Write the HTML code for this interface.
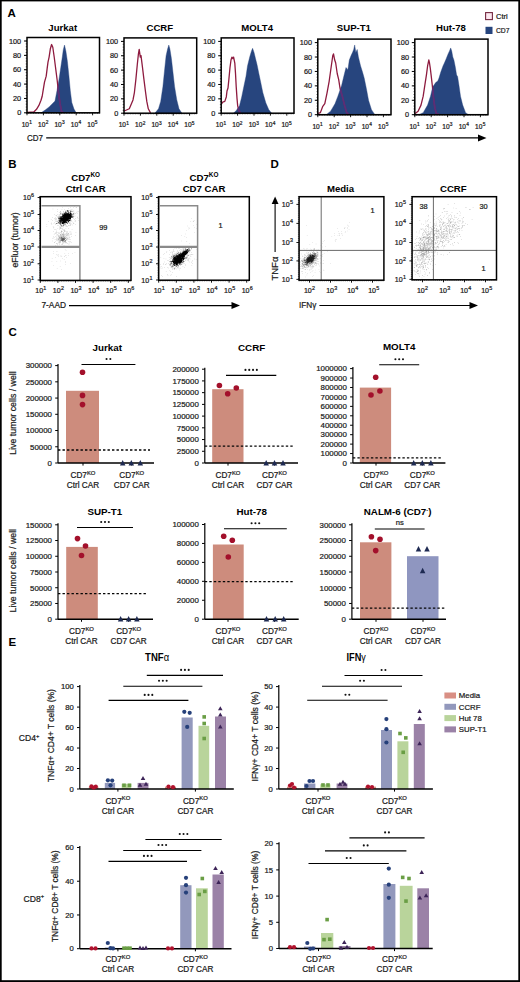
<!DOCTYPE html>
<html><head><meta charset="utf-8"><title>Figure</title>
<style>html,body{margin:0;padding:0;background:#fff;overflow:hidden;}svg{display:block;}text{font-family:"Liberation Sans",sans-serif;stroke:currentColor;} text:not([font-weight]){stroke:#1a1a1a;stroke-width:0.22px;} text[font-weight]{stroke:none;}</style>
</head><body><svg width="520" height="982" viewBox="0 0 520 982" font-family="Liberation Sans, sans-serif"><rect x="0" y="0" width="520" height="1.4" fill="#000"/>
<rect x="0" y="0" width="1.7" height="982" fill="#000"/>
<rect x="518.3" y="0" width="1.7" height="982" fill="#000"/>
<rect x="0" y="980.2" width="520" height="1.8" fill="#000"/>
<text x="7.6" y="17" font-size="11.5" text-anchor="start" font-weight="bold" fill="#000" >A</text>
<clipPath id="nv0"><path d="M41.1,112.8L45.5,109.79L49.1,106.88L52.8,103.26L55,101.05L56.4,93.72L58.6,81.98L60.8,67.32L62.3,56.98L63.3,49.65L64.5,45.03L65.9,51.15L67.4,61.39L68.8,74.65L70.3,90.71L71.8,102.46L74,109.09L76.2,112.8Z"/></clipPath>
<path d="M41.1,112.8L45.5,109.79L49.1,106.88L52.8,103.26L55,101.05L56.4,93.72L58.6,81.98L60.8,67.32L62.3,56.98L63.3,49.65L64.5,45.03L65.9,51.15L67.4,61.39L68.8,74.65L70.3,90.71L71.8,102.46L74,109.09L76.2,112.8Z" fill="#27457e" stroke="#27457e" stroke-width="0.4"/>
<path d="M27.2,112.5L33.8,112L36.5,109.29L38.9,105.47L41,100.25L42.2,96.23L43.5,88.2L44.5,82.18L46.2,76.15L47.2,68.12L48,62.1L49.1,57.08L50.3,49.04L51.6,44.53L52.8,47.24L54.2,56.98L55.7,68.72L57.2,80.47L58.6,93.72L60.1,103.96L61.5,111.29L63,112.5" fill="none" stroke="#8e1b3f" stroke-width="1.3" stroke-linejoin="round"/>
<path d="M27.2,112.5L33.8,112L36.5,109.29L38.9,105.47L41,100.25L42.2,96.23L43.5,88.2L44.5,82.18L46.2,76.15L47.2,68.12L48,62.1L49.1,57.08L50.3,49.04L51.6,44.53L52.8,47.24L54.2,56.98L55.7,68.72L57.2,80.47L58.6,93.72L60.1,103.96L61.5,111.29L63,112.5" fill="none" stroke="#5a2f78" stroke-width="1.8" stroke-linejoin="round" clip-path="url(#nv0)"/>
<rect x="27" y="37.5" width="72.5" height="75.3" fill="none" stroke="#000" stroke-width="1.5"/>
<text x="62.75" y="31.3" font-size="9.6" text-anchor="middle" font-weight="bold" fill="#000" >Jurkat</text>
<text x="21.2" y="43.6" font-size="7.3" text-anchor="end" fill="#1a1a1a" >100</text>
<text x="21.2" y="57.96" font-size="7.3" text-anchor="end" fill="#1a1a1a" >80</text>
<text x="21.2" y="72.32" font-size="7.3" text-anchor="end" fill="#1a1a1a" >60</text>
<text x="21.2" y="86.68" font-size="7.3" text-anchor="end" fill="#1a1a1a" >40</text>
<text x="21.2" y="101.04" font-size="7.3" text-anchor="end" fill="#1a1a1a" >20</text>
<text x="21.2" y="115.4" font-size="7.3" text-anchor="end" fill="#1a1a1a" >0</text>
<path d="M24 41L27 41M24 55.36L27 55.36M24 69.72L27 69.72M24 84.08L27 84.08M24 98.44L27 98.44M24 112.8L27 112.8" stroke="#000" stroke-width="1" fill="none"/>
<path d="M25.7 41L27 41M25.7 43.87L27 43.87M25.7 46.74L27 46.74M25.7 49.62L27 49.62M25.7 52.49L27 52.49M25.7 55.36L27 55.36M25.7 58.23L27 58.23M25.7 61.1L27 61.1M25.7 63.98L27 63.98M25.7 66.85L27 66.85M25.7 69.72L27 69.72M25.7 72.59L27 72.59M25.7 75.46L27 75.46M25.7 78.34L27 78.34M25.7 81.21L27 81.21M25.7 84.08L27 84.08M25.7 86.95L27 86.95M25.7 89.82L27 89.82M25.7 92.7L27 92.7M25.7 95.57L27 95.57M25.7 98.44L27 98.44M25.7 101.31L27 101.31M25.7 104.18L27 104.18M25.7 107.06L27 107.06M25.7 109.93L27 109.93M25.7 112.8L27 112.8" stroke="#000" stroke-width="0.6" fill="none"/>
<text x="26.8" y="127" font-size="6.6" text-anchor="middle" fill="#1a1a1a" >10<tspan font-size="4.8" dx="0.25" dy="-2.77">1</tspan></text>
<text x="43.2" y="127" font-size="6.6" text-anchor="middle" fill="#1a1a1a" >10<tspan font-size="4.8" dx="0.25" dy="-2.77">2</tspan></text>
<text x="59.6" y="127" font-size="6.6" text-anchor="middle" fill="#1a1a1a" >10<tspan font-size="4.8" dx="0.25" dy="-2.77">3</tspan></text>
<text x="76" y="127" font-size="6.6" text-anchor="middle" fill="#1a1a1a" >10<tspan font-size="4.8" dx="0.25" dy="-2.77">4</tspan></text>
<text x="92.4" y="127" font-size="6.6" text-anchor="middle" fill="#1a1a1a" >10<tspan font-size="4.8" dx="0.25" dy="-2.77">5</tspan></text>
<path d="M27 112.8L27 115.3M43.4 112.8L43.4 115.3M59.8 112.8L59.8 115.3M76.2 112.8L76.2 115.3M92.6 112.8L92.6 115.3" stroke="#000" stroke-width="0.9" fill="none"/>
<path d="M27 112.8L27 114M28.64 112.8L28.64 114M30.28 112.8L30.28 114M31.92 112.8L31.92 114M33.56 112.8L33.56 114M35.2 112.8L35.2 114M36.84 112.8L36.84 114M38.48 112.8L38.48 114M40.12 112.8L40.12 114M41.76 112.8L41.76 114M43.4 112.8L43.4 114M45.04 112.8L45.04 114M46.68 112.8L46.68 114M48.32 112.8L48.32 114M49.96 112.8L49.96 114M51.6 112.8L51.6 114M53.24 112.8L53.24 114M54.88 112.8L54.88 114M56.52 112.8L56.52 114M58.16 112.8L58.16 114M59.8 112.8L59.8 114M61.44 112.8L61.44 114M63.08 112.8L63.08 114M64.72 112.8L64.72 114M66.36 112.8L66.36 114M68 112.8L68 114M69.64 112.8L69.64 114M71.28 112.8L71.28 114M72.92 112.8L72.92 114M74.56 112.8L74.56 114M76.2 112.8L76.2 114M77.84 112.8L77.84 114M79.48 112.8L79.48 114M81.12 112.8L81.12 114M82.76 112.8L82.76 114M84.4 112.8L84.4 114M86.04 112.8L86.04 114M87.68 112.8L87.68 114M89.32 112.8L89.32 114M90.96 112.8L90.96 114M92.6 112.8L92.6 114M94.24 112.8L94.24 114M95.88 112.8L95.88 114M97.52 112.8L97.52 114M99.16 112.8L99.16 114" stroke="#000" stroke-width="0.5" fill="none"/>
<clipPath id="nv1"><path d="M154.9,113.2L158.5,108.76L160.7,101.39L162.9,86.65L164.7,68.89L166.1,55.66L167.6,49L168.8,45.07L169.9,49L171.4,58.59L172.9,71.81L174.6,86.65L176.8,99.88L179,108.76L181.9,113.2Z"/></clipPath>
<path d="M154.9,113.2L158.5,108.76L160.7,101.39L162.9,86.65L164.7,68.89L166.1,55.66L167.6,49L168.8,45.07L169.9,49L171.4,58.59L172.9,71.81L174.6,86.65L176.8,99.88L179,108.76L181.9,113.2Z" fill="#27457e" stroke="#27457e" stroke-width="0.4"/>
<path d="M124.2,110.98L129.3,108.76L133,99.88L134.4,92.51L135.9,79.18L137.3,64.45L138.4,54.15L139.2,49.41L140.3,57.08L141,55.66L142.5,67.47L143.9,79.18L145.4,90.99L146.8,101.39L148.3,108.76L150.5,112.9" fill="none" stroke="#8e1b3f" stroke-width="1.3" stroke-linejoin="round"/>
<path d="M124.2,110.98L129.3,108.76L133,99.88L134.4,92.51L135.9,79.18L137.3,64.45L138.4,54.15L139.2,49.41L140.3,57.08L141,55.66L142.5,67.47L143.9,79.18L145.4,90.99L146.8,101.39L148.3,108.76L150.5,112.9" fill="none" stroke="#5a2f78" stroke-width="1.8" stroke-linejoin="round" clip-path="url(#nv1)"/>
<rect x="124" y="37.9" width="72.7" height="75.3" fill="none" stroke="#000" stroke-width="1.5"/>
<text x="159.85" y="31.3" font-size="9.6" text-anchor="middle" font-weight="bold" fill="#000" >CCRF</text>
<text x="118.2" y="44" font-size="7.3" text-anchor="end" fill="#1a1a1a" >100</text>
<text x="118.2" y="58.36" font-size="7.3" text-anchor="end" fill="#1a1a1a" >80</text>
<text x="118.2" y="72.72" font-size="7.3" text-anchor="end" fill="#1a1a1a" >60</text>
<text x="118.2" y="87.08" font-size="7.3" text-anchor="end" fill="#1a1a1a" >40</text>
<text x="118.2" y="101.44" font-size="7.3" text-anchor="end" fill="#1a1a1a" >20</text>
<text x="118.2" y="115.8" font-size="7.3" text-anchor="end" fill="#1a1a1a" >0</text>
<path d="M121 41.4L124 41.4M121 55.76L124 55.76M121 70.12L124 70.12M121 84.48L124 84.48M121 98.84L124 98.84M121 113.2L124 113.2" stroke="#000" stroke-width="1" fill="none"/>
<path d="M122.7 41.4L124 41.4M122.7 44.27L124 44.27M122.7 47.14L124 47.14M122.7 50.02L124 50.02M122.7 52.89L124 52.89M122.7 55.76L124 55.76M122.7 58.63L124 58.63M122.7 61.5L124 61.5M122.7 64.38L124 64.38M122.7 67.25L124 67.25M122.7 70.12L124 70.12M122.7 72.99L124 72.99M122.7 75.86L124 75.86M122.7 78.74L124 78.74M122.7 81.61L124 81.61M122.7 84.48L124 84.48M122.7 87.35L124 87.35M122.7 90.22L124 90.22M122.7 93.1L124 93.1M122.7 95.97L124 95.97M122.7 98.84L124 98.84M122.7 101.71L124 101.71M122.7 104.58L124 104.58M122.7 107.46L124 107.46M122.7 110.33L124 110.33M122.7 113.2L124 113.2" stroke="#000" stroke-width="0.6" fill="none"/>
<text x="123.8" y="127.4" font-size="6.6" text-anchor="middle" fill="#1a1a1a" >10<tspan font-size="4.8" dx="0.25" dy="-2.77">1</tspan></text>
<text x="140.2" y="127.4" font-size="6.6" text-anchor="middle" fill="#1a1a1a" >10<tspan font-size="4.8" dx="0.25" dy="-2.77">2</tspan></text>
<text x="156.6" y="127.4" font-size="6.6" text-anchor="middle" fill="#1a1a1a" >10<tspan font-size="4.8" dx="0.25" dy="-2.77">3</tspan></text>
<text x="173" y="127.4" font-size="6.6" text-anchor="middle" fill="#1a1a1a" >10<tspan font-size="4.8" dx="0.25" dy="-2.77">4</tspan></text>
<text x="189.4" y="127.4" font-size="6.6" text-anchor="middle" fill="#1a1a1a" >10<tspan font-size="4.8" dx="0.25" dy="-2.77">5</tspan></text>
<path d="M124 113.2L124 115.7M140.4 113.2L140.4 115.7M156.8 113.2L156.8 115.7M173.2 113.2L173.2 115.7M189.6 113.2L189.6 115.7" stroke="#000" stroke-width="0.9" fill="none"/>
<path d="M124 113.2L124 114.4M125.64 113.2L125.64 114.4M127.28 113.2L127.28 114.4M128.92 113.2L128.92 114.4M130.56 113.2L130.56 114.4M132.2 113.2L132.2 114.4M133.84 113.2L133.84 114.4M135.48 113.2L135.48 114.4M137.12 113.2L137.12 114.4M138.76 113.2L138.76 114.4M140.4 113.2L140.4 114.4M142.04 113.2L142.04 114.4M143.68 113.2L143.68 114.4M145.32 113.2L145.32 114.4M146.96 113.2L146.96 114.4M148.6 113.2L148.6 114.4M150.24 113.2L150.24 114.4M151.88 113.2L151.88 114.4M153.52 113.2L153.52 114.4M155.16 113.2L155.16 114.4M156.8 113.2L156.8 114.4M158.44 113.2L158.44 114.4M160.08 113.2L160.08 114.4M161.72 113.2L161.72 114.4M163.36 113.2L163.36 114.4M165 113.2L165 114.4M166.64 113.2L166.64 114.4M168.28 113.2L168.28 114.4M169.92 113.2L169.92 114.4M171.56 113.2L171.56 114.4M173.2 113.2L173.2 114.4M174.84 113.2L174.84 114.4M176.48 113.2L176.48 114.4M178.12 113.2L178.12 114.4M179.76 113.2L179.76 114.4M181.4 113.2L181.4 114.4M183.04 113.2L183.04 114.4M184.68 113.2L184.68 114.4M186.32 113.2L186.32 114.4M187.96 113.2L187.96 114.4M189.6 113.2L189.6 114.4M191.24 113.2L191.24 114.4M192.88 113.2L192.88 114.4M194.52 113.2L194.52 114.4M196.16 113.2L196.16 114.4" stroke="#000" stroke-width="0.5" fill="none"/>
<clipPath id="nv2"><path d="M233.6,113.2L236.5,110.17L239.5,105.83L241.7,96.95L243.8,86.65L246,76.26L247.5,65.96L249.7,57.08L251.4,51.22L252.6,48.3L254.1,52.64L255.5,58.59L257,64.45L258.8,73.33L260.7,82.21L262.8,92.51L265.8,102.8L268.7,109.47L271.6,113.2Z"/></clipPath>
<path d="M233.6,113.2L236.5,110.17L239.5,105.83L241.7,96.95L243.8,86.65L246,76.26L247.5,65.96L249.7,57.08L251.4,51.22L252.6,48.3L254.1,52.64L255.5,58.59L257,64.45L258.8,73.33L260.7,82.21L262.8,92.51L265.8,102.8L268.7,109.47L271.6,113.2Z" fill="#27457e" stroke="#27457e" stroke-width="0.4"/>
<path d="M221.2,104.32L222.7,102.1L224.8,101.39L226.3,96.95L227,90.99L228,88.07L228.9,79.18L230,67.47L231,60L231.9,57.08L232.9,58.59L233.6,57.08L234.8,63.03L235.5,73.33L236.2,86.65L237,98.36L237.7,105.83L238.7,110.17L240.2,112.9" fill="none" stroke="#8e1b3f" stroke-width="1.3" stroke-linejoin="round"/>
<path d="M221.2,104.32L222.7,102.1L224.8,101.39L226.3,96.95L227,90.99L228,88.07L228.9,79.18L230,67.47L231,60L231.9,57.08L232.9,58.59L233.6,57.08L234.8,63.03L235.5,73.33L236.2,86.65L237,98.36L237.7,105.83L238.7,110.17L240.2,112.9" fill="none" stroke="#5a2f78" stroke-width="1.8" stroke-linejoin="round" clip-path="url(#nv2)"/>
<rect x="221.2" y="37.9" width="72.8" height="75.3" fill="none" stroke="#000" stroke-width="1.5"/>
<text x="257.1" y="31.3" font-size="9.6" text-anchor="middle" font-weight="bold" fill="#000" >MOLT4</text>
<text x="215.4" y="44" font-size="7.3" text-anchor="end" fill="#1a1a1a" >100</text>
<text x="215.4" y="58.36" font-size="7.3" text-anchor="end" fill="#1a1a1a" >80</text>
<text x="215.4" y="72.72" font-size="7.3" text-anchor="end" fill="#1a1a1a" >60</text>
<text x="215.4" y="87.08" font-size="7.3" text-anchor="end" fill="#1a1a1a" >40</text>
<text x="215.4" y="101.44" font-size="7.3" text-anchor="end" fill="#1a1a1a" >20</text>
<text x="215.4" y="115.8" font-size="7.3" text-anchor="end" fill="#1a1a1a" >0</text>
<path d="M218.2 41.4L221.2 41.4M218.2 55.76L221.2 55.76M218.2 70.12L221.2 70.12M218.2 84.48L221.2 84.48M218.2 98.84L221.2 98.84M218.2 113.2L221.2 113.2" stroke="#000" stroke-width="1" fill="none"/>
<path d="M219.9 41.4L221.2 41.4M219.9 44.27L221.2 44.27M219.9 47.14L221.2 47.14M219.9 50.02L221.2 50.02M219.9 52.89L221.2 52.89M219.9 55.76L221.2 55.76M219.9 58.63L221.2 58.63M219.9 61.5L221.2 61.5M219.9 64.38L221.2 64.38M219.9 67.25L221.2 67.25M219.9 70.12L221.2 70.12M219.9 72.99L221.2 72.99M219.9 75.86L221.2 75.86M219.9 78.74L221.2 78.74M219.9 81.61L221.2 81.61M219.9 84.48L221.2 84.48M219.9 87.35L221.2 87.35M219.9 90.22L221.2 90.22M219.9 93.1L221.2 93.1M219.9 95.97L221.2 95.97M219.9 98.84L221.2 98.84M219.9 101.71L221.2 101.71M219.9 104.58L221.2 104.58M219.9 107.46L221.2 107.46M219.9 110.33L221.2 110.33M219.9 113.2L221.2 113.2" stroke="#000" stroke-width="0.6" fill="none"/>
<text x="221" y="127.4" font-size="6.6" text-anchor="middle" fill="#1a1a1a" >10<tspan font-size="4.8" dx="0.25" dy="-2.77">1</tspan></text>
<text x="237.4" y="127.4" font-size="6.6" text-anchor="middle" fill="#1a1a1a" >10<tspan font-size="4.8" dx="0.25" dy="-2.77">2</tspan></text>
<text x="253.8" y="127.4" font-size="6.6" text-anchor="middle" fill="#1a1a1a" >10<tspan font-size="4.8" dx="0.25" dy="-2.77">3</tspan></text>
<text x="270.2" y="127.4" font-size="6.6" text-anchor="middle" fill="#1a1a1a" >10<tspan font-size="4.8" dx="0.25" dy="-2.77">4</tspan></text>
<text x="286.6" y="127.4" font-size="6.6" text-anchor="middle" fill="#1a1a1a" >10<tspan font-size="4.8" dx="0.25" dy="-2.77">5</tspan></text>
<path d="M221.2 113.2L221.2 115.7M237.6 113.2L237.6 115.7M254 113.2L254 115.7M270.4 113.2L270.4 115.7M286.8 113.2L286.8 115.7" stroke="#000" stroke-width="0.9" fill="none"/>
<path d="M221.2 113.2L221.2 114.4M222.84 113.2L222.84 114.4M224.48 113.2L224.48 114.4M226.12 113.2L226.12 114.4M227.76 113.2L227.76 114.4M229.4 113.2L229.4 114.4M231.04 113.2L231.04 114.4M232.68 113.2L232.68 114.4M234.32 113.2L234.32 114.4M235.96 113.2L235.96 114.4M237.6 113.2L237.6 114.4M239.24 113.2L239.24 114.4M240.88 113.2L240.88 114.4M242.52 113.2L242.52 114.4M244.16 113.2L244.16 114.4M245.8 113.2L245.8 114.4M247.44 113.2L247.44 114.4M249.08 113.2L249.08 114.4M250.72 113.2L250.72 114.4M252.36 113.2L252.36 114.4M254 113.2L254 114.4M255.64 113.2L255.64 114.4M257.28 113.2L257.28 114.4M258.92 113.2L258.92 114.4M260.56 113.2L260.56 114.4M262.2 113.2L262.2 114.4M263.84 113.2L263.84 114.4M265.48 113.2L265.48 114.4M267.12 113.2L267.12 114.4M268.76 113.2L268.76 114.4M270.4 113.2L270.4 114.4M272.04 113.2L272.04 114.4M273.68 113.2L273.68 114.4M275.32 113.2L275.32 114.4M276.96 113.2L276.96 114.4M278.6 113.2L278.6 114.4M280.24 113.2L280.24 114.4M281.88 113.2L281.88 114.4M283.52 113.2L283.52 114.4M285.16 113.2L285.16 114.4M286.8 113.2L286.8 114.4M288.44 113.2L288.44 114.4M290.08 113.2L290.08 114.4M291.72 113.2L291.72 114.4M293.36 113.2L293.36 114.4" stroke="#000" stroke-width="0.5" fill="none"/>
<clipPath id="nv3"><path d="M326.2,114.7L330.6,111.2L335,103.68L337.9,96.16L341.6,85.55L344.5,73.5L346,67.53L347.9,69.8L349.3,60.01L351.1,55.48L352.5,52.49L353.7,49.51L354.7,44.98L355.8,52.49L357.2,49.51L358.4,57.03L360.6,65.99L362.5,72.06L364.2,78.04L366.4,88.64L368.6,100.59L371.5,109.65L374.5,114.19L375.9,114.7Z"/></clipPath>
<path d="M326.2,114.7L330.6,111.2L335,103.68L337.9,96.16L341.6,85.55L344.5,73.5L346,67.53L347.9,69.8L349.3,60.01L351.1,55.48L352.5,52.49L353.7,49.51L354.7,44.98L355.8,52.49L357.2,49.51L358.4,57.03L360.6,65.99L362.5,72.06L364.2,78.04L366.4,88.64L368.6,100.59L371.5,109.65L374.5,114.19L375.9,114.7Z" fill="#27457e" stroke="#27457e" stroke-width="0.4"/>
<path d="M318.2,113.46L320.4,112.64L322.6,106.67L324.8,103.68L327,93.07L329.2,81.02L331.3,65.99L332.8,55.48L333.5,53.94L334.7,60.01L335.7,63L337.2,73.5L338.7,79.58L340.1,88.64L342.3,96.16L344.5,105.12L346.7,112.64L348.9,114.4" fill="none" stroke="#8e1b3f" stroke-width="1.3" stroke-linejoin="round"/>
<path d="M318.2,113.46L320.4,112.64L322.6,106.67L324.8,103.68L327,93.07L329.2,81.02L331.3,65.99L332.8,55.48L333.5,53.94L334.7,60.01L335.7,63L337.2,73.5L338.7,79.58L340.1,88.64L342.3,96.16L344.5,105.12L346.7,112.64L348.9,114.4" fill="none" stroke="#5a2f78" stroke-width="1.8" stroke-linejoin="round" clip-path="url(#nv3)"/>
<rect x="317.8" y="39.1" width="73.2" height="75.6" fill="none" stroke="#000" stroke-width="1.5"/>
<text x="353.9" y="31.3" font-size="9.6" text-anchor="middle" font-weight="bold" fill="#000" >SUP-T1</text>
<text x="312" y="45.2" font-size="7.3" text-anchor="end" fill="#1a1a1a" >100</text>
<text x="312" y="59.62" font-size="7.3" text-anchor="end" fill="#1a1a1a" >80</text>
<text x="312" y="74.04" font-size="7.3" text-anchor="end" fill="#1a1a1a" >60</text>
<text x="312" y="88.46" font-size="7.3" text-anchor="end" fill="#1a1a1a" >40</text>
<text x="312" y="102.88" font-size="7.3" text-anchor="end" fill="#1a1a1a" >20</text>
<text x="312" y="117.3" font-size="7.3" text-anchor="end" fill="#1a1a1a" >0</text>
<path d="M314.8 42.6L317.8 42.6M314.8 57.02L317.8 57.02M314.8 71.44L317.8 71.44M314.8 85.86L317.8 85.86M314.8 100.28L317.8 100.28M314.8 114.7L317.8 114.7" stroke="#000" stroke-width="1" fill="none"/>
<path d="M316.5 42.6L317.8 42.6M316.5 45.48L317.8 45.48M316.5 48.37L317.8 48.37M316.5 51.25L317.8 51.25M316.5 54.14L317.8 54.14M316.5 57.02L317.8 57.02M316.5 59.9L317.8 59.9M316.5 62.79L317.8 62.79M316.5 65.67L317.8 65.67M316.5 68.56L317.8 68.56M316.5 71.44L317.8 71.44M316.5 74.32L317.8 74.32M316.5 77.21L317.8 77.21M316.5 80.09L317.8 80.09M316.5 82.98L317.8 82.98M316.5 85.86L317.8 85.86M316.5 88.74L317.8 88.74M316.5 91.63L317.8 91.63M316.5 94.51L317.8 94.51M316.5 97.4L317.8 97.4M316.5 100.28L317.8 100.28M316.5 103.16L317.8 103.16M316.5 106.05L317.8 106.05M316.5 108.93L317.8 108.93M316.5 111.82L317.8 111.82M316.5 114.7L317.8 114.7" stroke="#000" stroke-width="0.6" fill="none"/>
<text x="317.6" y="128.9" font-size="6.6" text-anchor="middle" fill="#1a1a1a" >10<tspan font-size="4.8" dx="0.25" dy="-2.77">1</tspan></text>
<text x="334" y="128.9" font-size="6.6" text-anchor="middle" fill="#1a1a1a" >10<tspan font-size="4.8" dx="0.25" dy="-2.77">2</tspan></text>
<text x="350.4" y="128.9" font-size="6.6" text-anchor="middle" fill="#1a1a1a" >10<tspan font-size="4.8" dx="0.25" dy="-2.77">3</tspan></text>
<text x="366.8" y="128.9" font-size="6.6" text-anchor="middle" fill="#1a1a1a" >10<tspan font-size="4.8" dx="0.25" dy="-2.77">4</tspan></text>
<text x="383.2" y="128.9" font-size="6.6" text-anchor="middle" fill="#1a1a1a" >10<tspan font-size="4.8" dx="0.25" dy="-2.77">5</tspan></text>
<path d="M317.8 114.7L317.8 117.2M334.2 114.7L334.2 117.2M350.6 114.7L350.6 117.2M367 114.7L367 117.2M383.4 114.7L383.4 117.2" stroke="#000" stroke-width="0.9" fill="none"/>
<path d="M317.8 114.7L317.8 115.9M319.44 114.7L319.44 115.9M321.08 114.7L321.08 115.9M322.72 114.7L322.72 115.9M324.36 114.7L324.36 115.9M326 114.7L326 115.9M327.64 114.7L327.64 115.9M329.28 114.7L329.28 115.9M330.92 114.7L330.92 115.9M332.56 114.7L332.56 115.9M334.2 114.7L334.2 115.9M335.84 114.7L335.84 115.9M337.48 114.7L337.48 115.9M339.12 114.7L339.12 115.9M340.76 114.7L340.76 115.9M342.4 114.7L342.4 115.9M344.04 114.7L344.04 115.9M345.68 114.7L345.68 115.9M347.32 114.7L347.32 115.9M348.96 114.7L348.96 115.9M350.6 114.7L350.6 115.9M352.24 114.7L352.24 115.9M353.88 114.7L353.88 115.9M355.52 114.7L355.52 115.9M357.16 114.7L357.16 115.9M358.8 114.7L358.8 115.9M360.44 114.7L360.44 115.9M362.08 114.7L362.08 115.9M363.72 114.7L363.72 115.9M365.36 114.7L365.36 115.9M367 114.7L367 115.9M368.64 114.7L368.64 115.9M370.28 114.7L370.28 115.9M371.92 114.7L371.92 115.9M373.56 114.7L373.56 115.9M375.2 114.7L375.2 115.9M376.84 114.7L376.84 115.9M378.48 114.7L378.48 115.9M380.12 114.7L380.12 115.9M381.76 114.7L381.76 115.9M383.4 114.7L383.4 115.9M385.04 114.7L385.04 115.9M386.68 114.7L386.68 115.9M388.32 114.7L388.32 115.9M389.96 114.7L389.96 115.9" stroke="#000" stroke-width="0.5" fill="none"/>
<clipPath id="nv4"><path d="M418.8,114.7L423.2,112.64L427.6,105.12L430.5,96.16L432.7,87.1L435.7,82.57L437.8,81.02L439,78.04L440.8,72.06L443,65.99L444.4,63L446.3,58.47L448.1,53.94L449.5,50.95L450.7,47.96L451.7,50.95L452.8,57.03L453.9,60.01L455.4,67.53L456.6,75.05L457.6,76.59L459,85.55L460.5,96.16L462.7,105.12L465.6,112.64L468.5,114.7Z"/></clipPath>
<path d="M418.8,114.7L423.2,112.64L427.6,105.12L430.5,96.16L432.7,87.1L435.7,82.57L437.8,81.02L439,78.04L440.8,72.06L443,65.99L444.4,63L446.3,58.47L448.1,53.94L449.5,50.95L450.7,47.96L451.7,50.95L452.8,57.03L453.9,60.01L455.4,67.53L456.6,75.05L457.6,76.59L459,85.55L460.5,96.16L462.7,105.12L465.6,112.64L468.5,114.7Z" fill="#27457e" stroke="#27457e" stroke-width="0.4"/>
<path d="M415.2,113.46L418.1,111.2L421,105.12L423.2,96.16L425,84.11L426.4,75.05L427.6,65.99L428.8,60.01L429.5,63L430.2,67.53L431.3,76.59L432.3,85.55L433.5,97.6L434.9,108.21L436.4,113.46L438.6,114.4" fill="none" stroke="#8e1b3f" stroke-width="1.3" stroke-linejoin="round"/>
<path d="M415.2,113.46L418.1,111.2L421,105.12L423.2,96.16L425,84.11L426.4,75.05L427.6,65.99L428.8,60.01L429.5,63L430.2,67.53L431.3,76.59L432.3,85.55L433.5,97.6L434.9,108.21L436.4,113.46L438.6,114.4" fill="none" stroke="#5a2f78" stroke-width="1.8" stroke-linejoin="round" clip-path="url(#nv4)"/>
<rect x="414.8" y="39.1" width="73.2" height="75.6" fill="none" stroke="#000" stroke-width="1.5"/>
<text x="450.9" y="31.3" font-size="9.6" text-anchor="middle" font-weight="bold" fill="#000" >Hut-78</text>
<text x="409" y="45.2" font-size="7.3" text-anchor="end" fill="#1a1a1a" >100</text>
<text x="409" y="59.62" font-size="7.3" text-anchor="end" fill="#1a1a1a" >80</text>
<text x="409" y="74.04" font-size="7.3" text-anchor="end" fill="#1a1a1a" >60</text>
<text x="409" y="88.46" font-size="7.3" text-anchor="end" fill="#1a1a1a" >40</text>
<text x="409" y="102.88" font-size="7.3" text-anchor="end" fill="#1a1a1a" >20</text>
<text x="409" y="117.3" font-size="7.3" text-anchor="end" fill="#1a1a1a" >0</text>
<path d="M411.8 42.6L414.8 42.6M411.8 57.02L414.8 57.02M411.8 71.44L414.8 71.44M411.8 85.86L414.8 85.86M411.8 100.28L414.8 100.28M411.8 114.7L414.8 114.7" stroke="#000" stroke-width="1" fill="none"/>
<path d="M413.5 42.6L414.8 42.6M413.5 45.48L414.8 45.48M413.5 48.37L414.8 48.37M413.5 51.25L414.8 51.25M413.5 54.14L414.8 54.14M413.5 57.02L414.8 57.02M413.5 59.9L414.8 59.9M413.5 62.79L414.8 62.79M413.5 65.67L414.8 65.67M413.5 68.56L414.8 68.56M413.5 71.44L414.8 71.44M413.5 74.32L414.8 74.32M413.5 77.21L414.8 77.21M413.5 80.09L414.8 80.09M413.5 82.98L414.8 82.98M413.5 85.86L414.8 85.86M413.5 88.74L414.8 88.74M413.5 91.63L414.8 91.63M413.5 94.51L414.8 94.51M413.5 97.4L414.8 97.4M413.5 100.28L414.8 100.28M413.5 103.16L414.8 103.16M413.5 106.05L414.8 106.05M413.5 108.93L414.8 108.93M413.5 111.82L414.8 111.82M413.5 114.7L414.8 114.7" stroke="#000" stroke-width="0.6" fill="none"/>
<text x="414.6" y="128.9" font-size="6.6" text-anchor="middle" fill="#1a1a1a" >10<tspan font-size="4.8" dx="0.25" dy="-2.77">1</tspan></text>
<text x="431" y="128.9" font-size="6.6" text-anchor="middle" fill="#1a1a1a" >10<tspan font-size="4.8" dx="0.25" dy="-2.77">2</tspan></text>
<text x="447.4" y="128.9" font-size="6.6" text-anchor="middle" fill="#1a1a1a" >10<tspan font-size="4.8" dx="0.25" dy="-2.77">3</tspan></text>
<text x="463.8" y="128.9" font-size="6.6" text-anchor="middle" fill="#1a1a1a" >10<tspan font-size="4.8" dx="0.25" dy="-2.77">4</tspan></text>
<text x="480.2" y="128.9" font-size="6.6" text-anchor="middle" fill="#1a1a1a" >10<tspan font-size="4.8" dx="0.25" dy="-2.77">5</tspan></text>
<path d="M414.8 114.7L414.8 117.2M431.2 114.7L431.2 117.2M447.6 114.7L447.6 117.2M464 114.7L464 117.2M480.4 114.7L480.4 117.2" stroke="#000" stroke-width="0.9" fill="none"/>
<path d="M414.8 114.7L414.8 115.9M416.44 114.7L416.44 115.9M418.08 114.7L418.08 115.9M419.72 114.7L419.72 115.9M421.36 114.7L421.36 115.9M423 114.7L423 115.9M424.64 114.7L424.64 115.9M426.28 114.7L426.28 115.9M427.92 114.7L427.92 115.9M429.56 114.7L429.56 115.9M431.2 114.7L431.2 115.9M432.84 114.7L432.84 115.9M434.48 114.7L434.48 115.9M436.12 114.7L436.12 115.9M437.76 114.7L437.76 115.9M439.4 114.7L439.4 115.9M441.04 114.7L441.04 115.9M442.68 114.7L442.68 115.9M444.32 114.7L444.32 115.9M445.96 114.7L445.96 115.9M447.6 114.7L447.6 115.9M449.24 114.7L449.24 115.9M450.88 114.7L450.88 115.9M452.52 114.7L452.52 115.9M454.16 114.7L454.16 115.9M455.8 114.7L455.8 115.9M457.44 114.7L457.44 115.9M459.08 114.7L459.08 115.9M460.72 114.7L460.72 115.9M462.36 114.7L462.36 115.9M464 114.7L464 115.9M465.64 114.7L465.64 115.9M467.28 114.7L467.28 115.9M468.92 114.7L468.92 115.9M470.56 114.7L470.56 115.9M472.2 114.7L472.2 115.9M473.84 114.7L473.84 115.9M475.48 114.7L475.48 115.9M477.12 114.7L477.12 115.9M478.76 114.7L478.76 115.9M480.4 114.7L480.4 115.9M482.04 114.7L482.04 115.9M483.68 114.7L483.68 115.9M485.32 114.7L485.32 115.9M486.96 114.7L486.96 115.9" stroke="#000" stroke-width="0.5" fill="none"/>
<rect x="485.6" y="12.6" width="6.8" height="7" fill="#fce8f0" stroke="#74283f" stroke-width="1.1"/>
<rect x="485.5" y="26.8" width="7" height="7.2" fill="#27457e"/>
<text x="496" y="19" font-size="7.4" text-anchor="start" fill="#1a1a1a" textLength="11.6" lengthAdjust="spacingAndGlyphs" >Ctrl</text>
<text x="495.9" y="33" font-size="7.4" text-anchor="start" fill="#1a1a1a" textLength="13.6" lengthAdjust="spacingAndGlyphs" >CD7</text>
<text x="26.9" y="140.6" font-size="8.8" text-anchor="start" fill="#1a1a1a" textLength="16" lengthAdjust="spacingAndGlyphs" >CD7</text>
<line x1="46.2" y1="137.9" x2="480" y2="137.9" stroke="#000" stroke-width="1.1" />
<path d="M478,134.4 L486.5,137.9 L478,141.4 Z" fill="#000"/>
<text x="8.2" y="167.6" font-size="11.5" text-anchor="start" font-weight="bold" fill="#000" >B</text>
<path d="M65.3 219.0h0.6v0.6h-0.6zM64.4 217.8h0.6v0.6h-0.6zM62.9 219.2h0.6v0.6h-0.6zM68.4 216.3h0.6v0.6h-0.6zM68.0 216.2h0.6v0.6h-0.6zM66.4 217.3h0.6v0.6h-0.6zM62.3 222.1h0.6v0.6h-0.6zM67.0 217.6h0.6v0.6h-0.6zM59.4 218.5h0.6v0.6h-0.6zM62.7 218.8h0.6v0.6h-0.6zM66.0 217.2h0.6v0.6h-0.6zM65.8 215.9h0.6v0.6h-0.6zM66.5 217.8h0.6v0.6h-0.6zM65.6 221.5h0.6v0.6h-0.6zM67.9 218.5h0.6v0.6h-0.6zM63.0 217.9h0.6v0.6h-0.6zM64.4 218.3h0.6v0.6h-0.6zM67.1 217.0h0.6v0.6h-0.6zM63.2 217.3h0.6v0.6h-0.6zM65.4 220.5h0.6v0.6h-0.6zM63.7 219.6h0.6v0.6h-0.6zM64.7 214.9h0.6v0.6h-0.6zM66.9 219.6h0.6v0.6h-0.6zM60.2 221.1h0.6v0.6h-0.6zM64.1 216.8h0.6v0.6h-0.6zM66.4 216.8h0.6v0.6h-0.6zM62.8 221.7h0.6v0.6h-0.6zM67.9 217.9h0.6v0.6h-0.6zM69.1 215.7h0.6v0.6h-0.6zM64.1 215.7h0.6v0.6h-0.6zM66.1 215.8h0.6v0.6h-0.6zM62.8 216.8h0.6v0.6h-0.6zM62.4 218.8h0.6v0.6h-0.6zM66.1 212.5h0.6v0.6h-0.6zM62.1 220.8h0.6v0.6h-0.6zM69.4 216.0h0.6v0.6h-0.6zM58.0 217.7h0.6v0.6h-0.6zM65.3 216.1h0.6v0.6h-0.6zM63.7 221.3h0.6v0.6h-0.6zM68.1 216.0h0.6v0.6h-0.6zM66.4 218.0h0.6v0.6h-0.6zM69.8 215.7h0.6v0.6h-0.6zM67.1 217.6h0.6v0.6h-0.6zM63.0 222.5h0.6v0.6h-0.6zM68.1 216.8h0.6v0.6h-0.6zM59.9 220.5h0.6v0.6h-0.6zM65.3 213.7h0.6v0.6h-0.6zM66.0 219.6h0.6v0.6h-0.6zM64.0 222.5h0.6v0.6h-0.6zM66.4 216.6h0.6v0.6h-0.6zM66.8 218.1h0.6v0.6h-0.6zM66.9 219.2h0.6v0.6h-0.6zM63.3 218.4h0.6v0.6h-0.6zM67.8 215.9h0.6v0.6h-0.6zM64.3 220.8h0.6v0.6h-0.6zM68.3 214.5h0.6v0.6h-0.6zM61.9 220.2h0.6v0.6h-0.6zM64.6 217.7h0.6v0.6h-0.6zM67.5 213.7h0.6v0.6h-0.6zM66.9 213.7h0.6v0.6h-0.6zM64.1 220.1h0.6v0.6h-0.6zM68.9 216.9h0.6v0.6h-0.6zM66.3 217.4h0.6v0.6h-0.6zM66.3 218.3h0.6v0.6h-0.6zM65.2 218.5h0.6v0.6h-0.6zM66.7 216.7h0.6v0.6h-0.6zM67.7 217.2h0.6v0.6h-0.6zM70.4 214.5h0.6v0.6h-0.6zM63.9 218.1h0.6v0.6h-0.6zM66.3 219.1h0.6v0.6h-0.6zM64.9 219.0h0.6v0.6h-0.6zM66.8 210.8h0.6v0.6h-0.6zM62.9 220.2h0.6v0.6h-0.6zM66.5 217.4h0.6v0.6h-0.6zM65.0 219.5h0.6v0.6h-0.6zM65.4 216.5h0.6v0.6h-0.6zM71.4 213.8h0.6v0.6h-0.6zM63.9 218.7h0.6v0.6h-0.6zM64.7 218.1h0.6v0.6h-0.6zM58.3 222.1h0.6v0.6h-0.6zM66.4 214.3h0.6v0.6h-0.6zM66.2 219.3h0.6v0.6h-0.6zM69.0 218.3h0.6v0.6h-0.6zM60.9 220.4h0.6v0.6h-0.6zM65.2 219.3h0.6v0.6h-0.6zM64.9 212.0h0.6v0.6h-0.6zM66.3 213.7h0.6v0.6h-0.6zM65.3 214.4h0.6v0.6h-0.6zM67.0 219.2h0.6v0.6h-0.6zM65.2 218.3h0.6v0.6h-0.6zM67.3 216.5h0.6v0.6h-0.6zM66.8 220.1h0.6v0.6h-0.6zM67.5 215.4h0.6v0.6h-0.6zM70.5 211.1h0.6v0.6h-0.6zM67.2 215.7h0.6v0.6h-0.6zM66.4 218.6h0.6v0.6h-0.6zM66.5 218.3h0.6v0.6h-0.6zM60.0 218.5h0.6v0.6h-0.6zM65.7 215.3h0.6v0.6h-0.6zM61.2 217.6h0.6v0.6h-0.6zM69.1 216.5h0.6v0.6h-0.6zM67.7 213.7h0.6v0.6h-0.6zM64.0 216.2h0.6v0.6h-0.6zM68.9 218.6h0.6v0.6h-0.6zM64.9 221.7h0.6v0.6h-0.6zM67.4 215.7h0.6v0.6h-0.6zM62.2 223.4h0.6v0.6h-0.6zM64.4 217.1h0.6v0.6h-0.6zM66.7 217.6h0.6v0.6h-0.6zM67.7 213.6h0.6v0.6h-0.6zM69.6 217.8h0.6v0.6h-0.6zM68.5 214.9h0.6v0.6h-0.6zM64.7 220.6h0.6v0.6h-0.6zM65.7 217.8h0.6v0.6h-0.6zM68.4 214.8h0.6v0.6h-0.6zM59.4 221.5h0.6v0.6h-0.6zM61.8 222.4h0.6v0.6h-0.6zM65.4 216.3h0.6v0.6h-0.6zM66.2 219.0h0.6v0.6h-0.6zM67.0 219.5h0.6v0.6h-0.6zM66.3 219.4h0.6v0.6h-0.6zM70.6 217.3h0.6v0.6h-0.6zM64.7 220.3h0.6v0.6h-0.6zM59.7 219.7h0.6v0.6h-0.6zM61.8 222.9h0.6v0.6h-0.6zM62.4 220.1h0.6v0.6h-0.6zM64.8 218.1h0.6v0.6h-0.6zM64.2 219.2h0.6v0.6h-0.6zM69.6 214.6h0.6v0.6h-0.6zM67.7 218.2h0.6v0.6h-0.6zM63.4 216.4h0.6v0.6h-0.6zM65.2 220.3h0.6v0.6h-0.6zM60.7 220.0h0.6v0.6h-0.6zM68.6 217.1h0.6v0.6h-0.6zM66.2 218.9h0.6v0.6h-0.6zM64.4 215.8h0.6v0.6h-0.6zM60.9 219.8h0.6v0.6h-0.6zM66.9 215.3h0.6v0.6h-0.6zM62.3 218.4h0.6v0.6h-0.6zM61.5 220.5h0.6v0.6h-0.6zM62.9 220.5h0.6v0.6h-0.6zM60.1 222.6h0.6v0.6h-0.6zM61.6 216.2h0.6v0.6h-0.6zM66.7 216.1h0.6v0.6h-0.6zM59.1 220.7h0.6v0.6h-0.6zM65.5 216.6h0.6v0.6h-0.6zM68.0 217.4h0.6v0.6h-0.6zM67.2 217.0h0.6v0.6h-0.6zM69.2 216.3h0.6v0.6h-0.6zM64.1 214.0h0.6v0.6h-0.6zM68.9 218.0h0.6v0.6h-0.6zM64.1 217.7h0.6v0.6h-0.6zM67.9 211.7h0.6v0.6h-0.6zM69.1 220.4h0.6v0.6h-0.6zM63.9 220.5h0.6v0.6h-0.6zM69.6 214.1h0.6v0.6h-0.6zM67.6 218.0h0.6v0.6h-0.6zM63.1 219.3h0.6v0.6h-0.6zM66.9 218.4h0.6v0.6h-0.6zM65.0 217.6h0.6v0.6h-0.6zM62.5 219.2h0.6v0.6h-0.6zM67.5 216.3h0.6v0.6h-0.6zM62.4 218.2h0.6v0.6h-0.6zM72.9 214.5h0.6v0.6h-0.6zM63.9 212.9h0.6v0.6h-0.6zM67.3 217.3h0.6v0.6h-0.6zM69.8 215.3h0.6v0.6h-0.6zM65.7 218.7h0.6v0.6h-0.6zM61.8 222.9h0.6v0.6h-0.6zM65.3 216.2h0.6v0.6h-0.6zM70.4 217.9h0.6v0.6h-0.6zM61.2 219.4h0.6v0.6h-0.6zM66.2 217.5h0.6v0.6h-0.6zM63.3 217.2h0.6v0.6h-0.6zM71.5 215.4h0.6v0.6h-0.6zM61.0 218.1h0.6v0.6h-0.6zM70.4 216.1h0.6v0.6h-0.6zM70.5 215.6h0.6v0.6h-0.6zM63.5 219.8h0.6v0.6h-0.6zM59.4 220.7h0.6v0.6h-0.6zM65.7 218.7h0.6v0.6h-0.6zM63.4 219.0h0.6v0.6h-0.6zM66.8 217.5h0.6v0.6h-0.6zM67.0 216.9h0.6v0.6h-0.6zM65.4 219.5h0.6v0.6h-0.6zM64.5 216.5h0.6v0.6h-0.6zM63.8 219.0h0.6v0.6h-0.6zM65.2 218.2h0.6v0.6h-0.6zM65.5 218.1h0.6v0.6h-0.6zM63.6 216.3h0.6v0.6h-0.6zM67.5 218.5h0.6v0.6h-0.6zM66.1 216.7h0.6v0.6h-0.6zM65.3 215.6h0.6v0.6h-0.6zM60.9 221.4h0.6v0.6h-0.6zM63.9 220.6h0.6v0.6h-0.6zM59.8 216.1h0.6v0.6h-0.6zM64.6 222.0h0.6v0.6h-0.6zM62.9 216.6h0.6v0.6h-0.6zM64.1 219.9h0.6v0.6h-0.6zM66.7 217.1h0.6v0.6h-0.6zM69.6 216.1h0.6v0.6h-0.6zM65.9 218.7h0.6v0.6h-0.6zM70.3 216.1h0.6v0.6h-0.6zM66.5 214.4h0.6v0.6h-0.6zM65.8 219.1h0.6v0.6h-0.6zM65.8 219.9h0.6v0.6h-0.6zM67.7 218.0h0.6v0.6h-0.6zM67.6 221.8h0.6v0.6h-0.6zM68.0 215.2h0.6v0.6h-0.6zM68.4 221.3h0.6v0.6h-0.6zM65.5 219.7h0.6v0.6h-0.6zM67.6 216.0h0.6v0.6h-0.6zM62.7 220.2h0.6v0.6h-0.6zM67.4 218.7h0.6v0.6h-0.6zM67.2 216.4h0.6v0.6h-0.6zM67.9 217.0h0.6v0.6h-0.6zM65.8 217.5h0.6v0.6h-0.6zM65.5 219.2h0.6v0.6h-0.6zM62.1 218.9h0.6v0.6h-0.6zM63.7 215.7h0.6v0.6h-0.6zM62.0 215.8h0.6v0.6h-0.6zM64.3 219.9h0.6v0.6h-0.6zM66.6 216.7h0.6v0.6h-0.6zM63.2 216.2h0.6v0.6h-0.6zM70.2 215.2h0.6v0.6h-0.6zM66.9 214.5h0.6v0.6h-0.6zM62.8 215.6h0.6v0.6h-0.6zM68.2 217.7h0.6v0.6h-0.6zM60.8 221.2h0.6v0.6h-0.6zM64.8 214.1h0.6v0.6h-0.6zM59.8 219.7h0.6v0.6h-0.6zM62.3 217.0h0.6v0.6h-0.6zM65.7 218.1h0.6v0.6h-0.6zM67.6 217.6h0.6v0.6h-0.6zM70.1 216.7h0.6v0.6h-0.6zM61.6 219.5h0.6v0.6h-0.6zM61.6 218.2h0.6v0.6h-0.6zM65.1 218.0h0.6v0.6h-0.6zM64.7 214.6h0.6v0.6h-0.6zM62.3 220.1h0.6v0.6h-0.6zM64.5 217.7h0.6v0.6h-0.6zM64.3 216.8h0.6v0.6h-0.6zM67.4 217.0h0.6v0.6h-0.6zM64.3 217.0h0.6v0.6h-0.6zM61.9 214.3h0.6v0.6h-0.6zM63.0 219.7h0.6v0.6h-0.6zM62.0 220.9h0.6v0.6h-0.6zM64.1 215.6h0.6v0.6h-0.6zM64.4 217.8h0.6v0.6h-0.6zM67.1 217.8h0.6v0.6h-0.6zM64.3 216.7h0.6v0.6h-0.6zM64.9 218.0h0.6v0.6h-0.6zM67.4 216.9h0.6v0.6h-0.6zM62.1 217.2h0.6v0.6h-0.6zM63.6 217.4h0.6v0.6h-0.6zM62.5 219.7h0.6v0.6h-0.6zM64.3 218.9h0.6v0.6h-0.6zM66.1 216.2h0.6v0.6h-0.6zM70.4 213.1h0.6v0.6h-0.6zM68.0 215.9h0.6v0.6h-0.6zM65.3 212.4h0.6v0.6h-0.6zM63.8 219.5h0.6v0.6h-0.6zM69.3 220.0h0.6v0.6h-0.6zM67.5 219.0h0.6v0.6h-0.6zM68.2 217.7h0.6v0.6h-0.6zM66.3 216.6h0.6v0.6h-0.6zM65.3 215.3h0.6v0.6h-0.6zM67.0 214.2h0.6v0.6h-0.6zM68.2 220.3h0.6v0.6h-0.6zM64.8 218.2h0.6v0.6h-0.6zM68.1 215.7h0.6v0.6h-0.6zM63.7 219.7h0.6v0.6h-0.6zM67.5 217.7h0.6v0.6h-0.6zM65.4 221.7h0.6v0.6h-0.6zM69.3 214.7h0.6v0.6h-0.6zM65.5 216.7h0.6v0.6h-0.6zM67.9 214.2h0.6v0.6h-0.6zM66.4 215.9h0.6v0.6h-0.6zM64.5 220.1h0.6v0.6h-0.6zM68.4 215.3h0.6v0.6h-0.6zM64.6 220.2h0.6v0.6h-0.6zM65.5 218.3h0.6v0.6h-0.6zM70.2 216.6h0.6v0.6h-0.6zM66.6 222.0h0.6v0.6h-0.6zM66.2 218.9h0.6v0.6h-0.6zM63.7 218.9h0.6v0.6h-0.6zM63.1 223.6h0.6v0.6h-0.6zM67.2 213.6h0.6v0.6h-0.6zM59.9 218.3h0.6v0.6h-0.6zM67.6 215.0h0.6v0.6h-0.6zM64.8 217.5h0.6v0.6h-0.6zM63.8 216.5h0.6v0.6h-0.6zM63.8 215.7h0.6v0.6h-0.6zM65.5 218.4h0.6v0.6h-0.6zM66.1 216.6h0.6v0.6h-0.6zM63.3 219.7h0.6v0.6h-0.6zM65.9 220.9h0.6v0.6h-0.6zM67.0 216.2h0.6v0.6h-0.6zM63.4 217.7h0.6v0.6h-0.6zM62.7 219.0h0.6v0.6h-0.6zM66.6 218.0h0.6v0.6h-0.6zM69.0 219.7h0.6v0.6h-0.6zM63.6 219.1h0.6v0.6h-0.6zM69.8 210.0h0.6v0.6h-0.6zM64.3 219.0h0.6v0.6h-0.6zM66.1 218.1h0.6v0.6h-0.6zM65.1 218.8h0.6v0.6h-0.6zM66.3 218.8h0.6v0.6h-0.6zM59.8 220.0h0.6v0.6h-0.6zM64.2 216.3h0.6v0.6h-0.6zM63.5 220.6h0.6v0.6h-0.6zM64.5 219.9h0.6v0.6h-0.6zM67.4 216.9h0.6v0.6h-0.6zM66.4 216.7h0.6v0.6h-0.6zM61.9 220.4h0.6v0.6h-0.6zM65.8 216.2h0.6v0.6h-0.6zM65.9 219.0h0.6v0.6h-0.6zM63.9 220.3h0.6v0.6h-0.6zM69.1 213.6h0.6v0.6h-0.6zM65.5 217.3h0.6v0.6h-0.6zM69.3 215.4h0.6v0.6h-0.6zM66.7 215.2h0.6v0.6h-0.6zM65.3 217.8h0.6v0.6h-0.6zM62.7 223.1h0.6v0.6h-0.6zM65.5 213.7h0.6v0.6h-0.6zM66.9 216.2h0.6v0.6h-0.6zM66.8 217.5h0.6v0.6h-0.6zM61.5 220.3h0.6v0.6h-0.6zM68.2 214.2h0.6v0.6h-0.6zM61.4 217.8h0.6v0.6h-0.6zM62.8 220.5h0.6v0.6h-0.6zM69.8 215.3h0.6v0.6h-0.6zM68.4 220.5h0.6v0.6h-0.6zM63.3 217.8h0.6v0.6h-0.6zM67.2 217.6h0.6v0.6h-0.6zM61.6 218.0h0.6v0.6h-0.6zM66.3 217.6h0.6v0.6h-0.6zM62.0 219.9h0.6v0.6h-0.6zM64.5 219.5h0.6v0.6h-0.6zM64.9 217.9h0.6v0.6h-0.6zM65.6 219.9h0.6v0.6h-0.6zM68.2 214.7h0.6v0.6h-0.6zM66.5 215.2h0.6v0.6h-0.6zM66.3 218.7h0.6v0.6h-0.6zM68.5 214.5h0.6v0.6h-0.6zM65.3 218.2h0.6v0.6h-0.6zM61.8 220.6h0.6v0.6h-0.6zM64.1 219.6h0.6v0.6h-0.6zM60.4 217.1h0.6v0.6h-0.6zM65.7 218.1h0.6v0.6h-0.6zM65.0 220.1h0.6v0.6h-0.6zM64.0 217.4h0.6v0.6h-0.6zM64.7 214.7h0.6v0.6h-0.6zM63.7 219.0h0.6v0.6h-0.6zM67.1 216.0h0.6v0.6h-0.6zM65.3 216.3h0.6v0.6h-0.6zM67.9 219.6h0.6v0.6h-0.6zM66.3 222.4h0.6v0.6h-0.6zM63.8 219.0h0.6v0.6h-0.6zM66.8 218.9h0.6v0.6h-0.6zM60.0 217.1h0.6v0.6h-0.6zM67.6 217.8h0.6v0.6h-0.6zM69.7 220.4h0.6v0.6h-0.6zM66.1 217.8h0.6v0.6h-0.6zM67.9 216.6h0.6v0.6h-0.6zM67.9 213.0h0.6v0.6h-0.6zM60.6 213.6h0.6v0.6h-0.6zM66.8 215.8h0.6v0.6h-0.6zM69.9 219.1h0.6v0.6h-0.6zM65.0 217.4h0.6v0.6h-0.6zM63.2 217.5h0.6v0.6h-0.6zM64.5 219.9h0.6v0.6h-0.6zM65.5 217.8h0.6v0.6h-0.6zM65.9 219.4h0.6v0.6h-0.6zM66.3 216.7h0.6v0.6h-0.6zM66.7 216.4h0.6v0.6h-0.6zM64.2 222.0h0.6v0.6h-0.6zM65.3 215.6h0.6v0.6h-0.6zM68.2 216.3h0.6v0.6h-0.6zM63.4 223.0h0.6v0.6h-0.6zM67.1 218.4h0.6v0.6h-0.6zM65.6 217.2h0.6v0.6h-0.6zM62.7 222.0h0.6v0.6h-0.6zM65.1 217.3h0.6v0.6h-0.6zM66.2 217.3h0.6v0.6h-0.6zM66.5 216.0h0.6v0.6h-0.6zM62.8 214.8h0.6v0.6h-0.6zM65.0 219.5h0.6v0.6h-0.6zM68.1 214.8h0.6v0.6h-0.6zM66.8 220.3h0.6v0.6h-0.6zM65.3 219.4h0.6v0.6h-0.6zM69.3 214.8h0.6v0.6h-0.6zM67.4 214.5h0.6v0.6h-0.6zM65.7 217.3h0.6v0.6h-0.6zM66.8 219.2h0.6v0.6h-0.6zM70.2 212.4h0.6v0.6h-0.6zM64.5 219.6h0.6v0.6h-0.6zM63.4 220.5h0.6v0.6h-0.6zM66.3 216.4h0.6v0.6h-0.6zM64.8 214.6h0.6v0.6h-0.6zM65.4 214.2h0.6v0.6h-0.6zM63.0 218.3h0.6v0.6h-0.6zM65.3 219.8h0.6v0.6h-0.6zM65.1 217.1h0.6v0.6h-0.6zM68.3 219.0h0.6v0.6h-0.6zM65.7 218.3h0.6v0.6h-0.6zM68.5 215.9h0.6v0.6h-0.6zM65.0 223.7h0.6v0.6h-0.6zM68.3 210.9h0.6v0.6h-0.6zM65.7 218.5h0.6v0.6h-0.6zM68.3 217.0h0.6v0.6h-0.6zM63.5 216.8h0.6v0.6h-0.6zM66.7 219.1h0.6v0.6h-0.6zM61.6 218.4h0.6v0.6h-0.6zM63.1 215.1h0.6v0.6h-0.6zM64.2 217.7h0.6v0.6h-0.6zM65.6 216.0h0.6v0.6h-0.6zM62.8 218.9h0.6v0.6h-0.6zM64.4 216.9h0.6v0.6h-0.6zM66.2 218.8h0.6v0.6h-0.6zM70.0 218.0h0.6v0.6h-0.6zM63.0 218.7h0.6v0.6h-0.6zM61.5 225.1h0.6v0.6h-0.6zM63.5 219.1h0.6v0.6h-0.6zM65.0 214.9h0.6v0.6h-0.6zM66.4 216.9h0.6v0.6h-0.6zM61.3 221.6h0.6v0.6h-0.6zM66.1 212.9h0.6v0.6h-0.6zM67.4 216.6h0.6v0.6h-0.6zM66.9 217.5h0.6v0.6h-0.6zM68.1 215.1h0.6v0.6h-0.6zM66.9 215.6h0.6v0.6h-0.6zM66.1 215.3h0.6v0.6h-0.6zM67.0 220.5h0.6v0.6h-0.6zM66.2 216.8h0.6v0.6h-0.6zM61.7 218.8h0.6v0.6h-0.6zM66.8 218.8h0.6v0.6h-0.6zM66.9 217.8h0.6v0.6h-0.6zM66.7 219.8h0.6v0.6h-0.6zM63.8 217.7h0.6v0.6h-0.6zM67.5 216.2h0.6v0.6h-0.6zM64.0 217.5h0.6v0.6h-0.6zM65.4 219.2h0.6v0.6h-0.6zM64.8 215.4h0.6v0.6h-0.6zM66.5 217.3h0.6v0.6h-0.6zM63.8 220.7h0.6v0.6h-0.6zM64.3 217.8h0.6v0.6h-0.6zM68.6 218.2h0.6v0.6h-0.6zM64.2 219.7h0.6v0.6h-0.6zM65.8 222.7h0.6v0.6h-0.6zM65.5 220.4h0.6v0.6h-0.6zM64.7 220.1h0.6v0.6h-0.6zM67.7 210.1h0.6v0.6h-0.6zM64.8 219.3h0.6v0.6h-0.6zM64.3 217.0h0.6v0.6h-0.6zM70.5 213.9h0.6v0.6h-0.6zM62.4 222.0h0.6v0.6h-0.6zM62.5 222.6h0.6v0.6h-0.6zM64.1 219.1h0.6v0.6h-0.6zM68.4 215.6h0.6v0.6h-0.6zM60.1 218.0h0.6v0.6h-0.6zM68.9 216.7h0.6v0.6h-0.6zM64.3 220.5h0.6v0.6h-0.6zM67.2 217.8h0.6v0.6h-0.6zM59.6 221.5h0.6v0.6h-0.6zM68.2 217.2h0.6v0.6h-0.6zM64.7 212.7h0.6v0.6h-0.6zM66.2 218.2h0.6v0.6h-0.6zM70.3 211.7h0.6v0.6h-0.6zM64.6 218.5h0.6v0.6h-0.6zM66.9 215.5h0.6v0.6h-0.6zM67.1 214.6h0.6v0.6h-0.6zM65.3 216.6h0.6v0.6h-0.6zM64.9 216.5h0.6v0.6h-0.6zM62.7 222.3h0.6v0.6h-0.6zM65.4 216.4h0.6v0.6h-0.6zM66.9 218.8h0.6v0.6h-0.6zM62.9 219.4h0.6v0.6h-0.6zM67.2 217.6h0.6v0.6h-0.6zM62.2 215.4h0.6v0.6h-0.6zM68.6 216.0h0.6v0.6h-0.6zM65.0 217.4h0.6v0.6h-0.6zM65.5 216.7h0.6v0.6h-0.6zM62.1 218.6h0.6v0.6h-0.6zM63.2 218.0h0.6v0.6h-0.6zM63.3 220.8h0.6v0.6h-0.6zM62.9 221.2h0.6v0.6h-0.6zM63.3 220.2h0.6v0.6h-0.6zM68.8 215.6h0.6v0.6h-0.6zM63.6 219.2h0.6v0.6h-0.6zM63.7 215.1h0.6v0.6h-0.6zM64.0 219.2h0.6v0.6h-0.6zM64.3 218.8h0.6v0.6h-0.6zM67.9 217.5h0.6v0.6h-0.6zM68.1 217.0h0.6v0.6h-0.6zM64.6 218.3h0.6v0.6h-0.6zM64.3 217.9h0.6v0.6h-0.6zM63.0 215.7h0.6v0.6h-0.6zM64.5 218.4h0.6v0.6h-0.6zM63.0 219.6h0.6v0.6h-0.6zM66.3 216.6h0.6v0.6h-0.6zM67.3 210.3h0.6v0.6h-0.6zM62.8 215.6h0.6v0.6h-0.6zM70.6 219.8h0.6v0.6h-0.6zM59.5 222.6h0.6v0.6h-0.6zM66.2 216.4h0.6v0.6h-0.6zM64.1 213.6h0.6v0.6h-0.6zM67.7 216.8h0.6v0.6h-0.6zM64.7 216.9h0.6v0.6h-0.6zM66.3 215.9h0.6v0.6h-0.6zM65.3 216.7h0.6v0.6h-0.6zM60.0 221.9h0.6v0.6h-0.6zM66.6 218.5h0.6v0.6h-0.6zM63.2 219.4h0.6v0.6h-0.6zM66.9 216.9h0.6v0.6h-0.6zM70.4 218.3h0.6v0.6h-0.6zM61.0 216.8h0.6v0.6h-0.6zM69.0 218.4h0.6v0.6h-0.6zM68.4 217.3h0.6v0.6h-0.6zM63.0 217.9h0.6v0.6h-0.6zM66.4 214.9h0.6v0.6h-0.6zM59.9 219.7h0.6v0.6h-0.6zM73.3 215.9h0.6v0.6h-0.6zM62.9 218.0h0.6v0.6h-0.6zM65.0 216.3h0.6v0.6h-0.6zM68.3 215.3h0.6v0.6h-0.6zM64.2 221.7h0.6v0.6h-0.6zM64.2 219.2h0.6v0.6h-0.6zM64.9 217.4h0.6v0.6h-0.6zM65.3 216.2h0.6v0.6h-0.6zM58.5 218.1h0.6v0.6h-0.6zM61.5 219.1h0.6v0.6h-0.6zM65.3 217.9h0.6v0.6h-0.6zM66.7 216.9h0.6v0.6h-0.6zM62.6 218.3h0.6v0.6h-0.6zM60.1 221.5h0.6v0.6h-0.6zM67.0 217.7h0.6v0.6h-0.6zM64.8 217.8h0.6v0.6h-0.6zM67.5 216.1h0.6v0.6h-0.6zM67.7 217.3h0.6v0.6h-0.6zM67.3 219.3h0.6v0.6h-0.6zM63.5 218.3h0.6v0.6h-0.6zM62.5 218.2h0.6v0.6h-0.6zM70.9 217.4h0.6v0.6h-0.6zM66.0 218.6h0.6v0.6h-0.6zM69.0 216.8h0.6v0.6h-0.6zM66.7 213.8h0.6v0.6h-0.6zM64.3 219.6h0.6v0.6h-0.6zM68.8 215.3h0.6v0.6h-0.6zM62.9 218.9h0.6v0.6h-0.6zM62.8 217.8h0.6v0.6h-0.6zM68.2 214.1h0.6v0.6h-0.6zM67.7 220.8h0.6v0.6h-0.6zM68.5 216.1h0.6v0.6h-0.6zM64.3 219.5h0.6v0.6h-0.6zM69.8 215.7h0.6v0.6h-0.6zM68.4 215.6h0.6v0.6h-0.6zM66.3 216.6h0.6v0.6h-0.6zM67.8 218.9h0.6v0.6h-0.6zM61.8 220.4h0.6v0.6h-0.6zM65.2 216.5h0.6v0.6h-0.6zM65.4 219.5h0.6v0.6h-0.6zM70.7 215.0h0.6v0.6h-0.6zM64.4 215.0h0.6v0.6h-0.6zM69.9 214.3h0.6v0.6h-0.6zM64.0 216.3h0.6v0.6h-0.6zM64.0 216.4h0.6v0.6h-0.6zM66.0 218.3h0.6v0.6h-0.6zM65.7 218.1h0.6v0.6h-0.6zM64.9 221.4h0.6v0.6h-0.6zM61.7 216.4h0.6v0.6h-0.6zM64.0 217.1h0.6v0.6h-0.6zM62.5 219.2h0.6v0.6h-0.6zM64.7 215.6h0.6v0.6h-0.6zM66.6 220.1h0.6v0.6h-0.6zM66.7 216.3h0.6v0.6h-0.6zM65.5 217.4h0.6v0.6h-0.6zM66.0 218.9h0.6v0.6h-0.6zM62.4 214.6h0.6v0.6h-0.6zM64.3 216.6h0.6v0.6h-0.6zM66.2 215.7h0.6v0.6h-0.6zM68.1 220.6h0.6v0.6h-0.6zM61.6 218.1h0.6v0.6h-0.6zM59.3 217.0h0.6v0.6h-0.6zM61.3 221.8h0.6v0.6h-0.6zM61.7 216.3h0.6v0.6h-0.6zM62.5 221.4h0.6v0.6h-0.6zM63.1 218.7h0.6v0.6h-0.6zM67.6 219.1h0.6v0.6h-0.6zM71.0 215.7h0.6v0.6h-0.6zM65.8 217.8h0.6v0.6h-0.6zM71.1 216.5h0.6v0.6h-0.6zM65.1 219.0h0.6v0.6h-0.6zM66.0 217.3h0.6v0.6h-0.6zM62.6 216.8h0.6v0.6h-0.6zM62.3 216.6h0.6v0.6h-0.6zM68.8 216.3h0.6v0.6h-0.6zM64.0 222.0h0.6v0.6h-0.6zM65.3 213.4h0.6v0.6h-0.6zM70.6 215.5h0.6v0.6h-0.6zM68.8 212.2h0.6v0.6h-0.6zM67.0 217.4h0.6v0.6h-0.6zM66.0 217.7h0.6v0.6h-0.6zM66.1 213.7h0.6v0.6h-0.6zM60.8 218.1h0.6v0.6h-0.6zM63.3 218.0h0.6v0.6h-0.6zM66.5 217.5h0.6v0.6h-0.6zM64.6 216.8h0.6v0.6h-0.6zM65.3 220.0h0.6v0.6h-0.6zM67.2 216.5h0.6v0.6h-0.6zM66.3 220.6h0.6v0.6h-0.6zM64.6 219.8h0.6v0.6h-0.6zM67.7 215.3h0.6v0.6h-0.6zM66.0 214.7h0.6v0.6h-0.6zM67.9 216.2h0.6v0.6h-0.6zM62.3 221.7h0.6v0.6h-0.6zM64.6 221.3h0.6v0.6h-0.6zM63.5 218.8h0.6v0.6h-0.6zM65.6 216.8h0.6v0.6h-0.6zM65.3 216.5h0.6v0.6h-0.6zM66.9 216.6h0.6v0.6h-0.6zM62.7 213.5h0.6v0.6h-0.6zM68.1 215.7h0.6v0.6h-0.6zM61.2 221.2h0.6v0.6h-0.6zM67.6 218.5h0.6v0.6h-0.6zM64.5 222.0h0.6v0.6h-0.6zM67.6 221.5h0.6v0.6h-0.6zM65.7 219.0h0.6v0.6h-0.6zM63.2 216.9h0.6v0.6h-0.6zM68.9 217.1h0.6v0.6h-0.6zM69.9 216.2h0.6v0.6h-0.6zM62.1 216.5h0.6v0.6h-0.6zM63.0 218.0h0.6v0.6h-0.6zM64.0 220.1h0.6v0.6h-0.6zM65.8 216.8h0.6v0.6h-0.6zM65.5 217.3h0.6v0.6h-0.6zM66.6 218.5h0.6v0.6h-0.6zM66.8 215.1h0.6v0.6h-0.6zM63.3 222.6h0.6v0.6h-0.6zM66.8 219.2h0.6v0.6h-0.6zM61.0 220.4h0.6v0.6h-0.6zM63.8 215.7h0.6v0.6h-0.6zM64.9 219.8h0.6v0.6h-0.6zM69.6 218.1h0.6v0.6h-0.6zM61.7 217.4h0.6v0.6h-0.6zM67.6 218.2h0.6v0.6h-0.6zM64.3 215.6h0.6v0.6h-0.6zM68.0 217.5h0.6v0.6h-0.6zM66.1 216.1h0.6v0.6h-0.6zM66.9 218.4h0.6v0.6h-0.6zM61.9 216.2h0.6v0.6h-0.6zM66.6 217.9h0.6v0.6h-0.6zM66.3 219.0h0.6v0.6h-0.6zM63.8 218.8h0.6v0.6h-0.6zM65.2 219.2h0.6v0.6h-0.6zM68.8 214.5h0.6v0.6h-0.6zM71.9 216.2h0.6v0.6h-0.6zM67.8 217.2h0.6v0.6h-0.6zM69.3 214.3h0.6v0.6h-0.6zM63.9 216.5h0.6v0.6h-0.6zM67.9 218.8h0.6v0.6h-0.6zM67.0 217.4h0.6v0.6h-0.6zM65.0 218.4h0.6v0.6h-0.6zM63.1 221.9h0.6v0.6h-0.6zM63.1 217.0h0.6v0.6h-0.6zM62.6 218.0h0.6v0.6h-0.6zM68.5 217.7h0.6v0.6h-0.6zM63.1 221.6h0.6v0.6h-0.6zM66.8 215.3h0.6v0.6h-0.6zM61.0 219.5h0.6v0.6h-0.6zM64.2 219.5h0.6v0.6h-0.6zM62.2 215.6h0.6v0.6h-0.6zM64.2 215.2h0.6v0.6h-0.6zM66.1 214.4h0.6v0.6h-0.6zM62.7 217.9h0.6v0.6h-0.6zM65.5 220.6h0.6v0.6h-0.6zM68.0 217.1h0.6v0.6h-0.6zM64.3 215.0h0.6v0.6h-0.6zM63.5 218.0h0.6v0.6h-0.6zM63.6 220.3h0.6v0.6h-0.6zM62.8 218.2h0.6v0.6h-0.6zM60.6 216.8h0.6v0.6h-0.6zM68.2 218.6h0.6v0.6h-0.6zM64.6 216.1h0.6v0.6h-0.6zM59.1 223.0h0.6v0.6h-0.6zM68.5 216.0h0.6v0.6h-0.6zM69.1 218.2h0.6v0.6h-0.6zM67.5 215.1h0.6v0.6h-0.6zM68.6 217.0h0.6v0.6h-0.6zM61.2 220.1h0.6v0.6h-0.6zM61.8 220.3h0.6v0.6h-0.6zM65.5 215.2h0.6v0.6h-0.6zM61.9 223.4h0.6v0.6h-0.6zM67.8 219.2h0.6v0.6h-0.6zM63.3 221.7h0.6v0.6h-0.6zM72.4 216.8h0.6v0.6h-0.6zM65.1 218.6h0.6v0.6h-0.6zM66.0 219.5h0.6v0.6h-0.6zM67.8 216.0h0.6v0.6h-0.6zM62.9 221.4h0.6v0.6h-0.6zM64.9 219.6h0.6v0.6h-0.6zM67.7 219.6h0.6v0.6h-0.6zM67.5 215.1h0.6v0.6h-0.6zM68.1 219.7h0.6v0.6h-0.6zM64.5 219.4h0.6v0.6h-0.6zM69.5 217.4h0.6v0.6h-0.6zM65.1 215.0h0.6v0.6h-0.6zM62.6 220.5h0.6v0.6h-0.6zM69.0 220.7h0.6v0.6h-0.6zM64.5 221.0h0.6v0.6h-0.6zM65.3 214.0h0.6v0.6h-0.6zM63.5 219.5h0.6v0.6h-0.6zM64.0 218.5h0.6v0.6h-0.6zM65.5 215.8h0.6v0.6h-0.6zM65.7 216.0h0.6v0.6h-0.6zM64.6 219.6h0.6v0.6h-0.6zM64.3 219.3h0.6v0.6h-0.6zM69.1 214.9h0.6v0.6h-0.6zM65.8 219.1h0.6v0.6h-0.6zM65.6 220.0h0.6v0.6h-0.6zM63.0 221.0h0.6v0.6h-0.6zM63.2 217.6h0.6v0.6h-0.6zM68.5 213.3h0.6v0.6h-0.6zM70.2 215.5h0.6v0.6h-0.6zM67.7 213.7h0.6v0.6h-0.6zM69.7 217.7h0.6v0.6h-0.6zM64.9 217.8h0.6v0.6h-0.6zM71.3 213.5h0.6v0.6h-0.6zM63.6 217.7h0.6v0.6h-0.6zM66.7 217.4h0.6v0.6h-0.6zM67.6 219.9h0.6v0.6h-0.6zM65.0 219.1h0.6v0.6h-0.6zM67.6 213.7h0.6v0.6h-0.6zM69.8 218.5h0.6v0.6h-0.6zM60.9 218.7h0.6v0.6h-0.6zM60.8 217.1h0.6v0.6h-0.6zM64.3 214.3h0.6v0.6h-0.6zM68.1 218.9h0.6v0.6h-0.6zM61.1 220.3h0.6v0.6h-0.6zM61.6 222.4h0.6v0.6h-0.6zM63.3 218.8h0.6v0.6h-0.6zM66.0 218.5h0.6v0.6h-0.6zM64.5 218.5h0.6v0.6h-0.6zM64.1 219.0h0.6v0.6h-0.6zM62.6 220.1h0.6v0.6h-0.6zM60.2 220.7h0.6v0.6h-0.6zM69.9 214.4h0.6v0.6h-0.6zM62.6 220.5h0.6v0.6h-0.6zM61.2 217.3h0.6v0.6h-0.6zM64.4 220.2h0.6v0.6h-0.6zM66.1 217.0h0.6v0.6h-0.6zM61.9 218.0h0.6v0.6h-0.6zM68.8 215.7h0.6v0.6h-0.6zM60.7 216.6h0.6v0.6h-0.6zM64.8 223.8h0.6v0.6h-0.6zM62.5 219.8h0.6v0.6h-0.6zM65.6 217.2h0.6v0.6h-0.6zM63.1 216.4h0.6v0.6h-0.6zM64.7 222.1h0.6v0.6h-0.6zM64.4 220.4h0.6v0.6h-0.6zM61.0 220.5h0.6v0.6h-0.6zM67.1 218.8h0.6v0.6h-0.6zM63.3 220.7h0.6v0.6h-0.6zM65.4 216.0h0.6v0.6h-0.6zM65.4 215.6h0.6v0.6h-0.6zM63.4 219.2h0.6v0.6h-0.6zM58.8 222.7h0.6v0.6h-0.6zM61.3 217.6h0.6v0.6h-0.6zM65.1 219.7h0.6v0.6h-0.6zM65.7 220.3h0.6v0.6h-0.6zM61.1 218.1h0.6v0.6h-0.6zM69.4 215.5h0.6v0.6h-0.6zM66.6 214.9h0.6v0.6h-0.6zM67.5 216.7h0.6v0.6h-0.6zM66.9 216.6h0.6v0.6h-0.6zM67.4 214.7h0.6v0.6h-0.6zM61.4 217.5h0.6v0.6h-0.6zM67.2 214.6h0.6v0.6h-0.6zM61.8 218.4h0.6v0.6h-0.6zM62.8 216.8h0.6v0.6h-0.6zM63.9 217.4h0.6v0.6h-0.6zM62.9 217.5h0.6v0.6h-0.6zM64.9 217.1h0.6v0.6h-0.6zM65.8 217.9h0.6v0.6h-0.6zM63.7 214.1h0.6v0.6h-0.6zM63.2 217.7h0.6v0.6h-0.6zM65.4 214.1h0.6v0.6h-0.6zM63.3 218.7h0.6v0.6h-0.6zM65.6 219.8h0.6v0.6h-0.6zM65.3 220.0h0.6v0.6h-0.6zM59.8 217.9h0.6v0.6h-0.6zM68.7 216.2h0.6v0.6h-0.6zM66.6 217.1h0.6v0.6h-0.6zM65.1 215.2h0.6v0.6h-0.6zM67.0 215.3h0.6v0.6h-0.6zM67.7 216.1h0.6v0.6h-0.6zM59.2 219.6h0.6v0.6h-0.6zM67.8 215.5h0.6v0.6h-0.6zM64.6 218.9h0.6v0.6h-0.6zM63.7 217.8h0.6v0.6h-0.6zM65.7 217.8h0.6v0.6h-0.6zM68.9 215.1h0.6v0.6h-0.6zM71.7 216.9h0.6v0.6h-0.6zM70.5 216.1h0.6v0.6h-0.6zM65.8 217.8h0.6v0.6h-0.6zM64.2 217.0h0.6v0.6h-0.6zM64.4 217.0h0.6v0.6h-0.6zM69.8 215.5h0.6v0.6h-0.6zM62.1 215.9h0.6v0.6h-0.6zM64.7 217.3h0.6v0.6h-0.6zM61.5 218.2h0.6v0.6h-0.6zM60.6 222.8h0.6v0.6h-0.6zM68.0 221.6h0.6v0.6h-0.6zM65.1 217.6h0.6v0.6h-0.6zM68.9 215.3h0.6v0.6h-0.6zM65.3 217.0h0.6v0.6h-0.6zM65.5 221.0h0.6v0.6h-0.6zM69.6 218.4h0.6v0.6h-0.6zM64.5 218.5h0.6v0.6h-0.6zM64.3 220.8h0.6v0.6h-0.6zM62.6 221.2h0.6v0.6h-0.6zM69.5 217.8h0.6v0.6h-0.6zM64.3 221.1h0.6v0.6h-0.6zM62.8 218.0h0.6v0.6h-0.6zM63.5 221.9h0.6v0.6h-0.6zM68.5 213.9h0.6v0.6h-0.6zM63.1 218.7h0.6v0.6h-0.6zM72.3 214.6h0.6v0.6h-0.6zM62.0 216.3h0.6v0.6h-0.6zM65.0 220.7h0.6v0.6h-0.6zM69.4 214.0h0.6v0.6h-0.6zM63.1 218.4h0.6v0.6h-0.6zM61.8 222.6h0.6v0.6h-0.6zM63.9 221.3h0.6v0.6h-0.6zM59.9 219.2h0.6v0.6h-0.6zM65.1 216.2h0.6v0.6h-0.6zM67.2 216.4h0.6v0.6h-0.6zM63.2 220.9h0.6v0.6h-0.6zM65.2 213.5h0.6v0.6h-0.6zM70.2 215.1h0.6v0.6h-0.6zM65.0 213.8h0.6v0.6h-0.6zM63.2 218.6h0.6v0.6h-0.6zM66.2 213.7h0.6v0.6h-0.6zM61.0 216.6h0.6v0.6h-0.6zM65.1 218.7h0.6v0.6h-0.6zM60.7 220.1h0.6v0.6h-0.6zM68.3 219.1h0.6v0.6h-0.6zM66.5 216.1h0.6v0.6h-0.6zM61.5 218.6h0.6v0.6h-0.6zM63.9 219.2h0.6v0.6h-0.6zM67.0 220.3h0.6v0.6h-0.6zM64.8 215.7h0.6v0.6h-0.6zM70.0 216.3h0.6v0.6h-0.6zM64.7 216.6h0.6v0.6h-0.6zM59.7 219.8h0.6v0.6h-0.6zM66.6 215.0h0.6v0.6h-0.6zM62.4 220.5h0.6v0.6h-0.6zM66.5 218.2h0.6v0.6h-0.6zM68.4 218.6h0.6v0.6h-0.6zM64.4 220.7h0.6v0.6h-0.6zM63.7 220.6h0.6v0.6h-0.6zM66.0 217.8h0.6v0.6h-0.6zM67.6 216.0h0.6v0.6h-0.6zM68.9 217.0h0.6v0.6h-0.6zM65.0 216.7h0.6v0.6h-0.6zM62.9 218.4h0.6v0.6h-0.6zM64.8 218.1h0.6v0.6h-0.6zM73.1 213.2h0.6v0.6h-0.6zM66.2 215.2h0.6v0.6h-0.6zM63.3 218.7h0.6v0.6h-0.6zM64.6 216.0h0.6v0.6h-0.6zM68.5 214.0h0.6v0.6h-0.6zM65.3 212.5h0.6v0.6h-0.6zM65.6 218.2h0.6v0.6h-0.6zM66.4 218.3h0.6v0.6h-0.6zM66.1 217.5h0.6v0.6h-0.6zM60.0 220.3h0.6v0.6h-0.6zM60.5 223.0h0.6v0.6h-0.6zM65.8 217.0h0.6v0.6h-0.6zM62.7 218.5h0.6v0.6h-0.6zM71.6 216.8h0.6v0.6h-0.6zM66.6 219.7h0.6v0.6h-0.6zM59.4 218.0h0.6v0.6h-0.6zM63.2 217.5h0.6v0.6h-0.6zM64.2 219.1h0.6v0.6h-0.6zM71.7 211.3h0.6v0.6h-0.6zM65.7 218.1h0.6v0.6h-0.6zM66.3 219.2h0.6v0.6h-0.6zM68.1 212.8h0.6v0.6h-0.6zM65.4 217.1h0.6v0.6h-0.6zM64.4 215.0h0.6v0.6h-0.6zM58.6 217.8h0.6v0.6h-0.6zM66.8 217.1h0.6v0.6h-0.6zM62.9 214.3h0.6v0.6h-0.6zM63.6 217.4h0.6v0.6h-0.6zM60.9 219.1h0.6v0.6h-0.6zM67.6 217.3h0.6v0.6h-0.6zM65.8 218.6h0.6v0.6h-0.6zM64.0 219.0h0.6v0.6h-0.6zM66.0 218.5h0.6v0.6h-0.6zM65.0 217.7h0.6v0.6h-0.6zM64.3 217.1h0.6v0.6h-0.6zM71.2 214.4h0.6v0.6h-0.6zM68.9 220.3h0.6v0.6h-0.6zM66.9 213.0h0.6v0.6h-0.6zM67.9 217.7h0.6v0.6h-0.6zM71.2 216.2h0.6v0.6h-0.6zM65.8 214.7h0.6v0.6h-0.6zM63.5 219.8h0.6v0.6h-0.6zM65.4 215.4h0.6v0.6h-0.6zM63.9 217.9h0.6v0.6h-0.6zM65.8 218.2h0.6v0.6h-0.6zM63.3 216.6h0.6v0.6h-0.6zM70.0 217.8h0.6v0.6h-0.6zM66.2 219.4h0.6v0.6h-0.6zM67.1 217.9h0.6v0.6h-0.6zM65.6 215.8h0.6v0.6h-0.6zM67.8 218.2h0.6v0.6h-0.6zM65.4 222.2h0.6v0.6h-0.6zM72.3 216.5h0.6v0.6h-0.6zM70.8 215.2h0.6v0.6h-0.6zM63.8 217.6h0.6v0.6h-0.6zM63.5 219.5h0.6v0.6h-0.6zM66.0 218.8h0.6v0.6h-0.6zM63.1 224.8h0.6v0.6h-0.6zM70.7 213.6h0.6v0.6h-0.6zM67.4 217.2h0.6v0.6h-0.6zM65.7 217.0h0.6v0.6h-0.6zM64.1 216.9h0.6v0.6h-0.6zM65.7 217.4h0.6v0.6h-0.6zM65.1 216.0h0.6v0.6h-0.6zM65.4 217.8h0.6v0.6h-0.6zM65.6 215.2h0.6v0.6h-0.6zM67.4 218.4h0.6v0.6h-0.6zM66.3 216.2h0.6v0.6h-0.6zM63.9 218.4h0.6v0.6h-0.6zM68.7 218.7h0.6v0.6h-0.6zM64.2 217.2h0.6v0.6h-0.6zM66.4 217.4h0.6v0.6h-0.6zM62.3 218.4h0.6v0.6h-0.6zM65.8 218.9h0.6v0.6h-0.6zM61.4 218.6h0.6v0.6h-0.6zM65.1 215.1h0.6v0.6h-0.6zM65.9 218.1h0.6v0.6h-0.6zM63.9 216.6h0.6v0.6h-0.6zM64.8 217.4h0.6v0.6h-0.6zM65.2 216.0h0.6v0.6h-0.6zM66.0 213.4h0.6v0.6h-0.6zM64.9 218.1h0.6v0.6h-0.6zM66.9 215.2h0.6v0.6h-0.6zM66.0 216.0h0.6v0.6h-0.6zM69.0 218.9h0.6v0.6h-0.6zM64.8 219.2h0.6v0.6h-0.6zM64.2 220.9h0.6v0.6h-0.6zM68.2 215.6h0.6v0.6h-0.6zM63.1 220.5h0.6v0.6h-0.6zM69.2 217.2h0.6v0.6h-0.6zM65.2 213.7h0.6v0.6h-0.6zM65.3 221.1h0.6v0.6h-0.6zM63.7 221.7h0.6v0.6h-0.6zM70.6 215.4h0.6v0.6h-0.6zM67.6 215.3h0.6v0.6h-0.6zM62.3 219.9h0.6v0.6h-0.6zM64.8 218.1h0.6v0.6h-0.6zM66.8 216.3h0.6v0.6h-0.6zM66.2 218.0h0.6v0.6h-0.6zM67.3 220.4h0.6v0.6h-0.6zM66.4 217.1h0.6v0.6h-0.6zM64.1 217.3h0.6v0.6h-0.6zM68.6 215.5h0.6v0.6h-0.6zM62.1 219.0h0.6v0.6h-0.6zM64.5 217.4h0.6v0.6h-0.6zM66.6 214.1h0.6v0.6h-0.6zM66.6 217.1h0.6v0.6h-0.6zM62.6 220.0h0.6v0.6h-0.6zM65.6 218.7h0.6v0.6h-0.6zM64.6 219.1h0.6v0.6h-0.6zM60.2 219.3h0.6v0.6h-0.6zM68.3 217.8h0.6v0.6h-0.6zM64.6 217.0h0.6v0.6h-0.6zM65.5 212.8h0.6v0.6h-0.6zM64.2 220.2h0.6v0.6h-0.6zM65.7 215.1h0.6v0.6h-0.6zM62.4 223.3h0.6v0.6h-0.6zM64.7 216.2h0.6v0.6h-0.6zM66.4 219.0h0.6v0.6h-0.6zM60.4 224.2h0.6v0.6h-0.6zM64.7 213.5h0.6v0.6h-0.6zM65.1 213.9h0.6v0.6h-0.6zM68.4 216.3h0.6v0.6h-0.6zM69.9 212.8h0.6v0.6h-0.6zM66.5 219.3h0.6v0.6h-0.6zM63.0 218.0h0.6v0.6h-0.6zM64.3 218.4h0.6v0.6h-0.6zM63.3 220.5h0.6v0.6h-0.6zM66.7 216.9h0.6v0.6h-0.6zM69.0 214.2h0.6v0.6h-0.6zM67.8 214.6h0.6v0.6h-0.6zM64.9 213.7h0.6v0.6h-0.6zM65.6 217.2h0.6v0.6h-0.6zM63.5 217.8h0.6v0.6h-0.6zM63.7 217.4h0.6v0.6h-0.6zM59.5 221.0h0.6v0.6h-0.6zM63.4 218.1h0.6v0.6h-0.6zM62.6 219.6h0.6v0.6h-0.6zM66.9 216.0h0.6v0.6h-0.6zM65.6 220.6h0.6v0.6h-0.6zM68.6 217.3h0.6v0.6h-0.6zM67.7 215.2h0.6v0.6h-0.6zM66.2 219.6h0.6v0.6h-0.6zM63.9 218.7h0.6v0.6h-0.6zM66.6 217.6h0.6v0.6h-0.6zM65.7 219.7h0.6v0.6h-0.6zM65.7 219.2h0.6v0.6h-0.6zM68.6 216.8h0.6v0.6h-0.6zM65.7 214.8h0.6v0.6h-0.6zM61.5 219.3h0.6v0.6h-0.6zM68.1 219.1h0.6v0.6h-0.6zM62.8 220.5h0.6v0.6h-0.6zM62.5 218.3h0.6v0.6h-0.6zM65.4 219.3h0.6v0.6h-0.6zM67.1 219.1h0.6v0.6h-0.6zM64.0 220.9h0.6v0.6h-0.6zM67.6 216.2h0.6v0.6h-0.6zM65.8 216.1h0.6v0.6h-0.6zM62.3 219.2h0.6v0.6h-0.6zM67.0 223.1h0.6v0.6h-0.6zM66.0 221.0h0.6v0.6h-0.6zM66.1 217.9h0.6v0.6h-0.6zM66.2 215.3h0.6v0.6h-0.6zM67.9 216.6h0.6v0.6h-0.6zM62.4 221.5h0.6v0.6h-0.6zM67.1 217.4h0.6v0.6h-0.6zM68.6 214.3h0.6v0.6h-0.6zM67.3 217.9h0.6v0.6h-0.6zM64.5 221.2h0.6v0.6h-0.6zM60.4 218.6h0.6v0.6h-0.6zM65.3 215.3h0.6v0.6h-0.6zM63.2 215.7h0.6v0.6h-0.6zM64.2 216.1h0.6v0.6h-0.6zM64.4 215.0h0.6v0.6h-0.6zM66.1 216.6h0.6v0.6h-0.6zM65.4 217.6h0.6v0.6h-0.6zM64.1 215.7h0.6v0.6h-0.6zM59.3 222.6h0.6v0.6h-0.6zM62.6 218.9h0.6v0.6h-0.6zM64.1 214.2h0.6v0.6h-0.6zM62.8 218.3h0.6v0.6h-0.6zM63.2 220.2h0.6v0.6h-0.6zM64.1 216.9h0.6v0.6h-0.6zM63.9 220.8h0.6v0.6h-0.6zM64.4 219.8h0.6v0.6h-0.6zM64.3 214.3h0.6v0.6h-0.6zM62.7 219.8h0.6v0.6h-0.6zM67.0 218.3h0.6v0.6h-0.6zM68.3 217.8h0.6v0.6h-0.6zM64.2 218.2h0.6v0.6h-0.6zM66.7 215.8h0.6v0.6h-0.6zM66.0 213.6h0.6v0.6h-0.6zM66.7 216.3h0.6v0.6h-0.6zM61.7 222.8h0.6v0.6h-0.6zM66.1 217.3h0.6v0.6h-0.6zM62.2 219.1h0.6v0.6h-0.6zM68.0 213.8h0.6v0.6h-0.6zM56.1 223.0h0.6v0.6h-0.6zM62.3 219.8h0.6v0.6h-0.6zM63.4 217.2h0.6v0.6h-0.6zM64.5 220.8h0.6v0.6h-0.6zM64.1 223.2h0.6v0.6h-0.6zM62.8 217.3h0.6v0.6h-0.6zM67.8 217.1h0.6v0.6h-0.6zM63.7 220.8h0.6v0.6h-0.6zM59.9 219.9h0.6v0.6h-0.6zM67.7 215.4h0.6v0.6h-0.6zM62.8 220.9h0.6v0.6h-0.6zM67.4 216.1h0.6v0.6h-0.6zM60.6 220.6h0.6v0.6h-0.6zM67.1 218.1h0.6v0.6h-0.6zM69.4 214.0h0.6v0.6h-0.6zM64.1 218.6h0.6v0.6h-0.6zM67.1 214.2h0.6v0.6h-0.6zM65.3 211.5h0.6v0.6h-0.6zM66.4 215.4h0.6v0.6h-0.6zM67.1 217.9h0.6v0.6h-0.6zM62.4 219.9h0.6v0.6h-0.6zM66.5 218.2h0.6v0.6h-0.6zM62.0 218.1h0.6v0.6h-0.6zM63.6 225.0h0.6v0.6h-0.6zM64.6 217.8h0.6v0.6h-0.6zM62.8 221.9h0.6v0.6h-0.6zM65.6 220.8h0.6v0.6h-0.6zM67.3 216.3h0.6v0.6h-0.6zM65.8 214.9h0.6v0.6h-0.6zM63.9 217.6h0.6v0.6h-0.6zM62.3 220.2h0.6v0.6h-0.6zM66.5 220.1h0.6v0.6h-0.6zM56.6 223.0h0.6v0.6h-0.6zM62.6 218.8h0.6v0.6h-0.6zM66.7 217.6h0.6v0.6h-0.6zM64.8 217.1h0.6v0.6h-0.6zM66.9 217.4h0.6v0.6h-0.6zM60.7 220.8h0.6v0.6h-0.6zM60.7 218.7h0.6v0.6h-0.6zM65.7 217.6h0.6v0.6h-0.6zM64.6 216.3h0.6v0.6h-0.6zM63.8 216.9h0.6v0.6h-0.6zM67.0 218.1h0.6v0.6h-0.6zM70.9 216.4h0.6v0.6h-0.6zM62.9 218.6h0.6v0.6h-0.6zM63.4 220.0h0.6v0.6h-0.6zM70.8 215.1h0.6v0.6h-0.6zM58.7 220.1h0.6v0.6h-0.6zM62.8 220.9h0.6v0.6h-0.6zM65.6 218.2h0.6v0.6h-0.6zM68.6 213.3h0.6v0.6h-0.6zM65.5 222.2h0.6v0.6h-0.6zM65.2 216.1h0.6v0.6h-0.6zM58.8 219.4h0.6v0.6h-0.6zM59.6 222.4h0.6v0.6h-0.6zM66.5 219.1h0.6v0.6h-0.6zM64.2 217.1h0.6v0.6h-0.6zM65.7 221.9h0.6v0.6h-0.6zM61.3 221.3h0.6v0.6h-0.6zM66.0 218.6h0.6v0.6h-0.6zM64.9 219.3h0.6v0.6h-0.6zM67.1 216.1h0.6v0.6h-0.6zM64.0 218.4h0.6v0.6h-0.6zM62.8 219.3h0.6v0.6h-0.6zM64.8 218.7h0.6v0.6h-0.6zM69.9 217.2h0.6v0.6h-0.6zM64.9 219.5h0.6v0.6h-0.6zM66.8 218.3h0.6v0.6h-0.6zM65.6 218.1h0.6v0.6h-0.6zM63.3 217.6h0.6v0.6h-0.6zM68.8 218.0h0.6v0.6h-0.6zM67.3 217.2h0.6v0.6h-0.6zM65.4 216.7h0.6v0.6h-0.6zM61.8 222.0h0.6v0.6h-0.6zM65.2 216.6h0.6v0.6h-0.6zM64.4 221.4h0.6v0.6h-0.6zM63.0 223.6h0.6v0.6h-0.6zM69.4 220.0h0.6v0.6h-0.6zM63.6 219.1h0.6v0.6h-0.6zM64.3 219.0h0.6v0.6h-0.6zM64.0 217.1h0.6v0.6h-0.6zM67.0 214.7h0.6v0.6h-0.6zM64.7 219.5h0.6v0.6h-0.6zM63.5 218.2h0.6v0.6h-0.6zM65.7 216.6h0.6v0.6h-0.6zM62.2 220.0h0.6v0.6h-0.6zM66.7 220.6h0.6v0.6h-0.6zM63.8 221.2h0.6v0.6h-0.6zM63.0 218.7h0.6v0.6h-0.6zM64.8 218.8h0.6v0.6h-0.6zM69.3 218.7h0.6v0.6h-0.6zM65.3 220.9h0.6v0.6h-0.6zM68.6 217.1h0.6v0.6h-0.6zM64.5 220.5h0.6v0.6h-0.6zM65.4 218.5h0.6v0.6h-0.6zM65.4 219.2h0.6v0.6h-0.6zM69.2 217.3h0.6v0.6h-0.6zM65.9 219.6h0.6v0.6h-0.6zM67.7 213.8h0.6v0.6h-0.6zM67.3 213.2h0.6v0.6h-0.6zM67.2 217.6h0.6v0.6h-0.6zM69.1 215.5h0.6v0.6h-0.6zM63.3 217.6h0.6v0.6h-0.6zM63.2 221.2h0.6v0.6h-0.6zM63.9 217.2h0.6v0.6h-0.6zM65.7 215.7h0.6v0.6h-0.6zM63.8 218.0h0.6v0.6h-0.6zM70.8 216.8h0.6v0.6h-0.6zM63.2 215.9h0.6v0.6h-0.6zM66.0 217.4h0.6v0.6h-0.6zM66.8 218.0h0.6v0.6h-0.6zM65.6 219.7h0.6v0.6h-0.6zM67.5 216.6h0.6v0.6h-0.6zM63.8 217.9h0.6v0.6h-0.6zM65.7 215.0h0.6v0.6h-0.6zM64.1 217.0h0.6v0.6h-0.6zM62.7 221.2h0.6v0.6h-0.6zM65.3 217.9h0.6v0.6h-0.6zM65.7 214.1h0.6v0.6h-0.6zM65.5 218.3h0.6v0.6h-0.6zM66.1 214.7h0.6v0.6h-0.6zM67.2 216.8h0.6v0.6h-0.6zM69.8 216.9h0.6v0.6h-0.6zM69.0 219.8h0.6v0.6h-0.6zM64.8 217.2h0.6v0.6h-0.6zM63.5 217.1h0.6v0.6h-0.6zM63.2 215.2h0.6v0.6h-0.6zM65.6 218.6h0.6v0.6h-0.6zM67.3 215.5h0.6v0.6h-0.6zM67.9 214.3h0.6v0.6h-0.6zM62.9 215.4h0.6v0.6h-0.6zM62.6 218.1h0.6v0.6h-0.6zM69.3 215.8h0.6v0.6h-0.6zM63.3 220.5h0.6v0.6h-0.6zM66.2 216.6h0.6v0.6h-0.6zM65.0 217.3h0.6v0.6h-0.6zM62.1 216.3h0.6v0.6h-0.6zM66.5 219.7h0.6v0.6h-0.6zM68.3 214.8h0.6v0.6h-0.6zM63.3 218.9h0.6v0.6h-0.6zM67.8 216.7h0.6v0.6h-0.6zM64.3 219.4h0.6v0.6h-0.6zM65.4 218.9h0.6v0.6h-0.6zM62.8 216.5h0.6v0.6h-0.6zM66.3 218.7h0.6v0.6h-0.6zM62.6 219.6h0.6v0.6h-0.6zM66.9 215.7h0.6v0.6h-0.6zM66.0 221.8h0.6v0.6h-0.6zM68.3 217.7h0.6v0.6h-0.6zM64.9 221.8h0.6v0.6h-0.6zM60.9 220.1h0.6v0.6h-0.6zM68.4 218.3h0.6v0.6h-0.6zM62.4 218.6h0.6v0.6h-0.6zM63.7 214.8h0.6v0.6h-0.6zM67.4 217.4h0.6v0.6h-0.6zM64.9 219.3h0.6v0.6h-0.6zM67.4 216.8h0.6v0.6h-0.6zM68.1 218.9h0.6v0.6h-0.6zM64.4 218.9h0.6v0.6h-0.6zM65.2 220.2h0.6v0.6h-0.6zM64.9 219.2h0.6v0.6h-0.6zM65.7 217.6h0.6v0.6h-0.6zM69.1 214.6h0.6v0.6h-0.6zM69.4 216.4h0.6v0.6h-0.6zM68.1 215.2h0.6v0.6h-0.6zM68.2 217.2h0.6v0.6h-0.6zM64.2 219.3h0.6v0.6h-0.6zM65.0 218.0h0.6v0.6h-0.6zM67.5 214.5h0.6v0.6h-0.6zM59.6 218.4h0.6v0.6h-0.6zM63.6 217.7h0.6v0.6h-0.6zM65.9 218.5h0.6v0.6h-0.6zM69.6 215.1h0.6v0.6h-0.6zM65.6 216.0h0.6v0.6h-0.6zM68.1 218.6h0.6v0.6h-0.6zM66.3 212.7h0.6v0.6h-0.6zM69.0 218.4h0.6v0.6h-0.6zM65.6 214.3h0.6v0.6h-0.6zM65.2 219.1h0.6v0.6h-0.6zM65.4 216.0h0.6v0.6h-0.6zM64.3 220.7h0.6v0.6h-0.6zM63.8 222.1h0.6v0.6h-0.6zM65.7 218.2h0.6v0.6h-0.6zM61.6 219.4h0.6v0.6h-0.6zM65.3 214.6h0.6v0.6h-0.6zM68.5 212.2h0.6v0.6h-0.6zM62.6 220.0h0.6v0.6h-0.6zM67.2 217.9h0.6v0.6h-0.6zM64.2 218.2h0.6v0.6h-0.6zM64.2 217.4h0.6v0.6h-0.6zM60.5 223.7h0.6v0.6h-0.6zM66.0 217.6h0.6v0.6h-0.6zM64.1 219.3h0.6v0.6h-0.6zM65.2 217.7h0.6v0.6h-0.6zM66.0 213.5h0.6v0.6h-0.6zM64.7 215.9h0.6v0.6h-0.6zM66.2 220.4h0.6v0.6h-0.6zM62.7 219.6h0.6v0.6h-0.6zM65.0 220.1h0.6v0.6h-0.6zM61.3 217.2h0.6v0.6h-0.6zM66.1 216.4h0.6v0.6h-0.6zM65.7 219.8h0.6v0.6h-0.6zM62.9 218.9h0.6v0.6h-0.6zM66.1 218.1h0.6v0.6h-0.6zM65.2 220.1h0.6v0.6h-0.6zM70.0 213.3h0.6v0.6h-0.6zM67.3 211.6h0.6v0.6h-0.6zM68.1 214.8h0.6v0.6h-0.6zM65.3 217.1h0.6v0.6h-0.6zM62.5 217.2h0.6v0.6h-0.6zM65.8 220.3h0.6v0.6h-0.6zM67.5 215.3h0.6v0.6h-0.6zM63.4 217.8h0.6v0.6h-0.6zM64.5 222.4h0.6v0.6h-0.6zM66.9 216.8h0.6v0.6h-0.6zM63.1 217.3h0.6v0.6h-0.6zM69.1 216.5h0.6v0.6h-0.6zM64.2 220.8h0.6v0.6h-0.6zM63.5 220.6h0.6v0.6h-0.6zM62.7 218.9h0.6v0.6h-0.6zM66.9 217.5h0.6v0.6h-0.6zM66.7 214.9h0.6v0.6h-0.6zM70.3 216.8h0.6v0.6h-0.6zM65.8 218.5h0.6v0.6h-0.6zM63.4 219.0h0.6v0.6h-0.6zM62.4 220.3h0.6v0.6h-0.6zM67.2 219.3h0.6v0.6h-0.6zM68.3 217.2h0.6v0.6h-0.6zM64.2 218.1h0.6v0.6h-0.6zM64.8 218.7h0.6v0.6h-0.6zM61.7 222.3h0.6v0.6h-0.6zM61.2 219.9h0.6v0.6h-0.6zM64.8 217.1h0.6v0.6h-0.6zM69.0 214.7h0.6v0.6h-0.6zM70.1 216.6h0.6v0.6h-0.6zM64.6 219.2h0.6v0.6h-0.6z" fill="#000" fill-opacity="1.0"/>
<path d="M69.3 214.2h0.5v0.5h-0.5zM78.4 219.9h0.5v0.5h-0.5zM70.1 225.4h0.5v0.5h-0.5zM60.5 219.1h0.5v0.5h-0.5zM61.6 216.4h0.5v0.5h-0.5zM54.9 218.4h0.5v0.5h-0.5zM73.0 207.3h0.5v0.5h-0.5zM62.7 215.9h0.5v0.5h-0.5zM54.2 214.1h0.5v0.5h-0.5zM61.8 224.7h0.5v0.5h-0.5zM63.7 217.7h0.5v0.5h-0.5zM70.2 217.9h0.5v0.5h-0.5zM75.0 218.1h0.5v0.5h-0.5zM65.8 220.7h0.5v0.5h-0.5zM66.1 210.2h0.5v0.5h-0.5zM66.7 217.4h0.5v0.5h-0.5zM70.0 221.1h0.5v0.5h-0.5zM59.5 216.1h0.5v0.5h-0.5zM66.8 213.4h0.5v0.5h-0.5zM63.9 221.0h0.5v0.5h-0.5zM71.1 221.4h0.5v0.5h-0.5zM60.7 225.1h0.5v0.5h-0.5zM65.4 214.7h0.5v0.5h-0.5zM62.3 218.6h0.5v0.5h-0.5zM70.6 223.6h0.5v0.5h-0.5zM67.9 217.2h0.5v0.5h-0.5zM58.4 223.5h0.5v0.5h-0.5zM64.4 219.0h0.5v0.5h-0.5zM64.4 219.4h0.5v0.5h-0.5zM66.4 217.1h0.5v0.5h-0.5zM60.7 217.2h0.5v0.5h-0.5zM60.8 220.8h0.5v0.5h-0.5zM53.7 223.6h0.5v0.5h-0.5zM70.4 215.9h0.5v0.5h-0.5zM67.6 211.3h0.5v0.5h-0.5zM59.3 218.1h0.5v0.5h-0.5zM63.5 211.7h0.5v0.5h-0.5zM61.5 217.2h0.5v0.5h-0.5zM61.9 215.1h0.5v0.5h-0.5zM62.9 224.4h0.5v0.5h-0.5zM69.8 216.9h0.5v0.5h-0.5zM70.3 214.5h0.5v0.5h-0.5zM66.3 221.0h0.5v0.5h-0.5zM65.0 218.5h0.5v0.5h-0.5zM60.2 222.5h0.5v0.5h-0.5zM64.8 222.6h0.5v0.5h-0.5zM64.8 221.6h0.5v0.5h-0.5zM50.9 223.3h0.5v0.5h-0.5zM71.4 209.7h0.5v0.5h-0.5zM68.9 220.3h0.5v0.5h-0.5zM61.9 226.4h0.5v0.5h-0.5zM65.2 216.8h0.5v0.5h-0.5zM67.1 214.4h0.5v0.5h-0.5zM68.1 216.7h0.5v0.5h-0.5zM62.0 216.8h0.5v0.5h-0.5zM68.5 221.0h0.5v0.5h-0.5zM61.8 218.0h0.5v0.5h-0.5zM73.6 210.6h0.5v0.5h-0.5zM64.3 209.3h0.5v0.5h-0.5zM67.5 218.8h0.5v0.5h-0.5zM67.0 213.1h0.5v0.5h-0.5zM67.0 220.5h0.5v0.5h-0.5zM60.3 217.7h0.5v0.5h-0.5zM64.2 220.1h0.5v0.5h-0.5zM72.6 215.4h0.5v0.5h-0.5zM56.9 223.5h0.5v0.5h-0.5zM63.9 219.0h0.5v0.5h-0.5zM55.6 218.8h0.5v0.5h-0.5zM68.6 217.9h0.5v0.5h-0.5zM63.9 217.1h0.5v0.5h-0.5zM60.5 223.5h0.5v0.5h-0.5zM57.2 220.9h0.5v0.5h-0.5zM63.4 226.8h0.5v0.5h-0.5zM59.8 214.8h0.5v0.5h-0.5zM64.7 224.5h0.5v0.5h-0.5zM61.3 221.6h0.5v0.5h-0.5zM70.0 212.7h0.5v0.5h-0.5zM58.6 223.1h0.5v0.5h-0.5zM58.6 234.7h0.5v0.5h-0.5zM62.9 215.5h0.5v0.5h-0.5zM66.2 218.6h0.5v0.5h-0.5zM61.7 219.4h0.5v0.5h-0.5zM63.2 221.8h0.5v0.5h-0.5zM57.4 209.6h0.5v0.5h-0.5zM75.2 213.5h0.5v0.5h-0.5zM69.6 214.8h0.5v0.5h-0.5zM62.6 226.5h0.5v0.5h-0.5zM63.3 232.0h0.5v0.5h-0.5zM63.6 217.5h0.5v0.5h-0.5zM55.1 233.2h0.5v0.5h-0.5zM59.9 219.8h0.5v0.5h-0.5zM71.1 211.7h0.5v0.5h-0.5zM66.1 221.1h0.5v0.5h-0.5zM66.1 220.2h0.5v0.5h-0.5zM61.2 218.1h0.5v0.5h-0.5zM69.7 222.9h0.5v0.5h-0.5zM68.3 208.1h0.5v0.5h-0.5zM60.3 211.5h0.5v0.5h-0.5zM63.9 222.8h0.5v0.5h-0.5zM70.7 220.2h0.5v0.5h-0.5zM59.9 222.9h0.5v0.5h-0.5zM71.6 223.8h0.5v0.5h-0.5zM61.7 208.9h0.5v0.5h-0.5zM66.6 217.5h0.5v0.5h-0.5zM63.1 216.7h0.5v0.5h-0.5zM62.7 217.7h0.5v0.5h-0.5zM69.0 212.7h0.5v0.5h-0.5zM65.9 217.4h0.5v0.5h-0.5zM62.5 207.1h0.5v0.5h-0.5zM60.8 220.7h0.5v0.5h-0.5zM65.4 218.4h0.5v0.5h-0.5zM64.1 230.7h0.5v0.5h-0.5zM61.9 220.3h0.5v0.5h-0.5zM72.6 221.8h0.5v0.5h-0.5zM60.4 213.4h0.5v0.5h-0.5zM63.2 222.9h0.5v0.5h-0.5zM63.8 221.1h0.5v0.5h-0.5zM68.7 210.2h0.5v0.5h-0.5zM69.6 220.5h0.5v0.5h-0.5zM71.0 215.9h0.5v0.5h-0.5zM51.5 222.8h0.5v0.5h-0.5zM59.2 215.9h0.5v0.5h-0.5zM57.7 221.0h0.5v0.5h-0.5zM67.8 211.1h0.5v0.5h-0.5zM64.3 222.2h0.5v0.5h-0.5zM62.1 223.1h0.5v0.5h-0.5zM50.9 219.4h0.5v0.5h-0.5zM58.7 218.8h0.5v0.5h-0.5zM66.0 219.4h0.5v0.5h-0.5zM61.5 216.8h0.5v0.5h-0.5zM60.6 219.9h0.5v0.5h-0.5zM71.5 214.1h0.5v0.5h-0.5zM58.9 221.7h0.5v0.5h-0.5zM67.7 222.2h0.5v0.5h-0.5zM61.0 225.9h0.5v0.5h-0.5zM58.0 221.6h0.5v0.5h-0.5zM64.1 224.3h0.5v0.5h-0.5zM69.0 222.8h0.5v0.5h-0.5zM67.6 214.1h0.5v0.5h-0.5zM57.4 222.1h0.5v0.5h-0.5zM74.9 219.9h0.5v0.5h-0.5zM59.0 221.2h0.5v0.5h-0.5zM65.8 220.1h0.5v0.5h-0.5zM59.2 223.2h0.5v0.5h-0.5zM60.8 225.9h0.5v0.5h-0.5zM67.8 218.6h0.5v0.5h-0.5zM68.7 218.1h0.5v0.5h-0.5zM55.9 222.9h0.5v0.5h-0.5zM56.3 232.2h0.5v0.5h-0.5zM60.5 222.4h0.5v0.5h-0.5zM63.6 216.7h0.5v0.5h-0.5zM61.9 225.0h0.5v0.5h-0.5zM62.7 222.8h0.5v0.5h-0.5zM67.8 216.8h0.5v0.5h-0.5zM67.5 217.5h0.5v0.5h-0.5zM65.8 222.4h0.5v0.5h-0.5zM64.8 216.7h0.5v0.5h-0.5zM65.5 215.4h0.5v0.5h-0.5zM63.5 212.7h0.5v0.5h-0.5zM70.6 216.1h0.5v0.5h-0.5zM61.8 216.4h0.5v0.5h-0.5zM55.5 216.9h0.5v0.5h-0.5zM61.9 223.5h0.5v0.5h-0.5zM73.3 223.2h0.5v0.5h-0.5zM61.4 225.8h0.5v0.5h-0.5zM73.9 216.1h0.5v0.5h-0.5zM59.3 221.0h0.5v0.5h-0.5zM64.1 217.8h0.5v0.5h-0.5zM60.4 222.1h0.5v0.5h-0.5zM61.4 222.7h0.5v0.5h-0.5zM60.2 223.1h0.5v0.5h-0.5zM65.0 212.8h0.5v0.5h-0.5zM63.8 219.7h0.5v0.5h-0.5zM56.5 221.2h0.5v0.5h-0.5zM70.1 218.4h0.5v0.5h-0.5zM64.6 215.5h0.5v0.5h-0.5zM60.2 211.1h0.5v0.5h-0.5zM58.4 215.9h0.5v0.5h-0.5zM72.9 215.7h0.5v0.5h-0.5zM48.2 221.6h0.5v0.5h-0.5zM65.7 215.8h0.5v0.5h-0.5zM64.0 218.7h0.5v0.5h-0.5zM65.6 221.7h0.5v0.5h-0.5zM68.1 224.9h0.5v0.5h-0.5zM55.3 223.7h0.5v0.5h-0.5zM65.0 225.7h0.5v0.5h-0.5zM65.9 214.2h0.5v0.5h-0.5zM71.5 216.1h0.5v0.5h-0.5zM59.7 222.6h0.5v0.5h-0.5zM60.6 228.5h0.5v0.5h-0.5zM71.8 209.0h0.5v0.5h-0.5zM64.4 223.9h0.5v0.5h-0.5zM59.1 220.0h0.5v0.5h-0.5zM64.1 215.5h0.5v0.5h-0.5zM64.0 213.0h0.5v0.5h-0.5zM67.9 214.7h0.5v0.5h-0.5zM69.8 216.8h0.5v0.5h-0.5zM61.7 218.9h0.5v0.5h-0.5zM55.1 221.4h0.5v0.5h-0.5zM57.6 216.0h0.5v0.5h-0.5zM72.6 224.7h0.5v0.5h-0.5zM67.8 214.2h0.5v0.5h-0.5zM72.2 217.5h0.5v0.5h-0.5zM59.1 225.9h0.5v0.5h-0.5zM70.4 209.7h0.5v0.5h-0.5zM65.3 214.1h0.5v0.5h-0.5zM60.1 219.4h0.5v0.5h-0.5zM75.3 220.8h0.5v0.5h-0.5zM65.0 216.3h0.5v0.5h-0.5zM73.5 211.8h0.5v0.5h-0.5zM60.7 226.2h0.5v0.5h-0.5zM62.1 219.4h0.5v0.5h-0.5zM61.9 215.8h0.5v0.5h-0.5zM77.8 218.1h0.5v0.5h-0.5zM74.1 206.6h0.5v0.5h-0.5zM59.9 220.7h0.5v0.5h-0.5zM62.5 215.3h0.5v0.5h-0.5zM69.7 217.8h0.5v0.5h-0.5zM54.7 219.7h0.5v0.5h-0.5zM67.7 218.9h0.5v0.5h-0.5zM65.2 215.8h0.5v0.5h-0.5zM70.4 215.9h0.5v0.5h-0.5zM62.2 228.3h0.5v0.5h-0.5zM69.3 216.8h0.5v0.5h-0.5zM69.0 225.3h0.5v0.5h-0.5zM63.4 213.2h0.5v0.5h-0.5zM62.2 219.2h0.5v0.5h-0.5zM63.4 213.2h0.5v0.5h-0.5zM73.8 214.4h0.5v0.5h-0.5zM62.2 218.1h0.5v0.5h-0.5zM63.3 222.5h0.5v0.5h-0.5zM66.7 219.1h0.5v0.5h-0.5zM63.5 225.7h0.5v0.5h-0.5zM60.6 221.4h0.5v0.5h-0.5zM65.6 216.3h0.5v0.5h-0.5zM61.9 219.6h0.5v0.5h-0.5zM69.7 220.0h0.5v0.5h-0.5zM63.3 221.6h0.5v0.5h-0.5zM66.6 219.9h0.5v0.5h-0.5zM66.4 214.0h0.5v0.5h-0.5zM76.6 212.0h0.5v0.5h-0.5zM63.6 213.8h0.5v0.5h-0.5zM70.4 224.8h0.5v0.5h-0.5zM64.9 219.4h0.5v0.5h-0.5zM60.9 220.4h0.5v0.5h-0.5zM72.8 216.9h0.5v0.5h-0.5zM56.3 219.6h0.5v0.5h-0.5zM68.3 217.4h0.5v0.5h-0.5zM65.8 217.6h0.5v0.5h-0.5zM57.2 214.6h0.5v0.5h-0.5zM64.4 214.6h0.5v0.5h-0.5zM76.9 211.5h0.5v0.5h-0.5zM63.0 220.7h0.5v0.5h-0.5zM59.4 212.6h0.5v0.5h-0.5zM63.8 221.5h0.5v0.5h-0.5zM66.7 220.5h0.5v0.5h-0.5zM73.1 213.0h0.5v0.5h-0.5zM57.3 223.1h0.5v0.5h-0.5zM61.0 212.7h0.5v0.5h-0.5zM56.1 218.2h0.5v0.5h-0.5zM73.5 217.2h0.5v0.5h-0.5zM74.8 221.3h0.5v0.5h-0.5zM63.5 217.0h0.5v0.5h-0.5zM71.7 210.6h0.5v0.5h-0.5zM65.6 211.1h0.5v0.5h-0.5zM58.4 225.3h0.5v0.5h-0.5zM65.8 215.3h0.5v0.5h-0.5zM46.6 226.6h0.5v0.5h-0.5zM73.6 211.0h0.5v0.5h-0.5zM65.3 214.5h0.5v0.5h-0.5zM61.4 221.3h0.5v0.5h-0.5zM68.6 212.5h0.5v0.5h-0.5zM60.6 225.3h0.5v0.5h-0.5zM56.5 214.9h0.5v0.5h-0.5zM63.3 220.2h0.5v0.5h-0.5zM65.2 214.7h0.5v0.5h-0.5zM63.3 219.4h0.5v0.5h-0.5zM64.5 214.4h0.5v0.5h-0.5zM59.9 222.7h0.5v0.5h-0.5zM62.1 226.5h0.5v0.5h-0.5zM64.8 220.5h0.5v0.5h-0.5zM61.1 216.3h0.5v0.5h-0.5zM64.4 216.6h0.5v0.5h-0.5zM76.9 213.5h0.5v0.5h-0.5zM68.2 228.3h0.5v0.5h-0.5zM70.0 223.9h0.5v0.5h-0.5zM67.1 214.1h0.5v0.5h-0.5zM68.6 214.7h0.5v0.5h-0.5zM73.7 223.2h0.5v0.5h-0.5zM64.3 218.6h0.5v0.5h-0.5zM68.3 214.7h0.5v0.5h-0.5zM67.3 223.0h0.5v0.5h-0.5zM54.2 222.1h0.5v0.5h-0.5zM60.4 227.3h0.5v0.5h-0.5zM62.9 218.0h0.5v0.5h-0.5zM54.0 229.3h0.5v0.5h-0.5zM58.0 216.8h0.5v0.5h-0.5zM57.9 221.8h0.5v0.5h-0.5zM60.6 221.0h0.5v0.5h-0.5zM73.7 215.5h0.5v0.5h-0.5zM59.3 220.2h0.5v0.5h-0.5zM68.1 212.1h0.5v0.5h-0.5zM70.8 215.7h0.5v0.5h-0.5zM76.1 207.5h0.5v0.5h-0.5zM52.2 220.6h0.5v0.5h-0.5zM60.6 225.3h0.5v0.5h-0.5zM66.5 225.8h0.5v0.5h-0.5zM59.9 220.3h0.5v0.5h-0.5zM57.0 217.2h0.5v0.5h-0.5zM59.4 228.9h0.5v0.5h-0.5zM60.6 216.5h0.5v0.5h-0.5zM55.8 220.5h0.5v0.5h-0.5zM63.9 220.9h0.5v0.5h-0.5zM65.6 216.1h0.5v0.5h-0.5zM70.7 220.6h0.5v0.5h-0.5zM64.9 221.8h0.5v0.5h-0.5zM67.6 215.8h0.5v0.5h-0.5zM67.3 215.6h0.5v0.5h-0.5zM62.4 220.8h0.5v0.5h-0.5zM62.4 222.2h0.5v0.5h-0.5zM65.4 220.6h0.5v0.5h-0.5zM57.4 225.4h0.5v0.5h-0.5zM63.2 214.1h0.5v0.5h-0.5zM62.5 214.8h0.5v0.5h-0.5zM56.6 215.8h0.5v0.5h-0.5zM60.9 228.2h0.5v0.5h-0.5zM65.8 224.9h0.5v0.5h-0.5zM64.2 217.6h0.5v0.5h-0.5zM60.3 219.7h0.5v0.5h-0.5zM66.4 222.8h0.5v0.5h-0.5zM56.4 221.5h0.5v0.5h-0.5zM56.4 229.8h0.5v0.5h-0.5zM64.7 223.5h0.5v0.5h-0.5zM58.0 218.0h0.5v0.5h-0.5zM59.0 227.9h0.5v0.5h-0.5zM63.7 222.4h0.5v0.5h-0.5zM63.8 220.9h0.5v0.5h-0.5zM58.7 221.1h0.5v0.5h-0.5zM66.1 215.9h0.5v0.5h-0.5zM69.9 217.0h0.5v0.5h-0.5zM66.3 212.2h0.5v0.5h-0.5zM60.2 225.1h0.5v0.5h-0.5zM66.1 211.7h0.5v0.5h-0.5zM70.5 219.7h0.5v0.5h-0.5zM55.5 224.1h0.5v0.5h-0.5zM60.6 213.1h0.5v0.5h-0.5zM65.5 216.3h0.5v0.5h-0.5zM59.2 214.9h0.5v0.5h-0.5zM70.8 216.8h0.5v0.5h-0.5zM65.6 221.6h0.5v0.5h-0.5zM71.0 217.6h0.5v0.5h-0.5zM64.2 215.0h0.5v0.5h-0.5zM75.6 215.7h0.5v0.5h-0.5zM74.0 212.8h0.5v0.5h-0.5zM64.9 219.8h0.5v0.5h-0.5zM46.6 224.5h0.5v0.5h-0.5zM64.8 216.0h0.5v0.5h-0.5zM59.7 218.2h0.5v0.5h-0.5zM61.2 219.4h0.5v0.5h-0.5zM69.9 222.5h0.5v0.5h-0.5zM63.3 219.0h0.5v0.5h-0.5zM70.8 215.5h0.5v0.5h-0.5zM71.2 216.5h0.5v0.5h-0.5zM59.3 219.5h0.5v0.5h-0.5zM61.3 219.0h0.5v0.5h-0.5zM71.8 213.7h0.5v0.5h-0.5zM61.9 238.9h0.5v0.5h-0.5zM62.0 220.4h0.5v0.5h-0.5zM58.3 215.8h0.5v0.5h-0.5zM63.9 221.5h0.5v0.5h-0.5zM65.1 220.8h0.5v0.5h-0.5zM57.7 222.1h0.5v0.5h-0.5zM61.9 216.8h0.5v0.5h-0.5zM57.6 220.6h0.5v0.5h-0.5zM60.1 211.8h0.5v0.5h-0.5zM57.0 211.4h0.5v0.5h-0.5zM65.0 218.8h0.5v0.5h-0.5zM59.8 214.1h0.5v0.5h-0.5zM63.7 221.0h0.5v0.5h-0.5zM71.9 213.5h0.5v0.5h-0.5zM67.7 219.7h0.5v0.5h-0.5zM64.1 211.9h0.5v0.5h-0.5zM67.1 218.3h0.5v0.5h-0.5zM52.9 227.8h0.5v0.5h-0.5zM63.9 214.5h0.5v0.5h-0.5zM66.7 218.6h0.5v0.5h-0.5zM60.5 220.8h0.5v0.5h-0.5zM74.7 213.3h0.5v0.5h-0.5zM75.8 207.1h0.5v0.5h-0.5zM62.3 216.0h0.5v0.5h-0.5zM65.8 212.7h0.5v0.5h-0.5zM68.8 222.0h0.5v0.5h-0.5zM72.8 213.7h0.5v0.5h-0.5zM63.4 219.4h0.5v0.5h-0.5zM62.3 219.5h0.5v0.5h-0.5zM54.3 218.2h0.5v0.5h-0.5zM60.7 218.1h0.5v0.5h-0.5zM68.7 212.2h0.5v0.5h-0.5zM61.1 219.0h0.5v0.5h-0.5zM59.4 223.2h0.5v0.5h-0.5zM58.8 214.4h0.5v0.5h-0.5zM63.6 217.6h0.5v0.5h-0.5zM60.8 224.4h0.5v0.5h-0.5zM67.6 222.5h0.5v0.5h-0.5zM62.4 220.2h0.5v0.5h-0.5zM62.3 218.7h0.5v0.5h-0.5zM68.1 216.0h0.5v0.5h-0.5zM63.1 211.7h0.5v0.5h-0.5zM63.5 217.2h0.5v0.5h-0.5zM67.8 217.3h0.5v0.5h-0.5zM68.2 221.8h0.5v0.5h-0.5zM52.2 217.1h0.5v0.5h-0.5zM65.3 218.7h0.5v0.5h-0.5zM77.0 217.4h0.5v0.5h-0.5zM73.5 222.8h0.5v0.5h-0.5zM62.4 219.7h0.5v0.5h-0.5zM65.9 213.6h0.5v0.5h-0.5zM58.0 222.5h0.5v0.5h-0.5zM64.2 215.7h0.5v0.5h-0.5zM59.9 220.3h0.5v0.5h-0.5zM65.5 210.5h0.5v0.5h-0.5zM73.3 218.6h0.5v0.5h-0.5zM63.1 220.2h0.5v0.5h-0.5zM57.1 221.3h0.5v0.5h-0.5zM60.1 213.7h0.5v0.5h-0.5zM70.0 217.9h0.5v0.5h-0.5zM63.6 216.6h0.5v0.5h-0.5zM66.9 217.9h0.5v0.5h-0.5zM58.2 219.2h0.5v0.5h-0.5zM60.7 224.0h0.5v0.5h-0.5zM69.1 212.4h0.5v0.5h-0.5zM69.9 211.1h0.5v0.5h-0.5zM71.3 215.4h0.5v0.5h-0.5zM55.1 229.4h0.5v0.5h-0.5zM68.3 214.6h0.5v0.5h-0.5zM66.3 221.5h0.5v0.5h-0.5zM64.3 220.5h0.5v0.5h-0.5zM70.2 214.3h0.5v0.5h-0.5zM61.9 213.0h0.5v0.5h-0.5zM62.7 215.4h0.5v0.5h-0.5zM63.7 219.6h0.5v0.5h-0.5zM70.3 207.5h0.5v0.5h-0.5zM62.4 213.1h0.5v0.5h-0.5zM63.4 211.3h0.5v0.5h-0.5zM64.8 215.0h0.5v0.5h-0.5zM62.7 223.2h0.5v0.5h-0.5zM69.4 219.8h0.5v0.5h-0.5zM51.6 223.9h0.5v0.5h-0.5zM68.5 213.0h0.5v0.5h-0.5zM68.6 217.8h0.5v0.5h-0.5zM65.1 217.7h0.5v0.5h-0.5zM52.7 208.7h0.5v0.5h-0.5zM59.3 224.2h0.5v0.5h-0.5zM60.2 212.2h0.5v0.5h-0.5zM64.9 219.2h0.5v0.5h-0.5zM66.6 220.0h0.5v0.5h-0.5zM58.8 217.7h0.5v0.5h-0.5zM55.6 219.6h0.5v0.5h-0.5zM69.2 217.1h0.5v0.5h-0.5zM63.2 222.0h0.5v0.5h-0.5zM52.9 226.2h0.5v0.5h-0.5zM67.3 226.6h0.5v0.5h-0.5zM69.1 218.0h0.5v0.5h-0.5zM60.9 216.6h0.5v0.5h-0.5zM77.6 216.7h0.5v0.5h-0.5zM64.6 217.6h0.5v0.5h-0.5zM69.2 223.3h0.5v0.5h-0.5zM55.7 215.5h0.5v0.5h-0.5zM75.1 224.0h0.5v0.5h-0.5zM59.2 217.2h0.5v0.5h-0.5zM67.7 219.9h0.5v0.5h-0.5zM68.7 215.4h0.5v0.5h-0.5zM58.3 220.1h0.5v0.5h-0.5zM78.2 211.1h0.5v0.5h-0.5zM68.2 215.3h0.5v0.5h-0.5zM74.3 219.6h0.5v0.5h-0.5zM61.4 226.3h0.5v0.5h-0.5zM68.7 225.1h0.5v0.5h-0.5zM60.0 227.7h0.5v0.5h-0.5zM67.2 220.0h0.5v0.5h-0.5zM62.0 224.9h0.5v0.5h-0.5zM65.1 217.2h0.5v0.5h-0.5zM65.7 212.1h0.5v0.5h-0.5zM62.6 220.5h0.5v0.5h-0.5zM62.5 217.0h0.5v0.5h-0.5z" fill="#000" fill-opacity="0.35"/>
<path d="M61.6 239.1h0.5v0.5h-0.5zM62.7 240.4h0.5v0.5h-0.5zM62.9 239.3h0.5v0.5h-0.5zM61.5 240.1h0.5v0.5h-0.5zM64.1 238.4h0.5v0.5h-0.5zM63.4 239.4h0.5v0.5h-0.5zM62.4 237.3h0.5v0.5h-0.5zM65.0 236.6h0.5v0.5h-0.5zM62.9 238.5h0.5v0.5h-0.5zM64.1 238.5h0.5v0.5h-0.5zM62.6 239.8h0.5v0.5h-0.5zM63.1 238.3h0.5v0.5h-0.5zM63.5 239.5h0.5v0.5h-0.5zM63.9 238.3h0.5v0.5h-0.5zM62.4 238.5h0.5v0.5h-0.5zM61.3 239.3h0.5v0.5h-0.5zM63.1 240.8h0.5v0.5h-0.5zM62.0 239.5h0.5v0.5h-0.5zM64.1 238.9h0.5v0.5h-0.5zM62.6 239.2h0.5v0.5h-0.5zM61.5 237.7h0.5v0.5h-0.5zM64.1 239.2h0.5v0.5h-0.5zM62.4 237.4h0.5v0.5h-0.5zM62.7 240.5h0.5v0.5h-0.5zM60.9 237.8h0.5v0.5h-0.5zM64.0 240.9h0.5v0.5h-0.5zM64.7 238.3h0.5v0.5h-0.5zM63.3 238.0h0.5v0.5h-0.5zM63.2 238.5h0.5v0.5h-0.5zM62.8 240.7h0.5v0.5h-0.5zM63.0 238.7h0.5v0.5h-0.5zM62.6 239.3h0.5v0.5h-0.5zM61.8 239.3h0.5v0.5h-0.5zM63.3 241.0h0.5v0.5h-0.5zM59.6 237.5h0.5v0.5h-0.5zM60.8 240.1h0.5v0.5h-0.5zM65.9 239.3h0.5v0.5h-0.5zM62.7 240.5h0.5v0.5h-0.5zM59.1 238.8h0.5v0.5h-0.5zM58.2 239.2h0.5v0.5h-0.5zM61.8 238.4h0.5v0.5h-0.5zM63.0 238.2h0.5v0.5h-0.5zM64.0 239.0h0.5v0.5h-0.5zM63.0 242.3h0.5v0.5h-0.5zM61.9 240.2h0.5v0.5h-0.5zM61.4 240.6h0.5v0.5h-0.5zM63.8 239.2h0.5v0.5h-0.5zM63.9 241.1h0.5v0.5h-0.5zM64.4 239.0h0.5v0.5h-0.5zM62.4 240.4h0.5v0.5h-0.5zM60.5 238.2h0.5v0.5h-0.5zM63.2 239.7h0.5v0.5h-0.5zM65.1 241.3h0.5v0.5h-0.5zM63.0 239.6h0.5v0.5h-0.5zM60.7 238.8h0.5v0.5h-0.5zM62.9 238.7h0.5v0.5h-0.5zM62.6 239.8h0.5v0.5h-0.5zM61.2 238.3h0.5v0.5h-0.5zM60.0 240.5h0.5v0.5h-0.5zM61.0 236.8h0.5v0.5h-0.5zM63.6 238.7h0.5v0.5h-0.5zM63.8 238.5h0.5v0.5h-0.5zM65.4 239.9h0.5v0.5h-0.5zM62.7 239.1h0.5v0.5h-0.5zM62.2 240.0h0.5v0.5h-0.5zM65.3 238.5h0.5v0.5h-0.5zM61.0 239.8h0.5v0.5h-0.5zM64.0 237.1h0.5v0.5h-0.5zM61.5 237.7h0.5v0.5h-0.5zM63.3 239.6h0.5v0.5h-0.5zM61.5 237.6h0.5v0.5h-0.5zM63.4 236.4h0.5v0.5h-0.5zM63.4 238.8h0.5v0.5h-0.5zM65.2 240.3h0.5v0.5h-0.5zM61.7 238.6h0.5v0.5h-0.5zM62.1 238.1h0.5v0.5h-0.5zM62.6 240.2h0.5v0.5h-0.5zM60.4 238.7h0.5v0.5h-0.5zM64.6 240.0h0.5v0.5h-0.5zM61.4 238.0h0.5v0.5h-0.5zM61.3 236.9h0.5v0.5h-0.5zM64.1 239.1h0.5v0.5h-0.5zM61.5 237.2h0.5v0.5h-0.5zM62.0 238.3h0.5v0.5h-0.5zM64.9 238.4h0.5v0.5h-0.5zM62.7 240.4h0.5v0.5h-0.5zM63.4 238.8h0.5v0.5h-0.5zM59.5 240.8h0.5v0.5h-0.5zM63.3 238.4h0.5v0.5h-0.5zM62.4 237.8h0.5v0.5h-0.5zM61.3 237.1h0.5v0.5h-0.5zM63.2 239.7h0.5v0.5h-0.5zM62.7 240.0h0.5v0.5h-0.5zM63.2 239.2h0.5v0.5h-0.5zM61.3 239.8h0.5v0.5h-0.5zM64.1 239.8h0.5v0.5h-0.5zM64.2 238.4h0.5v0.5h-0.5zM61.2 240.6h0.5v0.5h-0.5zM61.7 239.3h0.5v0.5h-0.5zM62.2 239.0h0.5v0.5h-0.5zM62.1 238.3h0.5v0.5h-0.5zM60.0 241.4h0.5v0.5h-0.5zM62.8 236.5h0.5v0.5h-0.5zM61.3 237.6h0.5v0.5h-0.5zM61.5 235.7h0.5v0.5h-0.5zM63.3 241.1h0.5v0.5h-0.5zM62.2 239.9h0.5v0.5h-0.5zM63.3 237.4h0.5v0.5h-0.5zM64.2 236.9h0.5v0.5h-0.5zM61.7 238.5h0.5v0.5h-0.5zM64.2 239.2h0.5v0.5h-0.5zM62.3 238.0h0.5v0.5h-0.5zM62.6 239.1h0.5v0.5h-0.5zM63.5 240.8h0.5v0.5h-0.5zM63.5 239.0h0.5v0.5h-0.5zM62.3 241.0h0.5v0.5h-0.5zM62.8 239.0h0.5v0.5h-0.5zM65.0 241.0h0.5v0.5h-0.5zM63.3 238.9h0.5v0.5h-0.5zM61.6 240.4h0.5v0.5h-0.5z" fill="#000" fill-opacity="0.6"/>
<path d="M60.7 240.6h0.5v0.5h-0.5zM59.4 237.4h0.5v0.5h-0.5zM64.1 237.5h0.5v0.5h-0.5zM63.4 238.4h0.5v0.5h-0.5zM58.1 232.9h0.5v0.5h-0.5zM61.9 243.7h0.5v0.5h-0.5zM62.0 233.6h0.5v0.5h-0.5zM59.9 237.1h0.5v0.5h-0.5zM67.1 234.9h0.5v0.5h-0.5zM64.7 237.7h0.5v0.5h-0.5zM61.1 233.5h0.5v0.5h-0.5zM61.9 234.3h0.5v0.5h-0.5zM64.6 230.5h0.5v0.5h-0.5zM66.9 239.8h0.5v0.5h-0.5zM64.8 242.6h0.5v0.5h-0.5zM64.9 230.7h0.5v0.5h-0.5zM62.7 238.7h0.5v0.5h-0.5zM59.8 232.8h0.5v0.5h-0.5zM64.2 238.9h0.5v0.5h-0.5zM60.8 236.1h0.5v0.5h-0.5zM60.5 234.9h0.5v0.5h-0.5zM62.3 241.0h0.5v0.5h-0.5zM56.2 235.7h0.5v0.5h-0.5zM68.8 238.2h0.5v0.5h-0.5zM63.1 240.1h0.5v0.5h-0.5zM58.6 232.5h0.5v0.5h-0.5zM56.0 231.6h0.5v0.5h-0.5zM63.5 240.1h0.5v0.5h-0.5zM60.9 234.5h0.5v0.5h-0.5zM64.1 239.3h0.5v0.5h-0.5zM63.5 229.9h0.5v0.5h-0.5zM60.4 227.6h0.5v0.5h-0.5zM63.4 233.9h0.5v0.5h-0.5zM59.9 242.6h0.5v0.5h-0.5zM67.7 238.8h0.5v0.5h-0.5zM63.6 237.6h0.5v0.5h-0.5zM60.2 236.8h0.5v0.5h-0.5zM69.9 233.8h0.5v0.5h-0.5zM59.9 237.6h0.5v0.5h-0.5zM66.0 240.1h0.5v0.5h-0.5zM58.7 236.5h0.5v0.5h-0.5zM61.5 232.4h0.5v0.5h-0.5zM62.8 235.2h0.5v0.5h-0.5zM66.1 238.6h0.5v0.5h-0.5zM59.5 237.3h0.5v0.5h-0.5zM61.1 234.7h0.5v0.5h-0.5zM60.6 240.9h0.5v0.5h-0.5zM60.9 230.7h0.5v0.5h-0.5zM59.5 240.0h0.5v0.5h-0.5zM70.9 233.1h0.5v0.5h-0.5zM61.1 235.8h0.5v0.5h-0.5zM57.0 238.5h0.5v0.5h-0.5zM62.3 238.0h0.5v0.5h-0.5zM71.2 236.0h0.5v0.5h-0.5zM65.6 240.1h0.5v0.5h-0.5zM60.0 234.8h0.5v0.5h-0.5zM68.6 239.6h0.5v0.5h-0.5zM63.1 233.0h0.5v0.5h-0.5zM65.9 238.9h0.5v0.5h-0.5zM71.0 242.4h0.5v0.5h-0.5zM65.6 238.0h0.5v0.5h-0.5zM62.7 235.0h0.5v0.5h-0.5zM63.7 237.9h0.5v0.5h-0.5zM65.0 241.0h0.5v0.5h-0.5zM63.7 235.0h0.5v0.5h-0.5zM65.6 242.7h0.5v0.5h-0.5zM59.3 238.6h0.5v0.5h-0.5zM64.6 239.0h0.5v0.5h-0.5zM64.5 236.7h0.5v0.5h-0.5zM62.1 243.2h0.5v0.5h-0.5zM69.2 231.8h0.5v0.5h-0.5zM52.6 238.6h0.5v0.5h-0.5zM59.9 235.1h0.5v0.5h-0.5zM56.3 238.3h0.5v0.5h-0.5zM62.3 235.0h0.5v0.5h-0.5zM68.2 241.3h0.5v0.5h-0.5zM60.9 239.4h0.5v0.5h-0.5zM62.4 241.3h0.5v0.5h-0.5zM64.8 236.9h0.5v0.5h-0.5zM64.6 234.4h0.5v0.5h-0.5zM65.6 242.6h0.5v0.5h-0.5zM61.1 239.1h0.5v0.5h-0.5zM56.0 240.5h0.5v0.5h-0.5zM65.9 233.2h0.5v0.5h-0.5zM69.3 237.4h0.5v0.5h-0.5zM55.8 231.9h0.5v0.5h-0.5zM65.9 236.0h0.5v0.5h-0.5zM66.8 231.3h0.5v0.5h-0.5zM62.1 240.6h0.5v0.5h-0.5zM59.9 239.5h0.5v0.5h-0.5zM61.1 238.3h0.5v0.5h-0.5zM63.8 245.2h0.5v0.5h-0.5zM57.7 239.9h0.5v0.5h-0.5zM67.6 232.9h0.5v0.5h-0.5zM66.6 226.1h0.5v0.5h-0.5zM61.6 230.7h0.5v0.5h-0.5zM63.7 234.3h0.5v0.5h-0.5zM60.3 233.9h0.5v0.5h-0.5zM63.6 235.3h0.5v0.5h-0.5zM59.0 236.2h0.5v0.5h-0.5zM64.1 233.8h0.5v0.5h-0.5zM66.8 230.9h0.5v0.5h-0.5zM64.1 235.6h0.5v0.5h-0.5zM68.6 234.6h0.5v0.5h-0.5zM59.9 232.0h0.5v0.5h-0.5zM70.2 239.3h0.5v0.5h-0.5zM58.3 235.8h0.5v0.5h-0.5zM58.8 242.6h0.5v0.5h-0.5zM64.1 229.5h0.5v0.5h-0.5zM63.3 240.4h0.5v0.5h-0.5zM62.5 238.7h0.5v0.5h-0.5zM62.1 237.8h0.5v0.5h-0.5zM63.3 234.4h0.5v0.5h-0.5zM63.9 237.6h0.5v0.5h-0.5zM62.4 234.5h0.5v0.5h-0.5zM58.6 237.9h0.5v0.5h-0.5zM65.7 228.1h0.5v0.5h-0.5zM60.4 242.0h0.5v0.5h-0.5zM66.1 234.4h0.5v0.5h-0.5zM67.8 233.4h0.5v0.5h-0.5zM59.4 244.2h0.5v0.5h-0.5zM60.8 236.2h0.5v0.5h-0.5zM56.1 233.3h0.5v0.5h-0.5zM57.9 236.5h0.5v0.5h-0.5zM55.4 240.9h0.5v0.5h-0.5zM61.1 234.8h0.5v0.5h-0.5zM60.0 239.7h0.5v0.5h-0.5zM68.5 235.5h0.5v0.5h-0.5zM68.8 243.0h0.5v0.5h-0.5zM67.7 238.1h0.5v0.5h-0.5zM56.7 239.5h0.5v0.5h-0.5zM60.9 237.7h0.5v0.5h-0.5zM55.2 236.0h0.5v0.5h-0.5zM63.4 233.5h0.5v0.5h-0.5zM63.6 243.2h0.5v0.5h-0.5zM63.4 234.5h0.5v0.5h-0.5zM71.8 229.0h0.5v0.5h-0.5zM58.9 238.5h0.5v0.5h-0.5zM60.2 228.5h0.5v0.5h-0.5zM63.5 240.1h0.5v0.5h-0.5zM59.4 242.4h0.5v0.5h-0.5zM64.4 241.4h0.5v0.5h-0.5zM56.6 237.0h0.5v0.5h-0.5zM68.7 244.5h0.5v0.5h-0.5zM67.6 237.0h0.5v0.5h-0.5zM63.2 234.7h0.5v0.5h-0.5zM66.8 234.4h0.5v0.5h-0.5zM63.0 229.4h0.5v0.5h-0.5zM56.6 243.6h0.5v0.5h-0.5zM62.7 237.8h0.5v0.5h-0.5zM53.9 236.9h0.5v0.5h-0.5zM70.6 231.5h0.5v0.5h-0.5zM53.2 236.4h0.5v0.5h-0.5zM60.4 236.2h0.5v0.5h-0.5zM57.6 232.0h0.5v0.5h-0.5zM57.7 239.4h0.5v0.5h-0.5zM62.3 240.0h0.5v0.5h-0.5zM58.3 239.2h0.5v0.5h-0.5zM60.8 237.3h0.5v0.5h-0.5zM66.1 237.1h0.5v0.5h-0.5zM61.1 230.8h0.5v0.5h-0.5zM62.7 239.9h0.5v0.5h-0.5zM60.0 236.8h0.5v0.5h-0.5zM55.6 232.0h0.5v0.5h-0.5zM64.1 241.8h0.5v0.5h-0.5zM61.3 230.8h0.5v0.5h-0.5zM61.0 231.2h0.5v0.5h-0.5zM61.4 244.2h0.5v0.5h-0.5zM63.7 236.4h0.5v0.5h-0.5zM66.6 235.6h0.5v0.5h-0.5zM63.8 237.7h0.5v0.5h-0.5zM64.2 231.5h0.5v0.5h-0.5zM65.3 240.3h0.5v0.5h-0.5zM53.6 226.9h0.5v0.5h-0.5zM59.0 242.6h0.5v0.5h-0.5zM62.6 239.5h0.5v0.5h-0.5zM64.7 240.3h0.5v0.5h-0.5zM60.0 234.8h0.5v0.5h-0.5zM64.0 239.3h0.5v0.5h-0.5zM64.8 238.3h0.5v0.5h-0.5zM60.6 241.1h0.5v0.5h-0.5zM64.4 241.0h0.5v0.5h-0.5zM52.5 240.8h0.5v0.5h-0.5zM52.9 237.8h0.5v0.5h-0.5zM59.9 237.5h0.5v0.5h-0.5zM60.6 235.8h0.5v0.5h-0.5zM63.3 238.3h0.5v0.5h-0.5zM59.4 227.5h0.5v0.5h-0.5zM59.4 239.0h0.5v0.5h-0.5zM59.2 238.6h0.5v0.5h-0.5zM61.0 233.5h0.5v0.5h-0.5zM67.1 243.2h0.5v0.5h-0.5zM62.1 236.8h0.5v0.5h-0.5zM66.3 232.0h0.5v0.5h-0.5zM59.1 241.2h0.5v0.5h-0.5zM66.1 235.1h0.5v0.5h-0.5zM59.4 238.3h0.5v0.5h-0.5zM56.9 235.1h0.5v0.5h-0.5zM61.6 227.8h0.5v0.5h-0.5zM64.8 239.9h0.5v0.5h-0.5zM66.7 231.6h0.5v0.5h-0.5zM57.4 233.9h0.5v0.5h-0.5zM57.3 244.7h0.5v0.5h-0.5zM58.6 235.8h0.5v0.5h-0.5zM63.3 238.7h0.5v0.5h-0.5zM68.2 232.9h0.5v0.5h-0.5zM66.0 237.6h0.5v0.5h-0.5zM57.9 237.6h0.5v0.5h-0.5zM56.9 243.1h0.5v0.5h-0.5zM59.6 240.8h0.5v0.5h-0.5zM67.7 234.7h0.5v0.5h-0.5zM58.9 237.5h0.5v0.5h-0.5zM58.3 240.4h0.5v0.5h-0.5zM63.2 234.1h0.5v0.5h-0.5zM59.8 239.7h0.5v0.5h-0.5zM56.7 243.4h0.5v0.5h-0.5zM59.4 236.3h0.5v0.5h-0.5zM58.8 243.1h0.5v0.5h-0.5zM65.8 241.9h0.5v0.5h-0.5zM65.1 237.3h0.5v0.5h-0.5zM69.2 239.5h0.5v0.5h-0.5zM64.2 239.2h0.5v0.5h-0.5zM65.4 238.1h0.5v0.5h-0.5zM61.8 231.0h0.5v0.5h-0.5zM70.7 232.1h0.5v0.5h-0.5zM53.9 234.3h0.5v0.5h-0.5zM70.2 241.6h0.5v0.5h-0.5zM60.1 238.0h0.5v0.5h-0.5zM62.4 229.5h0.5v0.5h-0.5zM61.2 238.1h0.5v0.5h-0.5zM67.2 232.4h0.5v0.5h-0.5zM53.5 231.0h0.5v0.5h-0.5zM63.8 237.3h0.5v0.5h-0.5zM63.1 237.6h0.5v0.5h-0.5zM61.0 231.8h0.5v0.5h-0.5zM64.3 238.5h0.5v0.5h-0.5zM64.8 241.7h0.5v0.5h-0.5zM57.6 228.1h0.5v0.5h-0.5zM55.4 245.1h0.5v0.5h-0.5zM58.8 238.5h0.5v0.5h-0.5zM62.4 239.8h0.5v0.5h-0.5zM75.3 235.0h0.5v0.5h-0.5zM61.8 234.7h0.5v0.5h-0.5zM63.5 239.0h0.5v0.5h-0.5zM58.6 242.0h0.5v0.5h-0.5zM67.1 238.7h0.5v0.5h-0.5zM62.1 236.1h0.5v0.5h-0.5zM55.9 239.5h0.5v0.5h-0.5zM58.6 235.1h0.5v0.5h-0.5zM66.5 233.5h0.5v0.5h-0.5zM60.4 240.3h0.5v0.5h-0.5zM69.9 234.4h0.5v0.5h-0.5zM66.9 234.5h0.5v0.5h-0.5zM64.1 238.8h0.5v0.5h-0.5zM57.9 240.9h0.5v0.5h-0.5zM69.7 237.2h0.5v0.5h-0.5zM63.6 232.5h0.5v0.5h-0.5zM69.7 237.2h0.5v0.5h-0.5zM57.4 239.9h0.5v0.5h-0.5zM56.7 234.4h0.5v0.5h-0.5zM54.0 242.2h0.5v0.5h-0.5zM71.3 234.6h0.5v0.5h-0.5zM59.9 234.8h0.5v0.5h-0.5zM60.2 239.1h0.5v0.5h-0.5zM68.3 233.2h0.5v0.5h-0.5zM64.3 230.1h0.5v0.5h-0.5zM68.6 236.7h0.5v0.5h-0.5zM59.7 242.8h0.5v0.5h-0.5zM62.1 242.2h0.5v0.5h-0.5zM66.8 243.3h0.5v0.5h-0.5zM59.3 237.2h0.5v0.5h-0.5zM64.0 236.3h0.5v0.5h-0.5zM68.6 234.3h0.5v0.5h-0.5zM66.5 242.2h0.5v0.5h-0.5zM54.7 233.3h0.5v0.5h-0.5zM58.9 234.9h0.5v0.5h-0.5zM64.1 236.3h0.5v0.5h-0.5zM62.8 235.3h0.5v0.5h-0.5zM62.2 238.8h0.5v0.5h-0.5zM65.5 234.0h0.5v0.5h-0.5zM62.0 234.1h0.5v0.5h-0.5zM61.8 231.5h0.5v0.5h-0.5zM66.3 239.6h0.5v0.5h-0.5zM62.0 234.4h0.5v0.5h-0.5zM60.7 234.5h0.5v0.5h-0.5zM56.3 243.2h0.5v0.5h-0.5zM75.7 232.3h0.5v0.5h-0.5zM57.8 239.2h0.5v0.5h-0.5zM64.9 231.0h0.5v0.5h-0.5zM54.8 239.1h0.5v0.5h-0.5zM54.5 242.4h0.5v0.5h-0.5zM60.5 237.3h0.5v0.5h-0.5zM62.5 234.9h0.5v0.5h-0.5zM61.9 235.9h0.5v0.5h-0.5zM67.5 236.7h0.5v0.5h-0.5zM62.4 235.0h0.5v0.5h-0.5zM60.0 234.2h0.5v0.5h-0.5zM62.5 244.0h0.5v0.5h-0.5zM67.0 237.9h0.5v0.5h-0.5zM69.2 240.9h0.5v0.5h-0.5zM63.3 236.4h0.5v0.5h-0.5zM58.1 237.9h0.5v0.5h-0.5zM61.2 231.0h0.5v0.5h-0.5zM57.4 244.4h0.5v0.5h-0.5zM63.4 238.9h0.5v0.5h-0.5zM63.3 235.2h0.5v0.5h-0.5zM64.3 241.1h0.5v0.5h-0.5zM61.3 238.9h0.5v0.5h-0.5zM66.6 235.2h0.5v0.5h-0.5zM63.2 234.2h0.5v0.5h-0.5zM64.9 235.6h0.5v0.5h-0.5zM67.1 234.1h0.5v0.5h-0.5zM69.3 235.8h0.5v0.5h-0.5zM59.1 233.6h0.5v0.5h-0.5zM65.2 233.7h0.5v0.5h-0.5zM69.7 241.9h0.5v0.5h-0.5zM64.6 231.6h0.5v0.5h-0.5zM62.4 234.2h0.5v0.5h-0.5z" fill="#000" fill-opacity="0.35"/>
<path d="M51.9 258.1h0.5v0.5h-0.5zM72.0 253.3h0.5v0.5h-0.5zM65.0 262.4h0.5v0.5h-0.5zM56.2 254.3h0.5v0.5h-0.5zM62.3 258.4h0.5v0.5h-0.5zM55.3 257.1h0.5v0.5h-0.5zM60.5 260.8h0.5v0.5h-0.5zM53.0 253.2h0.5v0.5h-0.5zM58.5 254.4h0.5v0.5h-0.5zM64.6 252.9h0.5v0.5h-0.5zM74.7 252.5h0.5v0.5h-0.5zM65.2 261.1h0.5v0.5h-0.5zM65.8 255.0h0.5v0.5h-0.5zM56.9 254.7h0.5v0.5h-0.5zM64.3 256.6h0.5v0.5h-0.5zM63.9 258.9h0.5v0.5h-0.5zM56.6 251.3h0.5v0.5h-0.5zM68.2 253.6h0.5v0.5h-0.5zM53.1 265.3h0.5v0.5h-0.5zM56.8 251.3h0.5v0.5h-0.5zM65.8 250.3h0.5v0.5h-0.5zM56.6 261.2h0.5v0.5h-0.5zM56.9 268.5h0.5v0.5h-0.5zM61.5 269.4h0.5v0.5h-0.5zM61.6 256.3h0.5v0.5h-0.5zM57.8 254.9h0.5v0.5h-0.5zM58.5 255.9h0.5v0.5h-0.5zM64.9 249.6h0.5v0.5h-0.5zM68.5 255.6h0.5v0.5h-0.5zM60.9 255.7h0.5v0.5h-0.5zM66.0 257.6h0.5v0.5h-0.5zM65.3 255.2h0.5v0.5h-0.5zM60.4 255.7h0.5v0.5h-0.5zM51.7 261.4h0.5v0.5h-0.5zM53.1 251.0h0.5v0.5h-0.5zM64.4 256.3h0.5v0.5h-0.5zM65.1 264.5h0.5v0.5h-0.5zM70.3 262.9h0.5v0.5h-0.5zM59.9 266.2h0.5v0.5h-0.5z" fill="#000" fill-opacity="0.3"/>
<text x="34.1" y="200.1" font-size="7.1" text-anchor="end" fill="#1a1a1a" >10<tspan font-size="5.4" dx="0.25" dy="-2.98">6</tspan></text>
<text x="34.1" y="217.1" font-size="7.1" text-anchor="end" fill="#1a1a1a" >10<tspan font-size="5.4" dx="0.25" dy="-2.98">5</tspan></text>
<text x="34.1" y="233.1" font-size="7.1" text-anchor="end" fill="#1a1a1a" >10<tspan font-size="5.4" dx="0.25" dy="-2.98">4</tspan></text>
<text x="34.1" y="249.6" font-size="7.1" text-anchor="end" fill="#1a1a1a" >10<tspan font-size="5.4" dx="0.25" dy="-2.98">3</tspan></text>
<text x="34.1" y="266.35" font-size="7.1" text-anchor="end" fill="#1a1a1a" >10<tspan font-size="5.4" dx="0.25" dy="-2.98">2</tspan></text>
<text x="34.1" y="282.6" font-size="7.1" text-anchor="end" fill="#1a1a1a" >10<tspan font-size="5.4" dx="0.25" dy="-2.98">1</tspan></text>
<path d="M37.6 197.5L40.3 197.5M37.6 214.5L40.3 214.5M37.6 230.5L40.3 230.5M37.6 247L40.3 247M37.6 263.75L40.3 263.75M37.6 280L40.3 280" stroke="#000" stroke-width="0.9" fill="none"/>
<path d="M39.1 196.7L40.3 196.7M39.1 198.38L40.3 198.38M39.1 200.06L40.3 200.06M39.1 201.74L40.3 201.74M39.1 203.42L40.3 203.42M39.1 205.1L40.3 205.1M39.1 206.78L40.3 206.78M39.1 208.46L40.3 208.46M39.1 210.14L40.3 210.14M39.1 211.82L40.3 211.82M39.1 213.5L40.3 213.5M39.1 215.18L40.3 215.18M39.1 216.86L40.3 216.86M39.1 218.54L40.3 218.54M39.1 220.22L40.3 220.22M39.1 221.9L40.3 221.9M39.1 223.58L40.3 223.58M39.1 225.26L40.3 225.26M39.1 226.94L40.3 226.94M39.1 228.62L40.3 228.62M39.1 230.3L40.3 230.3M39.1 231.98L40.3 231.98M39.1 233.66L40.3 233.66M39.1 235.34L40.3 235.34M39.1 237.02L40.3 237.02M39.1 238.7L40.3 238.7M39.1 240.38L40.3 240.38M39.1 242.06L40.3 242.06M39.1 243.74L40.3 243.74M39.1 245.42L40.3 245.42M39.1 247.1L40.3 247.1M39.1 248.78L40.3 248.78M39.1 250.46L40.3 250.46M39.1 252.14L40.3 252.14M39.1 253.82L40.3 253.82M39.1 255.5L40.3 255.5M39.1 257.18L40.3 257.18M39.1 258.86L40.3 258.86M39.1 260.54L40.3 260.54M39.1 262.22L40.3 262.22M39.1 263.9L40.3 263.9M39.1 265.58L40.3 265.58M39.1 267.26L40.3 267.26M39.1 268.94L40.3 268.94M39.1 270.62L40.3 270.62M39.1 272.3L40.3 272.3M39.1 273.98L40.3 273.98M39.1 275.66L40.3 275.66M39.1 277.34L40.3 277.34M39.1 279.02L40.3 279.02" stroke="#000" stroke-width="0.5" fill="none"/>
<text x="40.8" y="293.4" font-size="7.1" text-anchor="middle" fill="#1a1a1a" >10<tspan font-size="5.4" dx="0.25" dy="-2.98">1</tspan></text>
<text x="58.4" y="293.4" font-size="7.1" text-anchor="middle" fill="#1a1a1a" >10<tspan font-size="5.4" dx="0.25" dy="-2.98">2</tspan></text>
<text x="76" y="293.4" font-size="7.1" text-anchor="middle" fill="#1a1a1a" >10<tspan font-size="5.4" dx="0.25" dy="-2.98">3</tspan></text>
<text x="93.6" y="293.4" font-size="7.1" text-anchor="middle" fill="#1a1a1a" >10<tspan font-size="5.4" dx="0.25" dy="-2.98">4</tspan></text>
<text x="111.2" y="293.4" font-size="7.1" text-anchor="middle" fill="#1a1a1a" >10<tspan font-size="5.4" dx="0.25" dy="-2.98">5</tspan></text>
<text x="128.8" y="293.4" font-size="7.1" text-anchor="middle" fill="#1a1a1a" >10<tspan font-size="5.4" dx="0.25" dy="-2.98">6</tspan></text>
<path d="M40.3 280.4L40.3 282.9M57.9 280.4L57.9 282.9M75.5 280.4L75.5 282.9M93.1 280.4L93.1 282.9M110.7 280.4L110.7 282.9M128.3 280.4L128.3 282.9" stroke="#000" stroke-width="0.9" fill="none"/>
<path d="M40.3 280.4L40.3 281.6M42.06 280.4L42.06 281.6M43.82 280.4L43.82 281.6M45.58 280.4L45.58 281.6M47.34 280.4L47.34 281.6M49.1 280.4L49.1 281.6M50.86 280.4L50.86 281.6M52.62 280.4L52.62 281.6M54.38 280.4L54.38 281.6M56.14 280.4L56.14 281.6M57.9 280.4L57.9 281.6M59.66 280.4L59.66 281.6M61.42 280.4L61.42 281.6M63.18 280.4L63.18 281.6M64.94 280.4L64.94 281.6M66.7 280.4L66.7 281.6M68.46 280.4L68.46 281.6M70.22 280.4L70.22 281.6M71.98 280.4L71.98 281.6M73.74 280.4L73.74 281.6M75.5 280.4L75.5 281.6M77.26 280.4L77.26 281.6M79.02 280.4L79.02 281.6M80.78 280.4L80.78 281.6M82.54 280.4L82.54 281.6M84.3 280.4L84.3 281.6M86.06 280.4L86.06 281.6M87.82 280.4L87.82 281.6M89.58 280.4L89.58 281.6M91.34 280.4L91.34 281.6M93.1 280.4L93.1 281.6M94.86 280.4L94.86 281.6M96.62 280.4L96.62 281.6M98.38 280.4L98.38 281.6M100.14 280.4L100.14 281.6M101.9 280.4L101.9 281.6M103.66 280.4L103.66 281.6M105.42 280.4L105.42 281.6M107.18 280.4L107.18 281.6M108.94 280.4L108.94 281.6M110.7 280.4L110.7 281.6M112.46 280.4L112.46 281.6M114.22 280.4L114.22 281.6M115.98 280.4L115.98 281.6M117.74 280.4L117.74 281.6M119.5 280.4L119.5 281.6M121.26 280.4L121.26 281.6M123.02 280.4L123.02 281.6M124.78 280.4L124.78 281.6M126.54 280.4L126.54 281.6M128.3 280.4L128.3 281.6M130.06 280.4L130.06 281.6" stroke="#000" stroke-width="0.5" fill="none"/>
<path d="M41.5,205.7 H79.9 V280.4" fill="none" stroke="#8a8a8a" stroke-width="1.5"/>
<line x1="41.5" y1="246.9" x2="79.9" y2="246.9" stroke="#8a8a8a" stroke-width="2.1" />
<rect x="40.3" y="196.7" width="90.7" height="83.7" fill="none" stroke="#000" stroke-width="1.5"/>
<text x="85.65" y="180.6" font-size="9.6" text-anchor="middle" font-weight="bold" fill="#000" >CD7<tspan font-size="6.4" dy="-3.65">KO</tspan></text>
<text x="85.65" y="192.4" font-size="9.6" text-anchor="middle" font-weight="bold" fill="#000" >Ctrl CAR</text>
<text x="103.3" y="230.2" font-size="7.4" text-anchor="middle" fill="#1a1a1a" >99</text>
<path d="M175.4 260.7h0.6v0.6h-0.6zM180.2 257.0h0.6v0.6h-0.6zM177.1 258.8h0.6v0.6h-0.6zM178.4 252.5h0.6v0.6h-0.6zM182.4 258.7h0.6v0.6h-0.6zM178.3 260.3h0.6v0.6h-0.6zM176.6 262.9h0.6v0.6h-0.6zM184.7 252.0h0.6v0.6h-0.6zM181.4 256.5h0.6v0.6h-0.6zM176.3 259.0h0.6v0.6h-0.6zM175.8 257.4h0.6v0.6h-0.6zM176.2 264.6h0.6v0.6h-0.6zM178.4 260.2h0.6v0.6h-0.6zM179.2 259.5h0.6v0.6h-0.6zM172.7 260.4h0.6v0.6h-0.6zM180.7 259.8h0.6v0.6h-0.6zM174.1 260.3h0.6v0.6h-0.6zM175.8 262.3h0.6v0.6h-0.6zM178.7 258.6h0.6v0.6h-0.6zM176.5 261.0h0.6v0.6h-0.6zM177.0 257.9h0.6v0.6h-0.6zM177.9 257.4h0.6v0.6h-0.6zM181.0 258.5h0.6v0.6h-0.6zM176.7 261.5h0.6v0.6h-0.6zM177.1 257.9h0.6v0.6h-0.6zM173.4 258.0h0.6v0.6h-0.6zM175.3 261.9h0.6v0.6h-0.6zM180.2 255.9h0.6v0.6h-0.6zM178.6 259.5h0.6v0.6h-0.6zM180.4 258.5h0.6v0.6h-0.6zM181.9 258.3h0.6v0.6h-0.6zM176.3 261.3h0.6v0.6h-0.6zM171.4 263.2h0.6v0.6h-0.6zM178.6 260.2h0.6v0.6h-0.6zM178.0 261.2h0.6v0.6h-0.6zM180.3 255.3h0.6v0.6h-0.6zM176.7 260.6h0.6v0.6h-0.6zM179.3 258.5h0.6v0.6h-0.6zM178.6 255.6h0.6v0.6h-0.6zM181.2 259.8h0.6v0.6h-0.6zM181.2 257.9h0.6v0.6h-0.6zM177.7 260.3h0.6v0.6h-0.6zM175.7 256.6h0.6v0.6h-0.6zM176.2 260.2h0.6v0.6h-0.6zM175.3 258.5h0.6v0.6h-0.6zM176.7 259.0h0.6v0.6h-0.6zM177.9 259.0h0.6v0.6h-0.6zM179.4 260.6h0.6v0.6h-0.6zM178.6 259.6h0.6v0.6h-0.6zM171.0 256.4h0.6v0.6h-0.6zM177.6 261.1h0.6v0.6h-0.6zM176.2 258.8h0.6v0.6h-0.6zM175.6 263.0h0.6v0.6h-0.6zM176.7 260.6h0.6v0.6h-0.6zM181.4 258.0h0.6v0.6h-0.6zM183.5 254.9h0.6v0.6h-0.6zM181.1 258.6h0.6v0.6h-0.6zM176.1 260.5h0.6v0.6h-0.6zM175.1 258.5h0.6v0.6h-0.6zM177.7 257.3h0.6v0.6h-0.6zM181.3 254.8h0.6v0.6h-0.6zM176.5 260.4h0.6v0.6h-0.6zM176.5 260.2h0.6v0.6h-0.6zM174.5 257.9h0.6v0.6h-0.6zM169.9 261.4h0.6v0.6h-0.6zM182.3 257.2h0.6v0.6h-0.6zM177.6 258.1h0.6v0.6h-0.6zM177.8 260.0h0.6v0.6h-0.6zM173.2 260.4h0.6v0.6h-0.6zM177.0 263.0h0.6v0.6h-0.6zM176.4 263.2h0.6v0.6h-0.6zM179.9 264.7h0.6v0.6h-0.6zM177.6 259.4h0.6v0.6h-0.6zM182.4 258.2h0.6v0.6h-0.6zM179.0 255.6h0.6v0.6h-0.6zM182.8 260.0h0.6v0.6h-0.6zM176.9 258.6h0.6v0.6h-0.6zM176.2 263.0h0.6v0.6h-0.6zM178.6 258.7h0.6v0.6h-0.6zM176.5 264.3h0.6v0.6h-0.6zM180.1 257.6h0.6v0.6h-0.6zM180.5 254.9h0.6v0.6h-0.6zM178.9 255.9h0.6v0.6h-0.6zM181.2 256.1h0.6v0.6h-0.6zM180.5 256.2h0.6v0.6h-0.6zM180.2 260.4h0.6v0.6h-0.6zM175.6 261.0h0.6v0.6h-0.6zM176.6 262.2h0.6v0.6h-0.6zM175.8 259.7h0.6v0.6h-0.6zM178.7 261.6h0.6v0.6h-0.6zM175.0 261.1h0.6v0.6h-0.6zM176.3 258.9h0.6v0.6h-0.6zM175.5 260.4h0.6v0.6h-0.6zM176.4 256.2h0.6v0.6h-0.6zM177.0 256.7h0.6v0.6h-0.6zM180.6 263.1h0.6v0.6h-0.6zM175.2 260.9h0.6v0.6h-0.6zM178.3 261.4h0.6v0.6h-0.6zM174.4 257.0h0.6v0.6h-0.6zM173.8 262.5h0.6v0.6h-0.6zM179.7 260.6h0.6v0.6h-0.6zM177.2 261.3h0.6v0.6h-0.6zM176.6 263.4h0.6v0.6h-0.6zM176.8 258.2h0.6v0.6h-0.6zM180.4 261.9h0.6v0.6h-0.6zM174.1 258.6h0.6v0.6h-0.6zM173.7 259.1h0.6v0.6h-0.6zM178.1 259.9h0.6v0.6h-0.6zM177.6 259.8h0.6v0.6h-0.6zM180.6 256.5h0.6v0.6h-0.6zM171.8 257.6h0.6v0.6h-0.6zM177.6 257.6h0.6v0.6h-0.6zM177.6 260.4h0.6v0.6h-0.6zM177.1 255.7h0.6v0.6h-0.6zM175.4 261.1h0.6v0.6h-0.6zM178.8 261.4h0.6v0.6h-0.6zM174.0 256.6h0.6v0.6h-0.6zM178.9 254.2h0.6v0.6h-0.6zM175.7 261.7h0.6v0.6h-0.6zM178.0 265.4h0.6v0.6h-0.6zM179.1 259.7h0.6v0.6h-0.6zM179.3 263.8h0.6v0.6h-0.6zM178.4 257.0h0.6v0.6h-0.6zM179.1 254.0h0.6v0.6h-0.6zM176.6 260.8h0.6v0.6h-0.6zM177.0 257.3h0.6v0.6h-0.6zM183.7 258.8h0.6v0.6h-0.6zM175.8 261.6h0.6v0.6h-0.6zM175.6 259.6h0.6v0.6h-0.6zM180.5 257.6h0.6v0.6h-0.6zM177.6 259.6h0.6v0.6h-0.6zM176.2 263.5h0.6v0.6h-0.6zM177.4 262.8h0.6v0.6h-0.6zM176.1 259.3h0.6v0.6h-0.6zM181.9 256.8h0.6v0.6h-0.6zM175.5 259.5h0.6v0.6h-0.6zM181.6 261.3h0.6v0.6h-0.6zM178.9 257.4h0.6v0.6h-0.6zM174.1 260.1h0.6v0.6h-0.6zM177.8 259.8h0.6v0.6h-0.6zM177.6 262.6h0.6v0.6h-0.6zM174.4 259.7h0.6v0.6h-0.6zM179.7 259.1h0.6v0.6h-0.6zM177.9 261.6h0.6v0.6h-0.6zM176.1 264.6h0.6v0.6h-0.6zM185.9 258.5h0.6v0.6h-0.6zM180.5 262.4h0.6v0.6h-0.6zM179.5 261.4h0.6v0.6h-0.6zM177.5 259.9h0.6v0.6h-0.6zM177.1 255.2h0.6v0.6h-0.6zM179.3 262.5h0.6v0.6h-0.6zM170.6 265.2h0.6v0.6h-0.6zM180.6 258.1h0.6v0.6h-0.6zM180.0 261.2h0.6v0.6h-0.6zM176.4 255.3h0.6v0.6h-0.6zM175.0 260.4h0.6v0.6h-0.6zM177.6 258.2h0.6v0.6h-0.6zM179.5 262.3h0.6v0.6h-0.6zM171.5 266.6h0.6v0.6h-0.6zM181.0 258.5h0.6v0.6h-0.6zM177.9 259.3h0.6v0.6h-0.6zM179.0 258.9h0.6v0.6h-0.6zM176.8 261.9h0.6v0.6h-0.6zM175.6 260.6h0.6v0.6h-0.6zM175.5 257.9h0.6v0.6h-0.6zM179.3 258.0h0.6v0.6h-0.6zM174.7 261.2h0.6v0.6h-0.6zM175.9 264.2h0.6v0.6h-0.6zM181.5 261.7h0.6v0.6h-0.6zM177.2 261.5h0.6v0.6h-0.6zM174.2 259.5h0.6v0.6h-0.6zM178.1 260.1h0.6v0.6h-0.6zM179.9 257.0h0.6v0.6h-0.6zM181.8 258.8h0.6v0.6h-0.6zM175.3 260.5h0.6v0.6h-0.6zM177.5 263.8h0.6v0.6h-0.6zM177.4 261.7h0.6v0.6h-0.6zM179.9 257.1h0.6v0.6h-0.6zM176.9 260.7h0.6v0.6h-0.6zM174.3 258.4h0.6v0.6h-0.6zM175.7 261.5h0.6v0.6h-0.6zM180.4 261.9h0.6v0.6h-0.6zM173.6 263.4h0.6v0.6h-0.6zM176.2 263.3h0.6v0.6h-0.6zM179.8 258.1h0.6v0.6h-0.6zM181.2 255.9h0.6v0.6h-0.6zM175.2 258.4h0.6v0.6h-0.6zM176.2 260.6h0.6v0.6h-0.6zM181.1 260.2h0.6v0.6h-0.6zM176.2 258.4h0.6v0.6h-0.6zM176.4 259.1h0.6v0.6h-0.6zM176.1 259.4h0.6v0.6h-0.6zM175.5 260.7h0.6v0.6h-0.6zM176.3 259.8h0.6v0.6h-0.6zM174.4 262.0h0.6v0.6h-0.6zM180.1 259.3h0.6v0.6h-0.6zM175.0 258.3h0.6v0.6h-0.6zM173.0 259.6h0.6v0.6h-0.6zM175.8 259.8h0.6v0.6h-0.6zM174.0 263.6h0.6v0.6h-0.6zM173.0 260.8h0.6v0.6h-0.6zM176.9 261.9h0.6v0.6h-0.6zM182.2 255.2h0.6v0.6h-0.6zM176.6 259.0h0.6v0.6h-0.6zM177.1 259.3h0.6v0.6h-0.6zM182.9 252.9h0.6v0.6h-0.6zM176.6 258.1h0.6v0.6h-0.6zM178.1 257.7h0.6v0.6h-0.6zM178.0 256.3h0.6v0.6h-0.6zM183.5 255.7h0.6v0.6h-0.6zM174.0 263.6h0.6v0.6h-0.6zM175.2 258.1h0.6v0.6h-0.6zM178.3 257.5h0.6v0.6h-0.6zM179.1 256.9h0.6v0.6h-0.6zM180.3 257.8h0.6v0.6h-0.6zM178.9 258.8h0.6v0.6h-0.6zM176.4 259.2h0.6v0.6h-0.6zM179.8 259.6h0.6v0.6h-0.6zM179.4 263.7h0.6v0.6h-0.6zM180.8 254.2h0.6v0.6h-0.6zM180.5 257.1h0.6v0.6h-0.6zM177.5 257.4h0.6v0.6h-0.6zM181.1 254.8h0.6v0.6h-0.6zM176.7 258.1h0.6v0.6h-0.6zM184.3 257.8h0.6v0.6h-0.6zM173.8 260.8h0.6v0.6h-0.6zM178.2 257.8h0.6v0.6h-0.6zM175.6 258.0h0.6v0.6h-0.6zM177.2 256.9h0.6v0.6h-0.6zM182.8 261.8h0.6v0.6h-0.6zM178.9 262.6h0.6v0.6h-0.6zM178.0 257.4h0.6v0.6h-0.6zM175.8 258.2h0.6v0.6h-0.6zM178.9 260.2h0.6v0.6h-0.6zM179.9 257.0h0.6v0.6h-0.6zM174.6 261.2h0.6v0.6h-0.6zM182.5 256.6h0.6v0.6h-0.6zM175.2 255.8h0.6v0.6h-0.6zM177.3 260.9h0.6v0.6h-0.6zM177.0 263.2h0.6v0.6h-0.6zM175.3 258.8h0.6v0.6h-0.6zM176.2 260.1h0.6v0.6h-0.6zM179.7 256.4h0.6v0.6h-0.6zM173.1 262.3h0.6v0.6h-0.6zM181.0 260.9h0.6v0.6h-0.6zM176.7 263.7h0.6v0.6h-0.6zM180.1 258.7h0.6v0.6h-0.6zM174.8 259.1h0.6v0.6h-0.6zM176.4 262.5h0.6v0.6h-0.6zM179.6 260.6h0.6v0.6h-0.6zM182.5 256.0h0.6v0.6h-0.6zM179.9 262.5h0.6v0.6h-0.6zM173.9 260.8h0.6v0.6h-0.6zM176.4 259.2h0.6v0.6h-0.6zM177.2 257.5h0.6v0.6h-0.6zM179.2 254.8h0.6v0.6h-0.6zM173.7 257.8h0.6v0.6h-0.6zM174.9 262.7h0.6v0.6h-0.6zM179.2 257.7h0.6v0.6h-0.6zM180.7 258.7h0.6v0.6h-0.6zM176.3 260.2h0.6v0.6h-0.6zM181.1 261.9h0.6v0.6h-0.6zM177.1 260.6h0.6v0.6h-0.6zM180.6 260.3h0.6v0.6h-0.6zM180.2 260.2h0.6v0.6h-0.6zM174.8 260.7h0.6v0.6h-0.6zM172.8 262.6h0.6v0.6h-0.6zM184.1 255.4h0.6v0.6h-0.6zM178.3 259.5h0.6v0.6h-0.6zM176.6 256.7h0.6v0.6h-0.6zM175.8 260.2h0.6v0.6h-0.6zM177.2 257.5h0.6v0.6h-0.6zM176.7 258.2h0.6v0.6h-0.6zM173.6 260.5h0.6v0.6h-0.6zM176.7 262.1h0.6v0.6h-0.6zM181.9 257.8h0.6v0.6h-0.6zM176.6 258.7h0.6v0.6h-0.6zM173.1 261.2h0.6v0.6h-0.6zM183.2 258.3h0.6v0.6h-0.6zM178.1 258.4h0.6v0.6h-0.6zM178.3 259.9h0.6v0.6h-0.6zM178.3 259.9h0.6v0.6h-0.6zM175.9 260.7h0.6v0.6h-0.6zM178.2 261.7h0.6v0.6h-0.6zM176.1 263.6h0.6v0.6h-0.6zM177.0 258.5h0.6v0.6h-0.6zM178.0 259.4h0.6v0.6h-0.6zM177.7 260.3h0.6v0.6h-0.6zM174.3 257.4h0.6v0.6h-0.6zM179.6 257.9h0.6v0.6h-0.6zM182.6 256.9h0.6v0.6h-0.6zM174.1 264.9h0.6v0.6h-0.6zM176.7 261.4h0.6v0.6h-0.6zM184.8 257.0h0.6v0.6h-0.6zM174.9 261.0h0.6v0.6h-0.6zM174.5 263.2h0.6v0.6h-0.6zM178.1 256.5h0.6v0.6h-0.6zM180.1 260.0h0.6v0.6h-0.6zM179.1 256.6h0.6v0.6h-0.6zM174.7 258.6h0.6v0.6h-0.6zM174.9 262.1h0.6v0.6h-0.6zM179.4 261.3h0.6v0.6h-0.6zM178.1 258.2h0.6v0.6h-0.6zM175.9 264.4h0.6v0.6h-0.6zM178.2 258.9h0.6v0.6h-0.6zM174.0 259.3h0.6v0.6h-0.6zM178.3 256.4h0.6v0.6h-0.6zM180.1 259.2h0.6v0.6h-0.6zM174.9 257.2h0.6v0.6h-0.6zM180.5 260.8h0.6v0.6h-0.6zM174.2 258.6h0.6v0.6h-0.6zM180.8 257.5h0.6v0.6h-0.6zM177.6 262.4h0.6v0.6h-0.6zM177.6 260.5h0.6v0.6h-0.6zM175.9 258.7h0.6v0.6h-0.6zM177.4 257.4h0.6v0.6h-0.6zM172.6 261.5h0.6v0.6h-0.6zM182.3 258.8h0.6v0.6h-0.6zM184.6 257.0h0.6v0.6h-0.6zM182.3 256.7h0.6v0.6h-0.6zM177.2 260.8h0.6v0.6h-0.6zM176.2 262.2h0.6v0.6h-0.6zM177.0 260.5h0.6v0.6h-0.6zM175.5 260.5h0.6v0.6h-0.6zM180.1 257.1h0.6v0.6h-0.6zM176.4 260.9h0.6v0.6h-0.6zM179.9 257.3h0.6v0.6h-0.6zM173.0 258.7h0.6v0.6h-0.6zM175.6 263.4h0.6v0.6h-0.6zM178.1 260.2h0.6v0.6h-0.6zM180.9 257.8h0.6v0.6h-0.6zM178.5 257.5h0.6v0.6h-0.6zM174.4 263.2h0.6v0.6h-0.6zM178.2 260.3h0.6v0.6h-0.6zM174.9 260.9h0.6v0.6h-0.6zM182.0 254.2h0.6v0.6h-0.6zM179.6 261.2h0.6v0.6h-0.6zM177.4 259.8h0.6v0.6h-0.6zM173.2 264.3h0.6v0.6h-0.6zM178.2 262.2h0.6v0.6h-0.6zM177.1 258.8h0.6v0.6h-0.6zM178.7 258.0h0.6v0.6h-0.6zM178.3 262.7h0.6v0.6h-0.6zM180.5 257.6h0.6v0.6h-0.6zM180.9 259.1h0.6v0.6h-0.6zM179.4 258.3h0.6v0.6h-0.6zM178.5 259.8h0.6v0.6h-0.6zM179.7 258.8h0.6v0.6h-0.6zM176.3 260.1h0.6v0.6h-0.6zM177.8 256.8h0.6v0.6h-0.6zM178.7 260.5h0.6v0.6h-0.6zM177.9 258.4h0.6v0.6h-0.6zM177.2 258.5h0.6v0.6h-0.6zM179.9 256.8h0.6v0.6h-0.6zM172.1 260.2h0.6v0.6h-0.6zM178.8 259.0h0.6v0.6h-0.6zM175.1 257.9h0.6v0.6h-0.6zM176.5 258.1h0.6v0.6h-0.6zM176.1 260.4h0.6v0.6h-0.6zM176.2 261.1h0.6v0.6h-0.6zM175.4 259.8h0.6v0.6h-0.6zM178.9 262.0h0.6v0.6h-0.6zM183.0 257.9h0.6v0.6h-0.6zM175.9 260.6h0.6v0.6h-0.6zM181.1 258.9h0.6v0.6h-0.6zM173.6 262.1h0.6v0.6h-0.6zM176.8 261.8h0.6v0.6h-0.6zM178.8 257.2h0.6v0.6h-0.6zM183.0 254.9h0.6v0.6h-0.6zM183.9 254.6h0.6v0.6h-0.6zM179.8 262.5h0.6v0.6h-0.6zM175.9 259.4h0.6v0.6h-0.6zM181.6 256.5h0.6v0.6h-0.6zM177.6 256.3h0.6v0.6h-0.6zM183.5 257.6h0.6v0.6h-0.6zM179.5 259.7h0.6v0.6h-0.6zM176.0 259.3h0.6v0.6h-0.6zM174.2 262.7h0.6v0.6h-0.6zM182.0 258.4h0.6v0.6h-0.6zM181.0 258.7h0.6v0.6h-0.6zM174.0 258.7h0.6v0.6h-0.6zM179.7 258.3h0.6v0.6h-0.6zM180.0 257.0h0.6v0.6h-0.6zM176.1 261.5h0.6v0.6h-0.6zM174.5 257.5h0.6v0.6h-0.6zM175.2 258.9h0.6v0.6h-0.6zM174.3 260.3h0.6v0.6h-0.6zM183.0 261.4h0.6v0.6h-0.6zM181.8 255.4h0.6v0.6h-0.6zM180.7 257.1h0.6v0.6h-0.6zM178.1 257.4h0.6v0.6h-0.6zM175.7 256.6h0.6v0.6h-0.6zM181.5 254.8h0.6v0.6h-0.6zM178.6 257.2h0.6v0.6h-0.6zM177.2 256.8h0.6v0.6h-0.6zM177.9 261.4h0.6v0.6h-0.6zM177.1 255.0h0.6v0.6h-0.6zM178.5 255.5h0.6v0.6h-0.6zM179.1 259.6h0.6v0.6h-0.6zM175.8 259.9h0.6v0.6h-0.6zM177.6 260.3h0.6v0.6h-0.6zM181.7 259.8h0.6v0.6h-0.6zM180.9 261.9h0.6v0.6h-0.6zM177.4 263.8h0.6v0.6h-0.6zM178.0 261.0h0.6v0.6h-0.6zM177.6 259.6h0.6v0.6h-0.6zM175.9 261.5h0.6v0.6h-0.6zM183.2 255.8h0.6v0.6h-0.6zM177.8 259.3h0.6v0.6h-0.6zM179.4 257.6h0.6v0.6h-0.6zM178.1 259.6h0.6v0.6h-0.6zM182.3 258.4h0.6v0.6h-0.6zM174.4 260.1h0.6v0.6h-0.6zM178.8 260.6h0.6v0.6h-0.6zM180.1 257.1h0.6v0.6h-0.6zM183.1 255.1h0.6v0.6h-0.6zM183.1 259.0h0.6v0.6h-0.6zM182.1 256.7h0.6v0.6h-0.6zM177.5 255.7h0.6v0.6h-0.6zM172.6 261.4h0.6v0.6h-0.6zM180.9 259.7h0.6v0.6h-0.6zM178.7 261.1h0.6v0.6h-0.6zM181.0 260.7h0.6v0.6h-0.6zM172.8 260.7h0.6v0.6h-0.6zM174.2 259.2h0.6v0.6h-0.6zM181.0 254.8h0.6v0.6h-0.6zM175.2 260.1h0.6v0.6h-0.6zM179.6 256.9h0.6v0.6h-0.6zM180.3 258.8h0.6v0.6h-0.6zM173.5 256.5h0.6v0.6h-0.6zM174.0 258.8h0.6v0.6h-0.6zM181.2 255.1h0.6v0.6h-0.6zM175.5 261.8h0.6v0.6h-0.6zM176.9 257.6h0.6v0.6h-0.6zM181.7 258.8h0.6v0.6h-0.6zM177.7 257.5h0.6v0.6h-0.6zM173.2 257.4h0.6v0.6h-0.6zM179.3 259.2h0.6v0.6h-0.6zM175.5 260.9h0.6v0.6h-0.6zM184.9 251.5h0.6v0.6h-0.6zM174.1 263.3h0.6v0.6h-0.6zM176.2 259.2h0.6v0.6h-0.6zM179.3 257.9h0.6v0.6h-0.6zM181.0 258.3h0.6v0.6h-0.6zM180.9 257.3h0.6v0.6h-0.6zM173.8 265.3h0.6v0.6h-0.6zM174.6 264.0h0.6v0.6h-0.6zM176.9 256.5h0.6v0.6h-0.6zM179.0 260.5h0.6v0.6h-0.6zM175.2 261.1h0.6v0.6h-0.6zM174.8 258.9h0.6v0.6h-0.6zM177.7 262.4h0.6v0.6h-0.6zM179.5 257.9h0.6v0.6h-0.6zM177.8 259.6h0.6v0.6h-0.6zM178.8 259.0h0.6v0.6h-0.6zM174.5 263.8h0.6v0.6h-0.6zM172.6 256.5h0.6v0.6h-0.6zM178.2 256.0h0.6v0.6h-0.6zM177.3 259.3h0.6v0.6h-0.6zM176.9 261.2h0.6v0.6h-0.6zM176.8 259.3h0.6v0.6h-0.6zM175.0 260.5h0.6v0.6h-0.6zM175.2 261.2h0.6v0.6h-0.6zM182.4 258.5h0.6v0.6h-0.6zM177.4 256.2h0.6v0.6h-0.6zM181.5 258.9h0.6v0.6h-0.6zM180.5 251.8h0.6v0.6h-0.6zM177.5 258.6h0.6v0.6h-0.6zM179.4 255.5h0.6v0.6h-0.6zM179.5 263.7h0.6v0.6h-0.6zM178.1 254.2h0.6v0.6h-0.6zM179.4 261.4h0.6v0.6h-0.6zM176.9 261.3h0.6v0.6h-0.6zM176.4 256.6h0.6v0.6h-0.6zM177.5 262.2h0.6v0.6h-0.6zM180.2 256.1h0.6v0.6h-0.6zM179.9 256.0h0.6v0.6h-0.6zM178.4 258.7h0.6v0.6h-0.6zM175.0 262.0h0.6v0.6h-0.6zM173.7 255.4h0.6v0.6h-0.6zM174.7 259.3h0.6v0.6h-0.6zM174.5 259.1h0.6v0.6h-0.6zM173.2 256.4h0.6v0.6h-0.6zM180.2 257.7h0.6v0.6h-0.6zM178.2 258.3h0.6v0.6h-0.6zM177.7 258.7h0.6v0.6h-0.6zM173.3 258.7h0.6v0.6h-0.6zM179.2 260.7h0.6v0.6h-0.6zM180.3 261.4h0.6v0.6h-0.6zM174.0 261.2h0.6v0.6h-0.6zM177.6 262.3h0.6v0.6h-0.6zM181.6 255.3h0.6v0.6h-0.6zM179.4 257.5h0.6v0.6h-0.6zM175.1 260.8h0.6v0.6h-0.6zM176.9 263.6h0.6v0.6h-0.6zM180.7 260.1h0.6v0.6h-0.6zM175.9 254.6h0.6v0.6h-0.6zM180.0 257.9h0.6v0.6h-0.6zM171.8 263.7h0.6v0.6h-0.6zM182.4 260.2h0.6v0.6h-0.6zM176.1 262.4h0.6v0.6h-0.6zM178.5 258.3h0.6v0.6h-0.6zM177.7 260.6h0.6v0.6h-0.6zM180.1 259.2h0.6v0.6h-0.6zM175.2 257.8h0.6v0.6h-0.6zM182.7 259.0h0.6v0.6h-0.6zM176.3 260.2h0.6v0.6h-0.6zM177.9 254.9h0.6v0.6h-0.6zM181.9 262.3h0.6v0.6h-0.6zM177.7 257.6h0.6v0.6h-0.6zM183.1 255.5h0.6v0.6h-0.6zM177.9 258.1h0.6v0.6h-0.6zM176.2 255.9h0.6v0.6h-0.6zM172.8 259.1h0.6v0.6h-0.6zM180.0 257.4h0.6v0.6h-0.6zM178.4 253.8h0.6v0.6h-0.6zM177.9 262.7h0.6v0.6h-0.6zM173.6 257.6h0.6v0.6h-0.6zM175.5 260.0h0.6v0.6h-0.6zM179.3 261.4h0.6v0.6h-0.6zM183.0 259.4h0.6v0.6h-0.6zM178.7 257.3h0.6v0.6h-0.6zM174.8 257.7h0.6v0.6h-0.6zM182.5 259.0h0.6v0.6h-0.6zM177.0 257.6h0.6v0.6h-0.6zM180.1 258.8h0.6v0.6h-0.6zM176.9 257.0h0.6v0.6h-0.6zM177.8 257.8h0.6v0.6h-0.6zM180.4 258.9h0.6v0.6h-0.6zM178.4 257.7h0.6v0.6h-0.6zM182.6 257.7h0.6v0.6h-0.6zM182.0 258.3h0.6v0.6h-0.6zM180.0 258.7h0.6v0.6h-0.6zM172.9 258.1h0.6v0.6h-0.6zM176.1 261.9h0.6v0.6h-0.6zM180.4 257.9h0.6v0.6h-0.6zM180.2 262.1h0.6v0.6h-0.6zM174.7 257.0h0.6v0.6h-0.6zM173.4 261.5h0.6v0.6h-0.6zM180.5 259.2h0.6v0.6h-0.6zM178.2 260.9h0.6v0.6h-0.6zM176.8 258.1h0.6v0.6h-0.6zM177.7 261.1h0.6v0.6h-0.6zM179.0 255.6h0.6v0.6h-0.6zM175.4 261.2h0.6v0.6h-0.6zM181.9 253.4h0.6v0.6h-0.6zM175.1 262.1h0.6v0.6h-0.6zM178.4 257.3h0.6v0.6h-0.6zM178.3 260.0h0.6v0.6h-0.6zM173.3 262.3h0.6v0.6h-0.6zM180.4 259.6h0.6v0.6h-0.6zM180.7 257.0h0.6v0.6h-0.6zM175.6 264.0h0.6v0.6h-0.6zM179.0 256.8h0.6v0.6h-0.6zM181.7 259.1h0.6v0.6h-0.6zM174.7 255.6h0.6v0.6h-0.6zM175.7 258.8h0.6v0.6h-0.6zM175.6 260.6h0.6v0.6h-0.6zM175.5 261.8h0.6v0.6h-0.6zM181.3 253.8h0.6v0.6h-0.6zM179.9 256.5h0.6v0.6h-0.6zM179.1 258.0h0.6v0.6h-0.6zM180.3 255.7h0.6v0.6h-0.6zM178.8 256.6h0.6v0.6h-0.6zM178.4 258.8h0.6v0.6h-0.6zM178.8 254.6h0.6v0.6h-0.6zM175.9 263.9h0.6v0.6h-0.6zM180.8 261.3h0.6v0.6h-0.6zM175.4 261.4h0.6v0.6h-0.6zM181.4 261.0h0.6v0.6h-0.6zM177.1 258.6h0.6v0.6h-0.6zM179.5 257.7h0.6v0.6h-0.6zM176.8 261.8h0.6v0.6h-0.6zM171.7 260.9h0.6v0.6h-0.6zM180.7 255.9h0.6v0.6h-0.6zM177.4 260.4h0.6v0.6h-0.6zM181.3 258.1h0.6v0.6h-0.6zM174.7 260.0h0.6v0.6h-0.6zM180.4 257.1h0.6v0.6h-0.6zM177.2 261.8h0.6v0.6h-0.6zM183.2 260.7h0.6v0.6h-0.6zM174.2 260.0h0.6v0.6h-0.6zM176.4 261.0h0.6v0.6h-0.6zM177.9 261.9h0.6v0.6h-0.6zM172.0 265.6h0.6v0.6h-0.6zM175.8 259.9h0.6v0.6h-0.6zM179.5 258.5h0.6v0.6h-0.6zM176.9 263.5h0.6v0.6h-0.6zM178.7 257.4h0.6v0.6h-0.6zM177.1 257.0h0.6v0.6h-0.6zM174.3 260.9h0.6v0.6h-0.6zM178.9 258.7h0.6v0.6h-0.6zM174.2 258.3h0.6v0.6h-0.6zM175.4 264.8h0.6v0.6h-0.6zM177.8 257.2h0.6v0.6h-0.6zM181.5 258.0h0.6v0.6h-0.6zM176.0 258.9h0.6v0.6h-0.6zM181.1 257.7h0.6v0.6h-0.6zM182.4 256.9h0.6v0.6h-0.6zM175.6 259.3h0.6v0.6h-0.6zM176.3 260.9h0.6v0.6h-0.6zM179.2 259.7h0.6v0.6h-0.6zM177.7 256.7h0.6v0.6h-0.6zM176.2 258.0h0.6v0.6h-0.6zM177.5 256.2h0.6v0.6h-0.6zM175.3 258.8h0.6v0.6h-0.6zM175.9 259.9h0.6v0.6h-0.6zM181.4 256.1h0.6v0.6h-0.6zM173.8 261.3h0.6v0.6h-0.6zM180.4 258.8h0.6v0.6h-0.6zM180.7 262.1h0.6v0.6h-0.6zM180.7 257.4h0.6v0.6h-0.6zM179.4 254.8h0.6v0.6h-0.6zM176.4 258.1h0.6v0.6h-0.6zM180.1 261.6h0.6v0.6h-0.6zM178.4 262.7h0.6v0.6h-0.6zM176.8 263.4h0.6v0.6h-0.6zM172.5 260.8h0.6v0.6h-0.6zM180.2 257.3h0.6v0.6h-0.6zM178.2 258.9h0.6v0.6h-0.6zM178.1 258.6h0.6v0.6h-0.6zM175.0 260.5h0.6v0.6h-0.6zM177.0 257.5h0.6v0.6h-0.6zM181.0 261.3h0.6v0.6h-0.6zM173.0 261.2h0.6v0.6h-0.6zM177.1 259.7h0.6v0.6h-0.6zM177.2 257.8h0.6v0.6h-0.6zM177.7 259.3h0.6v0.6h-0.6zM179.4 261.9h0.6v0.6h-0.6zM176.4 256.5h0.6v0.6h-0.6zM174.5 263.0h0.6v0.6h-0.6zM176.2 258.8h0.6v0.6h-0.6zM174.0 261.1h0.6v0.6h-0.6zM176.8 258.2h0.6v0.6h-0.6zM177.9 261.3h0.6v0.6h-0.6zM180.4 258.7h0.6v0.6h-0.6zM175.8 257.3h0.6v0.6h-0.6zM181.5 260.3h0.6v0.6h-0.6zM182.4 258.8h0.6v0.6h-0.6zM178.9 259.3h0.6v0.6h-0.6zM179.2 261.3h0.6v0.6h-0.6zM179.6 263.2h0.6v0.6h-0.6zM179.4 257.3h0.6v0.6h-0.6zM175.9 256.5h0.6v0.6h-0.6zM175.6 260.0h0.6v0.6h-0.6zM183.1 253.5h0.6v0.6h-0.6zM180.2 257.7h0.6v0.6h-0.6zM177.8 260.8h0.6v0.6h-0.6zM173.8 264.3h0.6v0.6h-0.6zM183.1 256.2h0.6v0.6h-0.6zM177.8 259.6h0.6v0.6h-0.6zM178.9 257.2h0.6v0.6h-0.6zM178.7 259.8h0.6v0.6h-0.6zM177.4 260.5h0.6v0.6h-0.6zM179.5 259.8h0.6v0.6h-0.6zM174.7 260.1h0.6v0.6h-0.6zM178.1 261.9h0.6v0.6h-0.6zM176.5 256.0h0.6v0.6h-0.6zM176.8 264.7h0.6v0.6h-0.6zM177.2 256.5h0.6v0.6h-0.6zM175.6 261.1h0.6v0.6h-0.6zM183.3 259.3h0.6v0.6h-0.6zM176.5 259.4h0.6v0.6h-0.6zM181.6 254.2h0.6v0.6h-0.6zM182.2 257.0h0.6v0.6h-0.6zM179.5 261.2h0.6v0.6h-0.6zM178.1 257.0h0.6v0.6h-0.6zM173.9 261.9h0.6v0.6h-0.6zM180.7 260.5h0.6v0.6h-0.6zM172.7 266.1h0.6v0.6h-0.6zM181.1 260.6h0.6v0.6h-0.6zM180.1 258.1h0.6v0.6h-0.6zM179.4 259.1h0.6v0.6h-0.6zM176.1 260.1h0.6v0.6h-0.6zM177.6 258.2h0.6v0.6h-0.6zM172.4 259.4h0.6v0.6h-0.6zM179.7 259.2h0.6v0.6h-0.6zM176.7 257.1h0.6v0.6h-0.6zM179.5 257.0h0.6v0.6h-0.6zM174.3 265.5h0.6v0.6h-0.6zM176.6 265.6h0.6v0.6h-0.6zM178.6 257.5h0.6v0.6h-0.6zM171.0 262.2h0.6v0.6h-0.6zM183.1 258.8h0.6v0.6h-0.6zM176.5 255.9h0.6v0.6h-0.6zM176.5 259.4h0.6v0.6h-0.6zM178.8 258.2h0.6v0.6h-0.6zM176.8 255.9h0.6v0.6h-0.6zM177.8 262.7h0.6v0.6h-0.6zM175.2 263.3h0.6v0.6h-0.6zM184.4 256.2h0.6v0.6h-0.6zM175.7 263.7h0.6v0.6h-0.6zM173.5 263.1h0.6v0.6h-0.6zM178.2 262.0h0.6v0.6h-0.6zM181.0 257.4h0.6v0.6h-0.6zM183.5 257.6h0.6v0.6h-0.6zM175.4 258.4h0.6v0.6h-0.6zM183.6 254.1h0.6v0.6h-0.6zM178.7 258.3h0.6v0.6h-0.6zM174.7 257.4h0.6v0.6h-0.6zM177.3 259.3h0.6v0.6h-0.6zM179.7 256.6h0.6v0.6h-0.6zM172.6 260.2h0.6v0.6h-0.6zM178.0 259.7h0.6v0.6h-0.6zM179.2 257.3h0.6v0.6h-0.6zM179.3 258.5h0.6v0.6h-0.6zM182.0 256.1h0.6v0.6h-0.6zM178.8 259.9h0.6v0.6h-0.6zM179.8 255.5h0.6v0.6h-0.6zM176.3 259.6h0.6v0.6h-0.6zM173.9 265.2h0.6v0.6h-0.6zM180.6 257.3h0.6v0.6h-0.6zM187.8 255.3h0.6v0.6h-0.6zM184.8 258.2h0.6v0.6h-0.6zM178.5 255.2h0.6v0.6h-0.6zM182.2 257.2h0.6v0.6h-0.6zM174.8 261.4h0.6v0.6h-0.6zM180.9 259.5h0.6v0.6h-0.6zM177.6 258.0h0.6v0.6h-0.6zM178.9 256.6h0.6v0.6h-0.6zM178.5 260.6h0.6v0.6h-0.6zM174.6 262.4h0.6v0.6h-0.6zM171.7 261.2h0.6v0.6h-0.6zM174.6 261.2h0.6v0.6h-0.6zM179.6 257.8h0.6v0.6h-0.6zM180.2 257.7h0.6v0.6h-0.6zM177.9 260.4h0.6v0.6h-0.6zM177.4 259.8h0.6v0.6h-0.6zM179.8 256.4h0.6v0.6h-0.6zM179.4 255.3h0.6v0.6h-0.6zM175.2 256.7h0.6v0.6h-0.6zM178.3 262.8h0.6v0.6h-0.6zM180.2 260.7h0.6v0.6h-0.6zM172.9 260.1h0.6v0.6h-0.6zM180.0 259.7h0.6v0.6h-0.6zM178.0 254.9h0.6v0.6h-0.6zM179.0 258.2h0.6v0.6h-0.6zM178.7 259.8h0.6v0.6h-0.6zM175.1 256.9h0.6v0.6h-0.6zM173.4 258.7h0.6v0.6h-0.6zM174.3 261.3h0.6v0.6h-0.6zM180.3 255.7h0.6v0.6h-0.6zM174.5 258.7h0.6v0.6h-0.6zM173.5 262.4h0.6v0.6h-0.6zM176.3 259.7h0.6v0.6h-0.6zM175.9 261.7h0.6v0.6h-0.6zM175.4 262.3h0.6v0.6h-0.6zM177.0 261.7h0.6v0.6h-0.6zM176.1 261.5h0.6v0.6h-0.6zM178.8 258.3h0.6v0.6h-0.6zM182.2 256.6h0.6v0.6h-0.6zM176.3 261.9h0.6v0.6h-0.6zM175.1 259.8h0.6v0.6h-0.6zM178.0 259.5h0.6v0.6h-0.6zM180.1 253.3h0.6v0.6h-0.6zM178.5 261.5h0.6v0.6h-0.6zM177.8 260.0h0.6v0.6h-0.6zM180.3 254.4h0.6v0.6h-0.6zM178.8 260.4h0.6v0.6h-0.6zM174.3 257.3h0.6v0.6h-0.6zM175.5 261.3h0.6v0.6h-0.6zM180.4 261.9h0.6v0.6h-0.6zM179.4 254.3h0.6v0.6h-0.6zM181.5 258.9h0.6v0.6h-0.6zM181.8 256.1h0.6v0.6h-0.6zM176.6 260.4h0.6v0.6h-0.6zM182.5 257.5h0.6v0.6h-0.6zM183.0 257.5h0.6v0.6h-0.6zM175.1 258.6h0.6v0.6h-0.6zM180.8 253.4h0.6v0.6h-0.6zM176.5 259.3h0.6v0.6h-0.6zM174.8 259.9h0.6v0.6h-0.6zM180.6 263.1h0.6v0.6h-0.6zM177.0 258.4h0.6v0.6h-0.6zM179.2 260.5h0.6v0.6h-0.6zM175.2 260.0h0.6v0.6h-0.6zM174.2 263.5h0.6v0.6h-0.6zM181.3 260.5h0.6v0.6h-0.6zM177.3 265.0h0.6v0.6h-0.6zM179.7 257.2h0.6v0.6h-0.6zM176.4 259.4h0.6v0.6h-0.6zM175.6 262.7h0.6v0.6h-0.6zM175.4 259.1h0.6v0.6h-0.6zM179.3 258.5h0.6v0.6h-0.6zM176.0 259.9h0.6v0.6h-0.6zM178.1 262.3h0.6v0.6h-0.6zM179.5 256.2h0.6v0.6h-0.6zM179.3 261.6h0.6v0.6h-0.6zM179.1 262.7h0.6v0.6h-0.6zM179.7 259.5h0.6v0.6h-0.6zM173.5 264.3h0.6v0.6h-0.6zM179.3 259.6h0.6v0.6h-0.6zM179.6 259.2h0.6v0.6h-0.6zM177.6 261.6h0.6v0.6h-0.6zM176.7 257.3h0.6v0.6h-0.6zM175.4 261.3h0.6v0.6h-0.6zM176.1 254.9h0.6v0.6h-0.6zM173.8 264.6h0.6v0.6h-0.6zM181.1 264.0h0.6v0.6h-0.6zM173.6 261.5h0.6v0.6h-0.6zM176.9 261.2h0.6v0.6h-0.6zM183.3 259.4h0.6v0.6h-0.6zM176.7 263.1h0.6v0.6h-0.6zM175.1 261.9h0.6v0.6h-0.6zM179.0 259.9h0.6v0.6h-0.6zM177.3 262.9h0.6v0.6h-0.6zM177.6 259.3h0.6v0.6h-0.6zM175.9 257.9h0.6v0.6h-0.6zM180.0 258.5h0.6v0.6h-0.6zM181.1 261.5h0.6v0.6h-0.6zM175.3 260.3h0.6v0.6h-0.6zM178.8 260.6h0.6v0.6h-0.6zM178.4 261.1h0.6v0.6h-0.6zM176.9 255.4h0.6v0.6h-0.6zM173.7 257.0h0.6v0.6h-0.6zM176.6 259.0h0.6v0.6h-0.6zM179.5 258.4h0.6v0.6h-0.6zM179.1 261.4h0.6v0.6h-0.6zM177.9 256.1h0.6v0.6h-0.6zM176.4 261.0h0.6v0.6h-0.6zM181.9 255.8h0.6v0.6h-0.6zM177.7 259.9h0.6v0.6h-0.6zM179.7 257.6h0.6v0.6h-0.6zM178.1 258.0h0.6v0.6h-0.6zM175.5 258.9h0.6v0.6h-0.6zM178.8 257.1h0.6v0.6h-0.6zM179.7 258.9h0.6v0.6h-0.6zM177.2 253.0h0.6v0.6h-0.6zM173.9 258.9h0.6v0.6h-0.6zM178.3 260.8h0.6v0.6h-0.6zM186.1 257.2h0.6v0.6h-0.6zM181.7 257.4h0.6v0.6h-0.6zM177.4 260.8h0.6v0.6h-0.6zM173.3 264.7h0.6v0.6h-0.6zM178.5 260.2h0.6v0.6h-0.6zM173.9 259.2h0.6v0.6h-0.6zM176.1 260.3h0.6v0.6h-0.6zM178.3 258.0h0.6v0.6h-0.6zM179.5 259.7h0.6v0.6h-0.6zM174.7 261.1h0.6v0.6h-0.6zM173.2 261.1h0.6v0.6h-0.6zM179.3 256.4h0.6v0.6h-0.6zM183.2 256.7h0.6v0.6h-0.6zM180.2 257.8h0.6v0.6h-0.6zM181.3 259.5h0.6v0.6h-0.6zM177.5 258.1h0.6v0.6h-0.6zM178.7 263.4h0.6v0.6h-0.6zM176.8 258.8h0.6v0.6h-0.6zM174.0 257.7h0.6v0.6h-0.6zM176.9 260.6h0.6v0.6h-0.6zM175.7 258.8h0.6v0.6h-0.6zM179.4 259.2h0.6v0.6h-0.6zM177.0 260.5h0.6v0.6h-0.6zM176.3 262.4h0.6v0.6h-0.6zM174.9 260.4h0.6v0.6h-0.6zM177.7 258.3h0.6v0.6h-0.6zM177.3 264.8h0.6v0.6h-0.6zM179.6 253.6h0.6v0.6h-0.6zM176.6 256.9h0.6v0.6h-0.6zM177.1 256.5h0.6v0.6h-0.6zM179.9 259.0h0.6v0.6h-0.6zM183.6 258.2h0.6v0.6h-0.6zM177.7 261.6h0.6v0.6h-0.6zM176.5 259.8h0.6v0.6h-0.6zM174.5 257.1h0.6v0.6h-0.6zM177.0 254.7h0.6v0.6h-0.6zM177.8 260.5h0.6v0.6h-0.6zM176.2 256.4h0.6v0.6h-0.6zM176.9 261.5h0.6v0.6h-0.6zM182.5 259.9h0.6v0.6h-0.6zM173.7 263.2h0.6v0.6h-0.6zM177.5 261.3h0.6v0.6h-0.6zM173.3 262.0h0.6v0.6h-0.6zM178.9 256.9h0.6v0.6h-0.6zM175.7 258.2h0.6v0.6h-0.6zM179.1 255.0h0.6v0.6h-0.6zM175.1 260.3h0.6v0.6h-0.6zM179.5 263.3h0.6v0.6h-0.6zM177.5 257.3h0.6v0.6h-0.6zM179.7 258.7h0.6v0.6h-0.6zM178.4 258.6h0.6v0.6h-0.6zM177.6 256.4h0.6v0.6h-0.6zM174.2 260.6h0.6v0.6h-0.6zM175.8 262.4h0.6v0.6h-0.6zM184.2 257.8h0.6v0.6h-0.6zM179.3 259.0h0.6v0.6h-0.6zM174.5 258.3h0.6v0.6h-0.6zM177.5 255.7h0.6v0.6h-0.6zM178.4 258.4h0.6v0.6h-0.6zM179.8 257.9h0.6v0.6h-0.6zM177.4 258.0h0.6v0.6h-0.6zM173.0 261.7h0.6v0.6h-0.6zM180.8 259.7h0.6v0.6h-0.6zM180.2 255.1h0.6v0.6h-0.6zM176.2 262.1h0.6v0.6h-0.6zM179.7 264.3h0.6v0.6h-0.6zM176.8 256.1h0.6v0.6h-0.6zM178.2 262.8h0.6v0.6h-0.6zM173.3 262.7h0.6v0.6h-0.6zM176.1 264.4h0.6v0.6h-0.6zM175.4 258.3h0.6v0.6h-0.6zM172.6 261.1h0.6v0.6h-0.6zM170.7 263.0h0.6v0.6h-0.6zM183.5 255.5h0.6v0.6h-0.6zM175.8 257.7h0.6v0.6h-0.6zM178.1 257.8h0.6v0.6h-0.6zM177.3 263.0h0.6v0.6h-0.6zM177.9 256.9h0.6v0.6h-0.6zM181.5 256.5h0.6v0.6h-0.6zM179.3 258.5h0.6v0.6h-0.6zM181.5 258.1h0.6v0.6h-0.6zM177.8 261.0h0.6v0.6h-0.6zM177.0 260.1h0.6v0.6h-0.6zM180.8 254.5h0.6v0.6h-0.6zM174.7 260.4h0.6v0.6h-0.6zM178.0 262.3h0.6v0.6h-0.6zM176.4 265.9h0.6v0.6h-0.6zM181.3 255.6h0.6v0.6h-0.6zM177.9 258.3h0.6v0.6h-0.6zM180.3 259.1h0.6v0.6h-0.6zM180.6 259.1h0.6v0.6h-0.6zM182.6 255.4h0.6v0.6h-0.6zM179.4 257.6h0.6v0.6h-0.6zM178.2 259.5h0.6v0.6h-0.6zM178.1 259.9h0.6v0.6h-0.6zM175.4 260.5h0.6v0.6h-0.6zM174.9 258.3h0.6v0.6h-0.6zM175.4 259.6h0.6v0.6h-0.6zM175.6 256.8h0.6v0.6h-0.6zM175.8 257.8h0.6v0.6h-0.6zM175.9 261.0h0.6v0.6h-0.6zM181.0 257.7h0.6v0.6h-0.6zM176.0 259.3h0.6v0.6h-0.6zM179.3 254.1h0.6v0.6h-0.6zM179.0 254.6h0.6v0.6h-0.6zM176.2 260.4h0.6v0.6h-0.6zM179.2 262.4h0.6v0.6h-0.6zM179.0 258.2h0.6v0.6h-0.6zM180.3 257.6h0.6v0.6h-0.6zM177.1 262.5h0.6v0.6h-0.6zM183.2 258.7h0.6v0.6h-0.6zM177.0 264.5h0.6v0.6h-0.6zM177.6 261.2h0.6v0.6h-0.6zM183.7 261.0h0.6v0.6h-0.6zM172.5 260.4h0.6v0.6h-0.6zM181.4 257.9h0.6v0.6h-0.6zM173.6 254.8h0.6v0.6h-0.6zM178.7 258.1h0.6v0.6h-0.6zM174.2 268.4h0.6v0.6h-0.6zM170.7 262.8h0.6v0.6h-0.6zM178.1 259.6h0.6v0.6h-0.6zM179.4 257.4h0.6v0.6h-0.6zM175.1 260.2h0.6v0.6h-0.6zM171.1 261.1h0.6v0.6h-0.6zM182.1 254.5h0.6v0.6h-0.6zM179.8 262.5h0.6v0.6h-0.6zM180.6 257.5h0.6v0.6h-0.6zM179.4 257.4h0.6v0.6h-0.6zM176.7 262.5h0.6v0.6h-0.6zM180.0 261.6h0.6v0.6h-0.6zM176.7 259.0h0.6v0.6h-0.6zM178.5 258.3h0.6v0.6h-0.6zM175.9 258.3h0.6v0.6h-0.6zM178.8 259.3h0.6v0.6h-0.6zM182.5 255.9h0.6v0.6h-0.6zM173.8 263.1h0.6v0.6h-0.6zM183.2 254.3h0.6v0.6h-0.6zM175.5 260.4h0.6v0.6h-0.6zM170.1 263.8h0.6v0.6h-0.6zM175.5 257.0h0.6v0.6h-0.6zM178.3 256.7h0.6v0.6h-0.6zM172.2 261.3h0.6v0.6h-0.6zM181.7 261.3h0.6v0.6h-0.6zM181.2 257.3h0.6v0.6h-0.6zM176.2 259.7h0.6v0.6h-0.6zM179.7 256.6h0.6v0.6h-0.6zM180.0 260.1h0.6v0.6h-0.6zM174.8 259.8h0.6v0.6h-0.6zM179.0 258.4h0.6v0.6h-0.6zM176.9 258.5h0.6v0.6h-0.6zM179.8 262.4h0.6v0.6h-0.6zM179.4 254.0h0.6v0.6h-0.6zM178.0 259.3h0.6v0.6h-0.6zM176.3 256.8h0.6v0.6h-0.6zM177.6 259.7h0.6v0.6h-0.6zM176.4 261.0h0.6v0.6h-0.6zM169.8 261.1h0.6v0.6h-0.6zM178.5 259.7h0.6v0.6h-0.6zM176.8 258.7h0.6v0.6h-0.6zM179.6 260.7h0.6v0.6h-0.6zM180.0 257.4h0.6v0.6h-0.6zM177.9 261.8h0.6v0.6h-0.6zM180.2 259.7h0.6v0.6h-0.6zM176.1 258.3h0.6v0.6h-0.6zM177.5 257.8h0.6v0.6h-0.6zM181.8 258.6h0.6v0.6h-0.6zM173.0 264.2h0.6v0.6h-0.6zM182.5 258.5h0.6v0.6h-0.6zM175.6 258.6h0.6v0.6h-0.6zM181.5 259.2h0.6v0.6h-0.6z" fill="#000" fill-opacity="1.0"/>
<path d="M182.6 252.8h0.6v0.6h-0.6zM179.9 256.9h0.6v0.6h-0.6zM180.9 254.9h0.6v0.6h-0.6zM184.9 253.7h0.6v0.6h-0.6zM178.1 257.2h0.6v0.6h-0.6zM186.1 251.3h0.6v0.6h-0.6zM182.8 254.9h0.6v0.6h-0.6zM179.9 255.0h0.6v0.6h-0.6zM184.2 254.9h0.6v0.6h-0.6zM185.5 251.9h0.6v0.6h-0.6zM185.2 251.6h0.6v0.6h-0.6zM179.5 254.8h0.6v0.6h-0.6zM184.4 254.0h0.6v0.6h-0.6zM184.0 253.1h0.6v0.6h-0.6zM183.0 255.4h0.6v0.6h-0.6zM182.2 252.8h0.6v0.6h-0.6zM185.9 250.7h0.6v0.6h-0.6zM184.1 253.1h0.6v0.6h-0.6zM185.7 252.0h0.6v0.6h-0.6zM186.1 251.6h0.6v0.6h-0.6zM181.8 254.3h0.6v0.6h-0.6zM184.1 251.9h0.6v0.6h-0.6zM185.1 251.9h0.6v0.6h-0.6zM180.6 254.9h0.6v0.6h-0.6zM184.0 255.4h0.6v0.6h-0.6zM185.0 252.4h0.6v0.6h-0.6zM182.4 256.9h0.6v0.6h-0.6zM182.6 254.3h0.6v0.6h-0.6zM183.1 255.6h0.6v0.6h-0.6zM183.3 253.1h0.6v0.6h-0.6zM183.0 252.7h0.6v0.6h-0.6zM180.7 255.7h0.6v0.6h-0.6zM177.4 260.1h0.6v0.6h-0.6zM187.0 249.2h0.6v0.6h-0.6zM181.9 252.9h0.6v0.6h-0.6zM183.7 253.6h0.6v0.6h-0.6zM184.0 251.4h0.6v0.6h-0.6zM181.4 254.5h0.6v0.6h-0.6zM184.1 256.0h0.6v0.6h-0.6zM182.7 254.1h0.6v0.6h-0.6zM182.6 255.4h0.6v0.6h-0.6zM189.7 249.8h0.6v0.6h-0.6zM186.0 250.1h0.6v0.6h-0.6zM185.6 251.8h0.6v0.6h-0.6zM186.7 252.2h0.6v0.6h-0.6zM183.6 251.3h0.6v0.6h-0.6zM183.2 253.2h0.6v0.6h-0.6zM184.2 253.0h0.6v0.6h-0.6zM184.6 250.6h0.6v0.6h-0.6zM181.5 255.1h0.6v0.6h-0.6zM183.7 252.9h0.6v0.6h-0.6zM183.2 253.9h0.6v0.6h-0.6zM185.5 251.7h0.6v0.6h-0.6zM182.6 252.0h0.6v0.6h-0.6zM176.4 257.7h0.6v0.6h-0.6zM182.6 251.4h0.6v0.6h-0.6zM184.1 253.0h0.6v0.6h-0.6zM182.7 253.2h0.6v0.6h-0.6zM182.8 255.2h0.6v0.6h-0.6zM184.0 253.1h0.6v0.6h-0.6zM182.2 254.9h0.6v0.6h-0.6zM185.9 251.5h0.6v0.6h-0.6zM181.6 253.6h0.6v0.6h-0.6zM182.8 252.9h0.6v0.6h-0.6zM180.5 257.2h0.6v0.6h-0.6zM180.5 253.5h0.6v0.6h-0.6zM182.7 256.5h0.6v0.6h-0.6zM182.1 253.0h0.6v0.6h-0.6zM181.2 256.4h0.6v0.6h-0.6zM184.3 253.2h0.6v0.6h-0.6zM183.1 254.5h0.6v0.6h-0.6zM187.0 251.2h0.6v0.6h-0.6zM181.9 253.1h0.6v0.6h-0.6zM185.2 254.1h0.6v0.6h-0.6zM183.9 251.6h0.6v0.6h-0.6zM184.4 254.4h0.6v0.6h-0.6zM182.1 255.4h0.6v0.6h-0.6zM187.0 252.7h0.6v0.6h-0.6zM178.5 255.5h0.6v0.6h-0.6zM184.5 253.6h0.6v0.6h-0.6zM182.4 254.5h0.6v0.6h-0.6zM183.0 255.5h0.6v0.6h-0.6zM178.4 258.2h0.6v0.6h-0.6zM179.9 255.7h0.6v0.6h-0.6zM179.2 256.0h0.6v0.6h-0.6zM183.2 253.9h0.6v0.6h-0.6zM187.1 250.2h0.6v0.6h-0.6zM184.2 253.4h0.6v0.6h-0.6zM184.7 254.4h0.6v0.6h-0.6zM183.6 253.6h0.6v0.6h-0.6zM182.9 254.0h0.6v0.6h-0.6zM183.7 254.7h0.6v0.6h-0.6zM183.3 253.8h0.6v0.6h-0.6zM183.6 254.5h0.6v0.6h-0.6zM182.7 255.4h0.6v0.6h-0.6zM182.3 255.4h0.6v0.6h-0.6zM187.7 250.3h0.6v0.6h-0.6zM182.3 253.1h0.6v0.6h-0.6zM184.9 252.4h0.6v0.6h-0.6zM184.8 251.6h0.6v0.6h-0.6zM185.5 254.2h0.6v0.6h-0.6zM183.9 252.8h0.6v0.6h-0.6zM180.2 256.3h0.6v0.6h-0.6zM185.1 253.0h0.6v0.6h-0.6zM180.0 255.1h0.6v0.6h-0.6zM180.3 254.9h0.6v0.6h-0.6zM182.7 254.5h0.6v0.6h-0.6zM187.7 250.3h0.6v0.6h-0.6zM185.4 249.8h0.6v0.6h-0.6zM187.2 251.5h0.6v0.6h-0.6zM184.7 253.6h0.6v0.6h-0.6zM185.8 254.1h0.6v0.6h-0.6zM183.9 251.0h0.6v0.6h-0.6zM180.3 258.3h0.6v0.6h-0.6zM183.8 255.0h0.6v0.6h-0.6zM182.0 254.0h0.6v0.6h-0.6zM182.6 254.7h0.6v0.6h-0.6zM183.2 253.0h0.6v0.6h-0.6zM184.8 253.2h0.6v0.6h-0.6zM180.4 254.7h0.6v0.6h-0.6zM178.6 257.3h0.6v0.6h-0.6zM182.8 253.3h0.6v0.6h-0.6zM181.7 254.8h0.6v0.6h-0.6zM183.6 254.2h0.6v0.6h-0.6zM185.4 252.5h0.6v0.6h-0.6zM185.1 250.9h0.6v0.6h-0.6zM184.8 252.9h0.6v0.6h-0.6zM180.4 255.3h0.6v0.6h-0.6zM184.3 253.0h0.6v0.6h-0.6zM180.0 255.8h0.6v0.6h-0.6zM187.2 251.5h0.6v0.6h-0.6zM184.2 254.7h0.6v0.6h-0.6zM181.0 255.4h0.6v0.6h-0.6zM185.2 251.7h0.6v0.6h-0.6zM181.0 256.4h0.6v0.6h-0.6zM185.2 248.8h0.6v0.6h-0.6zM182.8 252.6h0.6v0.6h-0.6zM181.6 253.3h0.6v0.6h-0.6zM188.7 248.3h0.6v0.6h-0.6zM182.9 253.2h0.6v0.6h-0.6zM180.7 255.3h0.6v0.6h-0.6zM184.8 254.7h0.6v0.6h-0.6zM184.8 254.4h0.6v0.6h-0.6zM180.8 255.9h0.6v0.6h-0.6zM181.2 253.4h0.6v0.6h-0.6zM183.3 252.8h0.6v0.6h-0.6zM181.2 254.1h0.6v0.6h-0.6zM185.3 251.5h0.6v0.6h-0.6zM183.0 254.2h0.6v0.6h-0.6zM180.6 256.3h0.6v0.6h-0.6zM183.1 254.5h0.6v0.6h-0.6zM182.3 254.6h0.6v0.6h-0.6zM185.0 253.5h0.6v0.6h-0.6zM182.3 255.8h0.6v0.6h-0.6zM180.8 255.5h0.6v0.6h-0.6zM183.6 253.7h0.6v0.6h-0.6zM176.9 257.8h0.6v0.6h-0.6zM183.4 254.9h0.6v0.6h-0.6zM182.6 256.3h0.6v0.6h-0.6zM179.2 257.3h0.6v0.6h-0.6zM184.4 252.8h0.6v0.6h-0.6zM184.4 254.0h0.6v0.6h-0.6zM181.7 255.8h0.6v0.6h-0.6zM185.5 251.6h0.6v0.6h-0.6zM177.2 257.3h0.6v0.6h-0.6zM180.6 254.6h0.6v0.6h-0.6zM183.7 252.4h0.6v0.6h-0.6zM189.2 249.5h0.6v0.6h-0.6zM180.1 256.1h0.6v0.6h-0.6zM187.1 251.4h0.6v0.6h-0.6zM181.5 256.5h0.6v0.6h-0.6zM183.5 256.4h0.6v0.6h-0.6zM182.3 255.3h0.6v0.6h-0.6zM184.2 252.4h0.6v0.6h-0.6zM183.6 255.0h0.6v0.6h-0.6zM184.3 252.8h0.6v0.6h-0.6zM185.3 254.3h0.6v0.6h-0.6zM185.6 252.4h0.6v0.6h-0.6zM183.0 252.0h0.6v0.6h-0.6zM183.2 253.2h0.6v0.6h-0.6zM184.5 251.9h0.6v0.6h-0.6zM183.6 252.1h0.6v0.6h-0.6zM184.8 251.5h0.6v0.6h-0.6zM183.5 254.3h0.6v0.6h-0.6zM182.5 254.4h0.6v0.6h-0.6zM186.7 253.1h0.6v0.6h-0.6zM178.5 256.6h0.6v0.6h-0.6zM185.3 253.2h0.6v0.6h-0.6zM182.2 254.8h0.6v0.6h-0.6zM184.2 255.9h0.6v0.6h-0.6zM182.0 253.3h0.6v0.6h-0.6zM178.9 255.8h0.6v0.6h-0.6zM185.9 251.0h0.6v0.6h-0.6zM188.0 250.6h0.6v0.6h-0.6zM184.5 253.6h0.6v0.6h-0.6zM185.6 253.0h0.6v0.6h-0.6zM180.6 255.2h0.6v0.6h-0.6zM182.0 254.9h0.6v0.6h-0.6zM181.8 253.3h0.6v0.6h-0.6zM182.8 256.5h0.6v0.6h-0.6zM187.5 249.1h0.6v0.6h-0.6zM184.0 253.0h0.6v0.6h-0.6zM181.7 256.0h0.6v0.6h-0.6zM184.1 255.2h0.6v0.6h-0.6zM184.0 252.7h0.6v0.6h-0.6zM177.1 258.8h0.6v0.6h-0.6zM184.7 251.6h0.6v0.6h-0.6zM185.6 252.6h0.6v0.6h-0.6zM179.1 257.0h0.6v0.6h-0.6zM184.4 253.8h0.6v0.6h-0.6zM183.5 253.5h0.6v0.6h-0.6zM182.2 254.2h0.6v0.6h-0.6zM182.5 253.0h0.6v0.6h-0.6zM184.5 252.3h0.6v0.6h-0.6zM184.1 252.4h0.6v0.6h-0.6zM184.2 253.1h0.6v0.6h-0.6zM185.5 252.5h0.6v0.6h-0.6zM185.2 251.9h0.6v0.6h-0.6zM182.9 253.7h0.6v0.6h-0.6zM180.3 256.1h0.6v0.6h-0.6zM186.2 252.3h0.6v0.6h-0.6zM181.5 255.6h0.6v0.6h-0.6zM184.0 251.3h0.6v0.6h-0.6zM184.2 253.4h0.6v0.6h-0.6zM185.1 252.6h0.6v0.6h-0.6zM178.0 255.6h0.6v0.6h-0.6zM187.5 249.7h0.6v0.6h-0.6zM186.9 252.3h0.6v0.6h-0.6zM182.7 252.8h0.6v0.6h-0.6zM186.3 251.2h0.6v0.6h-0.6zM184.7 253.2h0.6v0.6h-0.6zM186.0 252.7h0.6v0.6h-0.6zM179.1 255.4h0.6v0.6h-0.6zM183.5 253.5h0.6v0.6h-0.6zM184.9 252.2h0.6v0.6h-0.6zM184.1 255.7h0.6v0.6h-0.6zM187.1 252.1h0.6v0.6h-0.6zM185.1 251.2h0.6v0.6h-0.6zM183.0 253.9h0.6v0.6h-0.6zM180.2 255.2h0.6v0.6h-0.6zM182.8 252.6h0.6v0.6h-0.6zM184.7 253.1h0.6v0.6h-0.6zM182.5 254.0h0.6v0.6h-0.6zM184.9 253.0h0.6v0.6h-0.6zM183.3 252.2h0.6v0.6h-0.6zM180.8 258.4h0.6v0.6h-0.6zM181.5 254.8h0.6v0.6h-0.6zM178.6 256.7h0.6v0.6h-0.6zM182.0 255.8h0.6v0.6h-0.6zM176.3 257.8h0.6v0.6h-0.6zM182.0 254.2h0.6v0.6h-0.6zM181.2 254.9h0.6v0.6h-0.6zM179.8 257.0h0.6v0.6h-0.6zM186.0 251.6h0.6v0.6h-0.6zM182.8 255.8h0.6v0.6h-0.6zM183.7 252.1h0.6v0.6h-0.6zM181.5 254.4h0.6v0.6h-0.6zM183.9 254.8h0.6v0.6h-0.6zM181.5 255.0h0.6v0.6h-0.6zM182.7 252.7h0.6v0.6h-0.6zM182.5 255.2h0.6v0.6h-0.6zM184.6 250.2h0.6v0.6h-0.6zM184.6 252.2h0.6v0.6h-0.6zM186.5 251.8h0.6v0.6h-0.6zM187.9 250.3h0.6v0.6h-0.6zM181.8 253.9h0.6v0.6h-0.6zM180.3 256.9h0.6v0.6h-0.6zM184.9 253.4h0.6v0.6h-0.6zM183.1 252.0h0.6v0.6h-0.6zM182.1 254.4h0.6v0.6h-0.6zM184.0 254.1h0.6v0.6h-0.6zM186.6 251.3h0.6v0.6h-0.6zM177.9 257.0h0.6v0.6h-0.6zM177.9 257.3h0.6v0.6h-0.6zM180.6 256.3h0.6v0.6h-0.6zM183.4 255.1h0.6v0.6h-0.6zM185.4 251.4h0.6v0.6h-0.6zM185.4 252.0h0.6v0.6h-0.6zM185.1 253.9h0.6v0.6h-0.6zM180.6 255.9h0.6v0.6h-0.6zM186.2 250.3h0.6v0.6h-0.6zM183.8 253.5h0.6v0.6h-0.6zM181.4 253.6h0.6v0.6h-0.6zM181.0 254.4h0.6v0.6h-0.6zM185.8 251.9h0.6v0.6h-0.6zM184.0 251.6h0.6v0.6h-0.6zM184.4 253.0h0.6v0.6h-0.6zM185.1 251.3h0.6v0.6h-0.6zM185.9 253.3h0.6v0.6h-0.6zM186.7 249.7h0.6v0.6h-0.6zM179.7 254.8h0.6v0.6h-0.6zM185.8 252.4h0.6v0.6h-0.6zM183.4 252.5h0.6v0.6h-0.6zM187.1 252.6h0.6v0.6h-0.6zM183.0 253.8h0.6v0.6h-0.6zM186.2 251.9h0.6v0.6h-0.6zM186.0 250.9h0.6v0.6h-0.6zM183.8 252.9h0.6v0.6h-0.6zM181.7 254.7h0.6v0.6h-0.6zM182.9 254.7h0.6v0.6h-0.6zM182.6 254.4h0.6v0.6h-0.6zM180.6 254.4h0.6v0.6h-0.6zM185.8 250.3h0.6v0.6h-0.6zM187.9 251.0h0.6v0.6h-0.6zM177.6 257.7h0.6v0.6h-0.6zM182.3 254.6h0.6v0.6h-0.6zM182.4 253.7h0.6v0.6h-0.6zM186.0 251.3h0.6v0.6h-0.6zM185.0 251.5h0.6v0.6h-0.6zM182.5 256.1h0.6v0.6h-0.6zM181.9 253.5h0.6v0.6h-0.6zM183.5 254.9h0.6v0.6h-0.6zM182.4 253.6h0.6v0.6h-0.6zM185.3 253.3h0.6v0.6h-0.6zM182.5 254.0h0.6v0.6h-0.6zM184.1 256.5h0.6v0.6h-0.6zM183.9 255.5h0.6v0.6h-0.6zM183.1 254.4h0.6v0.6h-0.6zM178.7 257.8h0.6v0.6h-0.6zM183.1 253.5h0.6v0.6h-0.6zM181.4 253.6h0.6v0.6h-0.6zM179.9 256.8h0.6v0.6h-0.6zM181.7 254.9h0.6v0.6h-0.6zM182.5 253.8h0.6v0.6h-0.6zM182.7 256.6h0.6v0.6h-0.6zM180.4 255.5h0.6v0.6h-0.6zM181.8 253.5h0.6v0.6h-0.6zM181.6 256.3h0.6v0.6h-0.6zM185.4 252.1h0.6v0.6h-0.6zM191.1 248.2h0.6v0.6h-0.6zM185.5 250.8h0.6v0.6h-0.6zM186.7 253.0h0.6v0.6h-0.6zM183.5 255.9h0.6v0.6h-0.6zM180.7 254.5h0.6v0.6h-0.6zM182.6 253.3h0.6v0.6h-0.6zM184.0 251.8h0.6v0.6h-0.6zM182.2 252.2h0.6v0.6h-0.6zM183.8 254.6h0.6v0.6h-0.6zM182.8 254.5h0.6v0.6h-0.6zM185.0 250.9h0.6v0.6h-0.6zM180.4 256.3h0.6v0.6h-0.6zM183.7 253.1h0.6v0.6h-0.6zM181.8 256.5h0.6v0.6h-0.6zM180.4 255.8h0.6v0.6h-0.6zM183.6 254.4h0.6v0.6h-0.6zM181.7 254.0h0.6v0.6h-0.6zM187.2 249.3h0.6v0.6h-0.6zM184.9 252.2h0.6v0.6h-0.6zM182.1 254.7h0.6v0.6h-0.6zM182.8 254.5h0.6v0.6h-0.6zM177.4 258.6h0.6v0.6h-0.6zM182.8 252.9h0.6v0.6h-0.6zM183.8 256.3h0.6v0.6h-0.6zM187.8 250.8h0.6v0.6h-0.6zM183.5 253.1h0.6v0.6h-0.6zM186.1 250.8h0.6v0.6h-0.6zM181.8 255.9h0.6v0.6h-0.6zM180.5 255.0h0.6v0.6h-0.6zM185.5 249.8h0.6v0.6h-0.6zM183.1 254.0h0.6v0.6h-0.6zM182.9 252.2h0.6v0.6h-0.6zM182.5 254.0h0.6v0.6h-0.6zM188.2 250.9h0.6v0.6h-0.6zM182.0 255.9h0.6v0.6h-0.6zM184.6 252.5h0.6v0.6h-0.6zM182.5 254.0h0.6v0.6h-0.6zM179.3 256.3h0.6v0.6h-0.6zM186.2 253.1h0.6v0.6h-0.6zM187.2 250.0h0.6v0.6h-0.6zM183.1 250.8h0.6v0.6h-0.6zM181.8 253.4h0.6v0.6h-0.6zM184.0 251.0h0.6v0.6h-0.6zM180.2 254.9h0.6v0.6h-0.6zM184.6 253.7h0.6v0.6h-0.6zM182.3 256.9h0.6v0.6h-0.6zM183.1 252.9h0.6v0.6h-0.6zM184.0 253.1h0.6v0.6h-0.6zM185.3 252.5h0.6v0.6h-0.6zM188.9 250.5h0.6v0.6h-0.6zM182.3 255.6h0.6v0.6h-0.6zM184.3 251.6h0.6v0.6h-0.6zM181.0 254.6h0.6v0.6h-0.6zM178.0 259.0h0.6v0.6h-0.6zM183.5 255.1h0.6v0.6h-0.6zM182.0 254.9h0.6v0.6h-0.6zM185.5 253.1h0.6v0.6h-0.6zM183.3 252.4h0.6v0.6h-0.6zM188.8 250.2h0.6v0.6h-0.6zM187.3 252.4h0.6v0.6h-0.6zM186.7 251.4h0.6v0.6h-0.6zM184.7 253.4h0.6v0.6h-0.6zM180.3 257.3h0.6v0.6h-0.6zM181.3 256.0h0.6v0.6h-0.6zM181.4 256.2h0.6v0.6h-0.6zM183.7 256.6h0.6v0.6h-0.6zM184.0 253.8h0.6v0.6h-0.6zM181.0 255.3h0.6v0.6h-0.6zM182.9 253.7h0.6v0.6h-0.6zM181.7 254.0h0.6v0.6h-0.6zM184.7 252.1h0.6v0.6h-0.6zM181.6 255.6h0.6v0.6h-0.6zM181.3 255.2h0.6v0.6h-0.6zM181.5 254.1h0.6v0.6h-0.6zM182.2 253.6h0.6v0.6h-0.6zM180.6 256.4h0.6v0.6h-0.6zM181.6 253.3h0.6v0.6h-0.6zM182.4 254.7h0.6v0.6h-0.6zM184.4 253.3h0.6v0.6h-0.6zM184.2 253.8h0.6v0.6h-0.6zM181.6 254.1h0.6v0.6h-0.6zM184.3 252.3h0.6v0.6h-0.6zM183.6 254.3h0.6v0.6h-0.6zM186.1 252.9h0.6v0.6h-0.6zM181.4 254.8h0.6v0.6h-0.6zM183.6 251.7h0.6v0.6h-0.6zM180.7 256.6h0.6v0.6h-0.6zM181.3 254.3h0.6v0.6h-0.6zM185.4 252.7h0.6v0.6h-0.6zM185.1 251.8h0.6v0.6h-0.6zM182.4 254.1h0.6v0.6h-0.6zM182.6 251.7h0.6v0.6h-0.6zM182.1 255.6h0.6v0.6h-0.6zM181.4 255.2h0.6v0.6h-0.6zM183.8 253.9h0.6v0.6h-0.6zM181.4 253.8h0.6v0.6h-0.6zM188.4 248.5h0.6v0.6h-0.6zM186.0 249.2h0.6v0.6h-0.6zM183.3 253.4h0.6v0.6h-0.6zM188.8 251.7h0.6v0.6h-0.6zM184.8 251.2h0.6v0.6h-0.6zM180.9 254.7h0.6v0.6h-0.6zM182.2 255.0h0.6v0.6h-0.6zM181.3 255.1h0.6v0.6h-0.6zM187.4 252.1h0.6v0.6h-0.6zM178.4 256.6h0.6v0.6h-0.6zM183.2 255.5h0.6v0.6h-0.6zM183.7 255.8h0.6v0.6h-0.6zM184.9 254.2h0.6v0.6h-0.6zM181.1 255.2h0.6v0.6h-0.6zM185.9 252.3h0.6v0.6h-0.6zM178.8 257.1h0.6v0.6h-0.6zM184.0 253.9h0.6v0.6h-0.6zM182.9 256.3h0.6v0.6h-0.6zM184.5 254.6h0.6v0.6h-0.6zM184.2 253.1h0.6v0.6h-0.6zM181.8 253.5h0.6v0.6h-0.6zM185.6 252.7h0.6v0.6h-0.6zM185.1 251.7h0.6v0.6h-0.6zM180.7 255.4h0.6v0.6h-0.6zM182.5 254.4h0.6v0.6h-0.6zM184.9 251.2h0.6v0.6h-0.6zM182.6 255.2h0.6v0.6h-0.6zM186.6 253.7h0.6v0.6h-0.6zM183.9 252.2h0.6v0.6h-0.6zM180.4 255.2h0.6v0.6h-0.6zM183.5 253.8h0.6v0.6h-0.6zM182.7 253.5h0.6v0.6h-0.6zM182.8 254.1h0.6v0.6h-0.6zM184.6 252.7h0.6v0.6h-0.6zM180.7 254.4h0.6v0.6h-0.6zM186.5 250.9h0.6v0.6h-0.6zM182.8 254.1h0.6v0.6h-0.6zM185.6 251.4h0.6v0.6h-0.6zM183.5 253.3h0.6v0.6h-0.6zM183.9 251.9h0.6v0.6h-0.6zM184.3 254.2h0.6v0.6h-0.6zM186.3 252.0h0.6v0.6h-0.6zM184.9 254.4h0.6v0.6h-0.6zM185.7 253.5h0.6v0.6h-0.6zM179.8 255.2h0.6v0.6h-0.6zM184.9 252.1h0.6v0.6h-0.6zM181.7 253.9h0.6v0.6h-0.6zM185.8 250.1h0.6v0.6h-0.6zM182.6 252.5h0.6v0.6h-0.6zM184.2 255.8h0.6v0.6h-0.6zM188.4 248.8h0.6v0.6h-0.6zM182.0 256.9h0.6v0.6h-0.6zM180.2 254.1h0.6v0.6h-0.6zM183.3 252.3h0.6v0.6h-0.6zM180.7 257.4h0.6v0.6h-0.6zM180.9 254.4h0.6v0.6h-0.6zM183.5 253.3h0.6v0.6h-0.6zM185.8 251.7h0.6v0.6h-0.6zM187.5 251.6h0.6v0.6h-0.6zM187.9 251.2h0.6v0.6h-0.6zM183.7 254.0h0.6v0.6h-0.6zM182.3 252.6h0.6v0.6h-0.6zM181.0 256.5h0.6v0.6h-0.6zM177.4 257.6h0.6v0.6h-0.6zM180.3 256.2h0.6v0.6h-0.6zM181.1 255.9h0.6v0.6h-0.6zM182.5 253.8h0.6v0.6h-0.6zM179.9 253.7h0.6v0.6h-0.6zM182.6 252.7h0.6v0.6h-0.6zM182.8 254.6h0.6v0.6h-0.6zM186.0 252.3h0.6v0.6h-0.6zM185.7 249.9h0.6v0.6h-0.6zM185.7 253.7h0.6v0.6h-0.6zM183.4 252.2h0.6v0.6h-0.6z" fill="#000" fill-opacity="1.0"/>
<path d="M179.5 254.9h0.5v0.5h-0.5zM169.3 264.2h0.5v0.5h-0.5zM179.8 268.2h0.5v0.5h-0.5zM176.0 262.1h0.5v0.5h-0.5zM175.1 256.4h0.5v0.5h-0.5zM177.8 259.0h0.5v0.5h-0.5zM179.7 263.1h0.5v0.5h-0.5zM180.2 259.6h0.5v0.5h-0.5zM188.3 259.9h0.5v0.5h-0.5zM183.1 256.4h0.5v0.5h-0.5zM181.9 259.5h0.5v0.5h-0.5zM175.6 261.8h0.5v0.5h-0.5zM184.9 257.9h0.5v0.5h-0.5zM186.8 256.6h0.5v0.5h-0.5zM175.4 254.5h0.5v0.5h-0.5zM173.8 259.1h0.5v0.5h-0.5zM166.6 251.5h0.5v0.5h-0.5zM175.7 262.6h0.5v0.5h-0.5zM180.8 252.6h0.5v0.5h-0.5zM177.0 255.6h0.5v0.5h-0.5zM176.2 264.2h0.5v0.5h-0.5zM175.9 257.9h0.5v0.5h-0.5zM182.2 259.2h0.5v0.5h-0.5zM182.7 255.2h0.5v0.5h-0.5zM196.6 249.6h0.5v0.5h-0.5zM191.5 252.0h0.5v0.5h-0.5zM178.1 257.9h0.5v0.5h-0.5zM177.9 260.7h0.5v0.5h-0.5zM176.8 266.7h0.5v0.5h-0.5zM185.6 248.2h0.5v0.5h-0.5zM174.6 260.6h0.5v0.5h-0.5zM180.6 260.2h0.5v0.5h-0.5zM178.1 266.5h0.5v0.5h-0.5zM178.6 256.7h0.5v0.5h-0.5zM169.2 264.6h0.5v0.5h-0.5zM174.7 256.6h0.5v0.5h-0.5zM174.8 259.4h0.5v0.5h-0.5zM178.1 257.9h0.5v0.5h-0.5zM168.2 263.1h0.5v0.5h-0.5zM173.4 262.8h0.5v0.5h-0.5zM186.8 255.9h0.5v0.5h-0.5zM172.8 259.8h0.5v0.5h-0.5zM185.5 265.5h0.5v0.5h-0.5zM182.7 248.7h0.5v0.5h-0.5zM177.8 258.8h0.5v0.5h-0.5zM175.9 258.5h0.5v0.5h-0.5zM169.5 265.1h0.5v0.5h-0.5zM172.2 254.2h0.5v0.5h-0.5zM191.9 254.2h0.5v0.5h-0.5zM177.6 251.5h0.5v0.5h-0.5zM183.0 250.8h0.5v0.5h-0.5zM183.9 253.1h0.5v0.5h-0.5zM173.7 257.2h0.5v0.5h-0.5zM174.0 261.4h0.5v0.5h-0.5zM180.2 249.6h0.5v0.5h-0.5zM173.5 256.4h0.5v0.5h-0.5zM177.9 258.4h0.5v0.5h-0.5zM181.8 255.5h0.5v0.5h-0.5zM182.5 257.4h0.5v0.5h-0.5zM187.7 253.8h0.5v0.5h-0.5zM179.7 255.1h0.5v0.5h-0.5zM176.7 263.3h0.5v0.5h-0.5zM165.7 264.3h0.5v0.5h-0.5zM184.8 254.3h0.5v0.5h-0.5zM178.6 255.4h0.5v0.5h-0.5zM175.8 257.6h0.5v0.5h-0.5zM178.5 267.8h0.5v0.5h-0.5zM179.4 250.2h0.5v0.5h-0.5zM173.1 256.1h0.5v0.5h-0.5zM178.1 266.2h0.5v0.5h-0.5zM182.6 258.6h0.5v0.5h-0.5zM180.2 257.4h0.5v0.5h-0.5zM194.4 258.8h0.5v0.5h-0.5zM173.5 251.5h0.5v0.5h-0.5zM161.3 266.5h0.5v0.5h-0.5zM170.6 275.0h0.5v0.5h-0.5zM182.5 254.4h0.5v0.5h-0.5zM178.6 264.4h0.5v0.5h-0.5zM176.2 257.5h0.5v0.5h-0.5zM175.0 255.6h0.5v0.5h-0.5zM185.4 257.6h0.5v0.5h-0.5zM174.7 248.2h0.5v0.5h-0.5zM174.8 261.7h0.5v0.5h-0.5zM175.5 264.0h0.5v0.5h-0.5zM164.3 261.8h0.5v0.5h-0.5zM180.0 262.3h0.5v0.5h-0.5zM175.6 268.1h0.5v0.5h-0.5zM183.0 257.0h0.5v0.5h-0.5zM182.8 255.9h0.5v0.5h-0.5zM174.8 257.2h0.5v0.5h-0.5zM178.2 261.5h0.5v0.5h-0.5zM187.5 257.1h0.5v0.5h-0.5zM187.7 254.2h0.5v0.5h-0.5zM174.7 258.0h0.5v0.5h-0.5zM180.0 258.1h0.5v0.5h-0.5zM185.3 264.1h0.5v0.5h-0.5zM180.9 257.4h0.5v0.5h-0.5zM185.7 259.2h0.5v0.5h-0.5zM182.8 262.8h0.5v0.5h-0.5zM181.0 251.8h0.5v0.5h-0.5zM176.8 258.6h0.5v0.5h-0.5zM176.8 253.7h0.5v0.5h-0.5zM169.9 265.0h0.5v0.5h-0.5zM180.7 264.6h0.5v0.5h-0.5zM184.2 254.7h0.5v0.5h-0.5zM176.2 256.6h0.5v0.5h-0.5zM170.6 260.5h0.5v0.5h-0.5zM171.2 263.2h0.5v0.5h-0.5zM169.5 264.0h0.5v0.5h-0.5zM183.4 258.2h0.5v0.5h-0.5zM176.8 265.2h0.5v0.5h-0.5zM187.8 251.8h0.5v0.5h-0.5zM166.4 251.9h0.5v0.5h-0.5zM163.7 258.6h0.5v0.5h-0.5zM182.8 248.1h0.5v0.5h-0.5zM188.4 259.4h0.5v0.5h-0.5zM177.3 263.6h0.5v0.5h-0.5zM183.9 248.3h0.5v0.5h-0.5zM191.4 262.5h0.5v0.5h-0.5zM183.2 261.1h0.5v0.5h-0.5zM176.0 260.6h0.5v0.5h-0.5zM176.2 262.0h0.5v0.5h-0.5zM178.4 259.4h0.5v0.5h-0.5zM173.1 250.1h0.5v0.5h-0.5zM182.7 266.5h0.5v0.5h-0.5zM185.2 252.2h0.5v0.5h-0.5zM183.5 256.4h0.5v0.5h-0.5zM181.2 256.3h0.5v0.5h-0.5zM192.7 254.5h0.5v0.5h-0.5zM178.0 248.5h0.5v0.5h-0.5zM179.3 259.4h0.5v0.5h-0.5zM183.4 257.2h0.5v0.5h-0.5zM185.6 248.4h0.5v0.5h-0.5zM182.4 255.0h0.5v0.5h-0.5zM172.3 272.4h0.5v0.5h-0.5zM177.3 253.7h0.5v0.5h-0.5zM178.2 260.7h0.5v0.5h-0.5zM174.9 255.5h0.5v0.5h-0.5zM182.5 260.6h0.5v0.5h-0.5zM177.6 257.7h0.5v0.5h-0.5zM181.9 264.2h0.5v0.5h-0.5zM173.1 256.4h0.5v0.5h-0.5zM171.5 262.6h0.5v0.5h-0.5zM172.9 257.8h0.5v0.5h-0.5zM177.2 259.5h0.5v0.5h-0.5zM175.3 263.3h0.5v0.5h-0.5zM181.1 260.7h0.5v0.5h-0.5zM180.8 253.5h0.5v0.5h-0.5zM184.5 258.3h0.5v0.5h-0.5zM176.7 253.1h0.5v0.5h-0.5zM184.4 252.7h0.5v0.5h-0.5zM178.0 260.9h0.5v0.5h-0.5zM172.5 268.4h0.5v0.5h-0.5zM175.8 254.2h0.5v0.5h-0.5zM195.9 258.9h0.5v0.5h-0.5zM172.7 259.5h0.5v0.5h-0.5zM172.7 255.0h0.5v0.5h-0.5zM180.9 262.3h0.5v0.5h-0.5zM160.6 257.4h0.5v0.5h-0.5zM178.3 257.9h0.5v0.5h-0.5zM176.1 259.7h0.5v0.5h-0.5zM163.2 254.6h0.5v0.5h-0.5zM164.4 267.5h0.5v0.5h-0.5zM181.1 260.2h0.5v0.5h-0.5zM173.8 265.2h0.5v0.5h-0.5zM163.4 264.3h0.5v0.5h-0.5zM178.4 258.5h0.5v0.5h-0.5zM181.2 257.0h0.5v0.5h-0.5zM183.2 258.1h0.5v0.5h-0.5zM176.4 259.6h0.5v0.5h-0.5zM171.4 256.2h0.5v0.5h-0.5zM174.5 261.9h0.5v0.5h-0.5zM184.4 255.9h0.5v0.5h-0.5zM165.2 264.1h0.5v0.5h-0.5zM186.2 257.7h0.5v0.5h-0.5zM185.9 252.2h0.5v0.5h-0.5zM180.9 262.4h0.5v0.5h-0.5zM174.2 268.7h0.5v0.5h-0.5zM167.5 274.0h0.5v0.5h-0.5zM170.4 263.9h0.5v0.5h-0.5zM175.9 255.7h0.5v0.5h-0.5zM191.6 265.6h0.5v0.5h-0.5zM181.3 259.8h0.5v0.5h-0.5zM178.0 257.9h0.5v0.5h-0.5zM190.7 255.9h0.5v0.5h-0.5zM169.3 259.3h0.5v0.5h-0.5zM162.1 276.4h0.5v0.5h-0.5zM176.7 253.1h0.5v0.5h-0.5zM180.6 258.8h0.5v0.5h-0.5zM167.2 260.0h0.5v0.5h-0.5zM160.1 264.6h0.5v0.5h-0.5zM174.2 263.6h0.5v0.5h-0.5zM181.0 258.4h0.5v0.5h-0.5zM189.3 261.7h0.5v0.5h-0.5zM180.8 252.8h0.5v0.5h-0.5zM183.0 250.2h0.5v0.5h-0.5zM182.4 263.4h0.5v0.5h-0.5zM178.6 257.1h0.5v0.5h-0.5zM177.7 263.6h0.5v0.5h-0.5zM175.0 259.7h0.5v0.5h-0.5zM171.1 264.4h0.5v0.5h-0.5zM170.2 258.8h0.5v0.5h-0.5zM188.7 258.5h0.5v0.5h-0.5zM192.0 263.3h0.5v0.5h-0.5zM188.3 258.8h0.5v0.5h-0.5zM173.4 259.2h0.5v0.5h-0.5zM173.8 255.0h0.5v0.5h-0.5zM177.9 259.3h0.5v0.5h-0.5zM174.2 260.9h0.5v0.5h-0.5zM177.1 267.0h0.5v0.5h-0.5zM177.5 253.4h0.5v0.5h-0.5zM179.1 255.4h0.5v0.5h-0.5zM185.1 254.4h0.5v0.5h-0.5zM176.2 260.1h0.5v0.5h-0.5zM175.5 260.2h0.5v0.5h-0.5zM182.3 256.7h0.5v0.5h-0.5zM181.9 256.1h0.5v0.5h-0.5zM177.7 255.1h0.5v0.5h-0.5zM183.2 255.7h0.5v0.5h-0.5zM179.0 256.3h0.5v0.5h-0.5zM186.8 255.0h0.5v0.5h-0.5zM182.3 258.3h0.5v0.5h-0.5zM174.9 259.6h0.5v0.5h-0.5zM190.6 254.3h0.5v0.5h-0.5zM168.0 267.8h0.5v0.5h-0.5zM182.2 260.8h0.5v0.5h-0.5zM171.2 258.6h0.5v0.5h-0.5zM176.3 252.9h0.5v0.5h-0.5zM176.0 260.5h0.5v0.5h-0.5zM171.7 267.2h0.5v0.5h-0.5zM184.2 252.8h0.5v0.5h-0.5zM188.2 250.0h0.5v0.5h-0.5zM183.8 252.7h0.5v0.5h-0.5zM172.0 259.7h0.5v0.5h-0.5zM174.3 253.3h0.5v0.5h-0.5zM173.1 260.6h0.5v0.5h-0.5zM181.1 252.1h0.5v0.5h-0.5zM178.4 253.3h0.5v0.5h-0.5zM175.2 262.6h0.5v0.5h-0.5zM180.3 254.5h0.5v0.5h-0.5zM178.9 258.8h0.5v0.5h-0.5zM177.3 255.4h0.5v0.5h-0.5zM175.8 256.3h0.5v0.5h-0.5zM178.9 256.1h0.5v0.5h-0.5zM175.1 262.7h0.5v0.5h-0.5zM170.5 262.8h0.5v0.5h-0.5zM186.1 255.7h0.5v0.5h-0.5zM174.9 256.7h0.5v0.5h-0.5zM185.2 254.5h0.5v0.5h-0.5zM169.8 262.0h0.5v0.5h-0.5zM177.6 259.0h0.5v0.5h-0.5zM172.6 257.5h0.5v0.5h-0.5zM179.5 252.4h0.5v0.5h-0.5zM164.2 253.3h0.5v0.5h-0.5zM178.6 254.9h0.5v0.5h-0.5zM176.2 248.3h0.5v0.5h-0.5zM175.7 264.1h0.5v0.5h-0.5zM185.6 255.8h0.5v0.5h-0.5zM175.5 256.2h0.5v0.5h-0.5zM175.9 255.6h0.5v0.5h-0.5zM181.3 253.7h0.5v0.5h-0.5zM167.2 267.6h0.5v0.5h-0.5zM179.6 262.5h0.5v0.5h-0.5zM192.5 260.6h0.5v0.5h-0.5zM171.9 252.1h0.5v0.5h-0.5zM173.7 268.7h0.5v0.5h-0.5zM185.3 252.8h0.5v0.5h-0.5zM183.2 256.0h0.5v0.5h-0.5zM175.3 258.1h0.5v0.5h-0.5zM180.6 263.2h0.5v0.5h-0.5zM169.7 263.8h0.5v0.5h-0.5zM187.1 256.3h0.5v0.5h-0.5zM173.0 249.0h0.5v0.5h-0.5zM179.3 255.1h0.5v0.5h-0.5zM188.9 251.5h0.5v0.5h-0.5zM172.9 264.3h0.5v0.5h-0.5zM183.0 262.9h0.5v0.5h-0.5zM182.5 256.9h0.5v0.5h-0.5zM179.5 261.9h0.5v0.5h-0.5zM174.5 269.0h0.5v0.5h-0.5zM183.6 258.5h0.5v0.5h-0.5zM175.3 262.1h0.5v0.5h-0.5zM180.4 254.4h0.5v0.5h-0.5zM185.3 257.8h0.5v0.5h-0.5zM175.2 262.7h0.5v0.5h-0.5zM175.8 258.3h0.5v0.5h-0.5zM188.1 260.8h0.5v0.5h-0.5zM177.8 257.2h0.5v0.5h-0.5zM186.7 253.8h0.5v0.5h-0.5zM178.5 258.8h0.5v0.5h-0.5zM186.5 252.8h0.5v0.5h-0.5zM177.9 266.0h0.5v0.5h-0.5zM177.5 261.5h0.5v0.5h-0.5zM174.0 264.5h0.5v0.5h-0.5zM169.1 250.2h0.5v0.5h-0.5zM179.9 253.1h0.5v0.5h-0.5zM172.3 254.8h0.5v0.5h-0.5zM184.3 252.5h0.5v0.5h-0.5zM185.8 253.7h0.5v0.5h-0.5zM179.2 257.6h0.5v0.5h-0.5zM176.7 252.6h0.5v0.5h-0.5zM176.5 260.0h0.5v0.5h-0.5zM176.2 254.3h0.5v0.5h-0.5zM177.9 253.1h0.5v0.5h-0.5zM170.9 264.5h0.5v0.5h-0.5zM177.4 267.7h0.5v0.5h-0.5zM174.6 257.3h0.5v0.5h-0.5zM186.1 249.6h0.5v0.5h-0.5zM177.3 263.6h0.5v0.5h-0.5zM184.7 255.3h0.5v0.5h-0.5zM190.5 254.3h0.5v0.5h-0.5zM186.3 252.9h0.5v0.5h-0.5zM175.0 253.1h0.5v0.5h-0.5zM181.0 249.0h0.5v0.5h-0.5zM182.6 261.6h0.5v0.5h-0.5zM176.5 264.6h0.5v0.5h-0.5zM184.5 253.6h0.5v0.5h-0.5zM180.3 255.7h0.5v0.5h-0.5zM175.5 265.2h0.5v0.5h-0.5zM176.3 255.9h0.5v0.5h-0.5zM175.2 267.5h0.5v0.5h-0.5zM189.9 250.8h0.5v0.5h-0.5zM170.0 257.7h0.5v0.5h-0.5zM170.9 274.6h0.5v0.5h-0.5zM171.9 252.5h0.5v0.5h-0.5zM174.8 263.7h0.5v0.5h-0.5zM167.7 275.1h0.5v0.5h-0.5zM187.4 251.7h0.5v0.5h-0.5zM174.5 258.2h0.5v0.5h-0.5zM180.5 253.5h0.5v0.5h-0.5zM180.8 260.3h0.5v0.5h-0.5zM173.1 258.1h0.5v0.5h-0.5zM178.9 258.7h0.5v0.5h-0.5zM174.8 259.6h0.5v0.5h-0.5zM178.3 261.9h0.5v0.5h-0.5zM176.2 266.1h0.5v0.5h-0.5zM178.0 259.6h0.5v0.5h-0.5zM171.4 261.5h0.5v0.5h-0.5zM185.5 252.1h0.5v0.5h-0.5zM184.9 248.2h0.5v0.5h-0.5zM186.6 253.3h0.5v0.5h-0.5zM163.0 263.2h0.5v0.5h-0.5zM179.5 253.4h0.5v0.5h-0.5zM181.7 256.9h0.5v0.5h-0.5zM160.8 268.0h0.5v0.5h-0.5zM179.5 262.4h0.5v0.5h-0.5zM175.9 268.7h0.5v0.5h-0.5zM185.5 255.3h0.5v0.5h-0.5zM180.1 258.5h0.5v0.5h-0.5zM190.9 254.2h0.5v0.5h-0.5zM187.3 260.2h0.5v0.5h-0.5zM183.2 257.4h0.5v0.5h-0.5zM183.5 250.6h0.5v0.5h-0.5zM171.9 260.1h0.5v0.5h-0.5zM173.8 261.9h0.5v0.5h-0.5zM179.1 262.8h0.5v0.5h-0.5zM182.9 254.3h0.5v0.5h-0.5zM176.3 262.3h0.5v0.5h-0.5zM177.8 255.7h0.5v0.5h-0.5zM180.0 263.5h0.5v0.5h-0.5zM186.8 257.8h0.5v0.5h-0.5zM168.9 257.5h0.5v0.5h-0.5zM181.4 261.4h0.5v0.5h-0.5zM183.3 249.2h0.5v0.5h-0.5zM174.8 265.6h0.5v0.5h-0.5zM161.3 275.4h0.5v0.5h-0.5zM176.9 261.5h0.5v0.5h-0.5zM179.8 267.7h0.5v0.5h-0.5zM174.0 256.5h0.5v0.5h-0.5zM172.0 253.1h0.5v0.5h-0.5zM184.3 267.0h0.5v0.5h-0.5zM184.9 250.8h0.5v0.5h-0.5zM177.9 260.5h0.5v0.5h-0.5zM177.3 255.5h0.5v0.5h-0.5zM174.1 256.7h0.5v0.5h-0.5zM170.5 270.9h0.5v0.5h-0.5zM178.4 264.2h0.5v0.5h-0.5zM171.1 266.4h0.5v0.5h-0.5zM178.5 254.9h0.5v0.5h-0.5zM160.3 266.8h0.5v0.5h-0.5zM178.2 251.7h0.5v0.5h-0.5zM180.0 252.6h0.5v0.5h-0.5zM175.1 254.6h0.5v0.5h-0.5zM185.5 255.7h0.5v0.5h-0.5zM170.8 258.2h0.5v0.5h-0.5zM181.8 258.6h0.5v0.5h-0.5zM165.9 271.4h0.5v0.5h-0.5zM171.8 262.1h0.5v0.5h-0.5zM182.1 257.1h0.5v0.5h-0.5zM185.6 260.2h0.5v0.5h-0.5zM171.8 251.4h0.5v0.5h-0.5zM169.8 257.4h0.5v0.5h-0.5zM179.8 255.9h0.5v0.5h-0.5zM184.3 249.0h0.5v0.5h-0.5zM174.3 263.6h0.5v0.5h-0.5zM175.1 266.4h0.5v0.5h-0.5zM180.3 259.6h0.5v0.5h-0.5zM178.8 262.2h0.5v0.5h-0.5zM171.8 255.5h0.5v0.5h-0.5zM177.3 262.1h0.5v0.5h-0.5zM167.4 274.1h0.5v0.5h-0.5zM176.8 251.8h0.5v0.5h-0.5zM179.0 254.1h0.5v0.5h-0.5zM166.4 263.1h0.5v0.5h-0.5zM175.6 265.7h0.5v0.5h-0.5zM177.5 258.3h0.5v0.5h-0.5zM176.5 254.8h0.5v0.5h-0.5zM189.4 254.8h0.5v0.5h-0.5zM179.4 254.1h0.5v0.5h-0.5zM174.4 254.3h0.5v0.5h-0.5zM174.1 264.4h0.5v0.5h-0.5zM183.5 248.7h0.5v0.5h-0.5zM171.6 256.9h0.5v0.5h-0.5zM177.5 250.6h0.5v0.5h-0.5zM178.6 256.4h0.5v0.5h-0.5zM175.7 257.8h0.5v0.5h-0.5zM174.6 258.2h0.5v0.5h-0.5zM180.2 263.3h0.5v0.5h-0.5zM181.5 255.0h0.5v0.5h-0.5zM174.8 255.4h0.5v0.5h-0.5zM182.3 250.1h0.5v0.5h-0.5zM182.3 256.7h0.5v0.5h-0.5zM187.3 257.8h0.5v0.5h-0.5zM174.5 266.9h0.5v0.5h-0.5zM175.8 254.8h0.5v0.5h-0.5zM189.6 249.7h0.5v0.5h-0.5zM188.9 257.7h0.5v0.5h-0.5zM173.8 251.3h0.5v0.5h-0.5zM187.7 251.0h0.5v0.5h-0.5zM179.0 248.0h0.5v0.5h-0.5zM183.7 257.2h0.5v0.5h-0.5zM177.4 261.7h0.5v0.5h-0.5zM187.5 259.1h0.5v0.5h-0.5zM176.6 256.8h0.5v0.5h-0.5zM186.1 257.5h0.5v0.5h-0.5zM184.0 261.4h0.5v0.5h-0.5zM174.9 258.8h0.5v0.5h-0.5zM179.6 250.3h0.5v0.5h-0.5zM176.4 276.2h0.5v0.5h-0.5zM172.3 263.7h0.5v0.5h-0.5zM180.7 257.0h0.5v0.5h-0.5zM174.7 262.4h0.5v0.5h-0.5zM180.6 257.6h0.5v0.5h-0.5zM176.9 255.7h0.5v0.5h-0.5zM183.6 257.0h0.5v0.5h-0.5zM176.0 254.8h0.5v0.5h-0.5zM191.2 249.5h0.5v0.5h-0.5zM189.8 258.8h0.5v0.5h-0.5zM180.2 255.5h0.5v0.5h-0.5zM183.8 254.7h0.5v0.5h-0.5zM175.3 259.1h0.5v0.5h-0.5zM175.8 266.0h0.5v0.5h-0.5zM175.8 257.2h0.5v0.5h-0.5zM180.8 255.1h0.5v0.5h-0.5zM173.9 256.4h0.5v0.5h-0.5zM178.8 256.4h0.5v0.5h-0.5zM178.6 265.8h0.5v0.5h-0.5zM176.8 261.1h0.5v0.5h-0.5zM173.9 255.9h0.5v0.5h-0.5zM181.5 255.3h0.5v0.5h-0.5zM178.2 255.4h0.5v0.5h-0.5zM178.9 269.8h0.5v0.5h-0.5zM187.5 250.5h0.5v0.5h-0.5zM176.5 264.0h0.5v0.5h-0.5zM178.1 254.4h0.5v0.5h-0.5zM184.3 262.9h0.5v0.5h-0.5zM185.5 260.4h0.5v0.5h-0.5zM169.8 261.3h0.5v0.5h-0.5zM177.6 253.3h0.5v0.5h-0.5zM190.1 255.7h0.5v0.5h-0.5zM191.8 261.1h0.5v0.5h-0.5zM173.3 259.5h0.5v0.5h-0.5zM181.6 250.3h0.5v0.5h-0.5zM182.5 254.7h0.5v0.5h-0.5zM176.7 255.1h0.5v0.5h-0.5zM162.1 267.7h0.5v0.5h-0.5zM182.2 251.2h0.5v0.5h-0.5zM175.3 263.7h0.5v0.5h-0.5zM175.0 255.9h0.5v0.5h-0.5zM180.5 253.5h0.5v0.5h-0.5zM180.9 255.7h0.5v0.5h-0.5zM173.0 267.7h0.5v0.5h-0.5zM169.6 270.0h0.5v0.5h-0.5zM182.4 256.0h0.5v0.5h-0.5zM176.5 255.7h0.5v0.5h-0.5zM172.3 267.5h0.5v0.5h-0.5zM176.6 265.7h0.5v0.5h-0.5zM172.2 266.6h0.5v0.5h-0.5zM183.8 256.4h0.5v0.5h-0.5zM181.4 261.4h0.5v0.5h-0.5zM177.6 261.3h0.5v0.5h-0.5zM170.8 261.6h0.5v0.5h-0.5zM165.7 258.8h0.5v0.5h-0.5zM181.9 257.2h0.5v0.5h-0.5zM168.2 260.3h0.5v0.5h-0.5zM178.2 265.6h0.5v0.5h-0.5zM180.7 255.2h0.5v0.5h-0.5zM169.1 254.3h0.5v0.5h-0.5zM178.0 256.6h0.5v0.5h-0.5zM177.8 267.0h0.5v0.5h-0.5zM181.6 259.8h0.5v0.5h-0.5zM170.1 252.6h0.5v0.5h-0.5zM191.2 254.1h0.5v0.5h-0.5zM174.3 255.3h0.5v0.5h-0.5zM182.2 256.5h0.5v0.5h-0.5zM170.1 266.8h0.5v0.5h-0.5zM172.2 269.5h0.5v0.5h-0.5zM179.6 255.7h0.5v0.5h-0.5zM180.2 262.5h0.5v0.5h-0.5zM179.1 261.0h0.5v0.5h-0.5zM176.6 258.5h0.5v0.5h-0.5zM183.2 257.9h0.5v0.5h-0.5zM176.8 263.6h0.5v0.5h-0.5zM185.6 257.3h0.5v0.5h-0.5zM180.6 262.1h0.5v0.5h-0.5zM182.8 249.5h0.5v0.5h-0.5zM183.4 256.9h0.5v0.5h-0.5zM174.8 263.0h0.5v0.5h-0.5z" fill="#000" fill-opacity="0.35"/>
<path d="M189.0 228.0h0.5v0.5h-0.5zM181.5 240.8h0.5v0.5h-0.5zM189.5 243.0h0.5v0.5h-0.5zM186.4 241.4h0.5v0.5h-0.5zM186.4 237.2h0.5v0.5h-0.5zM194.5 231.9h0.5v0.5h-0.5zM185.3 233.8h0.5v0.5h-0.5zM193.2 225.6h0.5v0.5h-0.5zM188.7 226.9h0.5v0.5h-0.5zM186.2 230.1h0.5v0.5h-0.5zM194.1 227.6h0.5v0.5h-0.5zM196.2 228.6h0.5v0.5h-0.5zM186.6 241.6h0.5v0.5h-0.5zM192.9 221.6h0.5v0.5h-0.5zM188.0 228.7h0.5v0.5h-0.5zM193.5 220.8h0.5v0.5h-0.5zM187.5 225.8h0.5v0.5h-0.5zM190.5 221.0h0.5v0.5h-0.5zM191.1 218.6h0.5v0.5h-0.5zM194.1 220.3h0.5v0.5h-0.5zM196.2 224.5h0.5v0.5h-0.5zM184.6 236.2h0.5v0.5h-0.5zM193.3 221.4h0.5v0.5h-0.5zM181.2 235.4h0.5v0.5h-0.5z" fill="#000" fill-opacity="0.3"/>
<text x="152.5" y="200.1" font-size="7.1" text-anchor="end" fill="#1a1a1a" >10<tspan font-size="5.4" dx="0.25" dy="-2.98">6</tspan></text>
<text x="152.5" y="217.1" font-size="7.1" text-anchor="end" fill="#1a1a1a" >10<tspan font-size="5.4" dx="0.25" dy="-2.98">5</tspan></text>
<text x="152.5" y="233.1" font-size="7.1" text-anchor="end" fill="#1a1a1a" >10<tspan font-size="5.4" dx="0.25" dy="-2.98">4</tspan></text>
<text x="152.5" y="249.6" font-size="7.1" text-anchor="end" fill="#1a1a1a" >10<tspan font-size="5.4" dx="0.25" dy="-2.98">3</tspan></text>
<text x="152.5" y="266.35" font-size="7.1" text-anchor="end" fill="#1a1a1a" >10<tspan font-size="5.4" dx="0.25" dy="-2.98">2</tspan></text>
<text x="152.5" y="282.6" font-size="7.1" text-anchor="end" fill="#1a1a1a" >10<tspan font-size="5.4" dx="0.25" dy="-2.98">1</tspan></text>
<path d="M156 197.5L158.7 197.5M156 214.5L158.7 214.5M156 230.5L158.7 230.5M156 247L158.7 247M156 263.75L158.7 263.75M156 280L158.7 280" stroke="#000" stroke-width="0.9" fill="none"/>
<path d="M157.5 196.7L158.7 196.7M157.5 198.38L158.7 198.38M157.5 200.06L158.7 200.06M157.5 201.74L158.7 201.74M157.5 203.42L158.7 203.42M157.5 205.1L158.7 205.1M157.5 206.78L158.7 206.78M157.5 208.46L158.7 208.46M157.5 210.14L158.7 210.14M157.5 211.82L158.7 211.82M157.5 213.5L158.7 213.5M157.5 215.18L158.7 215.18M157.5 216.86L158.7 216.86M157.5 218.54L158.7 218.54M157.5 220.22L158.7 220.22M157.5 221.9L158.7 221.9M157.5 223.58L158.7 223.58M157.5 225.26L158.7 225.26M157.5 226.94L158.7 226.94M157.5 228.62L158.7 228.62M157.5 230.3L158.7 230.3M157.5 231.98L158.7 231.98M157.5 233.66L158.7 233.66M157.5 235.34L158.7 235.34M157.5 237.02L158.7 237.02M157.5 238.7L158.7 238.7M157.5 240.38L158.7 240.38M157.5 242.06L158.7 242.06M157.5 243.74L158.7 243.74M157.5 245.42L158.7 245.42M157.5 247.1L158.7 247.1M157.5 248.78L158.7 248.78M157.5 250.46L158.7 250.46M157.5 252.14L158.7 252.14M157.5 253.82L158.7 253.82M157.5 255.5L158.7 255.5M157.5 257.18L158.7 257.18M157.5 258.86L158.7 258.86M157.5 260.54L158.7 260.54M157.5 262.22L158.7 262.22M157.5 263.9L158.7 263.9M157.5 265.58L158.7 265.58M157.5 267.26L158.7 267.26M157.5 268.94L158.7 268.94M157.5 270.62L158.7 270.62M157.5 272.3L158.7 272.3M157.5 273.98L158.7 273.98M157.5 275.66L158.7 275.66M157.5 277.34L158.7 277.34M157.5 279.02L158.7 279.02" stroke="#000" stroke-width="0.5" fill="none"/>
<text x="159.2" y="293.4" font-size="7.1" text-anchor="middle" fill="#1a1a1a" >10<tspan font-size="5.4" dx="0.25" dy="-2.98">1</tspan></text>
<text x="176.8" y="293.4" font-size="7.1" text-anchor="middle" fill="#1a1a1a" >10<tspan font-size="5.4" dx="0.25" dy="-2.98">2</tspan></text>
<text x="194.4" y="293.4" font-size="7.1" text-anchor="middle" fill="#1a1a1a" >10<tspan font-size="5.4" dx="0.25" dy="-2.98">3</tspan></text>
<text x="212" y="293.4" font-size="7.1" text-anchor="middle" fill="#1a1a1a" >10<tspan font-size="5.4" dx="0.25" dy="-2.98">4</tspan></text>
<text x="229.6" y="293.4" font-size="7.1" text-anchor="middle" fill="#1a1a1a" >10<tspan font-size="5.4" dx="0.25" dy="-2.98">5</tspan></text>
<text x="247.2" y="293.4" font-size="7.1" text-anchor="middle" fill="#1a1a1a" >10<tspan font-size="5.4" dx="0.25" dy="-2.98">6</tspan></text>
<path d="M158.7 280.2L158.7 282.7M176.3 280.2L176.3 282.7M193.9 280.2L193.9 282.7M211.5 280.2L211.5 282.7M229.1 280.2L229.1 282.7M246.7 280.2L246.7 282.7" stroke="#000" stroke-width="0.9" fill="none"/>
<path d="M158.7 280.2L158.7 281.4M160.46 280.2L160.46 281.4M162.22 280.2L162.22 281.4M163.98 280.2L163.98 281.4M165.74 280.2L165.74 281.4M167.5 280.2L167.5 281.4M169.26 280.2L169.26 281.4M171.02 280.2L171.02 281.4M172.78 280.2L172.78 281.4M174.54 280.2L174.54 281.4M176.3 280.2L176.3 281.4M178.06 280.2L178.06 281.4M179.82 280.2L179.82 281.4M181.58 280.2L181.58 281.4M183.34 280.2L183.34 281.4M185.1 280.2L185.1 281.4M186.86 280.2L186.86 281.4M188.62 280.2L188.62 281.4M190.38 280.2L190.38 281.4M192.14 280.2L192.14 281.4M193.9 280.2L193.9 281.4M195.66 280.2L195.66 281.4M197.42 280.2L197.42 281.4M199.18 280.2L199.18 281.4M200.94 280.2L200.94 281.4M202.7 280.2L202.7 281.4M204.46 280.2L204.46 281.4M206.22 280.2L206.22 281.4M207.98 280.2L207.98 281.4M209.74 280.2L209.74 281.4M211.5 280.2L211.5 281.4M213.26 280.2L213.26 281.4M215.02 280.2L215.02 281.4M216.78 280.2L216.78 281.4M218.54 280.2L218.54 281.4M220.3 280.2L220.3 281.4M222.06 280.2L222.06 281.4M223.82 280.2L223.82 281.4M225.58 280.2L225.58 281.4M227.34 280.2L227.34 281.4M229.1 280.2L229.1 281.4M230.86 280.2L230.86 281.4M232.62 280.2L232.62 281.4M234.38 280.2L234.38 281.4M236.14 280.2L236.14 281.4M237.9 280.2L237.9 281.4M239.66 280.2L239.66 281.4M241.42 280.2L241.42 281.4M243.18 280.2L243.18 281.4M244.94 280.2L244.94 281.4M246.7 280.2L246.7 281.4M248.46 280.2L248.46 281.4" stroke="#000" stroke-width="0.5" fill="none"/>
<path d="M159.9,205.7 H197.6 V280.2" fill="none" stroke="#8a8a8a" stroke-width="1.5"/>
<line x1="159.9" y1="246.9" x2="197.6" y2="246.9" stroke="#8a8a8a" stroke-width="2.1" />
<rect x="158.7" y="196.7" width="90.6" height="83.5" fill="none" stroke="#000" stroke-width="1.5"/>
<text x="204" y="180.6" font-size="9.6" text-anchor="middle" font-weight="bold" fill="#000" >CD7<tspan font-size="6.4" dy="-3.65">KO</tspan></text>
<text x="204" y="192.4" font-size="9.6" text-anchor="middle" font-weight="bold" fill="#000" >CD7 CAR</text>
<text x="220.5" y="228.2" font-size="7.4" text-anchor="middle" fill="#1a1a1a" >1</text>
<text x="41.4" y="308.2" font-size="8.8" text-anchor="start" fill="#1a1a1a" textLength="24.6" lengthAdjust="spacingAndGlyphs" >7-AAD</text>
<line x1="69" y1="305.6" x2="233" y2="305.6" stroke="#000" stroke-width="1.1" />
<path d="M231.5,302.1 L240,305.6 L231.5,309.1 Z" fill="#000"/>
<text x="17.6" y="239.9" font-size="8.8" text-anchor="middle" fill="#1a1a1a" textLength="55.3" lengthAdjust="spacingAndGlyphs" transform="rotate(-90 17.6 239.9)">eFluor (tumor)</text>
<text x="270.6" y="167.6" font-size="11.5" text-anchor="start" font-weight="bold" fill="#000" >D</text>
<path d="M312.5 257.1h0.6v0.6h-0.6zM311.5 260.1h0.6v0.6h-0.6zM309.5 261.1h0.6v0.6h-0.6zM311.5 256.6h0.6v0.6h-0.6zM310.6 258.5h0.6v0.6h-0.6zM310.6 256.6h0.6v0.6h-0.6zM309.9 259.1h0.6v0.6h-0.6zM310.4 258.6h0.6v0.6h-0.6zM310.6 258.0h0.6v0.6h-0.6zM310.2 260.5h0.6v0.6h-0.6zM308.7 259.3h0.6v0.6h-0.6zM307.5 258.7h0.6v0.6h-0.6zM311.2 257.8h0.6v0.6h-0.6zM310.4 259.3h0.6v0.6h-0.6zM310.5 259.6h0.6v0.6h-0.6zM314.2 256.1h0.6v0.6h-0.6zM311.2 260.8h0.6v0.6h-0.6zM310.3 255.7h0.6v0.6h-0.6zM313.2 256.7h0.6v0.6h-0.6zM311.0 256.0h0.6v0.6h-0.6zM308.0 259.2h0.6v0.6h-0.6zM310.5 256.5h0.6v0.6h-0.6zM309.7 260.8h0.6v0.6h-0.6zM309.1 259.7h0.6v0.6h-0.6zM307.0 258.2h0.6v0.6h-0.6zM310.0 258.6h0.6v0.6h-0.6zM308.2 261.9h0.6v0.6h-0.6zM312.7 258.3h0.6v0.6h-0.6zM308.3 258.2h0.6v0.6h-0.6zM310.3 258.9h0.6v0.6h-0.6zM309.4 258.2h0.6v0.6h-0.6zM307.7 259.4h0.6v0.6h-0.6zM309.7 258.2h0.6v0.6h-0.6zM313.4 255.7h0.6v0.6h-0.6zM310.8 257.4h0.6v0.6h-0.6zM309.1 257.8h0.6v0.6h-0.6zM308.1 257.7h0.6v0.6h-0.6zM307.3 263.3h0.6v0.6h-0.6zM308.5 260.7h0.6v0.6h-0.6zM309.6 258.2h0.6v0.6h-0.6zM311.3 256.9h0.6v0.6h-0.6zM310.9 257.5h0.6v0.6h-0.6zM313.1 258.1h0.6v0.6h-0.6zM311.4 259.7h0.6v0.6h-0.6zM312.6 259.5h0.6v0.6h-0.6zM308.7 257.1h0.6v0.6h-0.6zM310.9 258.5h0.6v0.6h-0.6zM309.4 258.9h0.6v0.6h-0.6zM308.7 257.7h0.6v0.6h-0.6zM313.1 255.1h0.6v0.6h-0.6zM306.8 258.6h0.6v0.6h-0.6zM308.6 259.9h0.6v0.6h-0.6zM313.8 256.9h0.6v0.6h-0.6zM307.8 258.4h0.6v0.6h-0.6zM308.0 260.3h0.6v0.6h-0.6zM311.6 256.7h0.6v0.6h-0.6zM315.1 258.2h0.6v0.6h-0.6zM308.8 256.0h0.6v0.6h-0.6zM312.4 256.8h0.6v0.6h-0.6zM312.5 258.6h0.6v0.6h-0.6zM308.3 260.2h0.6v0.6h-0.6zM310.0 257.5h0.6v0.6h-0.6zM311.6 257.4h0.6v0.6h-0.6zM311.1 261.3h0.6v0.6h-0.6zM312.0 260.1h0.6v0.6h-0.6zM310.9 260.0h0.6v0.6h-0.6zM308.9 259.9h0.6v0.6h-0.6zM310.6 254.6h0.6v0.6h-0.6zM311.1 257.5h0.6v0.6h-0.6zM312.6 257.1h0.6v0.6h-0.6zM309.1 257.3h0.6v0.6h-0.6zM315.6 253.2h0.6v0.6h-0.6zM309.0 258.3h0.6v0.6h-0.6zM309.9 259.3h0.6v0.6h-0.6zM308.5 261.8h0.6v0.6h-0.6zM310.3 259.7h0.6v0.6h-0.6zM305.6 261.3h0.6v0.6h-0.6zM309.4 258.6h0.6v0.6h-0.6zM309.2 260.0h0.6v0.6h-0.6zM310.3 256.9h0.6v0.6h-0.6zM307.0 262.5h0.6v0.6h-0.6zM310.6 260.3h0.6v0.6h-0.6zM311.9 257.1h0.6v0.6h-0.6zM307.1 260.4h0.6v0.6h-0.6zM309.9 261.1h0.6v0.6h-0.6zM307.7 262.2h0.6v0.6h-0.6zM306.7 260.4h0.6v0.6h-0.6zM306.9 260.1h0.6v0.6h-0.6zM309.7 259.7h0.6v0.6h-0.6zM309.7 260.3h0.6v0.6h-0.6zM313.9 256.0h0.6v0.6h-0.6zM307.8 260.2h0.6v0.6h-0.6zM309.8 258.4h0.6v0.6h-0.6zM313.6 258.1h0.6v0.6h-0.6zM314.7 256.0h0.6v0.6h-0.6zM304.8 262.6h0.6v0.6h-0.6zM310.9 256.7h0.6v0.6h-0.6zM309.9 260.5h0.6v0.6h-0.6zM309.6 257.2h0.6v0.6h-0.6zM306.5 256.2h0.6v0.6h-0.6zM309.2 257.3h0.6v0.6h-0.6zM309.2 257.4h0.6v0.6h-0.6zM308.0 259.5h0.6v0.6h-0.6zM314.9 253.0h0.6v0.6h-0.6zM307.5 259.9h0.6v0.6h-0.6zM313.1 257.8h0.6v0.6h-0.6zM311.4 257.2h0.6v0.6h-0.6zM309.9 257.6h0.6v0.6h-0.6zM309.2 258.0h0.6v0.6h-0.6zM306.5 259.8h0.6v0.6h-0.6zM314.5 256.0h0.6v0.6h-0.6zM308.7 259.7h0.6v0.6h-0.6zM310.4 260.6h0.6v0.6h-0.6zM309.7 258.0h0.6v0.6h-0.6zM311.9 257.9h0.6v0.6h-0.6zM308.3 258.8h0.6v0.6h-0.6zM309.2 256.6h0.6v0.6h-0.6zM309.3 261.1h0.6v0.6h-0.6zM312.9 258.5h0.6v0.6h-0.6zM308.9 258.7h0.6v0.6h-0.6zM309.3 258.5h0.6v0.6h-0.6zM312.7 256.4h0.6v0.6h-0.6zM312.4 255.7h0.6v0.6h-0.6zM312.4 259.8h0.6v0.6h-0.6zM308.2 259.1h0.6v0.6h-0.6zM307.7 257.8h0.6v0.6h-0.6zM309.1 258.4h0.6v0.6h-0.6zM314.3 254.7h0.6v0.6h-0.6zM306.8 263.0h0.6v0.6h-0.6zM312.1 257.1h0.6v0.6h-0.6zM311.5 258.9h0.6v0.6h-0.6zM309.2 259.5h0.6v0.6h-0.6zM312.0 260.2h0.6v0.6h-0.6zM313.2 256.6h0.6v0.6h-0.6zM308.3 261.7h0.6v0.6h-0.6zM311.2 260.0h0.6v0.6h-0.6zM310.5 258.7h0.6v0.6h-0.6zM311.0 256.8h0.6v0.6h-0.6zM310.9 262.1h0.6v0.6h-0.6zM309.3 261.0h0.6v0.6h-0.6zM312.3 258.4h0.6v0.6h-0.6zM311.9 255.0h0.6v0.6h-0.6zM310.4 254.9h0.6v0.6h-0.6zM310.7 258.9h0.6v0.6h-0.6zM313.2 258.2h0.6v0.6h-0.6zM308.2 259.8h0.6v0.6h-0.6zM309.4 258.1h0.6v0.6h-0.6zM308.1 259.2h0.6v0.6h-0.6zM313.7 258.3h0.6v0.6h-0.6zM313.2 259.3h0.6v0.6h-0.6zM309.5 257.3h0.6v0.6h-0.6zM309.1 259.9h0.6v0.6h-0.6zM313.3 258.3h0.6v0.6h-0.6zM309.3 261.0h0.6v0.6h-0.6zM309.7 260.1h0.6v0.6h-0.6zM313.4 258.8h0.6v0.6h-0.6zM309.4 259.7h0.6v0.6h-0.6zM310.8 257.5h0.6v0.6h-0.6zM311.0 259.1h0.6v0.6h-0.6zM306.4 260.5h0.6v0.6h-0.6zM315.3 255.5h0.6v0.6h-0.6zM307.6 257.5h0.6v0.6h-0.6zM308.8 260.7h0.6v0.6h-0.6zM312.0 258.0h0.6v0.6h-0.6zM310.9 257.0h0.6v0.6h-0.6zM312.5 254.9h0.6v0.6h-0.6zM311.1 257.5h0.6v0.6h-0.6zM307.6 262.3h0.6v0.6h-0.6zM310.3 259.8h0.6v0.6h-0.6zM312.9 256.8h0.6v0.6h-0.6zM308.8 259.4h0.6v0.6h-0.6zM311.4 260.3h0.6v0.6h-0.6zM313.3 259.0h0.6v0.6h-0.6zM311.1 256.6h0.6v0.6h-0.6zM312.9 258.2h0.6v0.6h-0.6zM310.4 259.3h0.6v0.6h-0.6zM308.6 257.8h0.6v0.6h-0.6zM310.7 259.6h0.6v0.6h-0.6zM307.7 256.8h0.6v0.6h-0.6zM309.6 261.0h0.6v0.6h-0.6zM311.7 259.5h0.6v0.6h-0.6zM308.4 259.3h0.6v0.6h-0.6zM307.6 259.3h0.6v0.6h-0.6zM311.4 258.0h0.6v0.6h-0.6zM309.6 259.7h0.6v0.6h-0.6zM307.3 260.2h0.6v0.6h-0.6zM306.0 259.3h0.6v0.6h-0.6zM306.6 259.5h0.6v0.6h-0.6zM314.6 257.7h0.6v0.6h-0.6zM312.3 256.0h0.6v0.6h-0.6zM310.6 256.4h0.6v0.6h-0.6zM309.4 259.7h0.6v0.6h-0.6zM307.3 261.3h0.6v0.6h-0.6zM309.7 255.4h0.6v0.6h-0.6zM305.2 262.1h0.6v0.6h-0.6zM310.1 259.0h0.6v0.6h-0.6zM308.5 261.0h0.6v0.6h-0.6zM309.9 257.6h0.6v0.6h-0.6zM313.8 256.3h0.6v0.6h-0.6zM313.3 259.5h0.6v0.6h-0.6zM309.1 259.2h0.6v0.6h-0.6zM306.6 261.1h0.6v0.6h-0.6zM313.3 260.7h0.6v0.6h-0.6zM311.6 258.0h0.6v0.6h-0.6zM307.0 259.7h0.6v0.6h-0.6zM305.4 260.0h0.6v0.6h-0.6zM310.7 258.8h0.6v0.6h-0.6zM308.3 259.8h0.6v0.6h-0.6zM309.2 260.5h0.6v0.6h-0.6zM311.1 257.0h0.6v0.6h-0.6zM308.3 258.0h0.6v0.6h-0.6zM311.2 261.7h0.6v0.6h-0.6zM311.0 259.6h0.6v0.6h-0.6zM312.7 259.3h0.6v0.6h-0.6zM308.8 258.1h0.6v0.6h-0.6zM313.1 258.0h0.6v0.6h-0.6zM309.9 260.8h0.6v0.6h-0.6zM310.2 258.6h0.6v0.6h-0.6zM314.4 256.3h0.6v0.6h-0.6zM310.6 257.8h0.6v0.6h-0.6zM311.6 259.5h0.6v0.6h-0.6zM310.5 257.1h0.6v0.6h-0.6zM311.1 257.8h0.6v0.6h-0.6zM310.7 257.9h0.6v0.6h-0.6zM304.5 260.3h0.6v0.6h-0.6zM307.6 256.8h0.6v0.6h-0.6zM309.0 263.2h0.6v0.6h-0.6zM311.3 257.0h0.6v0.6h-0.6zM309.0 255.7h0.6v0.6h-0.6zM311.6 259.3h0.6v0.6h-0.6zM309.5 256.9h0.6v0.6h-0.6zM311.7 256.5h0.6v0.6h-0.6zM309.3 259.7h0.6v0.6h-0.6zM311.4 261.3h0.6v0.6h-0.6zM311.8 261.2h0.6v0.6h-0.6zM310.1 256.6h0.6v0.6h-0.6zM310.3 258.7h0.6v0.6h-0.6zM314.2 257.8h0.6v0.6h-0.6zM314.8 253.9h0.6v0.6h-0.6zM311.4 261.9h0.6v0.6h-0.6zM308.8 260.4h0.6v0.6h-0.6zM312.6 255.0h0.6v0.6h-0.6zM308.9 258.4h0.6v0.6h-0.6zM311.7 258.2h0.6v0.6h-0.6zM310.7 259.4h0.6v0.6h-0.6zM308.4 259.4h0.6v0.6h-0.6zM312.9 260.1h0.6v0.6h-0.6zM310.2 258.8h0.6v0.6h-0.6zM313.0 256.7h0.6v0.6h-0.6zM313.1 256.9h0.6v0.6h-0.6zM312.7 257.0h0.6v0.6h-0.6zM307.7 259.1h0.6v0.6h-0.6zM312.7 260.0h0.6v0.6h-0.6zM313.7 255.4h0.6v0.6h-0.6zM314.3 253.5h0.6v0.6h-0.6zM309.4 261.0h0.6v0.6h-0.6zM308.0 262.0h0.6v0.6h-0.6zM311.6 258.7h0.6v0.6h-0.6zM308.2 260.9h0.6v0.6h-0.6zM312.1 257.1h0.6v0.6h-0.6zM312.4 257.0h0.6v0.6h-0.6zM310.7 257.7h0.6v0.6h-0.6zM307.4 260.6h0.6v0.6h-0.6zM310.6 257.0h0.6v0.6h-0.6zM305.0 260.0h0.6v0.6h-0.6zM312.7 256.3h0.6v0.6h-0.6zM309.8 261.2h0.6v0.6h-0.6zM308.6 257.2h0.6v0.6h-0.6zM308.6 258.3h0.6v0.6h-0.6zM309.1 257.9h0.6v0.6h-0.6zM310.8 259.0h0.6v0.6h-0.6zM308.9 259.3h0.6v0.6h-0.6zM310.7 259.8h0.6v0.6h-0.6zM309.5 260.6h0.6v0.6h-0.6zM312.6 256.5h0.6v0.6h-0.6zM308.1 259.8h0.6v0.6h-0.6zM306.2 260.8h0.6v0.6h-0.6zM307.7 260.3h0.6v0.6h-0.6zM310.0 259.8h0.6v0.6h-0.6zM310.9 258.9h0.6v0.6h-0.6zM310.4 259.0h0.6v0.6h-0.6zM308.6 261.1h0.6v0.6h-0.6zM313.8 257.8h0.6v0.6h-0.6zM307.9 261.2h0.6v0.6h-0.6zM307.7 262.0h0.6v0.6h-0.6zM309.5 258.4h0.6v0.6h-0.6zM308.6 259.5h0.6v0.6h-0.6zM309.4 257.6h0.6v0.6h-0.6zM310.6 258.8h0.6v0.6h-0.6zM311.3 257.7h0.6v0.6h-0.6zM312.3 261.2h0.6v0.6h-0.6zM312.6 257.4h0.6v0.6h-0.6zM308.0 261.5h0.6v0.6h-0.6zM309.1 254.8h0.6v0.6h-0.6zM310.3 259.3h0.6v0.6h-0.6zM310.4 258.7h0.6v0.6h-0.6zM311.1 260.4h0.6v0.6h-0.6zM310.8 257.7h0.6v0.6h-0.6zM311.6 261.3h0.6v0.6h-0.6zM308.1 259.4h0.6v0.6h-0.6zM311.1 258.3h0.6v0.6h-0.6zM312.0 259.6h0.6v0.6h-0.6zM312.9 257.3h0.6v0.6h-0.6zM310.3 258.5h0.6v0.6h-0.6zM310.7 260.1h0.6v0.6h-0.6zM306.8 259.5h0.6v0.6h-0.6zM308.5 258.3h0.6v0.6h-0.6zM309.8 261.1h0.6v0.6h-0.6zM306.2 262.8h0.6v0.6h-0.6zM307.4 260.4h0.6v0.6h-0.6zM308.3 258.4h0.6v0.6h-0.6zM307.3 261.0h0.6v0.6h-0.6zM302.5 261.0h0.6v0.6h-0.6zM310.4 260.4h0.6v0.6h-0.6zM313.8 255.4h0.6v0.6h-0.6zM308.4 259.6h0.6v0.6h-0.6zM312.0 258.9h0.6v0.6h-0.6zM308.8 260.6h0.6v0.6h-0.6zM311.2 259.9h0.6v0.6h-0.6zM309.3 259.0h0.6v0.6h-0.6zM307.4 258.5h0.6v0.6h-0.6zM311.4 259.0h0.6v0.6h-0.6zM312.8 257.1h0.6v0.6h-0.6zM308.6 258.3h0.6v0.6h-0.6zM307.3 259.7h0.6v0.6h-0.6zM311.0 258.2h0.6v0.6h-0.6zM305.6 262.1h0.6v0.6h-0.6zM308.8 257.9h0.6v0.6h-0.6zM310.7 259.2h0.6v0.6h-0.6zM307.0 258.8h0.6v0.6h-0.6zM309.9 259.4h0.6v0.6h-0.6zM311.1 260.7h0.6v0.6h-0.6zM309.7 257.3h0.6v0.6h-0.6zM311.3 256.7h0.6v0.6h-0.6zM311.8 257.6h0.6v0.6h-0.6zM311.9 255.6h0.6v0.6h-0.6zM312.1 257.9h0.6v0.6h-0.6zM309.1 260.8h0.6v0.6h-0.6zM315.2 255.4h0.6v0.6h-0.6zM308.6 259.7h0.6v0.6h-0.6zM313.1 256.8h0.6v0.6h-0.6zM312.7 255.6h0.6v0.6h-0.6zM311.6 254.8h0.6v0.6h-0.6zM309.7 258.6h0.6v0.6h-0.6zM310.3 260.7h0.6v0.6h-0.6zM309.4 260.0h0.6v0.6h-0.6zM314.8 256.6h0.6v0.6h-0.6zM308.8 258.5h0.6v0.6h-0.6zM306.5 262.2h0.6v0.6h-0.6zM313.0 258.4h0.6v0.6h-0.6zM312.6 260.6h0.6v0.6h-0.6zM309.9 254.8h0.6v0.6h-0.6zM309.2 260.9h0.6v0.6h-0.6zM310.2 260.2h0.6v0.6h-0.6zM314.8 253.7h0.6v0.6h-0.6zM314.7 255.0h0.6v0.6h-0.6zM307.4 261.1h0.6v0.6h-0.6zM311.6 256.5h0.6v0.6h-0.6zM312.7 255.1h0.6v0.6h-0.6zM310.7 259.9h0.6v0.6h-0.6zM309.4 258.3h0.6v0.6h-0.6zM310.8 259.4h0.6v0.6h-0.6zM315.0 257.4h0.6v0.6h-0.6zM314.1 255.6h0.6v0.6h-0.6zM306.9 261.2h0.6v0.6h-0.6zM308.6 258.2h0.6v0.6h-0.6zM309.2 259.4h0.6v0.6h-0.6zM311.2 259.5h0.6v0.6h-0.6zM309.4 261.3h0.6v0.6h-0.6zM311.0 259.3h0.6v0.6h-0.6zM311.8 255.3h0.6v0.6h-0.6zM312.9 255.3h0.6v0.6h-0.6zM312.0 259.2h0.6v0.6h-0.6zM310.8 255.4h0.6v0.6h-0.6zM311.6 259.6h0.6v0.6h-0.6zM310.0 258.7h0.6v0.6h-0.6zM311.9 260.3h0.6v0.6h-0.6zM308.4 258.4h0.6v0.6h-0.6zM307.6 259.8h0.6v0.6h-0.6zM310.1 259.4h0.6v0.6h-0.6zM308.6 256.8h0.6v0.6h-0.6zM307.7 261.9h0.6v0.6h-0.6zM310.6 256.0h0.6v0.6h-0.6zM310.1 254.4h0.6v0.6h-0.6zM315.5 255.6h0.6v0.6h-0.6zM307.3 261.8h0.6v0.6h-0.6zM309.8 258.2h0.6v0.6h-0.6zM309.3 258.9h0.6v0.6h-0.6zM309.3 257.8h0.6v0.6h-0.6zM309.6 260.1h0.6v0.6h-0.6zM310.2 256.3h0.6v0.6h-0.6zM310.6 261.1h0.6v0.6h-0.6zM313.2 259.3h0.6v0.6h-0.6zM306.6 259.6h0.6v0.6h-0.6zM304.2 259.9h0.6v0.6h-0.6zM308.6 258.0h0.6v0.6h-0.6zM307.5 259.6h0.6v0.6h-0.6zM310.6 259.8h0.6v0.6h-0.6zM309.9 255.8h0.6v0.6h-0.6zM313.1 255.9h0.6v0.6h-0.6zM308.2 260.2h0.6v0.6h-0.6zM308.3 257.7h0.6v0.6h-0.6zM313.0 255.5h0.6v0.6h-0.6zM309.5 260.2h0.6v0.6h-0.6zM314.1 256.5h0.6v0.6h-0.6zM308.8 260.5h0.6v0.6h-0.6zM312.9 257.3h0.6v0.6h-0.6zM311.2 257.0h0.6v0.6h-0.6zM308.7 256.9h0.6v0.6h-0.6zM307.8 258.5h0.6v0.6h-0.6zM311.6 260.2h0.6v0.6h-0.6zM304.5 260.7h0.6v0.6h-0.6zM308.3 260.0h0.6v0.6h-0.6zM312.0 255.9h0.6v0.6h-0.6zM309.7 261.2h0.6v0.6h-0.6zM311.5 258.6h0.6v0.6h-0.6zM311.4 256.4h0.6v0.6h-0.6zM310.2 257.5h0.6v0.6h-0.6zM308.9 259.9h0.6v0.6h-0.6zM310.1 256.5h0.6v0.6h-0.6zM309.2 260.5h0.6v0.6h-0.6zM311.2 259.1h0.6v0.6h-0.6zM309.0 258.2h0.6v0.6h-0.6zM312.4 258.0h0.6v0.6h-0.6zM305.2 264.1h0.6v0.6h-0.6zM309.3 260.6h0.6v0.6h-0.6zM313.3 255.8h0.6v0.6h-0.6zM308.5 260.4h0.6v0.6h-0.6zM311.0 259.1h0.6v0.6h-0.6zM307.6 261.1h0.6v0.6h-0.6zM312.7 257.9h0.6v0.6h-0.6zM312.6 258.9h0.6v0.6h-0.6zM309.7 261.3h0.6v0.6h-0.6zM309.9 257.2h0.6v0.6h-0.6zM309.9 259.4h0.6v0.6h-0.6zM312.1 259.6h0.6v0.6h-0.6zM310.3 257.7h0.6v0.6h-0.6zM314.5 254.7h0.6v0.6h-0.6zM309.4 261.0h0.6v0.6h-0.6zM308.8 258.4h0.6v0.6h-0.6zM309.1 261.6h0.6v0.6h-0.6zM308.2 260.4h0.6v0.6h-0.6zM309.2 259.1h0.6v0.6h-0.6zM308.8 260.1h0.6v0.6h-0.6zM312.5 258.8h0.6v0.6h-0.6zM308.6 257.9h0.6v0.6h-0.6zM307.3 261.0h0.6v0.6h-0.6zM306.3 264.1h0.6v0.6h-0.6zM310.5 258.7h0.6v0.6h-0.6zM306.9 260.1h0.6v0.6h-0.6z" fill="#000" fill-opacity="0.8"/>
<path d="M307.9 263.0h0.55v0.55h-0.55zM309.0 261.9h0.55v0.55h-0.55zM308.3 254.4h0.55v0.55h-0.55zM310.6 262.5h0.55v0.55h-0.55zM307.9 261.3h0.55v0.55h-0.55zM307.2 257.6h0.55v0.55h-0.55zM317.0 252.8h0.55v0.55h-0.55zM311.1 256.8h0.55v0.55h-0.55zM316.2 257.5h0.55v0.55h-0.55zM315.2 257.8h0.55v0.55h-0.55zM314.1 260.0h0.55v0.55h-0.55zM311.1 258.6h0.55v0.55h-0.55zM311.0 255.5h0.55v0.55h-0.55zM301.8 268.5h0.55v0.55h-0.55zM309.0 257.8h0.55v0.55h-0.55zM307.1 258.6h0.55v0.55h-0.55zM306.8 262.4h0.55v0.55h-0.55zM311.2 260.7h0.55v0.55h-0.55zM310.2 261.0h0.55v0.55h-0.55zM310.8 256.2h0.55v0.55h-0.55zM302.5 263.3h0.55v0.55h-0.55zM307.8 259.3h0.55v0.55h-0.55zM316.3 251.7h0.55v0.55h-0.55zM310.0 256.7h0.55v0.55h-0.55zM310.0 255.1h0.55v0.55h-0.55zM313.2 257.0h0.55v0.55h-0.55zM306.3 258.5h0.55v0.55h-0.55zM314.5 253.5h0.55v0.55h-0.55zM310.9 250.8h0.55v0.55h-0.55zM308.1 266.4h0.55v0.55h-0.55zM315.9 254.3h0.55v0.55h-0.55zM314.0 257.7h0.55v0.55h-0.55zM308.4 260.8h0.55v0.55h-0.55zM303.4 260.5h0.55v0.55h-0.55zM311.1 260.5h0.55v0.55h-0.55zM308.2 256.8h0.55v0.55h-0.55zM312.6 257.2h0.55v0.55h-0.55zM311.7 256.8h0.55v0.55h-0.55zM310.2 262.2h0.55v0.55h-0.55zM312.5 253.2h0.55v0.55h-0.55zM307.1 264.6h0.55v0.55h-0.55zM310.9 258.5h0.55v0.55h-0.55zM307.6 264.3h0.55v0.55h-0.55zM310.5 259.4h0.55v0.55h-0.55zM310.1 257.4h0.55v0.55h-0.55zM311.1 258.6h0.55v0.55h-0.55zM312.6 258.1h0.55v0.55h-0.55zM303.9 262.0h0.55v0.55h-0.55zM310.4 262.5h0.55v0.55h-0.55zM309.0 263.5h0.55v0.55h-0.55zM314.7 257.9h0.55v0.55h-0.55zM317.5 252.8h0.55v0.55h-0.55zM312.5 260.8h0.55v0.55h-0.55zM312.5 260.1h0.55v0.55h-0.55zM311.2 262.5h0.55v0.55h-0.55zM307.8 255.0h0.55v0.55h-0.55zM313.1 256.0h0.55v0.55h-0.55zM305.9 261.6h0.55v0.55h-0.55zM310.3 262.5h0.55v0.55h-0.55zM310.6 258.4h0.55v0.55h-0.55zM308.1 257.9h0.55v0.55h-0.55zM306.5 260.6h0.55v0.55h-0.55zM306.9 258.1h0.55v0.55h-0.55zM309.6 262.6h0.55v0.55h-0.55zM311.1 258.2h0.55v0.55h-0.55zM310.4 258.1h0.55v0.55h-0.55zM306.7 264.7h0.55v0.55h-0.55zM318.2 253.8h0.55v0.55h-0.55zM315.7 262.0h0.55v0.55h-0.55zM306.0 264.1h0.55v0.55h-0.55zM307.9 260.0h0.55v0.55h-0.55zM303.5 264.3h0.55v0.55h-0.55zM308.5 255.4h0.55v0.55h-0.55zM308.0 259.3h0.55v0.55h-0.55zM307.0 263.7h0.55v0.55h-0.55zM316.0 255.4h0.55v0.55h-0.55zM314.3 257.9h0.55v0.55h-0.55zM310.2 260.8h0.55v0.55h-0.55zM313.6 254.8h0.55v0.55h-0.55zM306.9 257.4h0.55v0.55h-0.55zM301.7 263.6h0.55v0.55h-0.55zM313.3 257.5h0.55v0.55h-0.55zM312.5 261.2h0.55v0.55h-0.55zM305.4 267.3h0.55v0.55h-0.55zM311.0 260.7h0.55v0.55h-0.55zM313.2 253.9h0.55v0.55h-0.55zM307.1 262.8h0.55v0.55h-0.55zM308.4 258.6h0.55v0.55h-0.55zM308.0 258.6h0.55v0.55h-0.55zM309.4 258.4h0.55v0.55h-0.55zM313.9 252.6h0.55v0.55h-0.55zM311.7 257.9h0.55v0.55h-0.55zM313.6 253.1h0.55v0.55h-0.55zM310.5 264.1h0.55v0.55h-0.55zM306.6 260.8h0.55v0.55h-0.55zM306.6 258.9h0.55v0.55h-0.55zM316.2 258.7h0.55v0.55h-0.55zM307.8 258.6h0.55v0.55h-0.55zM305.7 264.8h0.55v0.55h-0.55zM308.5 262.1h0.55v0.55h-0.55zM300.4 265.9h0.55v0.55h-0.55zM312.4 258.4h0.55v0.55h-0.55zM309.9 259.1h0.55v0.55h-0.55zM307.6 259.7h0.55v0.55h-0.55zM310.8 260.0h0.55v0.55h-0.55zM312.5 256.4h0.55v0.55h-0.55zM312.4 254.2h0.55v0.55h-0.55zM317.8 255.6h0.55v0.55h-0.55zM312.3 265.7h0.55v0.55h-0.55zM317.0 258.1h0.55v0.55h-0.55zM305.1 262.9h0.55v0.55h-0.55zM312.8 260.0h0.55v0.55h-0.55zM307.8 256.9h0.55v0.55h-0.55zM313.6 255.6h0.55v0.55h-0.55zM310.6 257.6h0.55v0.55h-0.55zM307.0 257.4h0.55v0.55h-0.55zM310.9 256.4h0.55v0.55h-0.55zM303.9 265.5h0.55v0.55h-0.55zM310.9 261.4h0.55v0.55h-0.55zM310.6 254.9h0.55v0.55h-0.55zM308.9 260.0h0.55v0.55h-0.55zM308.2 257.3h0.55v0.55h-0.55zM311.3 261.1h0.55v0.55h-0.55zM316.1 258.5h0.55v0.55h-0.55zM308.3 252.7h0.55v0.55h-0.55zM307.7 259.3h0.55v0.55h-0.55zM301.6 270.9h0.55v0.55h-0.55zM312.7 256.8h0.55v0.55h-0.55zM311.5 259.3h0.55v0.55h-0.55zM310.8 262.7h0.55v0.55h-0.55zM317.2 255.6h0.55v0.55h-0.55zM307.9 261.6h0.55v0.55h-0.55zM314.1 257.9h0.55v0.55h-0.55zM308.6 263.3h0.55v0.55h-0.55zM313.0 258.4h0.55v0.55h-0.55zM308.0 260.7h0.55v0.55h-0.55zM302.7 265.1h0.55v0.55h-0.55zM307.5 260.3h0.55v0.55h-0.55zM308.0 259.8h0.55v0.55h-0.55zM310.0 259.4h0.55v0.55h-0.55zM307.2 261.1h0.55v0.55h-0.55zM309.9 260.7h0.55v0.55h-0.55zM310.5 257.6h0.55v0.55h-0.55zM304.1 259.0h0.55v0.55h-0.55zM305.7 264.0h0.55v0.55h-0.55zM308.7 265.2h0.55v0.55h-0.55zM308.4 259.3h0.55v0.55h-0.55zM308.1 259.0h0.55v0.55h-0.55zM307.4 261.5h0.55v0.55h-0.55zM304.6 264.1h0.55v0.55h-0.55zM307.8 258.2h0.55v0.55h-0.55zM313.7 257.1h0.55v0.55h-0.55zM312.3 255.1h0.55v0.55h-0.55zM303.3 261.0h0.55v0.55h-0.55zM301.1 260.7h0.55v0.55h-0.55zM314.3 254.0h0.55v0.55h-0.55zM309.4 258.0h0.55v0.55h-0.55zM311.4 262.8h0.55v0.55h-0.55zM301.9 262.9h0.55v0.55h-0.55zM308.6 257.5h0.55v0.55h-0.55zM313.9 259.8h0.55v0.55h-0.55zM313.8 258.2h0.55v0.55h-0.55zM310.5 261.8h0.55v0.55h-0.55zM304.9 259.7h0.55v0.55h-0.55zM308.2 259.8h0.55v0.55h-0.55zM312.3 254.1h0.55v0.55h-0.55zM312.4 254.7h0.55v0.55h-0.55zM302.5 260.2h0.55v0.55h-0.55zM307.2 257.0h0.55v0.55h-0.55zM310.3 259.0h0.55v0.55h-0.55zM305.2 257.2h0.55v0.55h-0.55zM308.4 261.9h0.55v0.55h-0.55zM304.3 266.1h0.55v0.55h-0.55zM308.7 258.5h0.55v0.55h-0.55zM311.2 260.1h0.55v0.55h-0.55zM308.3 258.2h0.55v0.55h-0.55zM311.3 256.0h0.55v0.55h-0.55zM312.3 260.2h0.55v0.55h-0.55zM316.6 258.5h0.55v0.55h-0.55zM313.4 256.7h0.55v0.55h-0.55zM309.1 260.5h0.55v0.55h-0.55zM315.9 263.4h0.55v0.55h-0.55zM310.6 256.1h0.55v0.55h-0.55zM312.5 252.1h0.55v0.55h-0.55zM311.1 254.2h0.55v0.55h-0.55zM304.9 261.8h0.55v0.55h-0.55zM306.5 257.9h0.55v0.55h-0.55zM311.5 257.5h0.55v0.55h-0.55zM312.7 253.7h0.55v0.55h-0.55zM304.2 266.1h0.55v0.55h-0.55zM310.2 261.9h0.55v0.55h-0.55zM312.8 262.8h0.55v0.55h-0.55zM302.2 259.7h0.55v0.55h-0.55zM310.1 263.4h0.55v0.55h-0.55zM313.0 252.3h0.55v0.55h-0.55zM304.5 258.0h0.55v0.55h-0.55zM305.1 260.3h0.55v0.55h-0.55zM312.8 260.3h0.55v0.55h-0.55zM317.4 251.8h0.55v0.55h-0.55zM312.7 257.5h0.55v0.55h-0.55zM312.9 262.6h0.55v0.55h-0.55zM314.4 260.3h0.55v0.55h-0.55zM311.9 260.2h0.55v0.55h-0.55zM311.2 257.8h0.55v0.55h-0.55zM306.4 260.8h0.55v0.55h-0.55zM309.0 258.8h0.55v0.55h-0.55zM307.2 259.2h0.55v0.55h-0.55zM312.2 256.5h0.55v0.55h-0.55zM308.8 259.5h0.55v0.55h-0.55zM313.3 254.6h0.55v0.55h-0.55zM313.2 253.8h0.55v0.55h-0.55zM315.8 256.1h0.55v0.55h-0.55zM308.5 261.8h0.55v0.55h-0.55zM312.1 254.4h0.55v0.55h-0.55zM309.2 260.7h0.55v0.55h-0.55zM308.3 259.6h0.55v0.55h-0.55zM310.1 260.0h0.55v0.55h-0.55zM314.5 259.9h0.55v0.55h-0.55zM312.9 265.8h0.55v0.55h-0.55zM311.1 263.7h0.55v0.55h-0.55zM306.8 257.2h0.55v0.55h-0.55zM307.5 260.2h0.55v0.55h-0.55zM310.2 252.7h0.55v0.55h-0.55zM307.1 261.1h0.55v0.55h-0.55zM312.4 258.3h0.55v0.55h-0.55zM312.3 256.7h0.55v0.55h-0.55zM310.5 262.4h0.55v0.55h-0.55zM316.2 255.1h0.55v0.55h-0.55zM308.8 257.5h0.55v0.55h-0.55zM317.5 254.0h0.55v0.55h-0.55zM309.2 254.8h0.55v0.55h-0.55zM315.4 262.1h0.55v0.55h-0.55zM308.6 259.6h0.55v0.55h-0.55zM314.6 254.6h0.55v0.55h-0.55zM315.5 260.5h0.55v0.55h-0.55zM304.1 261.4h0.55v0.55h-0.55zM312.1 257.7h0.55v0.55h-0.55zM309.4 259.1h0.55v0.55h-0.55zM310.5 259.8h0.55v0.55h-0.55zM307.4 260.4h0.55v0.55h-0.55zM308.7 256.8h0.55v0.55h-0.55zM307.7 254.2h0.55v0.55h-0.55zM311.6 257.4h0.55v0.55h-0.55zM307.4 265.4h0.55v0.55h-0.55zM308.5 266.7h0.55v0.55h-0.55zM308.8 263.9h0.55v0.55h-0.55zM311.8 262.6h0.55v0.55h-0.55zM310.3 262.0h0.55v0.55h-0.55zM305.5 257.0h0.55v0.55h-0.55zM311.6 259.2h0.55v0.55h-0.55zM313.5 261.4h0.55v0.55h-0.55zM304.7 259.1h0.55v0.55h-0.55zM309.4 257.5h0.55v0.55h-0.55zM309.2 259.8h0.55v0.55h-0.55zM308.3 263.9h0.55v0.55h-0.55zM311.8 263.1h0.55v0.55h-0.55zM312.0 260.7h0.55v0.55h-0.55zM307.5 259.2h0.55v0.55h-0.55zM306.3 259.5h0.55v0.55h-0.55zM311.3 258.4h0.55v0.55h-0.55zM303.4 259.9h0.55v0.55h-0.55zM303.7 258.7h0.55v0.55h-0.55zM304.1 259.3h0.55v0.55h-0.55zM310.2 255.3h0.55v0.55h-0.55zM307.3 261.0h0.55v0.55h-0.55zM310.3 260.2h0.55v0.55h-0.55zM313.2 258.4h0.55v0.55h-0.55zM310.2 262.8h0.55v0.55h-0.55zM309.7 257.1h0.55v0.55h-0.55zM313.0 252.9h0.55v0.55h-0.55zM313.1 260.4h0.55v0.55h-0.55zM310.5 259.8h0.55v0.55h-0.55zM311.0 260.4h0.55v0.55h-0.55zM310.3 258.8h0.55v0.55h-0.55zM309.1 254.0h0.55v0.55h-0.55zM309.9 258.2h0.55v0.55h-0.55zM316.8 254.3h0.55v0.55h-0.55zM308.2 262.6h0.55v0.55h-0.55zM306.4 258.5h0.55v0.55h-0.55zM309.3 261.2h0.55v0.55h-0.55zM315.3 257.9h0.55v0.55h-0.55zM310.1 258.5h0.55v0.55h-0.55zM312.1 261.1h0.55v0.55h-0.55zM310.9 262.0h0.55v0.55h-0.55zM306.7 261.8h0.55v0.55h-0.55zM313.3 258.5h0.55v0.55h-0.55zM309.4 258.0h0.55v0.55h-0.55zM302.6 263.9h0.55v0.55h-0.55zM306.0 261.2h0.55v0.55h-0.55zM313.9 253.5h0.55v0.55h-0.55zM312.4 257.0h0.55v0.55h-0.55zM305.8 262.9h0.55v0.55h-0.55zM310.3 255.1h0.55v0.55h-0.55zM304.9 262.2h0.55v0.55h-0.55zM311.1 256.3h0.55v0.55h-0.55zM311.7 259.1h0.55v0.55h-0.55zM310.3 260.3h0.55v0.55h-0.55zM313.6 255.4h0.55v0.55h-0.55zM309.0 256.6h0.55v0.55h-0.55zM306.9 261.4h0.55v0.55h-0.55zM311.3 255.9h0.55v0.55h-0.55zM306.1 265.2h0.55v0.55h-0.55zM313.8 247.9h0.55v0.55h-0.55zM306.0 262.8h0.55v0.55h-0.55zM309.8 256.4h0.55v0.55h-0.55zM312.4 260.5h0.55v0.55h-0.55zM309.7 261.6h0.55v0.55h-0.55zM308.5 257.4h0.55v0.55h-0.55zM306.5 260.2h0.55v0.55h-0.55zM315.9 257.7h0.55v0.55h-0.55zM308.0 255.9h0.55v0.55h-0.55zM307.2 260.2h0.55v0.55h-0.55zM302.8 265.1h0.55v0.55h-0.55zM308.5 256.3h0.55v0.55h-0.55zM307.3 259.9h0.55v0.55h-0.55zM316.9 255.3h0.55v0.55h-0.55zM312.3 257.4h0.55v0.55h-0.55zM306.5 264.9h0.55v0.55h-0.55zM304.3 258.0h0.55v0.55h-0.55zM311.5 256.7h0.55v0.55h-0.55zM310.3 260.4h0.55v0.55h-0.55zM309.3 260.9h0.55v0.55h-0.55zM313.5 255.2h0.55v0.55h-0.55zM308.3 260.6h0.55v0.55h-0.55zM311.1 256.9h0.55v0.55h-0.55zM308.8 258.0h0.55v0.55h-0.55zM310.1 260.7h0.55v0.55h-0.55zM306.4 261.5h0.55v0.55h-0.55zM303.4 262.5h0.55v0.55h-0.55zM310.6 260.2h0.55v0.55h-0.55zM305.8 262.3h0.55v0.55h-0.55zM306.8 262.8h0.55v0.55h-0.55zM311.1 259.5h0.55v0.55h-0.55zM306.6 257.5h0.55v0.55h-0.55zM305.5 258.7h0.55v0.55h-0.55zM307.1 261.3h0.55v0.55h-0.55zM312.2 255.2h0.55v0.55h-0.55zM307.2 262.1h0.55v0.55h-0.55zM305.4 269.1h0.55v0.55h-0.55zM305.8 265.8h0.55v0.55h-0.55zM314.4 258.4h0.55v0.55h-0.55zM310.3 261.1h0.55v0.55h-0.55zM309.8 262.2h0.55v0.55h-0.55zM306.0 259.9h0.55v0.55h-0.55zM310.1 257.6h0.55v0.55h-0.55zM310.5 256.0h0.55v0.55h-0.55zM308.9 256.9h0.55v0.55h-0.55zM312.4 263.7h0.55v0.55h-0.55zM303.9 260.4h0.55v0.55h-0.55zM303.7 263.7h0.55v0.55h-0.55zM314.4 254.0h0.55v0.55h-0.55zM312.4 256.5h0.55v0.55h-0.55zM310.4 265.0h0.55v0.55h-0.55zM310.4 253.1h0.55v0.55h-0.55zM306.8 263.1h0.55v0.55h-0.55zM311.4 257.2h0.55v0.55h-0.55zM311.4 259.6h0.55v0.55h-0.55zM309.8 262.3h0.55v0.55h-0.55zM307.7 263.3h0.55v0.55h-0.55zM313.0 257.2h0.55v0.55h-0.55zM308.3 260.5h0.55v0.55h-0.55zM302.3 266.3h0.55v0.55h-0.55zM301.6 259.9h0.55v0.55h-0.55zM310.7 255.6h0.55v0.55h-0.55zM310.8 258.6h0.55v0.55h-0.55zM302.1 262.9h0.55v0.55h-0.55zM309.3 261.1h0.55v0.55h-0.55zM307.8 257.0h0.55v0.55h-0.55zM307.9 261.2h0.55v0.55h-0.55zM304.5 262.3h0.55v0.55h-0.55zM304.4 257.2h0.55v0.55h-0.55zM316.7 256.1h0.55v0.55h-0.55zM309.4 262.5h0.55v0.55h-0.55zM308.3 265.3h0.55v0.55h-0.55zM308.5 260.8h0.55v0.55h-0.55zM307.7 261.3h0.55v0.55h-0.55zM310.7 258.6h0.55v0.55h-0.55zM307.8 263.2h0.55v0.55h-0.55zM311.4 257.9h0.55v0.55h-0.55zM312.0 255.1h0.55v0.55h-0.55zM313.6 255.5h0.55v0.55h-0.55zM314.0 254.4h0.55v0.55h-0.55zM309.0 260.6h0.55v0.55h-0.55zM315.4 259.0h0.55v0.55h-0.55zM306.8 259.5h0.55v0.55h-0.55zM314.0 259.6h0.55v0.55h-0.55zM311.4 256.9h0.55v0.55h-0.55zM313.8 255.8h0.55v0.55h-0.55zM311.0 260.1h0.55v0.55h-0.55zM304.1 257.0h0.55v0.55h-0.55zM311.3 260.2h0.55v0.55h-0.55zM311.8 259.2h0.55v0.55h-0.55zM311.6 260.9h0.55v0.55h-0.55zM312.2 261.9h0.55v0.55h-0.55zM310.9 260.8h0.55v0.55h-0.55zM308.1 261.6h0.55v0.55h-0.55zM311.2 258.5h0.55v0.55h-0.55zM314.8 255.2h0.55v0.55h-0.55zM313.9 256.9h0.55v0.55h-0.55zM311.9 254.7h0.55v0.55h-0.55zM309.7 262.3h0.55v0.55h-0.55zM307.3 262.5h0.55v0.55h-0.55zM311.7 258.2h0.55v0.55h-0.55zM311.8 259.2h0.55v0.55h-0.55zM309.3 260.9h0.55v0.55h-0.55zM307.1 260.2h0.55v0.55h-0.55zM303.9 263.9h0.55v0.55h-0.55zM303.8 264.4h0.55v0.55h-0.55zM308.6 256.9h0.55v0.55h-0.55zM310.2 259.8h0.55v0.55h-0.55zM306.9 258.8h0.55v0.55h-0.55zM309.7 260.6h0.55v0.55h-0.55zM315.6 260.4h0.55v0.55h-0.55zM303.3 265.8h0.55v0.55h-0.55zM310.0 257.1h0.55v0.55h-0.55zM313.8 262.4h0.55v0.55h-0.55zM312.0 261.6h0.55v0.55h-0.55zM312.5 255.6h0.55v0.55h-0.55zM303.4 268.2h0.55v0.55h-0.55zM312.1 251.9h0.55v0.55h-0.55zM307.8 258.8h0.55v0.55h-0.55zM310.3 259.0h0.55v0.55h-0.55zM312.5 255.2h0.55v0.55h-0.55zM313.5 250.9h0.55v0.55h-0.55zM314.3 263.7h0.55v0.55h-0.55zM310.1 260.9h0.55v0.55h-0.55zM312.9 266.8h0.55v0.55h-0.55zM312.0 256.3h0.55v0.55h-0.55zM303.3 265.4h0.55v0.55h-0.55zM308.9 253.7h0.55v0.55h-0.55zM308.7 261.9h0.55v0.55h-0.55zM301.0 266.0h0.55v0.55h-0.55zM302.0 261.6h0.55v0.55h-0.55zM312.6 260.4h0.55v0.55h-0.55zM312.5 255.0h0.55v0.55h-0.55zM308.5 254.8h0.55v0.55h-0.55zM305.3 264.7h0.55v0.55h-0.55zM306.6 258.8h0.55v0.55h-0.55zM302.8 264.4h0.55v0.55h-0.55zM314.1 249.4h0.55v0.55h-0.55zM307.7 264.5h0.55v0.55h-0.55zM302.0 263.9h0.55v0.55h-0.55zM311.5 261.4h0.55v0.55h-0.55zM312.0 263.0h0.55v0.55h-0.55zM309.2 259.4h0.55v0.55h-0.55zM311.5 258.9h0.55v0.55h-0.55zM302.9 262.1h0.55v0.55h-0.55zM309.2 260.8h0.55v0.55h-0.55zM304.2 261.7h0.55v0.55h-0.55zM307.5 262.2h0.55v0.55h-0.55zM309.0 261.8h0.55v0.55h-0.55zM309.4 256.7h0.55v0.55h-0.55zM306.6 258.1h0.55v0.55h-0.55zM311.1 260.7h0.55v0.55h-0.55zM303.4 259.1h0.55v0.55h-0.55zM310.8 257.5h0.55v0.55h-0.55zM310.1 260.4h0.55v0.55h-0.55zM312.2 260.1h0.55v0.55h-0.55zM304.6 256.8h0.55v0.55h-0.55zM307.4 260.3h0.55v0.55h-0.55zM308.7 261.4h0.55v0.55h-0.55zM310.6 262.6h0.55v0.55h-0.55zM307.3 261.3h0.55v0.55h-0.55zM311.5 264.4h0.55v0.55h-0.55zM304.7 260.4h0.55v0.55h-0.55zM309.4 262.0h0.55v0.55h-0.55zM309.3 259.1h0.55v0.55h-0.55zM301.3 259.9h0.55v0.55h-0.55zM308.4 259.7h0.55v0.55h-0.55zM316.1 255.1h0.55v0.55h-0.55zM312.4 260.0h0.55v0.55h-0.55zM304.6 259.8h0.55v0.55h-0.55zM310.5 263.3h0.55v0.55h-0.55zM312.0 255.6h0.55v0.55h-0.55zM306.7 264.8h0.55v0.55h-0.55zM311.6 254.3h0.55v0.55h-0.55zM313.8 253.5h0.55v0.55h-0.55zM311.8 257.0h0.55v0.55h-0.55zM307.4 259.3h0.55v0.55h-0.55zM312.8 258.6h0.55v0.55h-0.55zM311.8 256.7h0.55v0.55h-0.55zM309.9 265.9h0.55v0.55h-0.55zM315.1 254.2h0.55v0.55h-0.55zM307.9 265.5h0.55v0.55h-0.55zM310.0 259.2h0.55v0.55h-0.55zM313.0 257.7h0.55v0.55h-0.55zM312.9 262.8h0.55v0.55h-0.55zM304.0 266.1h0.55v0.55h-0.55zM306.2 262.5h0.55v0.55h-0.55zM309.3 260.5h0.55v0.55h-0.55zM302.3 267.7h0.55v0.55h-0.55zM316.9 252.0h0.55v0.55h-0.55zM313.6 258.0h0.55v0.55h-0.55zM309.8 257.7h0.55v0.55h-0.55zM312.1 258.2h0.55v0.55h-0.55zM315.8 256.8h0.55v0.55h-0.55zM302.6 256.2h0.55v0.55h-0.55z" fill="#000" fill-opacity="0.45"/>
<path d="M316.6 256.4h0.5v0.5h-0.5zM310.8 261.4h0.5v0.5h-0.5zM307.9 258.8h0.5v0.5h-0.5zM305.5 260.7h0.5v0.5h-0.5zM311.5 261.1h0.5v0.5h-0.5zM309.0 263.1h0.5v0.5h-0.5zM313.1 261.5h0.5v0.5h-0.5zM301.1 260.8h0.5v0.5h-0.5zM315.1 263.6h0.5v0.5h-0.5zM321.2 256.7h0.5v0.5h-0.5zM315.1 263.5h0.5v0.5h-0.5zM312.6 261.5h0.5v0.5h-0.5zM313.7 263.1h0.5v0.5h-0.5zM315.8 255.7h0.5v0.5h-0.5zM315.1 261.8h0.5v0.5h-0.5zM304.4 267.1h0.5v0.5h-0.5zM309.6 244.6h0.5v0.5h-0.5zM320.1 263.4h0.5v0.5h-0.5zM309.5 258.1h0.5v0.5h-0.5zM313.4 260.2h0.5v0.5h-0.5zM308.7 266.5h0.5v0.5h-0.5zM312.0 255.3h0.5v0.5h-0.5zM306.6 267.7h0.5v0.5h-0.5zM312.3 257.8h0.5v0.5h-0.5zM305.9 253.5h0.5v0.5h-0.5zM307.4 265.5h0.5v0.5h-0.5zM315.4 254.4h0.5v0.5h-0.5zM302.0 266.0h0.5v0.5h-0.5zM306.9 266.3h0.5v0.5h-0.5zM310.1 256.1h0.5v0.5h-0.5zM323.7 270.1h0.5v0.5h-0.5zM308.3 261.8h0.5v0.5h-0.5zM308.2 262.2h0.5v0.5h-0.5zM303.1 266.9h0.5v0.5h-0.5zM314.4 257.9h0.5v0.5h-0.5zM318.7 258.4h0.5v0.5h-0.5zM303.4 266.8h0.5v0.5h-0.5zM300.1 258.2h0.5v0.5h-0.5zM316.0 265.5h0.5v0.5h-0.5zM310.8 255.7h0.5v0.5h-0.5zM307.8 258.1h0.5v0.5h-0.5zM310.1 260.0h0.5v0.5h-0.5zM315.5 264.9h0.5v0.5h-0.5zM311.9 255.1h0.5v0.5h-0.5zM312.8 266.5h0.5v0.5h-0.5zM300.2 264.1h0.5v0.5h-0.5zM304.8 262.6h0.5v0.5h-0.5zM311.8 258.7h0.5v0.5h-0.5zM318.2 249.1h0.5v0.5h-0.5zM312.3 255.1h0.5v0.5h-0.5zM302.3 261.0h0.5v0.5h-0.5zM310.2 256.6h0.5v0.5h-0.5zM311.8 271.3h0.5v0.5h-0.5zM305.0 261.2h0.5v0.5h-0.5zM304.5 260.4h0.5v0.5h-0.5zM318.0 259.3h0.5v0.5h-0.5zM317.0 254.3h0.5v0.5h-0.5zM311.0 259.0h0.5v0.5h-0.5zM306.6 262.6h0.5v0.5h-0.5zM318.6 261.5h0.5v0.5h-0.5zM314.9 263.5h0.5v0.5h-0.5zM306.8 258.4h0.5v0.5h-0.5zM300.3 268.0h0.5v0.5h-0.5zM311.6 262.2h0.5v0.5h-0.5zM307.0 273.4h0.5v0.5h-0.5zM310.0 272.3h0.5v0.5h-0.5zM321.3 252.6h0.5v0.5h-0.5zM310.1 265.2h0.5v0.5h-0.5zM316.0 264.5h0.5v0.5h-0.5zM305.0 258.9h0.5v0.5h-0.5zM310.7 257.7h0.5v0.5h-0.5zM322.8 263.5h0.5v0.5h-0.5zM305.2 271.9h0.5v0.5h-0.5zM319.9 255.4h0.5v0.5h-0.5zM302.4 271.2h0.5v0.5h-0.5zM311.1 263.7h0.5v0.5h-0.5zM304.6 267.2h0.5v0.5h-0.5zM313.9 262.4h0.5v0.5h-0.5zM313.3 262.5h0.5v0.5h-0.5zM312.8 254.0h0.5v0.5h-0.5zM316.0 256.0h0.5v0.5h-0.5zM315.2 259.8h0.5v0.5h-0.5zM309.1 269.6h0.5v0.5h-0.5zM310.8 260.1h0.5v0.5h-0.5zM309.6 270.3h0.5v0.5h-0.5zM305.5 263.7h0.5v0.5h-0.5zM308.7 261.3h0.5v0.5h-0.5zM304.4 248.8h0.5v0.5h-0.5zM302.8 258.4h0.5v0.5h-0.5zM303.5 258.6h0.5v0.5h-0.5zM316.2 259.7h0.5v0.5h-0.5zM306.9 258.1h0.5v0.5h-0.5zM306.4 261.1h0.5v0.5h-0.5zM313.3 251.5h0.5v0.5h-0.5zM302.5 260.9h0.5v0.5h-0.5zM305.0 254.8h0.5v0.5h-0.5zM310.6 253.7h0.5v0.5h-0.5zM309.7 263.3h0.5v0.5h-0.5zM322.9 269.7h0.5v0.5h-0.5zM310.7 254.3h0.5v0.5h-0.5zM304.7 262.8h0.5v0.5h-0.5zM306.0 261.5h0.5v0.5h-0.5zM315.7 259.6h0.5v0.5h-0.5zM311.1 268.8h0.5v0.5h-0.5zM306.8 251.8h0.5v0.5h-0.5zM308.7 259.4h0.5v0.5h-0.5zM321.5 251.5h0.5v0.5h-0.5zM306.9 235.6h0.5v0.5h-0.5zM309.3 259.9h0.5v0.5h-0.5zM307.2 257.0h0.5v0.5h-0.5zM304.9 255.6h0.5v0.5h-0.5zM311.1 261.2h0.5v0.5h-0.5zM305.7 263.6h0.5v0.5h-0.5zM313.5 259.1h0.5v0.5h-0.5zM318.4 261.3h0.5v0.5h-0.5zM309.6 257.6h0.5v0.5h-0.5zM315.8 243.8h0.5v0.5h-0.5zM307.3 260.6h0.5v0.5h-0.5zM307.1 260.4h0.5v0.5h-0.5zM313.6 259.8h0.5v0.5h-0.5zM307.2 257.4h0.5v0.5h-0.5zM315.5 255.1h0.5v0.5h-0.5zM321.0 255.8h0.5v0.5h-0.5zM315.1 254.6h0.5v0.5h-0.5zM314.7 260.3h0.5v0.5h-0.5zM300.9 265.4h0.5v0.5h-0.5zM309.0 262.1h0.5v0.5h-0.5zM312.9 262.1h0.5v0.5h-0.5zM308.5 257.8h0.5v0.5h-0.5zM306.7 274.7h0.5v0.5h-0.5zM311.9 268.1h0.5v0.5h-0.5zM313.7 266.4h0.5v0.5h-0.5zM315.7 253.1h0.5v0.5h-0.5zM304.1 267.6h0.5v0.5h-0.5zM311.5 254.7h0.5v0.5h-0.5zM312.2 276.4h0.5v0.5h-0.5zM307.3 264.3h0.5v0.5h-0.5zM312.5 242.4h0.5v0.5h-0.5zM311.6 267.1h0.5v0.5h-0.5zM307.0 261.9h0.5v0.5h-0.5zM305.3 261.8h0.5v0.5h-0.5zM314.6 249.7h0.5v0.5h-0.5zM300.4 268.0h0.5v0.5h-0.5zM304.6 259.0h0.5v0.5h-0.5zM304.0 257.1h0.5v0.5h-0.5zM308.0 266.0h0.5v0.5h-0.5zM305.3 267.4h0.5v0.5h-0.5zM311.7 266.6h0.5v0.5h-0.5zM316.0 263.5h0.5v0.5h-0.5zM300.1 261.5h0.5v0.5h-0.5zM313.6 256.9h0.5v0.5h-0.5zM304.4 260.8h0.5v0.5h-0.5zM321.0 259.7h0.5v0.5h-0.5zM303.9 269.2h0.5v0.5h-0.5zM312.8 257.0h0.5v0.5h-0.5zM303.9 262.6h0.5v0.5h-0.5zM315.4 254.5h0.5v0.5h-0.5zM308.7 265.8h0.5v0.5h-0.5zM323.2 260.0h0.5v0.5h-0.5zM308.9 263.3h0.5v0.5h-0.5zM309.5 258.7h0.5v0.5h-0.5zM308.6 261.7h0.5v0.5h-0.5zM318.7 269.1h0.5v0.5h-0.5zM309.8 256.4h0.5v0.5h-0.5zM308.8 266.4h0.5v0.5h-0.5zM314.5 259.5h0.5v0.5h-0.5zM308.9 260.4h0.5v0.5h-0.5zM306.4 263.4h0.5v0.5h-0.5zM319.0 265.7h0.5v0.5h-0.5zM310.2 253.4h0.5v0.5h-0.5zM314.3 261.1h0.5v0.5h-0.5zM313.1 275.4h0.5v0.5h-0.5zM305.1 276.7h0.5v0.5h-0.5zM322.0 256.3h0.5v0.5h-0.5zM312.0 261.6h0.5v0.5h-0.5zM312.8 256.3h0.5v0.5h-0.5zM306.2 265.0h0.5v0.5h-0.5zM309.4 264.7h0.5v0.5h-0.5zM314.2 259.2h0.5v0.5h-0.5zM321.8 251.7h0.5v0.5h-0.5zM304.5 260.8h0.5v0.5h-0.5zM306.5 225.0h0.5v0.5h-0.5zM307.6 255.5h0.5v0.5h-0.5zM306.7 261.7h0.5v0.5h-0.5zM308.6 254.8h0.5v0.5h-0.5zM306.4 259.9h0.5v0.5h-0.5zM311.2 261.3h0.5v0.5h-0.5zM312.7 270.1h0.5v0.5h-0.5zM304.3 257.9h0.5v0.5h-0.5zM309.9 266.9h0.5v0.5h-0.5zM306.7 266.5h0.5v0.5h-0.5zM315.2 254.1h0.5v0.5h-0.5zM309.8 263.4h0.5v0.5h-0.5zM301.9 268.2h0.5v0.5h-0.5zM313.3 249.6h0.5v0.5h-0.5zM316.1 257.0h0.5v0.5h-0.5zM310.2 248.8h0.5v0.5h-0.5zM304.5 254.3h0.5v0.5h-0.5zM302.3 273.3h0.5v0.5h-0.5zM304.8 255.3h0.5v0.5h-0.5zM315.6 260.2h0.5v0.5h-0.5zM318.4 262.9h0.5v0.5h-0.5zM315.3 263.2h0.5v0.5h-0.5zM309.4 264.2h0.5v0.5h-0.5zM314.0 251.9h0.5v0.5h-0.5zM306.1 267.4h0.5v0.5h-0.5zM323.9 253.4h0.5v0.5h-0.5zM311.4 257.8h0.5v0.5h-0.5zM305.0 261.3h0.5v0.5h-0.5zM307.4 264.8h0.5v0.5h-0.5zM316.5 257.2h0.5v0.5h-0.5zM303.6 264.6h0.5v0.5h-0.5zM317.5 260.9h0.5v0.5h-0.5zM317.1 258.9h0.5v0.5h-0.5zM308.3 260.7h0.5v0.5h-0.5zM322.6 254.1h0.5v0.5h-0.5zM302.0 266.3h0.5v0.5h-0.5zM309.4 258.0h0.5v0.5h-0.5zM307.3 264.5h0.5v0.5h-0.5zM309.5 260.0h0.5v0.5h-0.5zM319.2 271.0h0.5v0.5h-0.5zM301.7 258.8h0.5v0.5h-0.5zM322.9 263.1h0.5v0.5h-0.5zM310.1 258.2h0.5v0.5h-0.5zM317.0 256.3h0.5v0.5h-0.5zM314.2 255.5h0.5v0.5h-0.5zM320.0 272.1h0.5v0.5h-0.5zM306.6 264.2h0.5v0.5h-0.5zM301.5 253.7h0.5v0.5h-0.5zM306.9 248.3h0.5v0.5h-0.5zM312.2 259.5h0.5v0.5h-0.5zM304.1 254.8h0.5v0.5h-0.5zM314.3 264.6h0.5v0.5h-0.5zM302.3 255.7h0.5v0.5h-0.5zM310.6 268.7h0.5v0.5h-0.5zM308.5 252.0h0.5v0.5h-0.5zM312.8 259.7h0.5v0.5h-0.5zM307.0 255.1h0.5v0.5h-0.5zM307.1 265.2h0.5v0.5h-0.5zM310.6 265.2h0.5v0.5h-0.5zM310.7 268.9h0.5v0.5h-0.5zM314.3 256.7h0.5v0.5h-0.5zM310.3 259.6h0.5v0.5h-0.5zM318.3 264.5h0.5v0.5h-0.5zM302.8 262.2h0.5v0.5h-0.5zM305.9 259.4h0.5v0.5h-0.5zM311.4 249.6h0.5v0.5h-0.5zM316.2 253.5h0.5v0.5h-0.5zM303.5 265.1h0.5v0.5h-0.5zM314.1 253.9h0.5v0.5h-0.5zM304.0 264.4h0.5v0.5h-0.5zM314.3 248.4h0.5v0.5h-0.5zM306.3 262.9h0.5v0.5h-0.5zM307.1 253.2h0.5v0.5h-0.5zM320.0 261.9h0.5v0.5h-0.5zM307.7 262.5h0.5v0.5h-0.5zM307.2 267.3h0.5v0.5h-0.5zM310.4 263.2h0.5v0.5h-0.5zM304.2 265.0h0.5v0.5h-0.5zM305.7 264.2h0.5v0.5h-0.5zM301.2 265.3h0.5v0.5h-0.5zM305.9 258.1h0.5v0.5h-0.5zM302.8 263.4h0.5v0.5h-0.5zM306.6 251.9h0.5v0.5h-0.5zM311.7 263.5h0.5v0.5h-0.5zM312.2 265.7h0.5v0.5h-0.5zM312.0 258.4h0.5v0.5h-0.5zM303.4 248.2h0.5v0.5h-0.5zM330.0 263.3h0.5v0.5h-0.5zM306.8 255.5h0.5v0.5h-0.5zM307.4 259.7h0.5v0.5h-0.5zM307.9 260.4h0.5v0.5h-0.5zM311.4 266.1h0.5v0.5h-0.5zM309.0 250.7h0.5v0.5h-0.5zM305.9 264.1h0.5v0.5h-0.5zM314.8 272.2h0.5v0.5h-0.5zM317.3 263.3h0.5v0.5h-0.5zM321.2 255.6h0.5v0.5h-0.5zM316.2 260.7h0.5v0.5h-0.5zM321.9 254.8h0.5v0.5h-0.5zM311.3 259.8h0.5v0.5h-0.5zM310.8 261.0h0.5v0.5h-0.5zM309.7 264.0h0.5v0.5h-0.5zM320.2 258.1h0.5v0.5h-0.5zM305.3 260.8h0.5v0.5h-0.5zM312.5 257.1h0.5v0.5h-0.5zM317.0 259.5h0.5v0.5h-0.5zM304.0 262.9h0.5v0.5h-0.5zM315.9 257.4h0.5v0.5h-0.5zM313.8 249.0h0.5v0.5h-0.5zM307.5 269.4h0.5v0.5h-0.5zM327.1 251.6h0.5v0.5h-0.5zM316.8 260.7h0.5v0.5h-0.5zM310.1 257.9h0.5v0.5h-0.5zM314.2 251.9h0.5v0.5h-0.5zM312.3 266.9h0.5v0.5h-0.5zM312.5 262.6h0.5v0.5h-0.5zM315.6 269.7h0.5v0.5h-0.5zM309.8 260.8h0.5v0.5h-0.5zM302.7 263.6h0.5v0.5h-0.5zM312.3 262.0h0.5v0.5h-0.5zM307.2 266.9h0.5v0.5h-0.5zM307.2 263.0h0.5v0.5h-0.5zM315.6 263.0h0.5v0.5h-0.5zM311.7 255.6h0.5v0.5h-0.5zM313.9 258.7h0.5v0.5h-0.5zM303.8 261.1h0.5v0.5h-0.5zM306.8 264.7h0.5v0.5h-0.5zM308.1 258.9h0.5v0.5h-0.5zM300.1 262.1h0.5v0.5h-0.5zM303.4 260.8h0.5v0.5h-0.5zM313.7 257.8h0.5v0.5h-0.5zM304.1 263.2h0.5v0.5h-0.5zM313.7 255.0h0.5v0.5h-0.5zM306.2 248.7h0.5v0.5h-0.5zM304.1 260.3h0.5v0.5h-0.5zM307.5 257.0h0.5v0.5h-0.5z" fill="#000" fill-opacity="0.3"/>
<path d="M335.0 241.6h.5v.5h-.5zM344.8 227.3h.5v.5h-.5zM348.6 226.1h.5v.5h-.5zM325.1 246.2h.5v.5h-.5zM334.4 233.1h.5v.5h-.5zM342.2 235.3h.5v.5h-.5zM344.3 227.9h.5v.5h-.5zM339.5 235.4h.5v.5h-.5zM341.2 232.9h.5v.5h-.5zM339.0 233.4h.5v.5h-.5zM321.3 250.7h.5v.5h-.5zM319.4 250.5h.5v.5h-.5zM346.9 230.8h.5v.5h-.5zM320.7 245.6h.5v.5h-.5zM334.0 235.3h.5v.5h-.5zM322.9 241.5h.5v.5h-.5zM337.2 228.3h.5v.5h-.5zM322.0 243.0h.5v.5h-.5zM341.8 233.7h.5v.5h-.5zM345.4 231.2h.5v.5h-.5zM347.8 225.3h.5v.5h-.5zM338.7 233.3h.5v.5h-.5zM346.9 224.7h.5v.5h-.5zM337.7 235.5h.5v.5h-.5zM335.3 238.9h.5v.5h-.5zM347.1 228.1h.5v.5h-.5zM321.2 249.3h.5v.5h-.5zM322.3 246.8h.5v.5h-.5zM334.9 240.0h.5v.5h-.5zM316.7 248.9h.5v.5h-.5zM317.9 252.3h.5v.5h-.5zM344.6 227.2h.5v.5h-.5zM348.8 229.1h.5v.5h-.5zM341.2 231.1h.5v.5h-.5zM320.7 255.5h.5v.5h-.5zM347.3 227.5h.5v.5h-.5zM340.1 238.6h.5v.5h-.5zM349.0 222.5h.5v.5h-.5zM344.5 228.3h.5v.5h-.5zM344.9 232.1h.5v.5h-.5zM336.0 239.2h.5v.5h-.5zM331.6 236.5h.5v.5h-.5zM339.5 234.8h.5v.5h-.5zM324.3 240.1h.5v.5h-.5zM338.5 231.3h.5v.5h-.5z" fill="#000" fill-opacity="0.3"/>
<text x="292.9" y="207.3" font-size="7.1" text-anchor="end" fill="#1a1a1a" >10<tspan font-size="5.4" dx="0.25" dy="-2.98">5</tspan></text>
<text x="292.9" y="226.3" font-size="7.1" text-anchor="end" fill="#1a1a1a" >10<tspan font-size="5.4" dx="0.25" dy="-2.98">4</tspan></text>
<text x="292.9" y="245.4" font-size="7.1" text-anchor="end" fill="#1a1a1a" >10<tspan font-size="5.4" dx="0.25" dy="-2.98">3</tspan></text>
<text x="292.9" y="263.8" font-size="7.1" text-anchor="end" fill="#1a1a1a" >10<tspan font-size="5.4" dx="0.25" dy="-2.98">2</tspan></text>
<text x="292.9" y="282.3" font-size="7.1" text-anchor="end" fill="#1a1a1a" >10<tspan font-size="5.4" dx="0.25" dy="-2.98">1</tspan></text>
<path d="M296.4 204.4L299.1 204.4M296.4 223.4L299.1 223.4M296.4 242.5L299.1 242.5M296.4 260.9L299.1 260.9M296.4 279.4L299.1 279.4" stroke="#000" stroke-width="0.9" fill="none"/>
<path d="M297.9 196.7L299.1 196.7M297.9 198.6L299.1 198.6M297.9 200.5L299.1 200.5M297.9 202.4L299.1 202.4M297.9 204.3L299.1 204.3M297.9 206.2L299.1 206.2M297.9 208.1L299.1 208.1M297.9 210L299.1 210M297.9 211.9L299.1 211.9M297.9 213.8L299.1 213.8M297.9 215.7L299.1 215.7M297.9 217.6L299.1 217.6M297.9 219.5L299.1 219.5M297.9 221.4L299.1 221.4M297.9 223.3L299.1 223.3M297.9 225.2L299.1 225.2M297.9 227.1L299.1 227.1M297.9 229L299.1 229M297.9 230.9L299.1 230.9M297.9 232.8L299.1 232.8M297.9 234.7L299.1 234.7M297.9 236.6L299.1 236.6M297.9 238.5L299.1 238.5M297.9 240.4L299.1 240.4M297.9 242.3L299.1 242.3M297.9 244.2L299.1 244.2M297.9 246.1L299.1 246.1M297.9 248L299.1 248M297.9 249.9L299.1 249.9M297.9 251.8L299.1 251.8M297.9 253.7L299.1 253.7M297.9 255.6L299.1 255.6M297.9 257.5L299.1 257.5M297.9 259.4L299.1 259.4M297.9 261.3L299.1 261.3M297.9 263.2L299.1 263.2M297.9 265.1L299.1 265.1M297.9 267L299.1 267M297.9 268.9L299.1 268.9M297.9 270.8L299.1 270.8M297.9 272.7L299.1 272.7M297.9 274.6L299.1 274.6M297.9 276.5L299.1 276.5M297.9 278.4L299.1 278.4" stroke="#000" stroke-width="0.5" fill="none"/>
<text x="309.5" y="293" font-size="7.1" text-anchor="middle" fill="#1a1a1a" >10<tspan font-size="5.4" dx="0.25" dy="-2.98">2</tspan></text>
<text x="331.7" y="293" font-size="7.1" text-anchor="middle" fill="#1a1a1a" >10<tspan font-size="5.4" dx="0.25" dy="-2.98">3</tspan></text>
<text x="352.7" y="293" font-size="7.1" text-anchor="middle" fill="#1a1a1a" >10<tspan font-size="5.4" dx="0.25" dy="-2.98">4</tspan></text>
<text x="373.7" y="293" font-size="7.1" text-anchor="middle" fill="#1a1a1a" >10<tspan font-size="5.4" dx="0.25" dy="-2.98">5</tspan></text>
<path d="M309.5 280.2L309.5 282.7M330.5 280.2L330.5 282.7M351.5 280.2L351.5 282.7M372.5 280.2L372.5 282.7" stroke="#000" stroke-width="0.9" fill="none"/>
<path d="M299.1 280.2L299.1 281.4M301.2 280.2L301.2 281.4M303.3 280.2L303.3 281.4M305.4 280.2L305.4 281.4M307.5 280.2L307.5 281.4M309.6 280.2L309.6 281.4M311.7 280.2L311.7 281.4M313.8 280.2L313.8 281.4M315.9 280.2L315.9 281.4M318 280.2L318 281.4M320.1 280.2L320.1 281.4M322.2 280.2L322.2 281.4M324.3 280.2L324.3 281.4M326.4 280.2L326.4 281.4M328.5 280.2L328.5 281.4M330.6 280.2L330.6 281.4M332.7 280.2L332.7 281.4M334.8 280.2L334.8 281.4M336.9 280.2L336.9 281.4M339 280.2L339 281.4M341.1 280.2L341.1 281.4M343.2 280.2L343.2 281.4M345.3 280.2L345.3 281.4M347.4 280.2L347.4 281.4M349.5 280.2L349.5 281.4M351.6 280.2L351.6 281.4M353.7 280.2L353.7 281.4M355.8 280.2L355.8 281.4M357.9 280.2L357.9 281.4M360 280.2L360 281.4M362.1 280.2L362.1 281.4M364.2 280.2L364.2 281.4M366.3 280.2L366.3 281.4M368.4 280.2L368.4 281.4M370.5 280.2L370.5 281.4M372.6 280.2L372.6 281.4M374.7 280.2L374.7 281.4M376.8 280.2L376.8 281.4M378.9 280.2L378.9 281.4M381 280.2L381 281.4M383.1 280.2L383.1 281.4" stroke="#000" stroke-width="0.5" fill="none"/>
<line x1="321.2" y1="196.7" x2="321.2" y2="280.2" stroke="#6a6a6a" stroke-width="1" />
<line x1="299.1" y1="250.4" x2="383.9" y2="250.4" stroke="#6a6a6a" stroke-width="1" />
<rect x="299.1" y="196.7" width="84.8" height="83.5" fill="none" stroke="#000" stroke-width="1.5"/>
<text x="340.5" y="191.8" font-size="9.6" text-anchor="middle" font-weight="bold" fill="#000" >Media</text>
<text x="372.5" y="212.8" font-size="7.4" text-anchor="middle" fill="#1a1a1a" >1</text>
<path d="M429.2 243.1h.55v.55h-.55zM414.9 264.8h.55v.55h-.55zM422.5 265.8h.55v.55h-.55zM426.2 254.5h.55v.55h-.55zM430.6 243.1h.55v.55h-.55zM421.7 252.9h.55v.55h-.55zM424.7 246.5h.55v.55h-.55zM419.9 248.0h.55v.55h-.55zM426.1 238.1h.55v.55h-.55zM431.7 229.7h.55v.55h-.55zM425.0 266.4h.55v.55h-.55zM418.1 253.3h.55v.55h-.55zM415.4 256.0h.55v.55h-.55zM425.9 252.7h.55v.55h-.55zM416.7 255.6h.55v.55h-.55zM427.6 241.2h.55v.55h-.55zM423.8 253.1h.55v.55h-.55zM419.8 260.0h.55v.55h-.55zM429.9 256.2h.55v.55h-.55zM422.7 247.8h.55v.55h-.55zM428.0 248.1h.55v.55h-.55zM426.1 253.2h.55v.55h-.55zM429.1 243.9h.55v.55h-.55zM417.1 270.6h.55v.55h-.55zM423.4 247.1h.55v.55h-.55zM418.6 244.1h.55v.55h-.55zM425.0 248.3h.55v.55h-.55zM424.0 243.2h.55v.55h-.55zM428.3 249.5h.55v.55h-.55zM416.8 236.0h.55v.55h-.55zM426.8 225.8h.55v.55h-.55zM422.8 238.7h.55v.55h-.55zM428.4 239.9h.55v.55h-.55zM427.5 244.7h.55v.55h-.55zM429.8 241.8h.55v.55h-.55zM428.9 238.6h.55v.55h-.55zM423.7 241.5h.55v.55h-.55zM416.2 271.9h.55v.55h-.55zM431.7 228.4h.55v.55h-.55zM423.2 250.9h.55v.55h-.55zM424.9 229.3h.55v.55h-.55zM439.7 224.9h.55v.55h-.55zM416.4 262.6h.55v.55h-.55zM425.8 247.6h.55v.55h-.55zM415.8 251.2h.55v.55h-.55zM426.0 247.0h.55v.55h-.55zM419.7 256.9h.55v.55h-.55zM427.6 264.4h.55v.55h-.55zM421.7 253.4h.55v.55h-.55zM415.6 252.0h.55v.55h-.55zM419.7 266.0h.55v.55h-.55zM429.0 238.6h.55v.55h-.55zM427.8 253.5h.55v.55h-.55zM422.4 254.0h.55v.55h-.55zM422.6 249.0h.55v.55h-.55zM430.5 250.2h.55v.55h-.55zM428.7 237.3h.55v.55h-.55zM420.0 238.5h.55v.55h-.55zM424.7 253.9h.55v.55h-.55zM415.3 245.0h.55v.55h-.55zM430.5 237.5h.55v.55h-.55zM416.5 265.5h.55v.55h-.55zM434.8 243.9h.55v.55h-.55zM413.8 263.5h.55v.55h-.55zM428.1 229.5h.55v.55h-.55zM419.5 251.9h.55v.55h-.55zM428.3 251.2h.55v.55h-.55zM420.8 240.0h.55v.55h-.55zM432.7 255.9h.55v.55h-.55zM414.7 257.5h.55v.55h-.55zM429.2 273.3h.55v.55h-.55zM419.4 266.6h.55v.55h-.55zM423.6 261.4h.55v.55h-.55zM430.1 244.0h.55v.55h-.55zM422.7 266.7h.55v.55h-.55zM428.5 244.4h.55v.55h-.55zM417.6 255.4h.55v.55h-.55zM424.5 246.0h.55v.55h-.55zM420.4 270.8h.55v.55h-.55zM420.4 246.3h.55v.55h-.55zM420.0 260.2h.55v.55h-.55zM426.2 242.9h.55v.55h-.55zM434.8 247.6h.55v.55h-.55zM429.2 245.5h.55v.55h-.55zM416.2 265.0h.55v.55h-.55zM419.3 253.3h.55v.55h-.55zM424.8 249.3h.55v.55h-.55zM421.3 243.3h.55v.55h-.55zM426.8 251.2h.55v.55h-.55zM422.3 255.1h.55v.55h-.55zM425.5 251.3h.55v.55h-.55zM431.5 244.2h.55v.55h-.55zM425.5 251.4h.55v.55h-.55zM424.3 244.6h.55v.55h-.55zM423.6 257.4h.55v.55h-.55zM429.0 238.8h.55v.55h-.55zM421.3 266.4h.55v.55h-.55zM428.7 250.1h.55v.55h-.55zM425.3 232.5h.55v.55h-.55zM422.9 256.4h.55v.55h-.55zM416.3 238.3h.55v.55h-.55zM433.9 249.3h.55v.55h-.55zM425.0 259.1h.55v.55h-.55zM428.0 239.1h.55v.55h-.55zM427.7 248.5h.55v.55h-.55zM419.1 230.8h.55v.55h-.55zM428.9 259.7h.55v.55h-.55zM428.5 255.0h.55v.55h-.55zM436.9 241.8h.55v.55h-.55zM418.6 264.2h.55v.55h-.55zM420.5 242.1h.55v.55h-.55zM418.6 267.6h.55v.55h-.55zM420.3 264.3h.55v.55h-.55zM426.3 251.0h.55v.55h-.55zM438.3 246.4h.55v.55h-.55zM423.4 249.8h.55v.55h-.55zM432.1 243.5h.55v.55h-.55zM424.8 243.8h.55v.55h-.55zM416.2 231.8h.55v.55h-.55zM424.7 262.2h.55v.55h-.55zM414.2 254.3h.55v.55h-.55zM414.7 250.1h.55v.55h-.55zM427.7 261.7h.55v.55h-.55zM427.7 257.5h.55v.55h-.55zM422.9 232.7h.55v.55h-.55zM421.3 249.5h.55v.55h-.55zM429.8 243.0h.55v.55h-.55zM422.9 249.5h.55v.55h-.55zM421.5 250.7h.55v.55h-.55zM429.1 245.7h.55v.55h-.55zM416.2 266.1h.55v.55h-.55zM426.2 239.2h.55v.55h-.55zM435.9 228.5h.55v.55h-.55zM421.7 248.6h.55v.55h-.55zM425.1 254.4h.55v.55h-.55zM422.5 258.0h.55v.55h-.55zM422.6 228.6h.55v.55h-.55zM448.0 234.8h.55v.55h-.55zM427.3 235.8h.55v.55h-.55zM423.5 224.4h.55v.55h-.55zM419.8 247.7h.55v.55h-.55zM414.1 260.7h.55v.55h-.55zM426.5 256.9h.55v.55h-.55zM427.9 242.4h.55v.55h-.55zM421.7 243.8h.55v.55h-.55zM418.6 250.4h.55v.55h-.55zM420.1 249.3h.55v.55h-.55zM433.1 233.5h.55v.55h-.55zM427.5 249.4h.55v.55h-.55zM421.1 262.5h.55v.55h-.55zM424.8 231.8h.55v.55h-.55zM422.5 260.9h.55v.55h-.55zM421.4 252.8h.55v.55h-.55zM428.8 254.9h.55v.55h-.55zM427.3 231.7h.55v.55h-.55zM438.7 243.7h.55v.55h-.55zM422.2 244.5h.55v.55h-.55zM424.7 250.5h.55v.55h-.55zM421.5 246.3h.55v.55h-.55zM421.0 236.8h.55v.55h-.55zM419.5 243.5h.55v.55h-.55zM425.8 248.2h.55v.55h-.55zM423.5 249.5h.55v.55h-.55zM416.7 268.9h.55v.55h-.55zM431.0 240.8h.55v.55h-.55zM421.6 254.6h.55v.55h-.55zM432.1 244.9h.55v.55h-.55zM427.9 245.5h.55v.55h-.55zM436.8 246.1h.55v.55h-.55zM424.7 242.8h.55v.55h-.55zM418.7 258.7h.55v.55h-.55zM428.2 239.0h.55v.55h-.55zM423.3 249.2h.55v.55h-.55zM426.7 237.9h.55v.55h-.55zM428.0 268.4h.55v.55h-.55zM427.7 244.4h.55v.55h-.55zM421.8 258.8h.55v.55h-.55zM427.7 256.6h.55v.55h-.55zM427.0 235.3h.55v.55h-.55zM429.4 236.9h.55v.55h-.55zM423.2 238.8h.55v.55h-.55zM428.6 239.7h.55v.55h-.55zM429.2 247.7h.55v.55h-.55zM428.2 257.7h.55v.55h-.55zM422.9 248.3h.55v.55h-.55zM435.8 236.2h.55v.55h-.55zM423.9 230.7h.55v.55h-.55zM433.5 241.7h.55v.55h-.55zM433.0 232.5h.55v.55h-.55zM434.5 246.6h.55v.55h-.55zM422.7 238.9h.55v.55h-.55zM424.9 232.7h.55v.55h-.55zM418.8 255.7h.55v.55h-.55zM421.3 250.0h.55v.55h-.55zM423.4 253.2h.55v.55h-.55zM433.2 233.8h.55v.55h-.55zM423.4 256.0h.55v.55h-.55zM426.5 237.9h.55v.55h-.55zM418.7 261.5h.55v.55h-.55zM442.9 236.6h.55v.55h-.55zM415.3 243.5h.55v.55h-.55zM431.4 259.4h.55v.55h-.55zM426.8 221.2h.55v.55h-.55zM427.9 245.6h.55v.55h-.55zM427.0 243.7h.55v.55h-.55zM422.7 248.7h.55v.55h-.55zM421.8 259.6h.55v.55h-.55zM422.9 248.1h.55v.55h-.55zM427.8 253.1h.55v.55h-.55zM420.4 247.3h.55v.55h-.55zM419.6 220.3h.55v.55h-.55zM430.3 247.3h.55v.55h-.55zM432.2 239.9h.55v.55h-.55zM423.7 276.4h.55v.55h-.55zM419.4 236.9h.55v.55h-.55zM424.7 263.0h.55v.55h-.55zM430.1 240.2h.55v.55h-.55zM428.3 215.6h.55v.55h-.55zM431.4 242.8h.55v.55h-.55zM423.5 263.4h.55v.55h-.55zM419.9 255.4h.55v.55h-.55zM424.3 237.0h.55v.55h-.55zM418.3 242.5h.55v.55h-.55zM428.6 233.0h.55v.55h-.55zM414.5 264.7h.55v.55h-.55zM426.0 248.0h.55v.55h-.55zM420.4 238.5h.55v.55h-.55zM416.3 245.4h.55v.55h-.55zM435.9 243.1h.55v.55h-.55zM413.8 270.2h.55v.55h-.55zM427.7 241.3h.55v.55h-.55zM416.6 264.6h.55v.55h-.55zM424.5 252.0h.55v.55h-.55zM424.5 244.0h.55v.55h-.55zM424.6 240.4h.55v.55h-.55zM417.1 250.6h.55v.55h-.55zM428.9 248.4h.55v.55h-.55zM430.4 249.0h.55v.55h-.55zM429.3 252.5h.55v.55h-.55zM426.4 250.0h.55v.55h-.55zM420.1 250.1h.55v.55h-.55zM426.9 235.6h.55v.55h-.55zM431.3 251.9h.55v.55h-.55zM425.1 237.5h.55v.55h-.55zM420.0 247.8h.55v.55h-.55zM427.7 237.5h.55v.55h-.55zM424.9 247.0h.55v.55h-.55zM417.4 264.1h.55v.55h-.55zM428.2 252.4h.55v.55h-.55zM423.6 258.6h.55v.55h-.55zM431.7 244.0h.55v.55h-.55zM423.1 249.2h.55v.55h-.55zM424.4 240.2h.55v.55h-.55zM422.2 256.7h.55v.55h-.55zM418.5 252.5h.55v.55h-.55zM418.6 258.3h.55v.55h-.55zM422.7 253.2h.55v.55h-.55zM428.1 234.9h.55v.55h-.55zM428.4 262.2h.55v.55h-.55zM430.3 256.6h.55v.55h-.55zM423.8 253.8h.55v.55h-.55zM419.9 256.4h.55v.55h-.55zM441.3 241.0h.55v.55h-.55zM426.7 234.5h.55v.55h-.55zM420.3 239.4h.55v.55h-.55zM426.1 250.9h.55v.55h-.55zM420.8 254.5h.55v.55h-.55zM418.5 245.5h.55v.55h-.55zM433.6 246.5h.55v.55h-.55zM427.9 233.8h.55v.55h-.55zM427.9 234.4h.55v.55h-.55zM429.5 234.5h.55v.55h-.55zM427.3 267.2h.55v.55h-.55zM430.4 242.9h.55v.55h-.55zM425.9 244.0h.55v.55h-.55zM423.1 248.4h.55v.55h-.55zM430.0 247.3h.55v.55h-.55zM425.5 239.5h.55v.55h-.55zM430.9 228.9h.55v.55h-.55zM421.4 249.5h.55v.55h-.55zM427.7 224.4h.55v.55h-.55zM428.1 225.7h.55v.55h-.55zM416.5 265.7h.55v.55h-.55zM433.2 236.9h.55v.55h-.55zM425.6 255.9h.55v.55h-.55zM425.6 250.5h.55v.55h-.55zM419.8 237.8h.55v.55h-.55zM429.6 233.3h.55v.55h-.55zM430.3 232.9h.55v.55h-.55zM439.7 235.6h.55v.55h-.55zM427.5 255.9h.55v.55h-.55zM433.7 253.3h.55v.55h-.55zM428.1 237.6h.55v.55h-.55zM433.0 247.3h.55v.55h-.55zM425.5 267.2h.55v.55h-.55zM425.6 251.7h.55v.55h-.55zM423.4 253.2h.55v.55h-.55zM431.9 240.8h.55v.55h-.55zM420.6 255.2h.55v.55h-.55zM431.6 243.2h.55v.55h-.55zM421.9 261.9h.55v.55h-.55zM421.2 250.5h.55v.55h-.55zM426.1 243.5h.55v.55h-.55zM419.4 240.4h.55v.55h-.55zM429.9 242.8h.55v.55h-.55zM430.9 261.1h.55v.55h-.55zM422.9 265.9h.55v.55h-.55zM426.2 245.1h.55v.55h-.55zM431.9 247.3h.55v.55h-.55zM419.8 272.7h.55v.55h-.55zM421.0 238.0h.55v.55h-.55zM434.5 216.5h.55v.55h-.55zM424.5 243.6h.55v.55h-.55zM424.2 254.1h.55v.55h-.55zM417.4 258.0h.55v.55h-.55zM426.9 244.1h.55v.55h-.55zM420.4 265.3h.55v.55h-.55zM423.6 260.5h.55v.55h-.55zM415.1 259.0h.55v.55h-.55zM418.8 249.9h.55v.55h-.55zM436.5 238.9h.55v.55h-.55zM427.9 240.1h.55v.55h-.55zM432.2 243.8h.55v.55h-.55zM421.7 251.6h.55v.55h-.55zM418.7 263.9h.55v.55h-.55zM422.2 249.3h.55v.55h-.55zM420.5 248.2h.55v.55h-.55zM424.5 253.3h.55v.55h-.55zM422.2 236.9h.55v.55h-.55zM421.3 240.7h.55v.55h-.55zM430.6 239.3h.55v.55h-.55zM427.1 243.4h.55v.55h-.55zM424.5 248.0h.55v.55h-.55zM424.5 251.0h.55v.55h-.55zM429.1 236.8h.55v.55h-.55zM427.0 238.5h.55v.55h-.55zM432.7 265.5h.55v.55h-.55zM425.9 236.5h.55v.55h-.55zM414.0 256.2h.55v.55h-.55zM424.6 248.6h.55v.55h-.55zM425.2 263.0h.55v.55h-.55zM427.6 234.6h.55v.55h-.55zM423.5 259.0h.55v.55h-.55zM423.2 249.9h.55v.55h-.55zM427.1 219.9h.55v.55h-.55zM425.0 246.7h.55v.55h-.55zM426.0 251.5h.55v.55h-.55zM416.3 242.0h.55v.55h-.55zM427.9 247.8h.55v.55h-.55zM424.6 259.2h.55v.55h-.55zM437.1 242.2h.55v.55h-.55zM420.8 246.7h.55v.55h-.55zM428.7 247.7h.55v.55h-.55zM423.9 263.6h.55v.55h-.55zM415.1 239.5h.55v.55h-.55zM428.3 241.4h.55v.55h-.55zM425.0 272.7h.55v.55h-.55zM420.3 267.6h.55v.55h-.55zM422.2 240.0h.55v.55h-.55zM425.0 265.1h.55v.55h-.55zM434.4 255.6h.55v.55h-.55zM417.2 273.1h.55v.55h-.55zM416.7 256.6h.55v.55h-.55zM424.0 244.4h.55v.55h-.55zM428.8 252.4h.55v.55h-.55zM422.9 243.8h.55v.55h-.55zM422.9 246.4h.55v.55h-.55zM426.0 257.5h.55v.55h-.55zM418.0 249.5h.55v.55h-.55zM422.4 235.0h.55v.55h-.55zM424.6 260.4h.55v.55h-.55zM424.2 269.2h.55v.55h-.55zM426.4 251.5h.55v.55h-.55zM428.1 248.8h.55v.55h-.55zM420.3 239.0h.55v.55h-.55zM429.4 249.2h.55v.55h-.55zM425.4 220.8h.55v.55h-.55zM436.9 246.4h.55v.55h-.55zM444.1 208.0h.55v.55h-.55zM430.4 264.5h.55v.55h-.55zM431.9 229.9h.55v.55h-.55zM427.3 226.4h.55v.55h-.55zM421.2 254.1h.55v.55h-.55zM436.2 249.1h.55v.55h-.55zM424.0 241.4h.55v.55h-.55zM426.7 259.2h.55v.55h-.55zM426.6 251.8h.55v.55h-.55zM424.2 243.4h.55v.55h-.55zM418.3 255.3h.55v.55h-.55zM418.2 273.2h.55v.55h-.55zM416.4 246.0h.55v.55h-.55zM432.6 225.9h.55v.55h-.55zM424.4 247.8h.55v.55h-.55zM432.8 247.3h.55v.55h-.55zM423.8 236.2h.55v.55h-.55zM424.6 243.5h.55v.55h-.55zM432.5 252.2h.55v.55h-.55zM422.2 244.6h.55v.55h-.55zM418.5 259.4h.55v.55h-.55zM419.6 247.4h.55v.55h-.55zM428.7 259.1h.55v.55h-.55zM419.2 250.6h.55v.55h-.55zM420.3 249.0h.55v.55h-.55zM421.9 256.0h.55v.55h-.55zM426.1 256.4h.55v.55h-.55zM429.5 239.6h.55v.55h-.55zM425.6 255.6h.55v.55h-.55zM415.5 274.3h.55v.55h-.55zM423.4 240.9h.55v.55h-.55zM427.1 245.0h.55v.55h-.55zM424.5 230.6h.55v.55h-.55zM413.9 246.7h.55v.55h-.55zM424.1 254.7h.55v.55h-.55zM430.4 238.3h.55v.55h-.55zM422.8 246.8h.55v.55h-.55zM423.7 252.9h.55v.55h-.55zM431.3 246.3h.55v.55h-.55zM426.2 252.8h.55v.55h-.55zM428.0 241.0h.55v.55h-.55zM424.8 247.4h.55v.55h-.55zM432.0 237.7h.55v.55h-.55zM418.7 274.8h.55v.55h-.55zM423.0 253.3h.55v.55h-.55zM433.9 238.2h.55v.55h-.55zM430.2 227.3h.55v.55h-.55zM429.0 248.3h.55v.55h-.55zM422.4 260.8h.55v.55h-.55zM426.6 250.3h.55v.55h-.55zM434.2 223.4h.55v.55h-.55zM433.5 213.6h.55v.55h-.55zM424.8 263.3h.55v.55h-.55zM427.2 247.1h.55v.55h-.55zM428.2 236.9h.55v.55h-.55zM420.6 241.8h.55v.55h-.55zM430.2 248.2h.55v.55h-.55zM421.2 255.6h.55v.55h-.55zM419.1 276.0h.55v.55h-.55zM421.8 248.3h.55v.55h-.55zM426.5 230.3h.55v.55h-.55zM423.1 255.8h.55v.55h-.55zM420.6 251.6h.55v.55h-.55zM422.9 255.1h.55v.55h-.55zM421.7 277.7h.55v.55h-.55zM417.4 259.1h.55v.55h-.55zM415.7 259.8h.55v.55h-.55zM419.6 255.4h.55v.55h-.55zM431.8 246.0h.55v.55h-.55zM427.9 224.1h.55v.55h-.55zM421.4 258.4h.55v.55h-.55zM422.7 251.0h.55v.55h-.55zM417.6 269.7h.55v.55h-.55zM425.8 242.6h.55v.55h-.55zM430.9 245.3h.55v.55h-.55zM427.6 243.4h.55v.55h-.55zM418.2 270.1h.55v.55h-.55zM429.2 236.4h.55v.55h-.55zM418.9 249.6h.55v.55h-.55zM426.7 246.5h.55v.55h-.55zM419.4 245.2h.55v.55h-.55zM416.9 265.7h.55v.55h-.55zM420.2 245.5h.55v.55h-.55zM426.2 268.9h.55v.55h-.55zM434.3 230.2h.55v.55h-.55zM421.1 263.2h.55v.55h-.55zM435.4 251.7h.55v.55h-.55zM427.1 252.8h.55v.55h-.55zM435.9 224.9h.55v.55h-.55zM423.8 245.7h.55v.55h-.55zM429.5 242.9h.55v.55h-.55zM430.1 234.0h.55v.55h-.55zM422.3 234.6h.55v.55h-.55zM427.1 252.8h.55v.55h-.55zM430.1 251.7h.55v.55h-.55zM423.0 254.4h.55v.55h-.55zM424.1 234.2h.55v.55h-.55zM423.5 237.4h.55v.55h-.55zM418.5 267.1h.55v.55h-.55zM432.0 245.0h.55v.55h-.55zM421.1 258.4h.55v.55h-.55zM422.0 255.8h.55v.55h-.55zM421.5 251.2h.55v.55h-.55zM423.7 252.1h.55v.55h-.55zM422.2 253.2h.55v.55h-.55zM424.1 246.7h.55v.55h-.55zM422.1 243.2h.55v.55h-.55zM426.8 237.0h.55v.55h-.55zM433.5 238.4h.55v.55h-.55zM433.2 249.8h.55v.55h-.55zM421.9 257.8h.55v.55h-.55zM420.3 254.8h.55v.55h-.55zM426.2 249.1h.55v.55h-.55zM427.9 248.4h.55v.55h-.55zM430.7 242.4h.55v.55h-.55zM421.3 264.4h.55v.55h-.55zM416.5 265.1h.55v.55h-.55zM417.7 257.4h.55v.55h-.55zM423.9 243.2h.55v.55h-.55zM425.1 248.5h.55v.55h-.55zM426.4 224.9h.55v.55h-.55zM422.8 269.5h.55v.55h-.55zM425.1 238.2h.55v.55h-.55zM428.4 251.8h.55v.55h-.55zM427.4 234.2h.55v.55h-.55zM424.7 250.0h.55v.55h-.55zM424.5 271.3h.55v.55h-.55zM422.2 268.5h.55v.55h-.55zM425.6 222.7h.55v.55h-.55zM418.7 247.8h.55v.55h-.55zM431.9 260.4h.55v.55h-.55zM419.7 238.8h.55v.55h-.55zM432.2 232.0h.55v.55h-.55zM421.4 249.7h.55v.55h-.55zM426.9 255.7h.55v.55h-.55zM426.6 248.8h.55v.55h-.55zM431.2 241.4h.55v.55h-.55zM432.3 226.3h.55v.55h-.55zM423.5 257.3h.55v.55h-.55zM428.5 249.4h.55v.55h-.55zM415.1 262.6h.55v.55h-.55zM421.8 266.7h.55v.55h-.55zM414.2 267.1h.55v.55h-.55zM415.9 248.3h.55v.55h-.55zM428.8 236.8h.55v.55h-.55zM435.9 232.5h.55v.55h-.55zM438.1 236.5h.55v.55h-.55zM425.4 252.6h.55v.55h-.55zM420.9 249.7h.55v.55h-.55zM425.4 257.9h.55v.55h-.55zM417.2 256.6h.55v.55h-.55zM413.9 257.1h.55v.55h-.55zM428.7 230.7h.55v.55h-.55zM422.7 261.7h.55v.55h-.55zM427.2 263.8h.55v.55h-.55zM416.5 265.6h.55v.55h-.55zM420.7 237.9h.55v.55h-.55zM424.6 236.6h.55v.55h-.55zM417.7 271.1h.55v.55h-.55zM426.7 250.2h.55v.55h-.55zM422.9 237.1h.55v.55h-.55zM428.3 231.3h.55v.55h-.55zM426.7 249.1h.55v.55h-.55zM424.9 239.7h.55v.55h-.55zM431.8 241.9h.55v.55h-.55zM417.6 249.4h.55v.55h-.55zM433.5 228.2h.55v.55h-.55zM419.3 251.8h.55v.55h-.55zM426.1 234.4h.55v.55h-.55zM422.7 246.8h.55v.55h-.55zM429.3 257.6h.55v.55h-.55zM415.5 253.6h.55v.55h-.55zM423.2 248.7h.55v.55h-.55zM424.2 245.4h.55v.55h-.55zM428.5 248.8h.55v.55h-.55zM422.7 253.5h.55v.55h-.55zM423.6 254.5h.55v.55h-.55zM426.2 255.0h.55v.55h-.55zM435.4 232.9h.55v.55h-.55zM427.7 240.1h.55v.55h-.55zM424.8 237.2h.55v.55h-.55zM426.4 237.6h.55v.55h-.55zM419.0 262.8h.55v.55h-.55zM423.3 267.6h.55v.55h-.55zM420.6 259.4h.55v.55h-.55zM421.1 229.3h.55v.55h-.55zM430.5 231.6h.55v.55h-.55zM419.2 245.9h.55v.55h-.55zM423.4 265.6h.55v.55h-.55zM431.3 241.7h.55v.55h-.55zM435.7 243.2h.55v.55h-.55zM420.9 243.8h.55v.55h-.55zM420.1 242.7h.55v.55h-.55zM420.0 252.3h.55v.55h-.55zM418.8 243.4h.55v.55h-.55zM427.6 238.3h.55v.55h-.55zM423.4 267.1h.55v.55h-.55zM431.9 251.7h.55v.55h-.55zM423.7 242.9h.55v.55h-.55zM420.3 248.2h.55v.55h-.55zM428.2 251.0h.55v.55h-.55zM419.1 242.7h.55v.55h-.55zM424.6 263.5h.55v.55h-.55zM422.7 244.0h.55v.55h-.55zM423.6 236.7h.55v.55h-.55zM430.5 246.5h.55v.55h-.55zM423.5 248.3h.55v.55h-.55zM424.2 261.2h.55v.55h-.55zM421.7 262.5h.55v.55h-.55zM423.6 244.2h.55v.55h-.55zM420.2 248.7h.55v.55h-.55zM430.9 236.9h.55v.55h-.55zM431.2 239.8h.55v.55h-.55zM430.9 242.8h.55v.55h-.55zM444.8 224.8h.55v.55h-.55zM430.4 246.2h.55v.55h-.55zM415.6 261.3h.55v.55h-.55zM436.3 233.6h.55v.55h-.55zM424.7 252.0h.55v.55h-.55zM422.1 264.5h.55v.55h-.55zM426.0 262.7h.55v.55h-.55zM429.5 259.1h.55v.55h-.55zM427.8 226.1h.55v.55h-.55zM430.2 236.7h.55v.55h-.55zM419.7 259.6h.55v.55h-.55zM432.2 243.3h.55v.55h-.55zM428.2 243.1h.55v.55h-.55zM424.7 274.5h.55v.55h-.55zM416.0 254.4h.55v.55h-.55zM425.9 233.0h.55v.55h-.55zM419.0 247.3h.55v.55h-.55zM417.9 238.0h.55v.55h-.55zM433.9 219.2h.55v.55h-.55zM431.4 231.1h.55v.55h-.55zM433.9 230.5h.55v.55h-.55zM423.5 254.4h.55v.55h-.55zM423.3 241.9h.55v.55h-.55zM425.1 237.3h.55v.55h-.55zM418.6 259.9h.55v.55h-.55zM420.5 245.8h.55v.55h-.55zM421.3 256.8h.55v.55h-.55zM425.4 251.7h.55v.55h-.55zM427.9 249.9h.55v.55h-.55zM421.3 249.8h.55v.55h-.55zM440.7 232.4h.55v.55h-.55zM421.9 250.8h.55v.55h-.55zM423.2 232.3h.55v.55h-.55zM421.8 254.4h.55v.55h-.55zM426.4 242.7h.55v.55h-.55zM420.8 263.7h.55v.55h-.55zM423.8 245.1h.55v.55h-.55zM427.0 243.3h.55v.55h-.55zM426.4 269.6h.55v.55h-.55zM423.4 246.9h.55v.55h-.55zM420.8 254.1h.55v.55h-.55zM429.0 247.6h.55v.55h-.55zM428.4 249.0h.55v.55h-.55zM429.2 247.5h.55v.55h-.55zM417.0 260.3h.55v.55h-.55zM420.4 248.1h.55v.55h-.55zM430.7 232.5h.55v.55h-.55zM426.3 252.2h.55v.55h-.55zM422.3 275.1h.55v.55h-.55zM415.1 262.6h.55v.55h-.55zM430.9 233.6h.55v.55h-.55zM413.3 252.8h.55v.55h-.55zM423.1 247.3h.55v.55h-.55zM425.2 245.7h.55v.55h-.55zM420.0 244.6h.55v.55h-.55zM428.5 219.4h.55v.55h-.55zM422.6 247.5h.55v.55h-.55zM421.5 251.1h.55v.55h-.55zM423.7 254.2h.55v.55h-.55zM425.5 249.7h.55v.55h-.55zM422.3 253.1h.55v.55h-.55zM432.7 249.7h.55v.55h-.55zM428.9 254.2h.55v.55h-.55zM423.4 234.8h.55v.55h-.55zM418.8 232.8h.55v.55h-.55zM427.5 248.7h.55v.55h-.55zM433.1 220.3h.55v.55h-.55zM429.9 263.4h.55v.55h-.55zM428.7 240.9h.55v.55h-.55zM424.1 243.7h.55v.55h-.55zM423.9 241.5h.55v.55h-.55zM422.4 246.4h.55v.55h-.55zM419.2 264.2h.55v.55h-.55zM413.8 269.9h.55v.55h-.55zM432.2 229.6h.55v.55h-.55zM423.0 237.5h.55v.55h-.55zM433.3 248.7h.55v.55h-.55zM423.2 257.2h.55v.55h-.55zM417.8 242.5h.55v.55h-.55zM421.9 240.0h.55v.55h-.55zM425.5 245.3h.55v.55h-.55zM423.1 251.1h.55v.55h-.55zM421.3 252.2h.55v.55h-.55zM423.7 247.3h.55v.55h-.55zM420.4 250.2h.55v.55h-.55zM429.0 234.0h.55v.55h-.55zM415.8 271.6h.55v.55h-.55zM434.2 258.8h.55v.55h-.55zM425.4 249.3h.55v.55h-.55zM428.1 251.6h.55v.55h-.55zM422.3 251.4h.55v.55h-.55zM425.8 228.8h.55v.55h-.55zM432.5 230.9h.55v.55h-.55zM423.8 242.5h.55v.55h-.55zM423.8 255.5h.55v.55h-.55zM426.2 234.8h.55v.55h-.55zM422.9 242.5h.55v.55h-.55zM414.7 263.0h.55v.55h-.55zM425.8 254.3h.55v.55h-.55zM432.6 234.1h.55v.55h-.55zM423.9 255.5h.55v.55h-.55zM426.6 253.8h.55v.55h-.55zM432.6 237.7h.55v.55h-.55zM428.7 244.0h.55v.55h-.55zM427.2 275.1h.55v.55h-.55zM420.7 249.2h.55v.55h-.55zM420.9 228.8h.55v.55h-.55zM428.2 261.0h.55v.55h-.55zM416.8 257.4h.55v.55h-.55zM425.6 231.5h.55v.55h-.55zM423.3 253.8h.55v.55h-.55zM431.3 228.3h.55v.55h-.55zM418.2 273.4h.55v.55h-.55zM426.9 238.5h.55v.55h-.55zM431.8 244.8h.55v.55h-.55zM426.6 242.4h.55v.55h-.55zM429.2 239.3h.55v.55h-.55zM423.1 256.0h.55v.55h-.55zM414.8 253.7h.55v.55h-.55zM422.0 238.7h.55v.55h-.55zM416.6 244.8h.55v.55h-.55zM420.1 248.2h.55v.55h-.55zM413.9 267.3h.55v.55h-.55zM428.9 249.1h.55v.55h-.55zM430.4 231.4h.55v.55h-.55zM431.0 239.0h.55v.55h-.55zM427.4 246.3h.55v.55h-.55zM424.6 238.7h.55v.55h-.55zM428.9 227.8h.55v.55h-.55zM432.8 235.3h.55v.55h-.55zM428.3 231.7h.55v.55h-.55zM452.9 233.4h.55v.55h-.55zM446.0 234.8h.55v.55h-.55zM454.3 237.0h.55v.55h-.55zM450.8 221.7h.55v.55h-.55zM448.8 231.7h.55v.55h-.55zM444.8 238.0h.55v.55h-.55zM448.6 220.2h.55v.55h-.55zM432.0 241.8h.55v.55h-.55zM451.4 232.2h.55v.55h-.55zM441.5 234.2h.55v.55h-.55zM445.2 240.4h.55v.55h-.55zM436.5 233.3h.55v.55h-.55zM456.7 225.2h.55v.55h-.55zM444.8 231.0h.55v.55h-.55zM456.4 217.5h.55v.55h-.55zM449.7 223.3h.55v.55h-.55zM438.1 219.5h.55v.55h-.55zM441.6 231.4h.55v.55h-.55zM446.7 236.9h.55v.55h-.55zM435.4 242.4h.55v.55h-.55zM449.2 232.2h.55v.55h-.55zM453.4 224.3h.55v.55h-.55zM450.8 229.5h.55v.55h-.55zM461.8 218.0h.55v.55h-.55zM450.4 235.6h.55v.55h-.55zM441.2 232.2h.55v.55h-.55zM426.7 241.2h.55v.55h-.55zM450.8 237.3h.55v.55h-.55zM436.9 226.2h.55v.55h-.55zM441.3 241.2h.55v.55h-.55zM435.4 230.3h.55v.55h-.55zM435.8 223.8h.55v.55h-.55zM439.6 225.6h.55v.55h-.55zM449.4 230.7h.55v.55h-.55zM445.9 239.9h.55v.55h-.55zM452.4 226.6h.55v.55h-.55zM454.7 230.4h.55v.55h-.55zM456.4 235.7h.55v.55h-.55zM453.2 226.4h.55v.55h-.55zM435.8 221.8h.55v.55h-.55zM433.9 252.2h.55v.55h-.55zM448.5 219.7h.55v.55h-.55zM443.6 236.2h.55v.55h-.55zM441.5 230.3h.55v.55h-.55zM437.8 231.3h.55v.55h-.55zM454.0 233.4h.55v.55h-.55zM442.6 234.0h.55v.55h-.55zM459.2 230.3h.55v.55h-.55zM437.0 246.4h.55v.55h-.55zM443.3 231.2h.55v.55h-.55zM442.2 242.1h.55v.55h-.55zM446.4 233.5h.55v.55h-.55zM451.8 224.4h.55v.55h-.55zM435.1 230.8h.55v.55h-.55zM450.1 225.5h.55v.55h-.55zM457.7 221.9h.55v.55h-.55zM430.7 227.0h.55v.55h-.55zM449.9 229.4h.55v.55h-.55zM437.5 237.5h.55v.55h-.55zM449.0 230.2h.55v.55h-.55zM454.2 224.9h.55v.55h-.55zM446.2 230.7h.55v.55h-.55zM459.0 225.8h.55v.55h-.55zM436.0 231.5h.55v.55h-.55zM443.7 228.8h.55v.55h-.55zM431.0 251.7h.55v.55h-.55zM449.5 228.0h.55v.55h-.55zM436.4 238.4h.55v.55h-.55zM462.6 222.1h.55v.55h-.55zM441.6 222.1h.55v.55h-.55zM436.9 242.3h.55v.55h-.55zM432.6 240.6h.55v.55h-.55zM444.0 245.1h.55v.55h-.55zM437.2 235.9h.55v.55h-.55zM427.2 237.6h.55v.55h-.55zM436.2 237.6h.55v.55h-.55zM429.3 239.8h.55v.55h-.55zM459.5 234.1h.55v.55h-.55zM438.6 240.3h.55v.55h-.55zM428.4 242.4h.55v.55h-.55zM449.0 231.5h.55v.55h-.55zM442.5 232.4h.55v.55h-.55zM440.6 235.6h.55v.55h-.55zM450.4 233.3h.55v.55h-.55zM450.1 218.8h.55v.55h-.55zM447.5 240.0h.55v.55h-.55zM443.4 231.4h.55v.55h-.55zM433.7 244.6h.55v.55h-.55zM441.9 212.1h.55v.55h-.55zM455.1 222.8h.55v.55h-.55zM440.1 240.6h.55v.55h-.55zM443.9 222.8h.55v.55h-.55zM427.8 240.8h.55v.55h-.55zM447.9 219.5h.55v.55h-.55zM439.7 234.0h.55v.55h-.55zM441.8 236.7h.55v.55h-.55zM439.7 222.1h.55v.55h-.55zM455.8 229.6h.55v.55h-.55zM450.3 214.0h.55v.55h-.55zM440.8 239.4h.55v.55h-.55zM434.2 237.6h.55v.55h-.55zM459.7 215.2h.55v.55h-.55zM467.0 224.3h.55v.55h-.55zM442.1 237.7h.55v.55h-.55zM434.3 234.0h.55v.55h-.55zM461.0 239.0h.55v.55h-.55zM447.1 231.6h.55v.55h-.55zM436.0 247.6h.55v.55h-.55zM443.0 223.1h.55v.55h-.55zM441.3 235.9h.55v.55h-.55zM441.6 219.3h.55v.55h-.55zM452.7 236.0h.55v.55h-.55zM448.0 222.6h.55v.55h-.55zM452.6 237.7h.55v.55h-.55zM434.8 232.8h.55v.55h-.55zM451.9 224.6h.55v.55h-.55zM439.8 229.3h.55v.55h-.55zM429.8 244.6h.55v.55h-.55zM443.1 235.3h.55v.55h-.55zM432.3 229.3h.55v.55h-.55zM423.3 236.7h.55v.55h-.55zM440.3 241.4h.55v.55h-.55zM429.9 247.8h.55v.55h-.55zM443.6 236.9h.55v.55h-.55zM438.6 247.2h.55v.55h-.55zM441.1 228.0h.55v.55h-.55zM443.4 208.6h.55v.55h-.55zM442.2 245.3h.55v.55h-.55zM434.3 228.1h.55v.55h-.55zM444.2 231.2h.55v.55h-.55zM446.6 223.2h.55v.55h-.55zM444.3 215.8h.55v.55h-.55zM447.6 217.2h.55v.55h-.55zM433.9 223.9h.55v.55h-.55zM459.1 211.5h.55v.55h-.55zM447.1 223.3h.55v.55h-.55zM446.5 227.1h.55v.55h-.55zM458.8 234.2h.55v.55h-.55zM420.1 245.0h.55v.55h-.55zM443.8 233.9h.55v.55h-.55zM461.7 230.3h.55v.55h-.55zM443.2 223.3h.55v.55h-.55zM441.7 231.0h.55v.55h-.55zM449.3 223.9h.55v.55h-.55zM451.8 233.8h.55v.55h-.55zM434.6 240.3h.55v.55h-.55zM440.3 228.8h.55v.55h-.55zM442.6 224.9h.55v.55h-.55zM434.1 250.0h.55v.55h-.55zM436.3 223.8h.55v.55h-.55zM442.3 223.9h.55v.55h-.55zM442.1 241.1h.55v.55h-.55zM445.0 225.8h.55v.55h-.55zM436.5 228.1h.55v.55h-.55zM454.8 217.4h.55v.55h-.55zM450.0 221.8h.55v.55h-.55zM438.3 237.3h.55v.55h-.55zM449.5 233.5h.55v.55h-.55zM452.5 235.5h.55v.55h-.55zM428.1 238.6h.55v.55h-.55zM433.0 217.7h.55v.55h-.55zM431.0 239.9h.55v.55h-.55zM433.3 238.2h.55v.55h-.55zM442.9 238.0h.55v.55h-.55zM443.1 240.5h.55v.55h-.55zM435.4 241.9h.55v.55h-.55zM420.5 228.8h.55v.55h-.55zM414.2 243.0h.55v.55h-.55zM444.3 241.3h.55v.55h-.55zM433.4 235.4h.55v.55h-.55zM438.5 237.2h.55v.55h-.55zM447.3 227.9h.55v.55h-.55zM443.0 222.7h.55v.55h-.55zM442.7 238.1h.55v.55h-.55zM450.3 223.2h.55v.55h-.55zM433.9 235.3h.55v.55h-.55zM433.5 230.6h.55v.55h-.55zM439.5 234.0h.55v.55h-.55zM457.6 221.6h.55v.55h-.55zM454.7 222.1h.55v.55h-.55zM448.1 241.3h.55v.55h-.55zM443.9 233.5h.55v.55h-.55zM451.4 231.2h.55v.55h-.55zM430.4 231.9h.55v.55h-.55zM445.8 211.1h.55v.55h-.55zM441.0 232.6h.55v.55h-.55zM436.5 230.5h.55v.55h-.55zM438.1 232.7h.55v.55h-.55zM440.6 237.7h.55v.55h-.55zM425.6 227.9h.55v.55h-.55zM440.6 241.3h.55v.55h-.55zM428.8 232.8h.55v.55h-.55zM442.2 237.7h.55v.55h-.55zM436.7 231.1h.55v.55h-.55zM431.7 241.5h.55v.55h-.55zM417.9 245.1h.55v.55h-.55zM442.8 236.8h.55v.55h-.55zM433.3 250.0h.55v.55h-.55zM444.8 228.0h.55v.55h-.55zM449.7 231.7h.55v.55h-.55zM440.2 221.4h.55v.55h-.55zM458.2 232.0h.55v.55h-.55zM449.0 215.2h.55v.55h-.55zM440.9 246.4h.55v.55h-.55zM452.3 243.6h.55v.55h-.55zM452.8 230.2h.55v.55h-.55zM445.8 244.3h.55v.55h-.55zM439.8 224.1h.55v.55h-.55zM436.1 236.0h.55v.55h-.55zM441.0 232.2h.55v.55h-.55zM429.9 222.0h.55v.55h-.55zM435.8 240.4h.55v.55h-.55zM434.5 234.7h.55v.55h-.55zM448.2 224.9h.55v.55h-.55zM431.0 242.9h.55v.55h-.55zM440.3 226.9h.55v.55h-.55zM458.1 228.1h.55v.55h-.55zM461.1 227.9h.55v.55h-.55zM463.1 217.1h.55v.55h-.55zM443.6 222.1h.55v.55h-.55zM451.2 215.6h.55v.55h-.55zM437.9 230.3h.55v.55h-.55zM448.8 229.2h.55v.55h-.55zM458.4 226.1h.55v.55h-.55zM428.0 224.9h.55v.55h-.55zM440.5 239.4h.55v.55h-.55zM448.3 215.8h.55v.55h-.55zM445.1 229.9h.55v.55h-.55zM451.5 222.2h.55v.55h-.55zM443.1 226.3h.55v.55h-.55zM428.0 240.8h.55v.55h-.55zM435.1 225.6h.55v.55h-.55zM465.5 222.9h.55v.55h-.55zM462.0 221.2h.55v.55h-.55zM430.4 237.7h.55v.55h-.55zM454.0 237.4h.55v.55h-.55zM441.3 226.9h.55v.55h-.55zM450.4 221.9h.55v.55h-.55zM445.7 224.8h.55v.55h-.55zM441.8 237.0h.55v.55h-.55zM449.3 227.6h.55v.55h-.55zM454.2 230.8h.55v.55h-.55zM440.1 234.7h.55v.55h-.55zM451.9 218.4h.55v.55h-.55zM436.6 236.4h.55v.55h-.55zM431.7 250.5h.55v.55h-.55zM437.0 241.5h.55v.55h-.55zM449.9 222.1h.55v.55h-.55zM444.8 227.8h.55v.55h-.55zM440.8 229.5h.55v.55h-.55zM445.2 233.5h.55v.55h-.55zM451.7 212.4h.55v.55h-.55zM442.1 223.0h.55v.55h-.55zM455.4 228.0h.55v.55h-.55zM451.4 216.8h.55v.55h-.55zM470.2 209.3h.55v.55h-.55zM453.4 219.6h.55v.55h-.55zM458.7 220.5h.55v.55h-.55zM443.2 231.2h.55v.55h-.55zM442.7 232.6h.55v.55h-.55zM458.7 223.5h.55v.55h-.55zM441.1 226.0h.55v.55h-.55zM450.7 231.0h.55v.55h-.55zM450.8 236.0h.55v.55h-.55zM450.3 244.2h.55v.55h-.55zM450.6 226.0h.55v.55h-.55zM434.0 232.9h.55v.55h-.55zM453.6 227.1h.55v.55h-.55zM448.3 242.3h.55v.55h-.55zM450.8 237.4h.55v.55h-.55zM436.0 229.9h.55v.55h-.55zM455.9 224.0h.55v.55h-.55zM451.0 229.1h.55v.55h-.55zM447.7 225.5h.55v.55h-.55zM448.4 226.0h.55v.55h-.55zM446.4 229.4h.55v.55h-.55zM446.4 213.7h.55v.55h-.55zM446.7 236.5h.55v.55h-.55zM442.2 242.6h.55v.55h-.55zM445.1 239.0h.55v.55h-.55zM437.2 231.2h.55v.55h-.55zM457.1 229.3h.55v.55h-.55zM443.3 231.0h.55v.55h-.55zM431.8 248.0h.55v.55h-.55zM429.5 236.1h.55v.55h-.55zM449.4 225.6h.55v.55h-.55zM441.5 236.0h.55v.55h-.55zM450.1 219.2h.55v.55h-.55zM448.7 218.2h.55v.55h-.55zM442.1 243.8h.55v.55h-.55zM447.6 238.0h.55v.55h-.55zM428.2 233.8h.55v.55h-.55zM451.4 239.0h.55v.55h-.55zM430.5 239.1h.55v.55h-.55zM455.8 227.0h.55v.55h-.55zM457.6 226.1h.55v.55h-.55zM442.3 224.4h.55v.55h-.55zM435.1 243.3h.55v.55h-.55zM416.9 245.2h.55v.55h-.55zM446.0 218.5h.55v.55h-.55zM443.4 233.8h.55v.55h-.55zM438.6 230.1h.55v.55h-.55zM434.5 227.1h.55v.55h-.55zM444.8 228.0h.55v.55h-.55zM436.4 238.2h.55v.55h-.55zM443.0 237.3h.55v.55h-.55zM444.8 222.2h.55v.55h-.55zM439.2 233.7h.55v.55h-.55zM430.2 238.4h.55v.55h-.55zM452.4 229.4h.55v.55h-.55zM448.1 238.3h.55v.55h-.55zM471.8 219.3h.55v.55h-.55zM434.7 251.2h.55v.55h-.55zM459.8 220.7h.55v.55h-.55zM449.0 221.4h.55v.55h-.55zM439.5 243.2h.55v.55h-.55zM444.7 236.4h.55v.55h-.55zM451.7 218.2h.55v.55h-.55zM434.3 239.3h.55v.55h-.55zM441.5 219.7h.55v.55h-.55zM446.1 236.5h.55v.55h-.55zM442.2 234.0h.55v.55h-.55zM441.2 235.4h.55v.55h-.55zM436.8 230.5h.55v.55h-.55zM443.8 236.5h.55v.55h-.55zM447.0 234.6h.55v.55h-.55zM448.3 221.3h.55v.55h-.55zM435.5 236.0h.55v.55h-.55zM453.8 219.5h.55v.55h-.55zM455.9 232.2h.55v.55h-.55zM472.8 207.0h.55v.55h-.55zM440.8 227.9h.55v.55h-.55zM430.5 250.3h.55v.55h-.55zM439.0 220.4h.55v.55h-.55zM437.6 233.7h.55v.55h-.55zM432.8 231.3h.55v.55h-.55zM446.9 230.9h.55v.55h-.55zM423.1 245.5h.55v.55h-.55zM443.3 242.2h.55v.55h-.55zM463.6 225.2h.55v.55h-.55zM447.4 223.5h.55v.55h-.55zM434.5 225.4h.55v.55h-.55zM431.1 249.1h.55v.55h-.55zM451.9 226.4h.55v.55h-.55zM461.5 227.0h.55v.55h-.55zM440.5 227.8h.55v.55h-.55zM434.1 230.7h.55v.55h-.55zM433.9 235.9h.55v.55h-.55zM431.5 237.1h.55v.55h-.55zM444.1 238.3h.55v.55h-.55zM455.5 231.6h.55v.55h-.55zM444.0 225.5h.55v.55h-.55zM434.4 234.6h.55v.55h-.55zM446.7 231.5h.55v.55h-.55zM459.7 221.0h.55v.55h-.55zM451.3 230.0h.55v.55h-.55zM438.0 235.7h.55v.55h-.55zM433.0 235.6h.55v.55h-.55zM452.4 236.5h.55v.55h-.55zM422.3 233.2h.55v.55h-.55zM442.4 245.0h.55v.55h-.55zM432.0 233.3h.55v.55h-.55zM452.2 225.8h.55v.55h-.55zM442.1 233.7h.55v.55h-.55zM461.9 225.2h.55v.55h-.55zM456.1 227.8h.55v.55h-.55zM449.9 236.4h.55v.55h-.55zM440.7 238.0h.55v.55h-.55zM438.1 237.8h.55v.55h-.55zM451.6 221.4h.55v.55h-.55zM459.1 228.4h.55v.55h-.55zM457.4 231.8h.55v.55h-.55zM437.8 217.2h.55v.55h-.55zM428.7 242.2h.55v.55h-.55zM440.8 218.7h.55v.55h-.55zM423.8 236.9h.55v.55h-.55zM439.6 226.3h.55v.55h-.55zM438.4 247.6h.55v.55h-.55zM449.9 222.4h.55v.55h-.55zM454.4 215.3h.55v.55h-.55zM437.7 229.0h.55v.55h-.55zM446.3 236.0h.55v.55h-.55zM435.9 229.1h.55v.55h-.55zM447.2 233.1h.55v.55h-.55zM443.6 226.2h.55v.55h-.55zM453.7 232.1h.55v.55h-.55zM453.9 225.6h.55v.55h-.55zM457.0 236.2h.55v.55h-.55zM432.7 237.2h.55v.55h-.55zM442.5 232.6h.55v.55h-.55zM447.4 211.2h.55v.55h-.55zM455.6 221.8h.55v.55h-.55zM440.0 218.4h.55v.55h-.55zM460.0 212.7h.55v.55h-.55zM446.2 226.0h.55v.55h-.55zM469.1 209.1h.55v.55h-.55zM426.1 232.3h.55v.55h-.55zM447.8 236.8h.55v.55h-.55zM454.7 228.1h.55v.55h-.55zM457.4 219.0h.55v.55h-.55zM437.5 238.3h.55v.55h-.55zM450.5 234.3h.55v.55h-.55zM446.3 238.6h.55v.55h-.55zM434.1 235.6h.55v.55h-.55zM434.0 234.5h.55v.55h-.55zM433.9 239.6h.55v.55h-.55zM446.9 213.5h.55v.55h-.55zM427.6 237.5h.55v.55h-.55zM444.7 235.2h.55v.55h-.55zM444.2 235.1h.55v.55h-.55zM436.6 218.4h.55v.55h-.55zM437.8 231.5h.55v.55h-.55zM459.6 228.6h.55v.55h-.55zM438.5 233.5h.55v.55h-.55zM458.4 218.3h.55v.55h-.55zM465.7 207.1h.55v.55h-.55zM438.9 216.2h.55v.55h-.55zM448.0 225.9h.55v.55h-.55zM442.0 241.3h.55v.55h-.55zM438.9 231.6h.55v.55h-.55zM449.1 241.2h.55v.55h-.55zM452.8 221.6h.55v.55h-.55zM456.9 213.1h.55v.55h-.55zM447.1 225.2h.55v.55h-.55zM438.4 244.0h.55v.55h-.55zM443.1 217.0h.55v.55h-.55zM458.0 228.0h.55v.55h-.55zM452.1 225.4h.55v.55h-.55zM455.6 224.5h.55v.55h-.55zM457.4 228.6h.55v.55h-.55zM434.7 247.2h.55v.55h-.55zM443.4 254.7h.55v.55h-.55zM447.8 230.2h.55v.55h-.55zM433.6 239.7h.55v.55h-.55zM444.3 229.1h.55v.55h-.55zM449.6 232.1h.55v.55h-.55zM432.2 247.3h.55v.55h-.55zM438.0 230.7h.55v.55h-.55zM437.2 246.1h.55v.55h-.55zM439.4 233.5h.55v.55h-.55zM443.5 232.9h.55v.55h-.55zM438.7 237.2h.55v.55h-.55zM445.1 237.4h.55v.55h-.55zM445.1 227.4h.55v.55h-.55zM449.1 229.1h.55v.55h-.55zM437.5 240.4h.55v.55h-.55zM454.0 216.8h.55v.55h-.55zM445.7 234.1h.55v.55h-.55zM425.8 241.5h.55v.55h-.55zM453.4 237.4h.55v.55h-.55zM437.4 252.6h.55v.55h-.55zM448.5 225.8h.55v.55h-.55zM442.8 221.4h.55v.55h-.55zM439.2 241.7h.55v.55h-.55zM449.7 220.8h.55v.55h-.55zM432.6 236.7h.55v.55h-.55zM459.8 220.0h.55v.55h-.55zM464.4 225.0h.55v.55h-.55zM455.6 221.7h.55v.55h-.55zM449.9 238.9h.55v.55h-.55zM428.8 233.8h.55v.55h-.55zM443.9 208.3h.55v.55h-.55zM450.8 229.4h.55v.55h-.55zM424.8 249.0h.55v.55h-.55zM441.0 237.1h.55v.55h-.55zM435.9 236.7h.55v.55h-.55zM461.7 223.5h.55v.55h-.55zM429.9 247.3h.55v.55h-.55zM452.7 228.4h.55v.55h-.55zM462.0 226.9h.55v.55h-.55zM434.5 242.8h.55v.55h-.55zM454.4 225.1h.55v.55h-.55zM437.7 244.8h.55v.55h-.55zM458.2 243.5h.55v.55h-.55zM443.4 240.5h.55v.55h-.55zM436.8 238.5h.55v.55h-.55zM446.7 229.5h.55v.55h-.55zM432.6 241.3h.55v.55h-.55zM449.8 239.1h.55v.55h-.55zM451.8 226.9h.55v.55h-.55zM444.6 246.1h.55v.55h-.55zM439.4 221.8h.55v.55h-.55zM449.9 226.2h.55v.55h-.55zM463.3 221.5h.55v.55h-.55zM423.1 229.8h.55v.55h-.55zM435.4 264.0h.55v.55h-.55zM462.2 226.1h.55v.55h-.55zM425.5 236.5h.55v.55h-.55zM424.7 244.8h.55v.55h-.55zM431.8 255.3h.55v.55h-.55zM413.3 251.0h.55v.55h-.55zM440.8 254.1h.55v.55h-.55zM437.5 247.0h.55v.55h-.55zM438.8 237.7h.55v.55h-.55zM441.0 233.4h.55v.55h-.55zM460.4 236.2h.55v.55h-.55zM433.7 250.8h.55v.55h-.55zM414.6 270.9h.55v.55h-.55zM427.6 241.1h.55v.55h-.55zM446.4 226.7h.55v.55h-.55zM462.6 225.3h.55v.55h-.55zM433.8 219.2h.55v.55h-.55zM433.0 260.5h.55v.55h-.55zM448.1 240.2h.55v.55h-.55zM455.8 208.4h.55v.55h-.55zM450.5 218.8h.55v.55h-.55zM430.2 235.3h.55v.55h-.55zM429.4 272.1h.55v.55h-.55zM421.0 223.7h.55v.55h-.55zM453.4 235.1h.55v.55h-.55zM454.3 203.3h.55v.55h-.55zM435.7 213.8h.55v.55h-.55zM450.4 250.1h.55v.55h-.55zM455.3 230.3h.55v.55h-.55zM452.9 223.9h.55v.55h-.55zM451.5 239.3h.55v.55h-.55zM421.6 239.4h.55v.55h-.55zM447.8 204.2h.55v.55h-.55zM442.9 247.7h.55v.55h-.55zM435.1 249.6h.55v.55h-.55zM440.1 214.9h.55v.55h-.55zM421.9 240.3h.55v.55h-.55zM443.4 246.0h.55v.55h-.55zM437.0 234.8h.55v.55h-.55zM446.2 230.1h.55v.55h-.55zM457.6 242.4h.55v.55h-.55zM443.4 229.2h.55v.55h-.55zM449.4 219.9h.55v.55h-.55zM457.1 231.4h.55v.55h-.55zM452.9 244.9h.55v.55h-.55zM414.3 247.3h.55v.55h-.55zM452.9 207.8h.55v.55h-.55zM420.4 238.9h.55v.55h-.55zM444.2 211.2h.55v.55h-.55zM446.2 228.1h.55v.55h-.55zM454.1 242.1h.55v.55h-.55zM426.1 250.0h.55v.55h-.55zM432.2 247.5h.55v.55h-.55zM431.6 258.3h.55v.55h-.55zM428.3 227.6h.55v.55h-.55zM449.5 233.1h.55v.55h-.55zM421.6 262.8h.55v.55h-.55zM449.3 252.1h.55v.55h-.55zM447.7 241.9h.55v.55h-.55zM440.4 229.2h.55v.55h-.55zM439.8 221.7h.55v.55h-.55zM454.3 223.8h.55v.55h-.55zM433.2 244.0h.55v.55h-.55zM437.0 254.4h.55v.55h-.55zM417.1 271.1h.55v.55h-.55zM432.0 269.2h.55v.55h-.55zM447.2 254.3h.55v.55h-.55zM457.0 234.8h.55v.55h-.55zM425.2 226.4h.55v.55h-.55zM462.1 219.8h.55v.55h-.55z" fill="#000" fill-opacity="0.4"/>
<text x="405.9" y="207.3" font-size="7.1" text-anchor="end" fill="#1a1a1a" >10<tspan font-size="5.4" dx="0.25" dy="-2.98">5</tspan></text>
<text x="405.9" y="226.3" font-size="7.1" text-anchor="end" fill="#1a1a1a" >10<tspan font-size="5.4" dx="0.25" dy="-2.98">4</tspan></text>
<text x="405.9" y="245.4" font-size="7.1" text-anchor="end" fill="#1a1a1a" >10<tspan font-size="5.4" dx="0.25" dy="-2.98">3</tspan></text>
<text x="405.9" y="263.8" font-size="7.1" text-anchor="end" fill="#1a1a1a" >10<tspan font-size="5.4" dx="0.25" dy="-2.98">2</tspan></text>
<text x="405.9" y="282.3" font-size="7.1" text-anchor="end" fill="#1a1a1a" >10<tspan font-size="5.4" dx="0.25" dy="-2.98">1</tspan></text>
<path d="M409.4 204.4L412.1 204.4M409.4 223.4L412.1 223.4M409.4 242.5L412.1 242.5M409.4 260.9L412.1 260.9M409.4 279.4L412.1 279.4" stroke="#000" stroke-width="0.9" fill="none"/>
<path d="M410.9 196.7L412.1 196.7M410.9 198.6L412.1 198.6M410.9 200.5L412.1 200.5M410.9 202.4L412.1 202.4M410.9 204.3L412.1 204.3M410.9 206.2L412.1 206.2M410.9 208.1L412.1 208.1M410.9 210L412.1 210M410.9 211.9L412.1 211.9M410.9 213.8L412.1 213.8M410.9 215.7L412.1 215.7M410.9 217.6L412.1 217.6M410.9 219.5L412.1 219.5M410.9 221.4L412.1 221.4M410.9 223.3L412.1 223.3M410.9 225.2L412.1 225.2M410.9 227.1L412.1 227.1M410.9 229L412.1 229M410.9 230.9L412.1 230.9M410.9 232.8L412.1 232.8M410.9 234.7L412.1 234.7M410.9 236.6L412.1 236.6M410.9 238.5L412.1 238.5M410.9 240.4L412.1 240.4M410.9 242.3L412.1 242.3M410.9 244.2L412.1 244.2M410.9 246.1L412.1 246.1M410.9 248L412.1 248M410.9 249.9L412.1 249.9M410.9 251.8L412.1 251.8M410.9 253.7L412.1 253.7M410.9 255.6L412.1 255.6M410.9 257.5L412.1 257.5M410.9 259.4L412.1 259.4M410.9 261.3L412.1 261.3M410.9 263.2L412.1 263.2M410.9 265.1L412.1 265.1M410.9 267L412.1 267M410.9 268.9L412.1 268.9M410.9 270.8L412.1 270.8M410.9 272.7L412.1 272.7M410.9 274.6L412.1 274.6M410.9 276.5L412.1 276.5M410.9 278.4L412.1 278.4" stroke="#000" stroke-width="0.5" fill="none"/>
<text x="422.5" y="293" font-size="7.1" text-anchor="middle" fill="#1a1a1a" >10<tspan font-size="5.4" dx="0.25" dy="-2.98">2</tspan></text>
<text x="444.7" y="293" font-size="7.1" text-anchor="middle" fill="#1a1a1a" >10<tspan font-size="5.4" dx="0.25" dy="-2.98">3</tspan></text>
<text x="465.7" y="293" font-size="7.1" text-anchor="middle" fill="#1a1a1a" >10<tspan font-size="5.4" dx="0.25" dy="-2.98">4</tspan></text>
<text x="486.7" y="293" font-size="7.1" text-anchor="middle" fill="#1a1a1a" >10<tspan font-size="5.4" dx="0.25" dy="-2.98">5</tspan></text>
<path d="M422.5 279.8L422.5 282.3M443.5 279.8L443.5 282.3M464.5 279.8L464.5 282.3M485.5 279.8L485.5 282.3" stroke="#000" stroke-width="0.9" fill="none"/>
<path d="M412.1 279.8L412.1 281M414.2 279.8L414.2 281M416.3 279.8L416.3 281M418.4 279.8L418.4 281M420.5 279.8L420.5 281M422.6 279.8L422.6 281M424.7 279.8L424.7 281M426.8 279.8L426.8 281M428.9 279.8L428.9 281M431 279.8L431 281M433.1 279.8L433.1 281M435.2 279.8L435.2 281M437.3 279.8L437.3 281M439.4 279.8L439.4 281M441.5 279.8L441.5 281M443.6 279.8L443.6 281M445.7 279.8L445.7 281M447.8 279.8L447.8 281M449.9 279.8L449.9 281M452 279.8L452 281M454.1 279.8L454.1 281M456.2 279.8L456.2 281M458.3 279.8L458.3 281M460.4 279.8L460.4 281M462.5 279.8L462.5 281M464.6 279.8L464.6 281M466.7 279.8L466.7 281M468.8 279.8L468.8 281M470.9 279.8L470.9 281M473 279.8L473 281M475.1 279.8L475.1 281M477.2 279.8L477.2 281M479.3 279.8L479.3 281M481.4 279.8L481.4 281M483.5 279.8L483.5 281M485.6 279.8L485.6 281M487.7 279.8L487.7 281M489.8 279.8L489.8 281M491.9 279.8L491.9 281M494 279.8L494 281M496.1 279.8L496.1 281" stroke="#000" stroke-width="0.5" fill="none"/>
<line x1="433.4" y1="196.7" x2="433.4" y2="279.8" stroke="#6a6a6a" stroke-width="1" />
<line x1="412.1" y1="250.4" x2="496.5" y2="250.4" stroke="#6a6a6a" stroke-width="1" />
<rect x="412.1" y="196.7" width="84.4" height="83.1" fill="none" stroke="#000" stroke-width="1.5"/>
<text x="453.3" y="191.8" font-size="9.6" text-anchor="middle" font-weight="bold" fill="#000" >CCRF</text>
<text x="423.6" y="208.8" font-size="7.4" text-anchor="middle" fill="#1a1a1a" >38</text>
<text x="483.6" y="208.8" font-size="7.4" text-anchor="middle" fill="#1a1a1a" >30</text>
<text x="483.6" y="271.2" font-size="7.4" text-anchor="middle" fill="#1a1a1a" >1</text>
<text x="299" y="307.9" font-size="8.8" text-anchor="start" fill="#1a1a1a" textLength="17.3" lengthAdjust="spacingAndGlyphs" >IFN&#947;</text>
<line x1="319.4" y1="305.5" x2="471" y2="305.5" stroke="#000" stroke-width="1.1" />
<path d="M469.5,302 L478,305.5 L469.5,309 Z" fill="#000"/>
<text x="277.7" y="268.6" font-size="8.8" text-anchor="middle" fill="#1a1a1a" textLength="24" lengthAdjust="spacingAndGlyphs" transform="rotate(-90 277.7 268.6)">TNF&#945;</text>
<line x1="275.1" y1="252" x2="275.1" y2="203" stroke="#000" stroke-width="1.1" />
<path d="M271.7,204 L275.1,196.6 L278.5,204 Z" fill="#000"/>
<text x="8.4" y="336" font-size="11.5" text-anchor="start" font-weight="bold" fill="#000" >C</text>
<line x1="58" y1="364.1" x2="58" y2="463" stroke="#000" stroke-width="1.2" />
<text x="52" y="465.8" font-size="7.9" text-anchor="end" fill="#1a1a1a" >0</text>
<text x="52" y="449.57" font-size="7.9" text-anchor="end" fill="#1a1a1a" >50000</text>
<text x="52" y="433.33" font-size="7.9" text-anchor="end" fill="#1a1a1a" >100000</text>
<text x="52" y="417.1" font-size="7.9" text-anchor="end" fill="#1a1a1a" >150000</text>
<text x="52" y="400.87" font-size="7.9" text-anchor="end" fill="#1a1a1a" >200000</text>
<text x="52" y="384.63" font-size="7.9" text-anchor="end" fill="#1a1a1a" >250000</text>
<text x="52" y="368.4" font-size="7.9" text-anchor="end" fill="#1a1a1a" >300000</text>
<path d="M55.2 463L58 463M55.2 446.77L58 446.77M55.2 430.53L58 430.53M55.2 414.3L58 414.3M55.2 398.07L58 398.07M55.2 381.83L58 381.83M55.2 365.6L58 365.6" stroke="#000" stroke-width="1" fill="none"/>
<rect x="66" y="390.8" width="33" height="72.2" fill="#cd8c7d"/>
<line x1="58" y1="463" x2="154" y2="463" stroke="#000" stroke-width="1.4" />
<path d="M83 463L83 465.6M131.7 463L131.7 465.6" stroke="#000" stroke-width="1" fill="none"/>
<line x1="58" y1="450" x2="150" y2="450" stroke="#050505" stroke-width="1.3" stroke-dasharray="2.4,2.1"/>
<circle cx="82.5" cy="372.3" r="2.8" fill="#a3102b"/>
<circle cx="82.5" cy="395.4" r="2.8" fill="#a3102b"/>
<circle cx="82.5" cy="404.6" r="2.8" fill="#a3102b"/>
<path d="M122.7,460.1 L125.45,465.6 L119.95,465.6 Z" fill="#1e2a52"/>
<path d="M131.3,460.1 L134.05,465.6 L128.55,465.6 Z" fill="#1e2a52"/>
<path d="M140.3,460.1 L143.05,465.6 L137.55,465.6 Z" fill="#1e2a52"/>
<line x1="81.5" y1="364.5" x2="135.4" y2="364.5" stroke="#000" stroke-width="1.1" />
<g fill="#111"><circle cx="106.55" cy="359" r="1.05"/><circle cx="110.35" cy="359" r="1.05"/></g>
<text x="107.2" y="350.8" font-size="9.8" text-anchor="middle" font-weight="bold" fill="#000" >Jurkat</text>
<text x="83" y="477.7" font-size="8.2" text-anchor="middle" fill="#1a1a1a" >CD7<tspan font-size="5.9" dy="-3.12">KO</tspan></text>
<text x="83" y="487.8" font-size="8.2" text-anchor="middle" fill="#1a1a1a" >Ctrl CAR</text>
<text x="131.7" y="477.7" font-size="8.2" text-anchor="middle" fill="#1a1a1a" >CD7<tspan font-size="5.9" dy="-3.12">KO</tspan></text>
<text x="131.7" y="487.8" font-size="8.2" text-anchor="middle" fill="#1a1a1a" >CD7 CAR</text>
<line x1="204.8" y1="367.7" x2="204.8" y2="463" stroke="#000" stroke-width="1.2" />
<text x="198.8" y="465.8" font-size="7.9" text-anchor="end" fill="#1a1a1a" >0</text>
<text x="198.8" y="454.07" font-size="7.9" text-anchor="end" fill="#1a1a1a" >25000</text>
<text x="198.8" y="442.35" font-size="7.9" text-anchor="end" fill="#1a1a1a" >50000</text>
<text x="198.8" y="430.62" font-size="7.9" text-anchor="end" fill="#1a1a1a" >75000</text>
<text x="198.8" y="418.9" font-size="7.9" text-anchor="end" fill="#1a1a1a" >100000</text>
<text x="198.8" y="407.18" font-size="7.9" text-anchor="end" fill="#1a1a1a" >125000</text>
<text x="198.8" y="395.45" font-size="7.9" text-anchor="end" fill="#1a1a1a" >150000</text>
<text x="198.8" y="383.72" font-size="7.9" text-anchor="end" fill="#1a1a1a" >175000</text>
<text x="198.8" y="372" font-size="7.9" text-anchor="end" fill="#1a1a1a" >200000</text>
<path d="M202 463L204.8 463M202 451.27L204.8 451.27M202 439.55L204.8 439.55M202 427.82L204.8 427.82M202 416.1L204.8 416.1M202 404.38L204.8 404.38M202 392.65L204.8 392.65M202 380.92L204.8 380.92M202 369.2L204.8 369.2" stroke="#000" stroke-width="1" fill="none"/>
<rect x="212.2" y="389.2" width="31.3" height="73.8" fill="#cd8c7d"/>
<line x1="204.8" y1="463" x2="298" y2="463" stroke="#000" stroke-width="1.4" />
<path d="M228 463L228 465.6M274.5 463L274.5 465.6" stroke="#000" stroke-width="1" fill="none"/>
<line x1="204.8" y1="446.2" x2="293.8" y2="446.2" stroke="#050505" stroke-width="1.3" stroke-dasharray="2.4,2.1"/>
<circle cx="219.4" cy="385.5" r="2.8" fill="#a3102b"/>
<circle cx="227.7" cy="393.8" r="2.8" fill="#a3102b"/>
<circle cx="236.3" cy="388" r="2.8" fill="#a3102b"/>
<path d="M266.2,460.1 L268.95,465.6 L263.45,465.6 Z" fill="#1e2a52"/>
<path d="M274.5,460.1 L277.25,465.6 L271.75,465.6 Z" fill="#1e2a52"/>
<path d="M283,460.1 L285.75,465.6 L280.25,465.6 Z" fill="#1e2a52"/>
<line x1="226" y1="375.4" x2="276.3" y2="375.4" stroke="#000" stroke-width="1.1" />
<g fill="#111"><circle cx="245.45" cy="369.9" r="1.05"/><circle cx="249.25" cy="369.9" r="1.05"/><circle cx="253.05" cy="369.9" r="1.05"/><circle cx="256.85" cy="369.9" r="1.05"/></g>
<text x="251.6" y="350.6" font-size="9.8" text-anchor="middle" font-weight="bold" fill="#000" >CCRF</text>
<text x="228" y="477.7" font-size="8.2" text-anchor="middle" fill="#1a1a1a" >CD7<tspan font-size="5.9" dy="-3.12">KO</tspan></text>
<text x="228" y="487.8" font-size="8.2" text-anchor="middle" fill="#1a1a1a" >Ctrl CAR</text>
<text x="274.5" y="477.7" font-size="8.2" text-anchor="middle" fill="#1a1a1a" >CD7<tspan font-size="5.9" dy="-3.12">KO</tspan></text>
<text x="274.5" y="487.8" font-size="8.2" text-anchor="middle" fill="#1a1a1a" >CD7 CAR</text>
<line x1="352.9" y1="367.1" x2="352.9" y2="463" stroke="#000" stroke-width="1.2" />
<text x="346.9" y="465.8" font-size="7.9" text-anchor="end" fill="#1a1a1a" >0</text>
<text x="346.9" y="456.36" font-size="7.9" text-anchor="end" fill="#1a1a1a" >100000</text>
<text x="346.9" y="446.92" font-size="7.9" text-anchor="end" fill="#1a1a1a" >200000</text>
<text x="346.9" y="437.48" font-size="7.9" text-anchor="end" fill="#1a1a1a" >300000</text>
<text x="346.9" y="428.04" font-size="7.9" text-anchor="end" fill="#1a1a1a" >400000</text>
<text x="346.9" y="418.6" font-size="7.9" text-anchor="end" fill="#1a1a1a" >500000</text>
<text x="346.9" y="409.16" font-size="7.9" text-anchor="end" fill="#1a1a1a" >600000</text>
<text x="346.9" y="399.72" font-size="7.9" text-anchor="end" fill="#1a1a1a" >700000</text>
<text x="346.9" y="390.28" font-size="7.9" text-anchor="end" fill="#1a1a1a" >800000</text>
<text x="346.9" y="380.84" font-size="7.9" text-anchor="end" fill="#1a1a1a" >900000</text>
<text x="346.9" y="371.4" font-size="7.9" text-anchor="end" fill="#1a1a1a" >1000000</text>
<path d="M350.1 463L352.9 463M350.1 453.56L352.9 453.56M350.1 444.12L352.9 444.12M350.1 434.68L352.9 434.68M350.1 425.24L352.9 425.24M350.1 415.8L352.9 415.8M350.1 406.36L352.9 406.36M350.1 396.92L352.9 396.92M350.1 387.48L352.9 387.48M350.1 378.04L352.9 378.04M350.1 368.6L352.9 368.6" stroke="#000" stroke-width="1" fill="none"/>
<rect x="359.8" y="387.6" width="31.3" height="75.4" fill="#cd8c7d"/>
<line x1="352.9" y1="463" x2="445.4" y2="463" stroke="#000" stroke-width="1.4" />
<path d="M376 463L376 465.6M422.3 463L422.3 465.6" stroke="#000" stroke-width="1" fill="none"/>
<line x1="352.9" y1="457.8" x2="440.8" y2="457.8" stroke="#050505" stroke-width="1.3" stroke-dasharray="2.4,2.1"/>
<circle cx="375.7" cy="377.2" r="2.8" fill="#a3102b"/>
<circle cx="371" cy="395" r="2.8" fill="#a3102b"/>
<circle cx="379.9" cy="391" r="2.8" fill="#a3102b"/>
<path d="M413.7,460.1 L416.45,465.6 L410.95,465.6 Z" fill="#1e2a52"/>
<path d="M422.3,460.1 L425.05,465.6 L419.55,465.6 Z" fill="#1e2a52"/>
<path d="M430.9,460.1 L433.65,465.6 L428.15,465.6 Z" fill="#1e2a52"/>
<line x1="379.2" y1="364.7" x2="419.2" y2="364.7" stroke="#000" stroke-width="1.1" />
<g fill="#111"><circle cx="395.4" cy="359.2" r="1.05"/><circle cx="399.2" cy="359.2" r="1.05"/><circle cx="403" cy="359.2" r="1.05"/></g>
<text x="399.2" y="350.1" font-size="9.8" text-anchor="middle" font-weight="bold" fill="#000" >MOLT4</text>
<text x="376" y="477.7" font-size="8.2" text-anchor="middle" fill="#1a1a1a" >CD7<tspan font-size="5.9" dy="-3.12">KO</tspan></text>
<text x="376" y="487.8" font-size="8.2" text-anchor="middle" fill="#1a1a1a" >Ctrl CAR</text>
<text x="422.3" y="477.7" font-size="8.2" text-anchor="middle" fill="#1a1a1a" >CD7<tspan font-size="5.9" dy="-3.12">KO</tspan></text>
<text x="422.3" y="487.8" font-size="8.2" text-anchor="middle" fill="#1a1a1a" >CD7 CAR</text>
<line x1="58" y1="523.3" x2="58" y2="619.2" stroke="#000" stroke-width="1.2" />
<text x="52" y="622" font-size="7.9" text-anchor="end" fill="#1a1a1a" >0</text>
<text x="52" y="606.27" font-size="7.9" text-anchor="end" fill="#1a1a1a" >25000</text>
<text x="52" y="590.53" font-size="7.9" text-anchor="end" fill="#1a1a1a" >50000</text>
<text x="52" y="574.8" font-size="7.9" text-anchor="end" fill="#1a1a1a" >75000</text>
<text x="52" y="559.07" font-size="7.9" text-anchor="end" fill="#1a1a1a" >100000</text>
<text x="52" y="543.33" font-size="7.9" text-anchor="end" fill="#1a1a1a" >125000</text>
<text x="52" y="527.6" font-size="7.9" text-anchor="end" fill="#1a1a1a" >150000</text>
<path d="M55.2 619.2L58 619.2M55.2 603.47L58 603.47M55.2 587.73L58 587.73M55.2 572L58 572M55.2 556.27L58 556.27M55.2 540.53L58 540.53M55.2 524.8L58 524.8" stroke="#000" stroke-width="1" fill="none"/>
<rect x="66.2" y="546.9" width="31.6" height="72.3" fill="#cd8c7d"/>
<line x1="58" y1="619.2" x2="153" y2="619.2" stroke="#000" stroke-width="1.4" />
<path d="M81.5 619.2L81.5 621.8M128.6 619.2L128.6 621.8" stroke="#000" stroke-width="1" fill="none"/>
<line x1="58" y1="593.7" x2="146" y2="593.7" stroke="#050505" stroke-width="1.3" stroke-dasharray="2.4,2.1"/>
<circle cx="77.5" cy="538.6" r="2.8" fill="#a3102b"/>
<circle cx="85.5" cy="546" r="2.8" fill="#a3102b"/>
<circle cx="81.5" cy="555.5" r="2.8" fill="#a3102b"/>
<path d="M120.6,616.1 L123.35,621.6 L117.85,621.6 Z" fill="#1e2a52"/>
<path d="M128.6,616.1 L131.35,621.6 L125.85,621.6 Z" fill="#1e2a52"/>
<path d="M136.9,616.1 L139.65,621.6 L134.15,621.6 Z" fill="#1e2a52"/>
<line x1="77" y1="527.5" x2="133" y2="527.5" stroke="#000" stroke-width="1.1" />
<g fill="#111"><circle cx="101.2" cy="522" r="1.05"/><circle cx="105" cy="522" r="1.05"/><circle cx="108.8" cy="522" r="1.05"/></g>
<text x="104.8" y="515" font-size="9.8" text-anchor="middle" font-weight="bold" fill="#000" >SUP-T1</text>
<text x="81.5" y="633.9" font-size="8.2" text-anchor="middle" fill="#1a1a1a" >CD7<tspan font-size="5.9" dy="-3.12">KO</tspan></text>
<text x="81.5" y="644" font-size="8.2" text-anchor="middle" fill="#1a1a1a" >Ctrl CAR</text>
<text x="128.6" y="633.9" font-size="8.2" text-anchor="middle" fill="#1a1a1a" >CD7<tspan font-size="5.9" dy="-3.12">KO</tspan></text>
<text x="128.6" y="644" font-size="8.2" text-anchor="middle" fill="#1a1a1a" >CD7 CAR</text>
<line x1="204.8" y1="523" x2="204.8" y2="619.2" stroke="#000" stroke-width="1.2" />
<text x="198.8" y="622" font-size="7.9" text-anchor="end" fill="#1a1a1a" >0</text>
<text x="198.8" y="603.06" font-size="7.9" text-anchor="end" fill="#1a1a1a" >20000</text>
<text x="198.8" y="584.12" font-size="7.9" text-anchor="end" fill="#1a1a1a" >40000</text>
<text x="198.8" y="565.18" font-size="7.9" text-anchor="end" fill="#1a1a1a" >60000</text>
<text x="198.8" y="546.24" font-size="7.9" text-anchor="end" fill="#1a1a1a" >80000</text>
<text x="198.8" y="527.3" font-size="7.9" text-anchor="end" fill="#1a1a1a" >100000</text>
<path d="M202 619.2L204.8 619.2M202 600.26L204.8 600.26M202 581.32L204.8 581.32M202 562.38L204.8 562.38M202 543.44L204.8 543.44M202 524.5L204.8 524.5" stroke="#000" stroke-width="1" fill="none"/>
<rect x="212.9" y="544.5" width="30.8" height="74.7" fill="#cd8c7d"/>
<line x1="204.8" y1="619.2" x2="298.7" y2="619.2" stroke="#000" stroke-width="1.4" />
<path d="M228 619.2L228 621.8M274.5 619.2L274.5 621.8" stroke="#000" stroke-width="1" fill="none"/>
<line x1="204.8" y1="581.7" x2="293" y2="581.7" stroke="#050505" stroke-width="1.3" stroke-dasharray="2.4,2.1"/>
<circle cx="223.7" cy="536.2" r="2.8" fill="#a3102b"/>
<circle cx="232.3" cy="540.2" r="2.8" fill="#a3102b"/>
<circle cx="228.3" cy="557" r="2.8" fill="#a3102b"/>
<path d="M266.5,616.1 L269.25,621.6 L263.75,621.6 Z" fill="#1e2a52"/>
<path d="M275.2,616.1 L277.95,621.6 L272.45,621.6 Z" fill="#1e2a52"/>
<path d="M283.7,616.1 L286.45,621.6 L280.95,621.6 Z" fill="#1e2a52"/>
<line x1="224" y1="528.8" x2="286.8" y2="528.8" stroke="#000" stroke-width="1.1" />
<g fill="#111"><circle cx="251.6" cy="523.3" r="1.05"/><circle cx="255.4" cy="523.3" r="1.05"/><circle cx="259.2" cy="523.3" r="1.05"/></g>
<text x="251.7" y="515" font-size="9.8" text-anchor="middle" font-weight="bold" fill="#000" >Hut-78</text>
<text x="228" y="633.9" font-size="8.2" text-anchor="middle" fill="#1a1a1a" >CD7<tspan font-size="5.9" dy="-3.12">KO</tspan></text>
<text x="228" y="644" font-size="8.2" text-anchor="middle" fill="#1a1a1a" >Ctrl CAR</text>
<text x="274.5" y="633.9" font-size="8.2" text-anchor="middle" fill="#1a1a1a" >CD7<tspan font-size="5.9" dy="-3.12">KO</tspan></text>
<text x="274.5" y="644" font-size="8.2" text-anchor="middle" fill="#1a1a1a" >CD7 CAR</text>
<line x1="351.9" y1="523.3" x2="351.9" y2="619.2" stroke="#000" stroke-width="1.2" />
<text x="345.9" y="622" font-size="7.9" text-anchor="end" fill="#1a1a1a" >0</text>
<text x="345.9" y="606.27" font-size="7.9" text-anchor="end" fill="#1a1a1a" >50000</text>
<text x="345.9" y="590.53" font-size="7.9" text-anchor="end" fill="#1a1a1a" >100000</text>
<text x="345.9" y="574.8" font-size="7.9" text-anchor="end" fill="#1a1a1a" >150000</text>
<text x="345.9" y="559.07" font-size="7.9" text-anchor="end" fill="#1a1a1a" >200000</text>
<text x="345.9" y="543.33" font-size="7.9" text-anchor="end" fill="#1a1a1a" >250000</text>
<text x="345.9" y="527.6" font-size="7.9" text-anchor="end" fill="#1a1a1a" >300000</text>
<path d="M349.1 619.2L351.9 619.2M349.1 603.47L351.9 603.47M349.1 587.73L351.9 587.73M349.1 572L351.9 572M349.1 556.27L351.9 556.27M349.1 540.53L351.9 540.53M349.1 524.8L351.9 524.8" stroke="#000" stroke-width="1" fill="none"/>
<rect x="360" y="542.3" width="31.4" height="76.9" fill="#cd8c7d"/>
<rect x="407" y="556.2" width="31.5" height="63" fill="#8f96c0"/>
<line x1="351.9" y1="619.2" x2="446" y2="619.2" stroke="#000" stroke-width="1.4" />
<path d="M376 619.2L376 621.8M423 619.2L423 621.8" stroke="#000" stroke-width="1" fill="none"/>
<line x1="351.9" y1="608.1" x2="444.6" y2="608.1" stroke="#050505" stroke-width="1.3" stroke-dasharray="2.4,2.1"/>
<circle cx="371.4" cy="536.8" r="2.8" fill="#a3102b"/>
<circle cx="380" cy="539.2" r="2.8" fill="#a3102b"/>
<circle cx="375.7" cy="550.6" r="2.8" fill="#a3102b"/>
<path d="M418.5,545.9 L421.25,551.4 L415.75,551.4 Z" fill="#1e2a52"/>
<path d="M427,545.9 L429.75,551.4 L424.25,551.4 Z" fill="#1e2a52"/>
<path d="M422.6,567.7 L425.35,573.2 L419.85,573.2 Z" fill="#1e2a52"/>
<line x1="374.8" y1="529" x2="424.6" y2="529" stroke="#000" stroke-width="1.1" />
<text x="399.7" y="524.7" font-size="7.6" text-anchor="middle" fill="#1a1a1a" >ns</text>
<text x="397.6" y="515" font-size="9.8" text-anchor="middle" font-weight="bold" fill="#000" >NALM-6 (CD7<tspan font-size="5.5" dy="-3.2">-</tspan><tspan dy="3.2">)</tspan></text>
<text x="376" y="633.9" font-size="8.2" text-anchor="middle" fill="#1a1a1a" >CD7<tspan font-size="5.9" dy="-3.12">KO</tspan></text>
<text x="376" y="644" font-size="8.2" text-anchor="middle" fill="#1a1a1a" >Ctrl CAR</text>
<text x="423" y="633.9" font-size="8.2" text-anchor="middle" fill="#1a1a1a" >CD7<tspan font-size="5.9" dy="-3.12">KO</tspan></text>
<text x="423" y="644" font-size="8.2" text-anchor="middle" fill="#1a1a1a" >CD7 CAR</text>
<text x="16.3" y="413" font-size="8.8" text-anchor="middle" fill="#1a1a1a" textLength="83.5" lengthAdjust="spacingAndGlyphs" transform="rotate(-90 16.3 413)">Live tumor cells / well</text>
<text x="16.3" y="570.7" font-size="8.8" text-anchor="middle" fill="#1a1a1a" textLength="83.5" lengthAdjust="spacingAndGlyphs" transform="rotate(-90 16.3 570.7)">Live tumor cells / well</text>
<text x="8.6" y="646.3" font-size="11.5" text-anchor="start" font-weight="bold" fill="#000" >E</text>
<line x1="79.8" y1="685.1" x2="79.8" y2="789" stroke="#000" stroke-width="1.2" />
<text x="73.9" y="791.75" font-size="7.7" text-anchor="end" fill="#1a1a1a" >0</text>
<text x="73.9" y="771.27" font-size="7.7" text-anchor="end" fill="#1a1a1a" >20</text>
<text x="73.9" y="750.79" font-size="7.7" text-anchor="end" fill="#1a1a1a" >40</text>
<text x="73.9" y="730.31" font-size="7.7" text-anchor="end" fill="#1a1a1a" >60</text>
<text x="73.9" y="709.83" font-size="7.7" text-anchor="end" fill="#1a1a1a" >80</text>
<text x="73.9" y="689.35" font-size="7.7" text-anchor="end" fill="#1a1a1a" >100</text>
<path d="M77 789L79.8 789M77 768.52L79.8 768.52M77 748.04L79.8 748.04M77 727.56L79.8 727.56M77 707.08L79.8 707.08M77 686.6L79.8 686.6" stroke="#000" stroke-width="1" fill="none"/>
<rect x="88.8" y="786.6" width="9.6" height="2.4" fill="#d98f84"/>
<rect x="104.8" y="782.9" width="10.3" height="6.1" fill="#9298bc"/>
<rect x="121.7" y="783.8" width="9.5" height="5.2" fill="#b9d49b"/>
<rect x="137.6" y="782.9" width="10.9" height="6.1" fill="#9b82a7"/>
<rect x="165" y="786.6" width="11" height="2.4" fill="#d98f84"/>
<rect x="181.6" y="717.5" width="11.1" height="71.5" fill="#9298bc"/>
<rect x="198.5" y="725.8" width="10.7" height="63.2" fill="#b9d49b"/>
<rect x="215" y="716.5" width="11" height="72.5" fill="#9b82a7"/>
<line x1="79.8" y1="789" x2="233.8" y2="789" stroke="#000" stroke-width="1.4" />
<path d="M117.9 789L117.9 791.6M195.4 789L195.4 791.6" stroke="#000" stroke-width="1" fill="none"/>
<circle cx="91.4" cy="786.4" r="2.1" fill="#b0122d"/>
<circle cx="95.8" cy="786.6" r="2.1" fill="#b0122d"/>
<circle cx="93.6" cy="787.6" r="2.1" fill="#b0122d"/>
<circle cx="107.9" cy="780.3" r="2.1" fill="#26407a"/>
<circle cx="112.2" cy="780.6" r="2.1" fill="#26407a"/>
<circle cx="110.5" cy="785.3" r="2.1" fill="#26407a"/>
<rect x="122.2" y="783.5" width="3.6" height="3.6" fill="#6a9e45"/>
<rect x="127.7" y="783.5" width="3.6" height="3.6" fill="#6a9e45"/>
<path d="M143,776.1 L145.3,780.12 L140.7,780.12 Z" fill="#3d2458"/>
<path d="M146,781.8 L148.3,785.83 L143.7,785.83 Z" fill="#3d2458"/>
<path d="M140,782.7 L142.3,786.73 L137.7,786.73 Z" fill="#3d2458"/>
<circle cx="168.5" cy="786.6" r="2.1" fill="#b0122d"/>
<circle cx="173" cy="787.2" r="2.1" fill="#b0122d"/>
<circle cx="184.3" cy="711.8" r="2.1" fill="#26407a"/>
<circle cx="189.7" cy="712.8" r="2.1" fill="#26407a"/>
<circle cx="187.2" cy="726.9" r="2.1" fill="#26407a"/>
<rect x="202.4" y="715.1" width="3.6" height="3.6" fill="#6a9e45"/>
<rect x="202.4" y="721.7" width="3.6" height="3.6" fill="#6a9e45"/>
<rect x="202.4" y="736.7" width="3.6" height="3.6" fill="#6a9e45"/>
<path d="M220.3,706.2 L222.6,710.23 L218,710.23 Z" fill="#3d2458"/>
<path d="M220.3,712.6 L222.6,716.62 L218,716.62 Z" fill="#3d2458"/>
<path d="M220.3,724.6 L222.6,728.62 L218,728.62 Z" fill="#3d2458"/>
<line x1="146.8" y1="675.4" x2="223" y2="675.4" stroke="#000" stroke-width="1.1" />
<g fill="#111"><circle cx="181.1" cy="669.9" r="1.05"/><circle cx="184.9" cy="669.9" r="1.05"/><circle cx="188.7" cy="669.9" r="1.05"/></g>
<line x1="123.3" y1="686.3" x2="202.4" y2="686.3" stroke="#000" stroke-width="1.1" />
<g fill="#111"><circle cx="159.05" cy="680.8" r="1.05"/><circle cx="162.85" cy="680.8" r="1.05"/><circle cx="166.65" cy="680.8" r="1.05"/></g>
<line x1="108.6" y1="700.4" x2="188.4" y2="700.4" stroke="#000" stroke-width="1.1" />
<g fill="#111"><circle cx="144.7" cy="694.9" r="1.05"/><circle cx="148.5" cy="694.9" r="1.05"/><circle cx="152.3" cy="694.9" r="1.05"/></g>
<text x="117.9" y="803.5" font-size="8.2" text-anchor="middle" fill="#1a1a1a" >CD7<tspan font-size="5.9" dy="-3.12">KO</tspan></text>
<text x="117.9" y="813.6" font-size="8.2" text-anchor="middle" fill="#1a1a1a" >Ctrl CAR</text>
<text x="195.4" y="803.5" font-size="8.2" text-anchor="middle" fill="#1a1a1a" >CD7<tspan font-size="5.9" dy="-3.12">KO</tspan></text>
<text x="195.4" y="813.6" font-size="8.2" text-anchor="middle" fill="#1a1a1a" >CD7 CAR</text>
<text x="54.5" y="735.6" font-size="8.6" text-anchor="middle" fill="#1a1a1a" textLength="93" lengthAdjust="spacingAndGlyphs" transform="rotate(-90 54.5 735.6)">TNF&#945;+ CD4+ T cells (%)</text>
<text x="157.1" y="661" font-size="10.2" text-anchor="middle" font-weight="bold" fill="#000" textLength="24" lengthAdjust="spacingAndGlyphs" >TNF<tspan font-weight="normal" font-size="10">&#945;</tspan></text>
<text x="18.8" y="741.2" font-size="8.6" text-anchor="start" fill="#1a1a1a" >CD4<tspan font-size="5.8" dy="-3.4">+</tspan></text>
<line x1="278.8" y1="685.1" x2="278.8" y2="789" stroke="#000" stroke-width="1.2" />
<text x="272.9" y="791.75" font-size="7.7" text-anchor="end" fill="#1a1a1a" >0</text>
<text x="272.9" y="771.27" font-size="7.7" text-anchor="end" fill="#1a1a1a" >10</text>
<text x="272.9" y="750.79" font-size="7.7" text-anchor="end" fill="#1a1a1a" >20</text>
<text x="272.9" y="730.31" font-size="7.7" text-anchor="end" fill="#1a1a1a" >30</text>
<text x="272.9" y="709.83" font-size="7.7" text-anchor="end" fill="#1a1a1a" >40</text>
<text x="272.9" y="689.35" font-size="7.7" text-anchor="end" fill="#1a1a1a" >50</text>
<path d="M276 789L278.8 789M276 768.52L278.8 768.52M276 748.04L278.8 748.04M276 727.56L278.8 727.56M276 707.08L278.8 707.08M276 686.6L278.8 686.6" stroke="#000" stroke-width="1" fill="none"/>
<rect x="287" y="786.6" width="10" height="2.4" fill="#d98f84"/>
<rect x="304" y="783.5" width="11.4" height="5.5" fill="#9298bc"/>
<rect x="320.3" y="784.3" width="10.1" height="4.7" fill="#b9d49b"/>
<rect x="336.6" y="783.5" width="10.8" height="5.5" fill="#9b82a7"/>
<rect x="365" y="786.6" width="11" height="2.4" fill="#d98f84"/>
<rect x="381" y="730" width="11" height="59" fill="#9298bc"/>
<rect x="397.4" y="741.3" width="11" height="47.7" fill="#b9d49b"/>
<rect x="413.8" y="724" width="11" height="65" fill="#9b82a7"/>
<line x1="278.8" y1="789" x2="432.9" y2="789" stroke="#000" stroke-width="1.4" />
<path d="M318 789L318 791.6M394.5 789L394.5 791.6" stroke="#000" stroke-width="1" fill="none"/>
<circle cx="290" cy="785.5" r="2.1" fill="#b0122d"/>
<circle cx="294" cy="787.5" r="2.1" fill="#b0122d"/>
<circle cx="292" cy="784" r="2.1" fill="#b0122d"/>
<circle cx="306.5" cy="786" r="2.1" fill="#26407a"/>
<circle cx="309.5" cy="781" r="2.1" fill="#26407a"/>
<circle cx="313" cy="781" r="2.1" fill="#26407a"/>
<rect x="321.2" y="783.2" width="3.6" height="3.6" fill="#6a9e45"/>
<rect x="326.2" y="783.2" width="3.6" height="3.6" fill="#6a9e45"/>
<path d="M340,781.7 L342.3,785.73 L337.7,785.73 Z" fill="#3d2458"/>
<path d="M343,779.7 L345.3,783.73 L340.7,783.73 Z" fill="#3d2458"/>
<path d="M345,781.7 L347.3,785.73 L342.7,785.73 Z" fill="#3d2458"/>
<circle cx="368" cy="786.6" r="2.1" fill="#b0122d"/>
<circle cx="372" cy="787" r="2.1" fill="#b0122d"/>
<circle cx="386.4" cy="719.1" r="2.1" fill="#26407a"/>
<circle cx="386.4" cy="729.2" r="2.1" fill="#26407a"/>
<circle cx="386.4" cy="742.5" r="2.1" fill="#26407a"/>
<rect x="398.2" y="731.7" width="3.6" height="3.6" fill="#6a9e45"/>
<rect x="404" y="736.1" width="3.6" height="3.6" fill="#6a9e45"/>
<rect x="401.4" y="750.5" width="3.6" height="3.6" fill="#6a9e45"/>
<path d="M419.6,709 L421.9,713.02 L417.3,713.02 Z" fill="#3d2458"/>
<path d="M419.6,716.3 L421.9,720.33 L417.3,720.33 Z" fill="#3d2458"/>
<path d="M419.6,741.3 L421.9,745.33 L417.3,745.33 Z" fill="#3d2458"/>
<line x1="344.5" y1="675.5" x2="422.5" y2="675.5" stroke="#000" stroke-width="1.1" />
<g fill="#111"><circle cx="381.6" cy="670" r="1.05"/><circle cx="385.4" cy="670" r="1.05"/></g>
<line x1="322" y1="686.3" x2="402" y2="686.3" stroke="#000" stroke-width="1.1" />
<g fill="#111"><circle cx="360.1" cy="680.8" r="1.05"/><circle cx="363.9" cy="680.8" r="1.05"/></g>
<line x1="307.2" y1="700.3" x2="387.6" y2="700.3" stroke="#000" stroke-width="1.1" />
<g fill="#111"><circle cx="345.5" cy="694.8" r="1.05"/><circle cx="349.3" cy="694.8" r="1.05"/></g>
<text x="318" y="803.5" font-size="8.2" text-anchor="middle" fill="#1a1a1a" >CD7<tspan font-size="5.9" dy="-3.12">KO</tspan></text>
<text x="318" y="813.6" font-size="8.2" text-anchor="middle" fill="#1a1a1a" >Ctrl CAR</text>
<text x="394.5" y="803.5" font-size="8.2" text-anchor="middle" fill="#1a1a1a" >CD7<tspan font-size="5.9" dy="-3.12">KO</tspan></text>
<text x="394.5" y="813.6" font-size="8.2" text-anchor="middle" fill="#1a1a1a" >CD7 CAR</text>
<text x="258" y="736.5" font-size="8.6" text-anchor="middle" fill="#1a1a1a" textLength="90" lengthAdjust="spacingAndGlyphs" transform="rotate(-90 258 736.5)">IFN&#947;+ CD4+ T cells (%)</text>
<text x="356.2" y="661" font-size="10.2" text-anchor="middle" font-weight="bold" fill="#000" textLength="19.3" lengthAdjust="spacingAndGlyphs" >IFN<tspan font-weight="normal" font-size="10">&#947;</tspan></text>
<rect x="444.4" y="692.5" width="11.6" height="6" fill="#d98f84"/>
<text x="458.8" y="698.2" font-size="7.8" text-anchor="start" fill="#1a1a1a" >Media</text>
<rect x="444.4" y="703.8" width="11.6" height="6" fill="#9298bc"/>
<text x="458.8" y="709.5" font-size="7.8" text-anchor="start" fill="#1a1a1a" >CCRF</text>
<rect x="444.4" y="715.1" width="11.6" height="6" fill="#b9d49b"/>
<text x="458.8" y="720.8" font-size="7.8" text-anchor="start" fill="#1a1a1a" >Hut 78</text>
<rect x="444.4" y="726.4" width="11.6" height="6" fill="#9b82a7"/>
<text x="458.8" y="732.1" font-size="7.8" text-anchor="start" fill="#1a1a1a" >SUP-T1</text>
<line x1="79.8" y1="846" x2="79.8" y2="948.7" stroke="#000" stroke-width="1.2" />
<text x="73.9" y="951.45" font-size="7.7" text-anchor="end" fill="#1a1a1a" >0</text>
<text x="73.9" y="917.72" font-size="7.7" text-anchor="end" fill="#1a1a1a" >20</text>
<text x="73.9" y="883.98" font-size="7.7" text-anchor="end" fill="#1a1a1a" >40</text>
<text x="73.9" y="850.25" font-size="7.7" text-anchor="end" fill="#1a1a1a" >60</text>
<path d="M77 948.7L79.8 948.7M77 914.97L79.8 914.97M77 881.23L79.8 881.23M77 847.5L79.8 847.5" stroke="#000" stroke-width="1" fill="none"/>
<rect x="104.8" y="947.5" width="10.3" height="1.2" fill="#9298bc"/>
<rect x="121.7" y="947.8" width="9.5" height="0.9" fill="#b9d49b"/>
<rect x="137.6" y="948" width="10.9" height="0.7" fill="#9b82a7"/>
<rect x="180.2" y="885.2" width="11.3" height="63.5" fill="#9298bc"/>
<rect x="196" y="888.3" width="11.8" height="60.4" fill="#b9d49b"/>
<rect x="212.5" y="874.5" width="11.3" height="74.2" fill="#9b82a7"/>
<line x1="79.8" y1="948.7" x2="231.5" y2="948.7" stroke="#000" stroke-width="1.4" />
<path d="M117.9 948.7L117.9 951.3M195.4 948.7L195.4 951.3" stroke="#000" stroke-width="1" fill="none"/>
<circle cx="91.5" cy="948.4" r="2.1" fill="#b0122d"/>
<circle cx="95.5" cy="948.4" r="2.1" fill="#b0122d"/>
<circle cx="107.8" cy="943" r="2.1" fill="#26407a"/>
<circle cx="110.5" cy="948.2" r="2.1" fill="#26407a"/>
<circle cx="113" cy="948.4" r="2.1" fill="#26407a"/>
<rect x="122.2" y="946.4" width="3.6" height="3.6" fill="#6a9e45"/>
<rect x="125.2" y="946.4" width="3.6" height="3.6" fill="#6a9e45"/>
<rect x="128.2" y="946.4" width="3.6" height="3.6" fill="#6a9e45"/>
<path d="M140,945.4 L142.3,949.43 L137.7,949.43 Z" fill="#3d2458"/>
<path d="M143,946.1 L145.3,950.12 L140.7,950.12 Z" fill="#3d2458"/>
<path d="M146,945.4 L148.3,949.43 L143.7,949.43 Z" fill="#3d2458"/>
<circle cx="168" cy="948.4" r="2.1" fill="#b0122d"/>
<circle cx="172" cy="948.4" r="2.1" fill="#b0122d"/>
<circle cx="186" cy="877.8" r="2.1" fill="#26407a"/>
<circle cx="186" cy="885.2" r="2.1" fill="#26407a"/>
<circle cx="186" cy="892.6" r="2.1" fill="#26407a"/>
<rect x="200.5" y="876.7" width="3.6" height="3.6" fill="#6a9e45"/>
<rect x="197.4" y="892.7" width="3.6" height="3.6" fill="#6a9e45"/>
<rect x="203" y="889.6" width="3.6" height="3.6" fill="#6a9e45"/>
<path d="M215.5,866 L217.8,870.02 L213.2,870.02 Z" fill="#3d2458"/>
<path d="M221.7,870 L224,874.02 L219.4,874.02 Z" fill="#3d2458"/>
<path d="M218.6,879.9 L220.9,883.93 L216.3,883.93 Z" fill="#3d2458"/>
<line x1="145.4" y1="839.5" x2="221.7" y2="839.5" stroke="#000" stroke-width="1.1" />
<g fill="#111"><circle cx="179.75" cy="834" r="1.05"/><circle cx="183.55" cy="834" r="1.05"/><circle cx="187.35" cy="834" r="1.05"/></g>
<line x1="123.2" y1="850.5" x2="201.4" y2="850.5" stroke="#000" stroke-width="1.1" />
<g fill="#111"><circle cx="158.5" cy="845" r="1.05"/><circle cx="162.3" cy="845" r="1.05"/><circle cx="166.1" cy="845" r="1.05"/></g>
<line x1="108.5" y1="861.4" x2="187" y2="861.4" stroke="#000" stroke-width="1.1" />
<g fill="#111"><circle cx="143.95" cy="855.9" r="1.05"/><circle cx="147.75" cy="855.9" r="1.05"/><circle cx="151.55" cy="855.9" r="1.05"/></g>
<text x="117.9" y="961.9" font-size="8.2" text-anchor="middle" fill="#1a1a1a" >CD7<tspan font-size="5.9" dy="-3.12">KO</tspan></text>
<text x="117.9" y="972" font-size="8.2" text-anchor="middle" fill="#1a1a1a" >Ctrl CAR</text>
<text x="195.4" y="961.9" font-size="8.2" text-anchor="middle" fill="#1a1a1a" >CD7<tspan font-size="5.9" dy="-3.12">KO</tspan></text>
<text x="195.4" y="972" font-size="8.2" text-anchor="middle" fill="#1a1a1a" >CD7 CAR</text>
<text x="58.5" y="896.2" font-size="8.6" text-anchor="middle" fill="#1a1a1a" textLength="91.6" lengthAdjust="spacingAndGlyphs" transform="rotate(-90 58.5 896.2)">TNF&#945;+ CD8+ T cells (%)</text>
<text x="23.5" y="901.8" font-size="8.6" text-anchor="start" fill="#1a1a1a" >CD8<tspan font-size="5.8" dy="-3.4">+</tspan></text>
<line x1="279" y1="842.2" x2="279" y2="948.5" stroke="#000" stroke-width="1.2" />
<text x="273.1" y="951.25" font-size="7.7" text-anchor="end" fill="#1a1a1a" >0</text>
<text x="273.1" y="925.05" font-size="7.7" text-anchor="end" fill="#1a1a1a" >5</text>
<text x="273.1" y="898.85" font-size="7.7" text-anchor="end" fill="#1a1a1a" >10</text>
<text x="273.1" y="872.65" font-size="7.7" text-anchor="end" fill="#1a1a1a" >15</text>
<text x="273.1" y="846.45" font-size="7.7" text-anchor="end" fill="#1a1a1a" >20</text>
<path d="M276.2 948.5L279 948.5M276.2 922.3L279 922.3M276.2 896.1L279 896.1M276.2 869.9L279 869.9M276.2 843.7L279 843.7" stroke="#000" stroke-width="1" fill="none"/>
<rect x="287" y="947" width="10" height="1.5" fill="#d98f84"/>
<rect x="304" y="946.5" width="11.4" height="2" fill="#9298bc"/>
<rect x="321" y="933" width="12.3" height="15.5" fill="#b9d49b"/>
<rect x="338.8" y="946" width="11.7" height="2.5" fill="#9b82a7"/>
<rect x="365" y="948" width="11" height="0.5" fill="#d98f84"/>
<rect x="383.4" y="884" width="12" height="64.5" fill="#9298bc"/>
<rect x="399.8" y="885.8" width="12.8" height="62.7" fill="#b9d49b"/>
<rect x="417.3" y="888.3" width="11.7" height="60.2" fill="#9b82a7"/>
<line x1="279" y1="948.5" x2="432.7" y2="948.5" stroke="#000" stroke-width="1.4" />
<path d="M318.5 948.5L318.5 951.1M394.5 948.5L394.5 951.1" stroke="#000" stroke-width="1" fill="none"/>
<circle cx="290" cy="947.2" r="2.1" fill="#b0122d"/>
<circle cx="294" cy="947.2" r="2.1" fill="#b0122d"/>
<circle cx="307.3" cy="943" r="2.1" fill="#26407a"/>
<circle cx="310.2" cy="948.8" r="2.1" fill="#26407a"/>
<circle cx="313" cy="948.5" r="2.1" fill="#26407a"/>
<rect x="325.3" y="917.8" width="3.6" height="3.6" fill="#6a9e45"/>
<rect x="322.2" y="937.8" width="3.6" height="3.6" fill="#6a9e45"/>
<rect x="328" y="937.4" width="3.6" height="3.6" fill="#6a9e45"/>
<path d="M344.3,940.1 L346.6,944.12 L342,944.12 Z" fill="#3d2458"/>
<path d="M341,945.7 L343.3,949.73 L338.7,949.73 Z" fill="#3d2458"/>
<path d="M347,944.7 L349.3,948.73 L344.7,948.73 Z" fill="#3d2458"/>
<circle cx="369" cy="948" r="2.1" fill="#b0122d"/>
<circle cx="373" cy="948" r="2.1" fill="#b0122d"/>
<circle cx="388.8" cy="868.6" r="2.1" fill="#26407a"/>
<circle cx="388.8" cy="884.7" r="2.1" fill="#26407a"/>
<circle cx="388.8" cy="897.8" r="2.1" fill="#26407a"/>
<rect x="400.9" y="875.6" width="3.6" height="3.6" fill="#6a9e45"/>
<rect x="407.2" y="876.7" width="3.6" height="3.6" fill="#6a9e45"/>
<rect x="404.2" y="899.3" width="3.6" height="3.6" fill="#6a9e45"/>
<path d="M421.7,869.9 L424,873.93 L419.4,873.93 Z" fill="#3d2458"/>
<path d="M419.9,895.5 L422.2,899.52 L417.6,899.52 Z" fill="#3d2458"/>
<path d="M426.1,893.3 L428.4,897.33 L423.8,897.33 Z" fill="#3d2458"/>
<line x1="349.4" y1="837.9" x2="424.6" y2="837.9" stroke="#000" stroke-width="1.1" />
<g fill="#111"><circle cx="385.1" cy="832.4" r="1.05"/><circle cx="388.9" cy="832.4" r="1.05"/></g>
<line x1="325" y1="850.9" x2="406.4" y2="850.9" stroke="#000" stroke-width="1.1" />
<g fill="#111"><circle cx="363.8" cy="845.4" r="1.05"/><circle cx="367.6" cy="845.4" r="1.05"/></g>
<line x1="308.5" y1="863.5" x2="388.8" y2="863.5" stroke="#000" stroke-width="1.1" />
<g fill="#111"><circle cx="346.75" cy="858" r="1.05"/><circle cx="350.55" cy="858" r="1.05"/></g>
<text x="318.5" y="961.9" font-size="8.2" text-anchor="middle" fill="#1a1a1a" >CD7<tspan font-size="5.9" dy="-3.12">KO</tspan></text>
<text x="318.5" y="972" font-size="8.2" text-anchor="middle" fill="#1a1a1a" >Ctrl CAR</text>
<text x="394.5" y="961.9" font-size="8.2" text-anchor="middle" fill="#1a1a1a" >CD7<tspan font-size="5.9" dy="-3.12">KO</tspan></text>
<text x="394.5" y="972" font-size="8.2" text-anchor="middle" fill="#1a1a1a" >CD7 CAR</text>
<text x="258" y="895" font-size="8.6" text-anchor="middle" fill="#1a1a1a" textLength="88.4" lengthAdjust="spacingAndGlyphs" transform="rotate(-90 258 895)">IFN&#947;+ CD8+ T cells (%)</text></svg></body></html>
